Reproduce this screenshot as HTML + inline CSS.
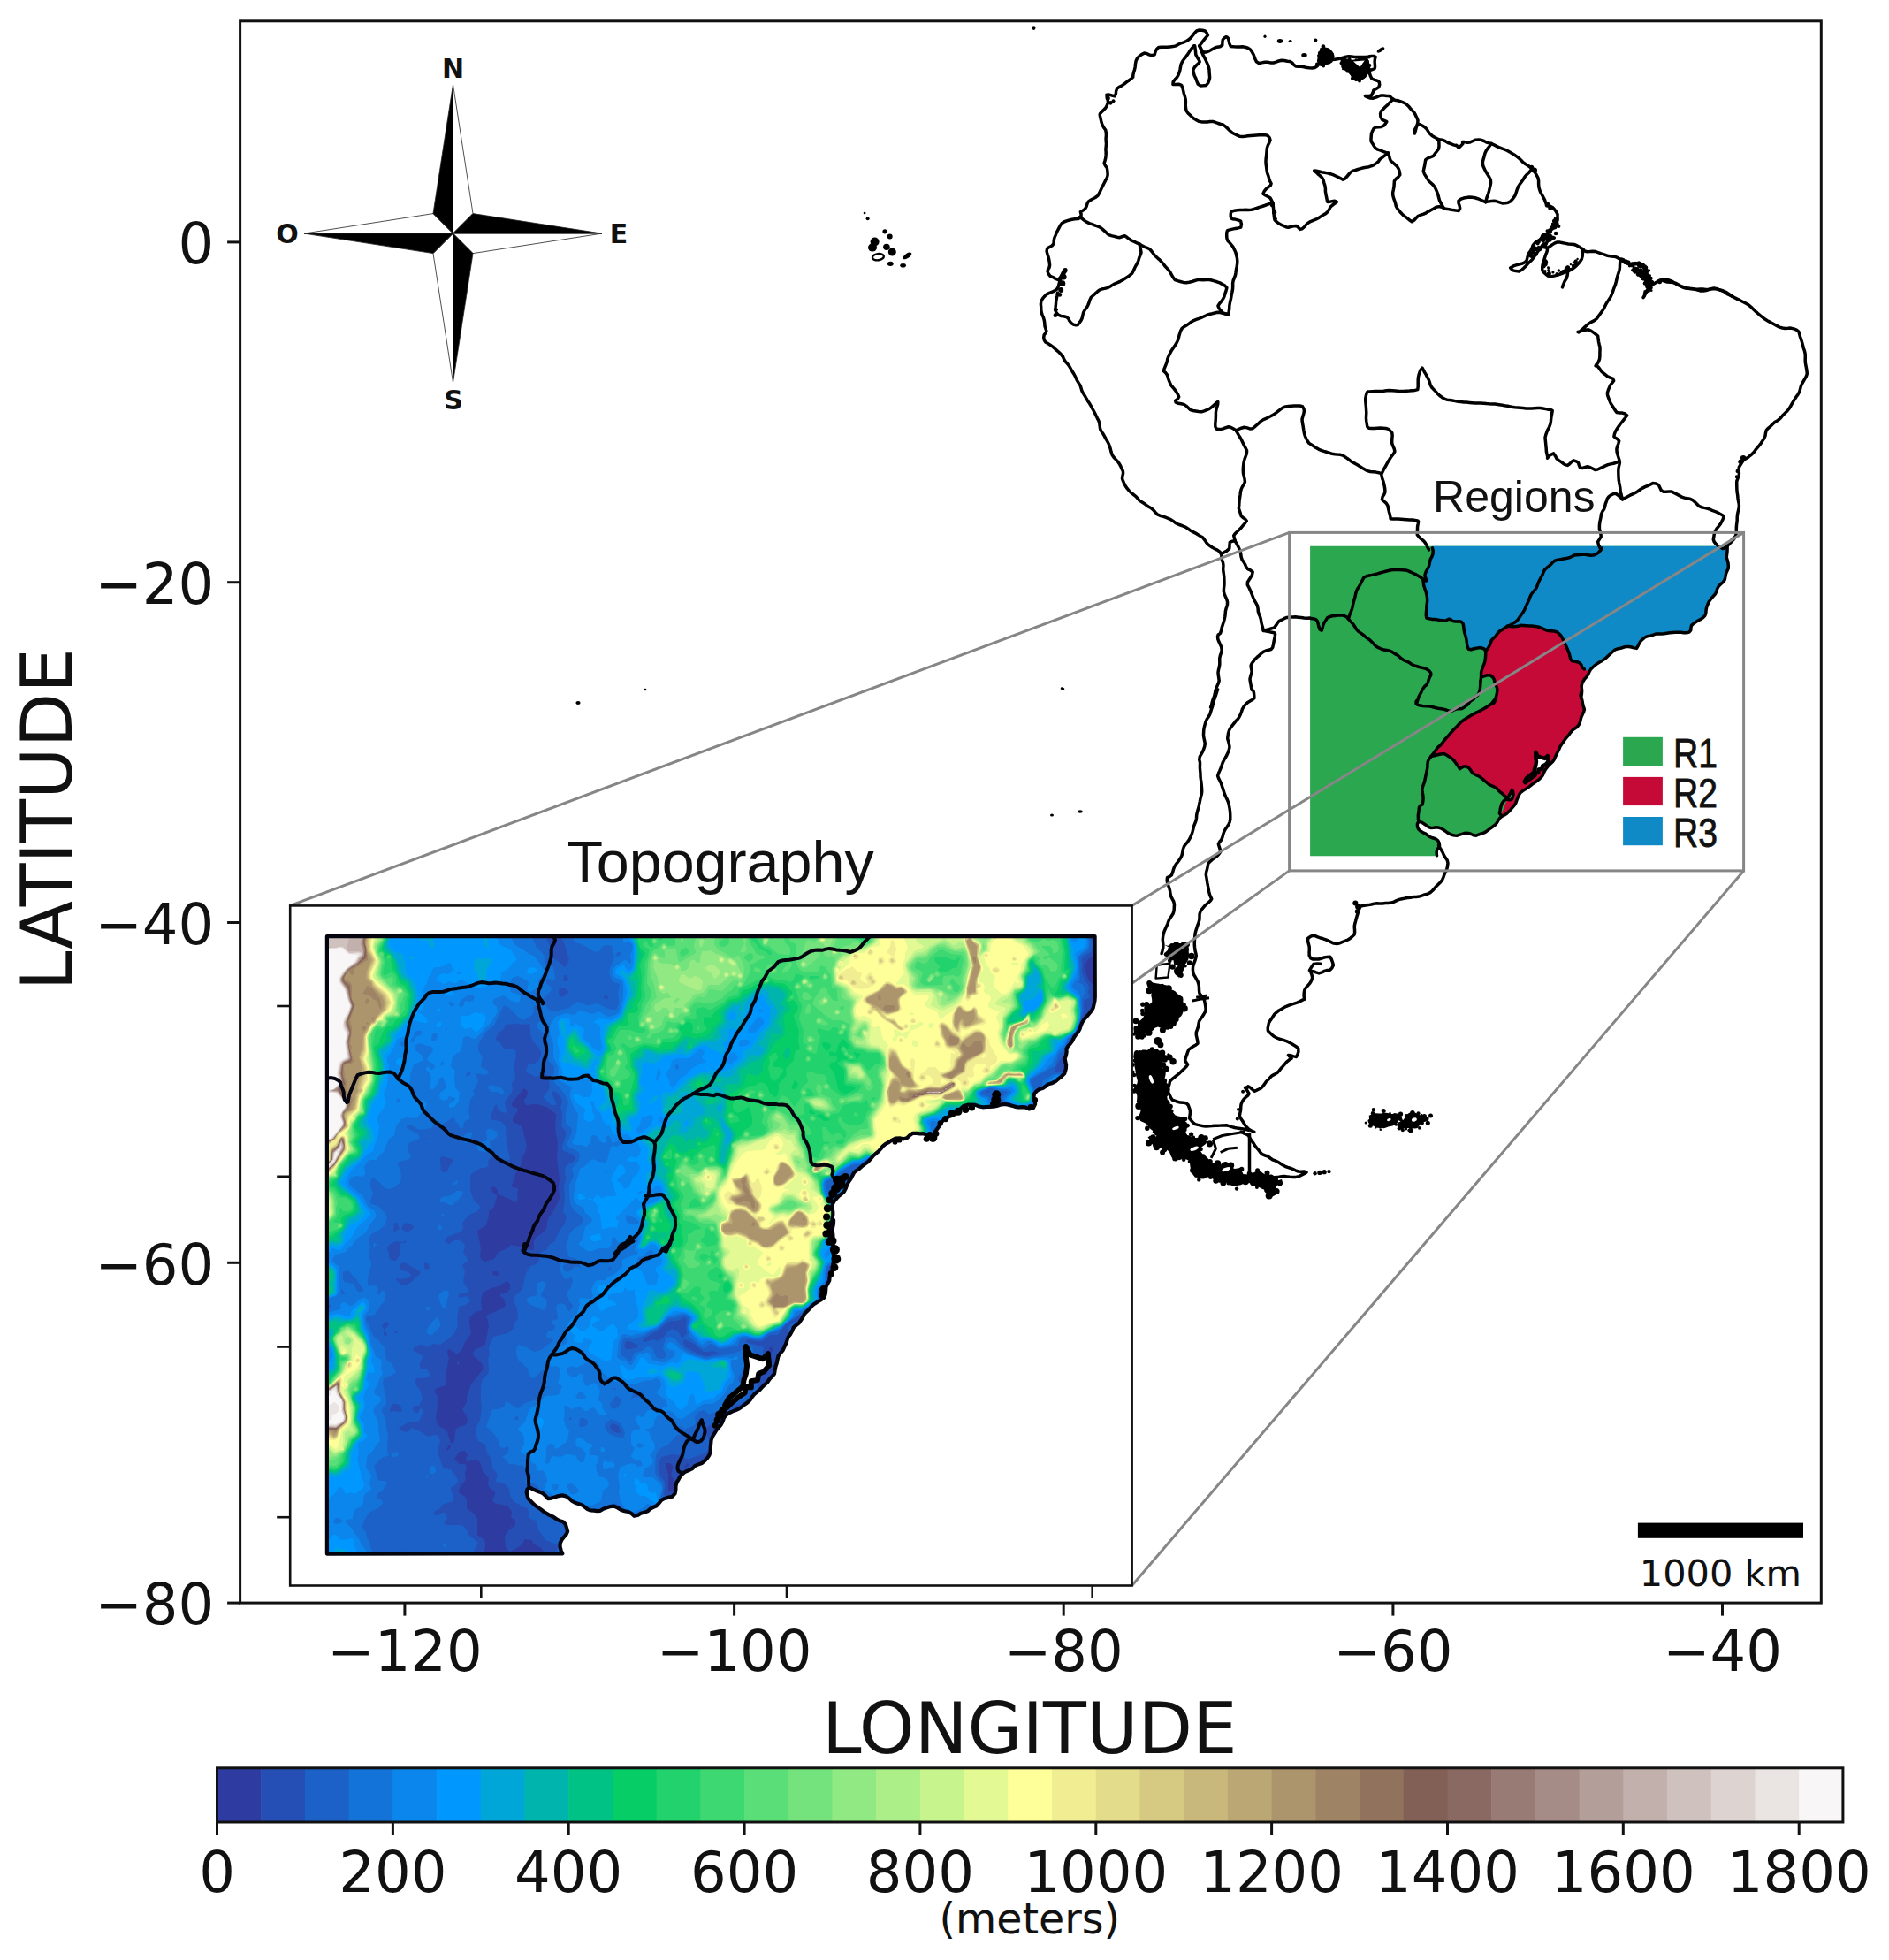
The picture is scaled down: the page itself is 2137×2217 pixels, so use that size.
<!DOCTYPE html>
<html><head><meta charset="utf-8"><title>Topography and Regions map</title>
<style>html,body{margin:0;padding:0;background:#fff}svg{display:block}.dj{font-family:"DejaVu Sans","Liberation Sans",sans-serif}.ar{font-family:"Liberation Sans","DejaVu Sans",sans-serif}</style></head><body>
<svg width="2137" height="2217" viewBox="0 0 2137 2217">
<rect width="2137" height="2217" fill="#fff"/>
<g id="regions"><polygon points="1482.1,617.8 1954.1,617.8 1954.1,617.8 1954.1,620.9 1954.0,624.1 1953.6,627.3 1953.2,630.3 1954.1,633.2 1954.9,636.3 1955.3,639.5 1955.2,643.1 1953.7,646.2 1952.5,649.2 1951.9,652.5 1951.2,655.8 1949.3,658.5 1946.7,660.7 1944.3,663.1 1942.7,665.9 1941.8,669.0 1940.5,671.9 1938.3,674.3 1936.2,676.7 1934.3,679.3 1932.6,681.8 1931.6,684.6 1930.5,687.5 1930.0,690.6 1929.8,693.7 1928.9,696.3 1926.7,698.5 1924.1,700.4 1921.3,701.8 1918.6,703.5 1916.0,705.2 1913.6,707.4 1912.9,710.2 1912.8,712.8 1910.9,715.1 1908.0,715.8 1904.8,715.7 1901.7,715.3 1898.5,715.2 1895.3,715.2 1892.1,715.4 1888.9,715.8 1885.7,716.3 1882.6,716.8 1879.4,717.1 1876.2,717.0 1873.1,717.1 1870.1,718.2 1867.0,719.1 1863.8,719.7 1860.8,721.0 1858.3,723.1 1856.0,725.3 1854.4,727.9 1853.1,730.6 1851.5,733.4 1848.6,732.9 1845.6,732.0 1842.5,731.6 1839.5,731.4 1836.5,732.3 1833.4,733.2 1830.2,733.8 1827.1,734.9 1824.6,737.0 1822.2,739.2 1819.9,741.3 1817.5,743.6 1815.0,745.6 1812.3,747.4 1809.5,749.0 1806.8,750.7 1804.3,752.6 1801.9,754.7 1799.6,757.0 1798.0,759.8 1796.7,762.8 1794.9,765.6 1792.8,767.8 1791.2,770.2 1789.8,773.0 1789.1,776.1 1789.4,779.3 1789.5,782.5 1788.7,785.6 1788.6,788.8 1789.5,791.4 1789.0,790.8 1788.9,788.0 1789.4,784.8 1789.6,781.8 1789.7,781.1 1788.6,783.6 1788.1,786.8 1789.2,789.8 1790.0,792.9 1790.5,796.1 1791.4,799.2 1792.4,802.2 1791.6,805.3 1790.2,808.2 1788.9,810.9 1788.1,814.2 1787.4,817.2 1786.0,820.0 1783.9,822.6 1781.3,824.2 1778.8,826.1 1776.7,828.6 1774.8,831.3 1772.7,833.7 1770.6,836.2 1768.8,838.9 1766.9,841.5 1765.1,844.2 1763.9,847.2 1762.5,850.0 1761.0,852.8 1759.7,855.7 1758.5,858.7 1756.6,861.4 1754.2,863.7 1751.9,865.9 1749.9,868.3 1748.0,870.9 1746.6,873.8 1745.3,876.9 1743.3,879.5 1740.9,881.6 1738.4,883.6 1735.7,885.5 1733.1,887.4 1730.6,889.4 1728.0,891.3 1725.3,892.9 1722.7,894.6 1720.0,896.6 1718.3,899.4 1717.0,902.4 1715.8,905.4 1714.8,908.3 1713.2,910.9 1711.1,913.2 1709.1,915.6 1706.9,918.1 1704.6,920.3 1701.9,922.0 1699.0,923.4 1696.6,925.4 1694.9,928.2 1693.3,930.9 1691.2,933.2 1688.8,935.0 1686.3,936.8 1683.8,938.7 1681.3,940.6 1678.5,942.1 1675.6,943.0 1672.7,944.0 1670.0,945.2 1667.2,944.8 1664.3,943.5 1661.2,942.4 1657.8,942.3 1654.7,943.1 1651.6,944.2 1648.6,945.2 1645.4,945.0 1642.2,944.3 1639.3,942.9 1636.6,941.2 1634.0,939.3 1631.2,937.5 1628.2,936.3 1624.9,935.8 1621.8,936.3 1618.6,936.4 1615.9,935.5 1613.6,933.6 1610.9,931.7 1608.1,930.1 1604.9,929.2 1603.4,931.9 1603.5,934.9 1604.5,937.8 1606.9,940.0 1609.5,941.6 1612.3,942.8 1615.0,944.7 1617.6,946.6 1620.6,947.8 1623.9,948.7 1626.6,950.7 1628.2,953.6 1628.5,956.5 1627.0,959.4 1625.4,961.9 1625.1,964.7 1625.5,967.8 1625.5,968.3 1482.1,968.3" fill="#2ba84f"/>
<polygon points="1620.3,617.8 1954.1,617.8 1954.1,617.8 1954.1,620.9 1954.0,624.1 1953.6,627.3 1953.2,630.3 1954.1,633.2 1954.9,636.3 1955.3,639.5 1955.2,643.1 1953.7,646.2 1952.5,649.2 1951.9,652.5 1951.2,655.8 1949.3,658.5 1946.7,660.7 1944.3,663.1 1942.7,665.9 1941.8,669.0 1940.5,671.9 1938.3,674.3 1936.2,676.7 1934.3,679.3 1932.6,681.8 1931.6,684.6 1930.5,687.5 1930.0,690.6 1929.8,693.7 1928.9,696.3 1926.7,698.5 1924.1,700.4 1921.3,701.8 1918.6,703.5 1916.0,705.2 1913.6,707.4 1912.9,710.2 1912.8,712.8 1910.9,715.1 1908.0,715.8 1904.8,715.7 1901.7,715.3 1898.5,715.2 1895.3,715.2 1892.1,715.4 1888.9,715.8 1885.7,716.3 1882.6,716.8 1879.4,717.1 1876.2,717.0 1873.1,717.1 1870.1,718.2 1867.0,719.1 1863.8,719.7 1860.8,721.0 1858.3,723.1 1856.0,725.3 1854.4,727.9 1853.1,730.6 1851.5,733.4 1848.6,732.9 1845.6,732.0 1842.5,731.6 1839.5,731.4 1836.5,732.3 1833.4,733.2 1830.2,733.8 1827.1,734.9 1824.6,737.0 1822.2,739.2 1819.9,741.3 1817.5,743.6 1815.0,745.6 1812.3,747.4 1809.5,749.0 1806.8,750.7 1804.3,752.6 1801.9,754.7 1799.6,757.0 1798.0,759.8 1796.7,762.8 1794.9,765.6 1792.8,767.8 1791.2,770.2 1789.8,773.0 1789.1,776.1 1789.4,779.3 1789.5,782.5 1788.7,785.6 1788.6,788.8 1789.5,791.4 1789.0,790.8 1788.9,788.0 1789.4,784.8 1789.6,781.8 1789.7,781.1 1788.6,783.6 1788.1,786.8 1789.2,789.8 1790.0,792.9 1790.5,796.1 1791.4,799.2 1792.4,802.2 1791.6,805.3 1790.2,808.2 1788.9,810.9 1788.1,814.2 1787.4,817.2 1786.0,820.0 1783.9,822.6 1781.3,824.2 1778.8,826.1 1776.7,828.6 1774.8,831.3 1772.7,833.7 1770.6,836.2 1768.8,838.9 1766.9,841.5 1765.1,844.2 1763.9,847.2 1762.5,850.0 1761.0,852.8 1759.7,855.7 1758.5,858.7 1756.6,861.4 1754.2,863.7 1751.9,865.9 1749.9,868.3 1748.0,870.9 1746.6,873.8 1745.3,876.9 1743.3,879.5 1740.9,881.6 1738.4,883.6 1735.7,885.5 1733.1,887.4 1730.6,889.4 1728.0,891.3 1725.3,892.9 1722.7,894.6 1720.0,896.6 1718.3,899.4 1717.0,902.4 1715.8,905.4 1714.8,908.3 1713.2,910.9 1711.1,913.2 1709.1,915.6 1706.9,918.1 1704.6,920.3 1701.9,922.0 1699.0,923.4 1699.0,923.4 1698.2,922.2 1696.4,920.2 1697.0,917.5 1697.4,914.6 1698.1,911.6 1699.2,908.6 1701.1,906.1 1703.3,904.1 1706.4,904.2 1704.1,901.9 1701.6,899.8 1699.3,897.5 1697.0,895.9 1695.0,893.7 1692.7,891.2 1689.7,889.7 1686.7,888.5 1684.0,886.9 1681.6,884.8 1679.2,882.9 1676.8,880.8 1674.3,878.8 1671.4,877.3 1668.5,876.0 1665.9,874.4 1664.2,871.9 1662.2,869.2 1659.2,867.0 1655.7,867.0 1652.9,868.7 1651.5,869.7 1650.3,867.8 1648.4,865.1 1646.5,862.5 1644.6,859.9 1642.1,857.8 1639.5,855.9 1636.8,854.2 1634.1,852.8 1631.4,852.7 1628.3,853.2 1625.3,854.0 1622.2,854.7 1619.0,855.5 1619.0,855.5 1621.1,852.9 1623.0,850.3 1624.9,847.7 1626.9,845.2 1629.3,843.2 1631.5,840.7 1633.4,838.0 1635.5,835.5 1637.7,833.1 1639.8,830.6 1641.9,828.2 1644.1,825.8 1646.4,823.5 1648.7,821.2 1650.9,818.8 1653.2,816.4 1655.8,814.5 1658.5,812.7 1661.3,810.9 1664.1,809.2 1666.9,807.6 1669.8,806.2 1672.7,804.8 1675.6,803.2 1678.4,801.7 1681.3,800.1 1684.0,798.3 1686.6,796.5 1689.3,794.9 1691.3,792.5 1692.5,790.3 1690.7,791.7 1688.6,794.1 1687.1,796.5 1689.2,796.1 1691.0,793.5 1691.9,790.4 1692.7,787.2 1693.4,784.0 1693.9,780.7 1693.4,777.5 1691.9,774.6 1690.9,771.6 1690.3,768.4 1688.5,765.7 1685.8,763.8 1682.4,763.8 1679.2,764.7 1676.2,765.8 1674.9,770.5 1675.4,767.4 1675.6,764.1 1675.6,760.7 1676.4,757.6 1677.5,754.7 1678.7,751.7 1679.7,748.7 1680.3,745.6 1680.6,742.5 1680.7,739.5 1680.8,736.6 1679.2,734.2 1676.4,732.9 1673.5,732.6 1670.4,733.2 1667.4,733.8 1664.3,734.7 1661.4,734.2 1660.0,731.2 1659.5,727.9 1659.1,724.7 1658.5,721.6 1657.7,718.5 1656.7,715.4 1656.1,712.3 1655.8,709.1 1655.3,705.8 1653.1,703.2 1650.0,702.7 1646.8,703.0 1643.4,702.5 1641.0,700.5 1638.8,700.2 1636.0,701.7 1632.6,702.0 1629.4,701.6 1626.2,700.9 1623.1,700.6 1619.9,700.4 1616.7,699.8 1613.8,699.0 1613.3,696.3 1613.4,693.1 1613.7,689.9 1613.8,686.7 1614.2,683.5 1614.6,680.3 1614.6,677.1 1614.2,673.9 1613.5,670.8 1612.6,667.8 1611.5,664.8 1610.6,661.7 1610.2,658.5 1610.1,655.2 1612.7,657.0 1613.8,656.7 1612.8,653.8 1611.9,650.9 1612.6,648.1 1614.0,645.1 1615.8,642.2 1616.9,639.0 1617.5,635.6 1618.3,632.3 1620.0,629.4 1621.1,626.1 1621.2,622.7" fill="#0f8ac7"/>
<polygon points="1705.1,708.1 1708.3,708.5 1711.6,708.7 1714.8,708.6 1717.8,708.3 1720.1,707.3 1723.4,707.4 1726.7,707.7 1730.0,708.0 1733.3,708.1 1736.5,708.4 1739.7,709.0 1742.9,710.0 1746.0,711.3 1749.0,712.7 1752.0,713.6 1755.2,713.8 1758.4,714.1 1761.4,714.8 1763.7,716.8 1765.9,719.0 1767.4,721.7 1768.8,724.5 1770.1,727.4 1771.5,730.4 1772.8,733.3 1774.1,736.3 1775.3,739.3 1776.0,742.5 1776.8,745.5 1778.2,747.5 1781.1,748.1 1784.3,748.7 1787.1,750.0 1788.9,751.9 1789.8,754.8 1792.3,756.9 1798.0,759.8 1796.7,762.8 1794.9,765.6 1792.8,767.8 1791.2,770.2 1789.8,773.0 1789.1,776.1 1789.4,779.3 1789.5,782.5 1788.7,785.6 1788.6,788.8 1789.5,791.4 1789.0,790.8 1788.9,788.0 1789.4,784.8 1789.6,781.8 1789.7,781.1 1788.6,783.6 1788.1,786.8 1789.2,789.8 1790.0,792.9 1790.5,796.1 1791.4,799.2 1792.4,802.2 1791.6,805.3 1790.2,808.2 1788.9,810.9 1788.1,814.2 1787.4,817.2 1786.0,820.0 1783.9,822.6 1781.3,824.2 1778.8,826.1 1776.7,828.6 1774.8,831.3 1772.7,833.7 1770.6,836.2 1768.8,838.9 1766.9,841.5 1765.1,844.2 1763.9,847.2 1762.5,850.0 1761.0,852.8 1759.7,855.7 1758.5,858.7 1756.6,861.4 1754.2,863.7 1751.9,865.9 1749.9,868.3 1748.0,870.9 1746.6,873.8 1745.3,876.9 1743.3,879.5 1740.9,881.6 1738.4,883.6 1735.7,885.5 1733.1,887.4 1730.6,889.4 1728.0,891.3 1725.3,892.9 1722.7,894.6 1720.0,896.6 1718.3,899.4 1717.0,902.4 1715.8,905.4 1714.8,908.3 1713.2,910.9 1711.1,913.2 1709.1,915.6 1706.9,918.1 1704.6,920.3 1701.9,922.0 1699.0,923.4 1699.0,923.4 1698.2,922.2 1696.4,920.2 1697.0,917.5 1697.4,914.6 1698.1,911.6 1699.2,908.6 1701.1,906.1 1703.3,904.1 1706.4,904.2 1704.1,901.9 1701.6,899.8 1699.3,897.5 1697.0,895.9 1695.0,893.7 1692.7,891.2 1689.7,889.7 1686.7,888.5 1684.0,886.9 1681.6,884.8 1679.2,882.9 1676.8,880.8 1674.3,878.8 1671.4,877.3 1668.5,876.0 1665.9,874.4 1664.2,871.9 1662.2,869.2 1659.2,867.0 1655.7,867.0 1652.9,868.7 1651.5,869.7 1650.3,867.8 1648.4,865.1 1646.5,862.5 1644.6,859.9 1642.1,857.8 1639.5,855.9 1636.8,854.2 1634.1,852.8 1631.4,852.7 1628.3,853.2 1625.3,854.0 1622.2,854.7 1619.0,855.5 1619.0,855.5 1621.1,852.9 1623.0,850.3 1624.9,847.7 1626.9,845.2 1629.3,843.2 1631.5,840.7 1633.4,838.0 1635.5,835.5 1637.7,833.1 1639.8,830.6 1641.9,828.2 1644.1,825.8 1646.4,823.5 1648.7,821.2 1650.9,818.8 1653.2,816.4 1655.8,814.5 1658.5,812.7 1661.3,810.9 1664.1,809.2 1666.9,807.6 1669.8,806.2 1672.7,804.8 1675.6,803.2 1678.4,801.7 1681.3,800.1 1684.0,798.3 1686.6,796.5 1689.3,794.9 1691.3,792.5 1692.5,790.3 1690.7,791.7 1688.6,794.1 1687.1,796.5 1689.2,796.1 1691.0,793.5 1691.9,790.4 1692.7,787.2 1693.4,784.0 1693.9,780.7 1693.4,777.5 1691.9,774.6 1690.9,771.6 1690.3,768.4 1688.5,765.7 1685.8,763.8 1682.4,763.8 1679.2,764.7 1676.2,765.8 1674.9,770.5 1675.4,767.4 1675.6,764.1 1675.6,760.7 1676.4,757.6 1677.5,754.7 1678.7,751.7 1679.7,748.7 1680.3,745.6 1680.6,742.5 1680.7,739.5 1680.8,736.6 1681.7,735.5 1683.6,732.8 1685.1,730.0 1686.3,727.0 1687.5,724.0 1689.7,721.7 1692.1,719.5 1693.9,716.8 1695.9,714.5 1698.5,712.7 1701.2,711.0 1703.8,709.4 1706.6,708.0" fill="#c50a37"/>
<polygon points="1737.3,850.8 1739.9,855.6 1747.6,858.0 1750.8,855.0 1751.4,861.5 1748.2,865.1 1745.0,866.3 1744.4,869.9 1740.5,870.4 1740.5,874.0 1737.3,873.4 1736.7,877.0 1732.2,880.0 1728.3,882.9 1725.8,885.3 1724.5,884.1 1727.1,880.0 1731.5,876.4 1735.4,873.4 1736.0,869.9 1737.3,866.3 1738.0,861.5 1737.3,856.8" fill="#fff"/>
<polygon points="1705.2,903.1 1706.9,900.4 1708.4,897.6 1709.9,894.9 1710.4,893.3 1711.5,895.2 1712.1,898.1 1711.5,901.0 1710.5,903.8 1708.1,904.8 1705.8,904.3 1703.3,904.1 1701.1,906.1 1699.2,908.6 1698.1,911.6 1697.4,914.6 1697.0,917.5 1696.4,920.2 1698.2,922.2" fill="#2ba84f"/></g>
<g id="mainmap"><g fill="none" stroke="#000" stroke-width="3.5" stroke-linejoin="round" stroke-linecap="round">
<polyline points="1202.4,403.3 1200.3,400.8 1198.1,398.5 1195.6,396.4 1193.2,394.2 1190.9,392.1 1188.2,390.2 1185.5,388.6 1182.8,387.0 1181.3,384.6 1180.7,381.7 1181.2,378.9 1183.0,376.5 1183.9,374.5 1183.0,371.9 1182.0,368.9 1181.8,365.6 1181.3,362.3 1180.4,359.2 1179.2,356.3 1178.2,353.4 1177.9,350.4 1177.7,347.2 1177.4,344.0 1177.9,340.6 1179.6,337.7 1181.7,335.2 1184.2,332.8 1187.3,331.3 1190.3,330.1 1193.1,328.8 1195.5,327.3 1197.0,325.0 1197.8,322.2 1198.6,319.2 1199.7,316.3 1201.0,313.5 1202.9,310.7 1204.6,307.8 1205.6,305.0 1203.8,305.5 1202.4,308.2 1201.0,311.2 1199.4,314.1 1196.8,316.4 1193.8,315.2 1191.1,313.6 1188.2,312.4 1186.2,309.9 1185.1,307.2 1185.4,305.3 1187.0,302.9 1187.6,299.8 1187.2,296.6 1186.7,293.4 1185.9,290.3 1184.8,287.2 1184.1,284.1 1184.7,281.0 1187.2,279.5 1190.0,278.0 1192.1,275.6 1192.2,272.3 1192.8,269.1 1194.1,266.1 1195.2,263.3 1196.6,260.5 1198.1,257.7 1199.4,255.0 1201.1,252.8 1203.7,251.0 1206.7,249.9 1209.7,249.0 1212.8,248.3 1216.0,247.8 1219.5,247.6 1223.1,245.7 1223.0,241.8 1222.4,239.7 1224.6,238.4 1227.4,236.5 1229.2,233.4 1230.1,230.1 1231.4,227.9 1233.5,226.6 1236.1,225.0 1239.1,223.5 1241.9,221.4 1243.6,218.4 1245.0,215.4 1246.4,212.5 1247.8,209.7 1249.3,206.8 1250.7,203.9 1252.3,201.1 1253.1,198.1 1253.0,194.9 1252.7,191.9 1252.2,189.7 1250.5,187.5 1249.1,184.7 1250.0,181.7 1250.8,178.6 1251.1,175.4 1251.2,172.3 1250.9,169.2 1251.2,165.9 1251.5,162.7 1251.2,159.6 1251.1,156.5 1251.4,153.3 1251.3,150.1 1250.7,147.0 1248.8,144.5 1247.2,141.6 1246.1,138.7 1245.4,135.7 1244.7,132.7 1244.2,130.0 1244.5,128.4 1246.1,126.8 1248.4,124.5 1250.8,122.0 1252.4,119.0 1253.5,115.7 1253.1,112.4 1252.2,109.4 1251.9,107.2 1254.8,107.1 1257.9,108.0 1261.0,108.8 1262.3,106.4 1262.6,103.2 1263.7,100.1 1266.4,98.2 1269.3,96.7 1272.0,94.9 1274.4,92.9 1277.0,91.0 1279.6,89.2 1281.7,87.3 1281.9,84.7 1282.6,81.6 1283.6,78.5 1284.2,75.5 1284.5,72.3 1285.1,69.0 1286.5,66.0 1288.9,63.6 1291.5,61.6 1294.4,60.1 1297.2,60.5 1299.9,61.9 1303.1,62.7 1306.2,61.8 1307.0,58.8 1308.4,55.8 1310.7,53.5 1314.0,53.2 1317.2,53.3 1320.5,53.2 1323.7,52.9 1327.0,52.6 1330.2,51.9 1333.1,50.3 1336.0,48.8 1339.1,47.8 1342.2,46.5 1344.9,44.8 1347.3,42.6 1349.4,40.0 1351.4,37.4 1353.7,35.0 1356.8,33.9 1360.2,34.2 1363.3,35.0 1365.3,37.4 1366.4,39.9 1364.7,41.8 1362.8,44.1 1360.8,46.6 1358.9,49.2 1356.9,51.8"/>
<polyline points="1356.9,51.8 1358.5,54.5 1360.0,57.3 1362.2,59.3 1365.6,58.7 1368.6,57.4 1371.2,55.7 1374.0,54.2 1377.0,53.2 1380.2,52.7 1382.8,51.1 1382.9,47.7 1383.3,44.8 1385.0,42.9 1386.9,41.7 1388.1,41.9 1389.5,43.5 1390.1,45.9 1390.7,48.9 1392.3,52.4 1396.0,52.8 1399.3,53.0 1402.4,53.1 1405.4,52.8 1408.5,53.3 1411.7,54.2 1414.4,55.9 1416.3,58.6 1417.9,61.4 1418.9,64.0 1419.9,66.7 1421.4,69.8 1424.1,71.5 1427.5,70.9 1430.7,70.2 1433.9,70.3 1437.1,70.9 1440.4,71.1 1443.5,70.2 1446.6,69.0 1449.8,68.2 1453.0,68.5 1456.3,69.3 1459.2,69.5 1461.5,70.7 1463.5,73.1 1465.8,74.9 1469.0,75.2 1472.2,75.3 1475.3,75.8 1478.2,76.6 1481.1,76.8 1484.3,76.9 1487.5,76.4 1490.2,74.8 1492.2,72.1 1494.1,69.3 1497.0,67.9 1500.4,68.2 1503.7,68.1 1506.8,67.6 1510.0,67.2 1513.2,66.8 1516.3,66.0 1519.5,65.1 1522.6,64.2 1525.8,63.7 1529.1,64.0 1532.3,64.4 1535.5,64.5 1538.7,64.4 1541.9,64.5 1545.1,64.5 1548.3,64.0 1551.4,63.4 1554.6,63.4 1556.2,64.4 1555.4,66.8 1555.1,69.9 1555.4,73.1 1555.5,75.9 1555.2,77.5 1553.0,78.4 1549.8,79.6 1549.3,82.7 1550.4,85.9 1551.9,89.0 1555.1,90.4 1558.1,91.2 1560.3,92.8 1560.7,95.9 1559.6,98.8 1556.8,100.4 1553.9,102.1 1552.9,105.2 1551.5,107.8 1548.3,108.6 1545.3,108.5 1544.4,108.6 1547.0,109.9 1550.1,111.0 1553.5,111.2 1556.7,110.2 1559.6,108.9 1562.6,107.9 1565.7,108.1 1568.8,108.4 1571.6,108.5 1573.9,110.4 1576.3,112.7 1579.5,113.6 1582.6,114.1 1585.5,115.1 1588.5,116.3 1591.2,118.0 1593.5,120.2 1595.5,122.7 1597.7,125.0 1599.9,127.4 1601.4,130.2 1602.8,133.2 1604.0,136.2 1603.8,139.4 1602.7,142.4 1601.9,145.5 1601.1,148.7 1600.4,151.0 1599.8,148.8 1600.9,145.9 1602.5,143.1 1604.4,140.7 1606.3,140.7 1608.9,142.0 1611.7,143.7 1614.0,145.9 1615.7,148.7 1617.6,151.2 1620.0,153.4 1622.9,155.2 1625.8,156.7 1628.7,158.2"/>
<polyline points="1351.6,51.8 1352.1,55.0 1352.5,58.3 1352.8,61.8 1354.3,64.8 1356.2,67.5 1357.2,70.0 1355.9,71.6 1353.7,73.5 1351.4,76.0 1349.8,79.2 1350.4,82.8 1351.3,85.8 1352.8,88.6 1353.9,91.8 1355.2,95.0 1357.9,96.9 1361.4,96.8 1364.6,96.4 1366.6,94.0 1367.8,91.0 1368.6,88.0 1368.4,85.0 1368.1,81.8 1368.0,78.6 1367.3,75.6 1366.1,72.5 1364.7,69.5 1363.4,66.6 1361.8,63.7 1360.4,60.9 1359.1,57.9 1358.1,54.8 1356.9,51.8"/>
<polyline points="1625.6,157.6 1628.9,157.9 1632.1,158.3 1635.1,159.7 1638.1,161.5 1641.3,162.7 1644.4,163.8 1647.2,164.7 1647.8,164.4 1650.3,167.4 1654.7,162.9 1654.6,160.6 1656.7,160.6 1659.9,161.2 1663.1,160.9 1666.2,159.5 1669.3,158.2 1672.5,157.9 1675.7,158.3 1678.8,159.5 1681.6,161.0 1684.6,161.9 1687.8,162.8 1690.7,164.1 1693.6,165.6 1696.5,167.0 1699.4,168.1 1702.3,169.2 1705.3,170.4 1707.9,171.9 1710.4,173.6 1713.3,175.3 1716.0,177.1 1718.5,179.1 1720.8,181.2 1723.0,183.6 1725.6,185.5 1728.4,187.2 1731.0,189.0 1733.6,190.8 1735.5,193.0 1736.9,195.8 1738.5,198.5 1740.0,201.3 1740.6,204.5 1740.6,207.7 1740.8,211.1 1741.6,214.3 1742.7,217.3 1744.3,220.2 1745.9,223.1 1747.4,225.9 1748.5,229.0 1750.2,231.9 1753.3,233.2 1756.4,234.5 1758.6,236.9 1760.5,239.6 1762.0,242.4 1762.0,245.6 1761.9,248.8 1761.3,251.8 1759.7,254.4 1758.1,256.8 1756.3,258.8 1754.1,260.8 1751.7,263.0 1749.1,264.8 1746.5,266.7 1744.2,269.0 1741.8,271.1 1739.1,273.0 1736.4,274.8 1734.2,277.4 1733.1,280.5 1731.7,283.4 1729.8,286.1 1728.4,289.0 1727.7,292.2 1726.9,295.2 1724.3,297.1 1721.4,298.3 1718.3,299.1 1715.2,299.9 1712.1,300.9 1708.7,303.0 1711.6,305.9 1714.8,306.6 1718.4,306.9 1721.5,305.2 1724.0,303.0 1726.3,300.7 1728.5,298.3 1730.8,296.1 1733.2,293.8 1735.1,291.3 1736.8,288.6 1738.7,285.9 1740.5,283.3 1742.6,280.8 1744.7,279.2 1747.4,279.8 1750.6,280.5"/>
<polyline points="1750.6,280.5 1753.3,278.7 1755.9,276.9 1758.7,275.1 1761.7,273.9 1764.9,274.1 1768.1,274.8 1771.2,275.4 1774.2,276.0 1777.5,276.2 1780.7,276.5 1783.8,277.7 1786.6,279.3 1789.2,280.9 1790.4,283.2 1790.4,286.4 1790.2,289.8 1789.2,293.2 1787.4,296.0 1785.2,298.5 1782.8,301.2 1780.0,303.3 1777.2,305.2 1774.2,306.6 1771.1,307.8 1768.1,309.0 1765.1,310.0 1762.2,311.1 1759.0,311.9 1755.7,312.6 1752.6,313.2 1750.0,311.2 1747.4,309.0 1744.9,306.2 1744.7,302.3 1745.2,299.1 1746.2,296.0 1747.2,292.8 1748.1,289.7 1749.3,286.7 1750.3,283.7 1750.6,280.5"/>
<polyline points="1773.9,303.7 1773.6,307.6 1773.2,311.3 1772.3,314.8 1770.2,318.0 1768.7,321.4 1767.5,324.9"/>
<polyline points="1790.8,281.5 1792.6,284.0 1795.5,284.7 1798.7,284.5 1801.9,284.2 1805.0,284.5 1807.9,285.7 1810.8,286.7 1813.9,287.6 1816.9,288.7 1819.9,289.6 1823.1,290.0 1826.5,290.2 1829.5,291.3 1832.2,293.0 1835.0,294.6 1837.8,296.1 1840.6,297.7 1843.7,298.6 1846.8,298.7 1849.8,298.4 1853.1,298.7 1855.7,299.0 1857.3,300.6 1859.4,302.8 1861.4,305.2 1862.6,308.0 1863.3,311.1 1864.4,314.0 1865.9,316.9 1866.6,320.2 1866.2,323.5 1864.5,326.4 1862.7,329.1 1861.4,332.0 1860.2,335.0 1859.0,336.6 1860.1,334.6 1861.8,331.9 1863.3,329.1 1865.1,326.4 1867.2,323.8 1869.8,321.8 1872.6,320.1 1875.3,318.4 1878.2,316.9 1881.4,316.2 1884.8,316.3 1888.0,316.9 1891.1,318.1 1893.9,319.8 1896.7,321.4 1899.6,322.8 1902.5,324.0 1905.5,325.0 1908.5,326.1 1911.7,326.6 1914.9,326.8 1918.1,327.4 1921.2,328.2 1924.0,329.1 1927.0,329.0 1930.1,328.5 1933.2,327.6 1936.3,326.6 1939.6,326.1 1942.9,326.8 1945.9,328.1 1949.0,329.1 1952.0,330.1 1954.7,331.8 1957.4,333.7 1960.0,335.5"/>
<polyline points="1880.0,316.9 1883.0,318.1 1886.1,319.0 1889.4,319.2 1892.7,319.6 1895.7,320.4 1898.6,322.0 1901.3,323.8 1904.2,325.3 1907.3,326.1 1910.5,326.3 1913.7,326.6 1916.9,327.0 1920.1,327.2 1923.3,327.1 1926.5,327.1 1929.7,327.4 1932.9,327.3 1936.1,326.7 1939.3,326.6 1942.5,327.1 1945.7,327.9 1948.8,328.8 1951.5,330.6 1954.1,332.6 1957.0,333.9 1959.9,335.3 1962.7,336.9 1965.6,338.4 1968.5,339.7 1971.4,341.2 1974.3,342.7 1977.1,344.3 1979.8,346.2 1982.2,348.4 1984.5,350.7 1986.8,352.9 1989.2,355.0 1991.7,357.1 1994.2,359.1 1996.7,361.1 1999.4,362.7 2002.0,364.1 2004.6,365.5 2007.4,367.1 2010.3,368.7 2013.2,370.1 2016.4,371.0 2019.6,371.4 2022.8,371.3 2026.0,371.1 2029.2,371.9 2032.4,373.1 2035.0,375.4 2035.9,378.8 2036.8,381.9 2037.9,384.9 2038.8,388.0 2039.6,391.1 2040.5,394.2 2041.5,397.2 2042.2,400.4 2042.3,403.6 2042.2,406.9 2042.3,410.0 2042.9,413.2 2043.5,416.4 2044.0,419.5 2044.3,422.8 2043.3,425.9 2041.7,428.7 2040.0,431.6 2038.4,434.4 2037.2,437.3 2036.5,440.3 2035.6,443.4 2034.0,446.2 2032.1,448.8 2030.5,451.3 2028.9,453.8 2027.2,456.6 2025.7,459.5 2024.0,462.2 2022.0,464.8 2019.7,467.0 2017.4,469.2 2015.3,471.7 2013.1,474.0 2010.5,475.9 2007.7,477.6 2005.3,479.7 2003.1,482.0 2000.6,484.1 1998.3,486.4 1997.5,489.6 1997.0,492.9 1995.8,495.8 1994.0,498.5 1992.2,501.3 1990.2,503.8 1988.1,506.3 1986.1,508.7 1984.3,511.3 1982.3,513.3 1979.9,515.3 1977.4,517.5 1974.7,518.8 1972.5,520.5 1970.7,523.1 1969.0,525.8 1967.3,528.5 1967.0,531.6 1967.4,534.9 1967.2,538.1 1966.0,541.1 1964.8,544.2 1964.7,547.4 1964.8,550.6 1964.9,553.8 1965.2,557.0 1965.7,560.2 1966.0,563.4 1966.5,566.6 1967.2,569.7 1967.4,572.9 1966.9,576.0 1966.1,579.1 1965.5,582.2 1965.2,585.4 1965.2,588.7 1964.8,591.9 1964.4,595.1 1964.3,598.3 1964.3,601.5 1963.9,604.8 1962.8,607.9 1960.8,610.6 1958.6,613.0 1956.3,615.2 1954.1,617.6"/>
<polyline points="1202.4,403.3 1203.6,406.3 1205.3,409.0 1207.5,411.4 1209.5,414.0 1211.1,416.7 1212.7,419.5 1214.4,422.2 1216.0,425.0 1217.4,427.9 1218.8,430.9 1220.5,433.6 1222.2,436.2 1223.1,439.2 1224.0,442.2 1225.5,445.1 1227.3,447.8 1228.9,450.6 1230.5,453.4 1232.4,456.1 1234.0,458.8 1235.5,461.7 1237.1,464.5 1238.6,467.3 1240.0,470.2 1241.4,473.1 1242.9,476.0 1243.8,479.1 1244.2,482.3 1244.7,485.4 1246.1,488.2 1248.0,490.8 1249.6,493.6 1251.0,496.4 1252.7,499.2 1254.2,502.0 1255.4,505.0 1256.3,508.1 1257.1,511.3 1258.1,514.5 1260.0,517.2 1262.2,519.6 1264.4,522.0 1266.3,524.6 1267.8,527.4 1269.1,530.4 1270.4,532.8 1270.6,535.3 1269.9,538.4 1269.5,541.4 1270.6,544.3 1271.9,547.2 1273.4,550.0 1275.3,552.7 1277.3,555.1 1279.5,557.4 1282.2,559.3 1284.8,561.3 1286.9,563.7 1289.0,566.1 1291.6,567.8 1294.3,569.4 1296.8,571.4 1299.5,573.3 1302.3,574.8 1304.8,576.8 1306.9,579.4 1309.2,581.8 1312.2,583.2 1315.4,584.1 1318.5,585.2 1321.5,586.3 1324.4,587.6 1327.1,589.4 1329.7,591.4 1332.5,592.9 1335.5,594.0 1338.6,595.1 1341.5,596.4 1344.2,598.3 1346.8,600.2 1349.6,601.6 1352.5,603.1 1355.2,604.8 1358.0,606.4 1360.8,608.1 1362.7,610.6 1364.5,613.3 1366.4,615.7 1368.9,617.5 1371.5,619.2 1374.3,620.8 1377.2,622.1 1379.9,624.1 1381.8,626.9 1381.9,630.3 1382.5,633.5 1383.6,636.6 1384.0,639.8 1383.7,643.1 1383.9,646.3 1384.4,649.5 1384.8,652.6 1384.9,655.9 1385.0,659.1 1384.9,662.3 1384.5,665.5 1384.3,668.8 1385.1,671.9 1386.4,674.9 1387.8,677.9 1388.6,681.2 1388.4,684.7 1387.2,688.0 1386.4,691.1 1386.2,694.3 1385.8,697.5 1385.1,700.7 1384.2,703.8 1383.2,706.9 1382.2,709.9 1381.6,713.1 1380.5,716.4 1378.2,718.0 1377.5,719.8 1377.8,722.8 1378.9,725.8 1380.3,728.8 1381.7,731.9 1382.2,735.4 1381.3,738.8 1380.3,741.9 1379.7,745.0 1379.8,748.2 1379.8,751.4 1379.3,754.6 1378.5,757.6 1378.0,760.7 1378.3,763.8 1378.8,767.0 1379.2,770.0 1378.4,772.7 1377.1,775.6 1375.8,778.6 1374.8,781.7 1374.3,784.9 1373.5,788.0 1372.3,790.9 1371.4,793.7 1370.7,796.9 1369.6,800.0"/>
<polyline points="1377.6,780.0 1376.5,783.0 1375.5,786.1 1374.5,789.1 1373.4,792.1 1372.6,795.2 1371.8,798.4 1370.8,801.4 1369.8,804.5 1368.9,807.6 1367.4,810.4 1365.4,813.2 1364.1,816.1 1363.2,819.2 1362.4,822.3 1361.8,825.5 1361.6,828.8 1361.5,831.8 1362.0,834.9 1362.7,838.0 1363.3,841.3 1362.7,844.5 1361.6,847.6 1360.4,850.5 1358.9,853.2 1357.3,855.9 1356.7,859.1 1357.5,862.2 1357.5,865.4 1357.4,868.6 1357.7,871.8 1358.0,875.0 1358.0,878.3 1358.4,881.5 1358.9,884.6 1359.2,887.8 1359.5,891.0 1359.7,894.2 1359.5,897.3 1358.8,900.2 1358.0,903.2 1357.4,906.3 1356.7,909.5 1356.1,912.7 1355.2,915.8 1354.3,918.9 1353.7,922.0 1353.5,925.2 1353.0,928.4 1351.8,931.4 1350.6,934.4 1349.9,937.5 1349.1,940.7 1348.1,943.7 1346.8,946.7 1345.3,949.6 1343.5,952.3 1341.4,954.8 1339.5,957.4 1338.4,960.5 1337.8,963.6 1337.2,966.8 1336.0,969.8 1334.2,972.6 1332.4,975.2 1330.3,977.7 1328.6,980.4 1327.5,983.5 1326.6,986.7 1325.4,989.9 1322.7,991.7 1320.5,992.7 1320.2,995.3 1320.6,998.5 1321.7,1001.6 1322.8,1004.6 1323.6,1007.7 1324.0,1010.9 1324.7,1014.0 1326.2,1016.9 1327.8,1019.8 1328.5,1023.2 1328.3,1026.7 1328.1,1030.0 1327.2,1033.3 1325.3,1036.2 1323.4,1038.9 1322.0,1041.7 1321.0,1044.6 1319.8,1047.6 1318.4,1050.5 1317.1,1053.5 1316.2,1056.5 1315.6,1059.7 1315.3,1062.8 1315.6,1065.8 1315.9,1068.9 1315.8,1072.2 1315.0,1075.4 1314.1,1078.6"/>
<polyline points="1627.5,955.8 1628.8,958.7 1630.5,961.5 1632.2,964.3 1633.4,967.3 1635.2,970.1 1637.2,972.9 1638.0,976.3 1637.5,979.8 1636.8,983.1 1635.4,986.2 1634.0,989.1 1632.9,992.2 1631.6,995.3 1629.5,997.9 1627.2,1000.2 1624.9,1002.5 1622.7,1005.0 1620.5,1007.5 1618.0,1009.6 1614.9,1011.1 1611.6,1012.0 1608.5,1013.1 1605.4,1014.1 1602.1,1014.4 1598.8,1014.6 1595.6,1015.2 1592.5,1015.6 1589.3,1016.1 1586.1,1016.7 1583.0,1017.4 1579.9,1018.6 1576.9,1020.1 1573.8,1021.1 1570.6,1021.5 1567.3,1021.6 1564.1,1021.9 1560.9,1021.9 1557.6,1021.8 1554.4,1022.3 1551.3,1023.0 1548.1,1023.6 1544.9,1024.0 1541.7,1024.5 1539.3,1025.1 1538.1,1027.2 1537.2,1029.6 1536.3,1032.5 1535.3,1035.6 1534.4,1038.7 1533.6,1041.9 1532.7,1045.0 1532.2,1048.1 1532.5,1051.4 1532.6,1054.5 1532.1,1057.2 1530.1,1059.1 1527.6,1061.2 1524.9,1063.0 1522.0,1064.2 1518.9,1065.3 1515.8,1066.7 1512.4,1067.6 1508.9,1067.1 1505.8,1065.6 1502.8,1064.1 1499.9,1062.8 1496.8,1061.8 1493.7,1061.0 1490.7,1059.8 1487.8,1058.6 1484.9,1058.2 1482.1,1059.6 1479.6,1061.5 1479.6,1064.6 1480.4,1067.7 1481.2,1070.9 1481.3,1074.1 1481.1,1077.4 1481.2,1080.8 1482.6,1083.9 1485.4,1085.0 1488.6,1085.1 1491.8,1085.0 1495.0,1084.1 1498.0,1083.0 1501.2,1082.4 1504.8,1082.3 1506.4,1085.4 1507.5,1088.5 1508.4,1091.8 1506.8,1094.9 1504.5,1097.2 1501.5,1097.5 1498.4,1098.4 1495.4,1099.9 1492.1,1100.9 1488.8,1099.9 1485.8,1098.7 1483.0,1098.4 1482.8,1099.7 1483.9,1102.4 1484.7,1105.9 1483.5,1109.3 1481.9,1112.2 1479.7,1114.7 1477.4,1117.2 1475.7,1120.1 1475.2,1123.4 1475.1,1126.7 1475.7,1130.0"/>
<polyline points="1476.0,1130.0 1473.1,1131.4 1470.2,1132.8 1467.3,1134.1 1464.2,1135.1 1461.2,1136.1 1458.2,1137.1 1455.2,1138.3 1452.3,1139.8 1449.5,1141.4 1446.8,1143.0 1444.2,1145.0 1441.9,1147.1 1440.3,1149.4 1438.7,1152.0 1436.8,1154.6 1435.4,1157.2 1434.8,1160.0 1434.2,1163.0 1434.4,1165.9 1436.5,1168.0 1438.8,1170.2 1441.1,1172.3 1443.9,1173.8 1446.9,1175.0 1449.9,1175.9 1453.0,1176.8 1456.0,1177.9 1458.9,1179.3 1461.4,1180.7 1463.9,1182.3 1466.6,1183.9 1468.8,1186.1 1468.9,1189.5 1468.0,1192.7 1466.5,1195.5 1463.4,1194.9 1460.4,1193.8 1457.4,1193.6 1459.3,1195.4 1461.0,1197.4 1460.2,1197.8 1458.1,1199.1 1455.6,1201.1 1453.5,1203.7 1451.3,1206.2 1449.1,1208.5 1447.1,1211.1 1444.9,1213.5 1442.1,1215.1 1439.2,1216.6 1436.9,1218.8 1434.8,1221.3 1432.5,1223.3 1430.8,1225.9 1428.8,1228.5 1426.7,1230.7 1424.1,1232.0 1421.3,1233.3 1419.0,1234.3 1417.2,1232.7 1414.9,1230.6 1411.9,1228.8 1410.0,1232.1 1411.7,1234.8 1413.0,1237.2 1411.8,1239.1 1409.5,1241.0 1407.2,1243.3 1405.3,1246.1 1404.0,1249.4 1403.7,1252.8 1403.5,1256.2 1402.8,1259.3 1402.3,1262.3 1403.7,1265.2 1405.5,1267.8 1407.2,1270.5 1408.9,1273.2 1411.0,1275.6 1413.2,1277.7 1415.9,1279.0 1418.8,1280.3"/>
<polyline points="1404.0,1280.3 1406.9,1281.8 1409.9,1283.0 1412.7,1284.6 1414.2,1287.6 1415.9,1290.4 1417.9,1292.9 1419.6,1295.7 1421.6,1298.3 1423.7,1300.7 1425.6,1303.3 1427.9,1305.7 1431.2,1307.0 1434.4,1308.0 1437.0,1310.0 1439.6,1311.8 1442.7,1312.9 1445.6,1314.3 1448.3,1316.0 1451.0,1317.8 1453.9,1319.3 1456.7,1320.4 1459.5,1321.2 1462.5,1322.3 1465.5,1323.8 1468.6,1325.0 1471.8,1325.3 1475.1,1325.0 1478.1,1326.0 1475.3,1327.7 1472.3,1329.1 1469.3,1330.6 1466.0,1331.4 1462.6,1331.4 1459.3,1331.2 1456.1,1330.9 1453.0,1330.6 1450.0,1330.8 1446.9,1331.2 1443.7,1331.5 1440.5,1332.2 1437.4,1333.1 1434.1,1333.5 1431.0,1332.4 1428.1,1331.0 1425.0,1330.1 1421.6,1330.1 1418.4,1329.7 1415.4,1328.5 1412.5,1326.9"/>
<polyline points="1481.4,1097.6 1483.5,1094.2 1485.8,1090.6 1490.1,1090.1 1494.1,1090.2"/>
<polyline points="1413.5,1282.5 1413.5,1326.9"/>
<polyline points="1350.6,51.8 1348.5,54.3 1346.5,56.8 1344.8,59.6 1343.2,62.1 1341.4,64.6 1339.3,67.1 1337.5,69.8 1336.1,72.7 1335.5,75.9 1334.9,79.1 1334.1,82.2 1332.9,85.2 1331.3,87.8 1329.1,90.0 1327.2,92.6 1326.9,95.4 1330.1,95.4 1333.4,95.2 1336.6,96.4 1337.9,99.7 1338.7,102.9 1339.4,106.0 1340.4,109.1 1341.2,112.3 1341.4,115.6 1341.2,118.8 1341.5,122.1 1342.1,125.2 1343.9,127.9 1346.2,130.1 1348.4,132.3 1350.6,134.1 1353.3,135.7 1356.1,137.3 1359.3,137.9 1362.6,138.0 1365.8,138.0 1369.0,137.6 1372.1,137.4 1375.0,138.3 1378.0,139.5 1381.1,140.5 1384.0,141.3 1386.5,143.2 1388.9,145.4 1391.2,147.7 1393.6,149.9 1396.4,151.5 1399.3,152.9 1402.1,154.2 1405.3,154.4 1408.5,154.2 1411.7,153.8 1414.9,153.4 1418.2,153.2 1421.4,153.0 1424.6,152.8 1427.9,152.7 1431.0,152.6 1433.9,153.3 1436.1,155.6 1437.0,158.4 1435.9,161.4 1434.4,164.3 1433.4,167.3 1433.1,170.5 1432.8,173.7 1432.5,176.9 1432.1,180.0 1432.0,183.1 1432.2,186.3 1432.7,189.5 1433.1,192.7 1433.7,195.8 1434.8,198.8 1435.7,202.0 1436.7,205.0 1438.1,207.5 1437.4,209.7 1434.9,211.6 1432.4,213.6 1430.3,216.1 1428.9,219.2 1431.7,221.0 1434.5,222.5 1437.1,224.1 1438.5,226.7 1439.9,229.6"/>
<polyline points="1221.4,245.5 1224.2,247.3 1226.7,249.4 1229.4,251.2 1232.3,252.6 1235.4,253.6 1238.5,254.8 1241.5,256.0 1244.5,257.2 1247.1,259.2 1249.6,261.3 1251.9,263.6 1254.3,265.6 1257.3,266.6 1260.5,267.4 1263.6,268.3 1266.8,268.7 1269.9,267.5 1272.4,266.8 1274.8,268.3 1277.4,270.3 1280.2,272.2 1283.2,273.4 1286.2,274.8 1289.2,276.2"/>
<polyline points="1289.2,276.2 1289.7,279.4 1290.5,282.5 1291.0,285.7 1290.0,288.6 1288.8,291.5 1287.9,294.6 1286.7,297.6 1285.1,300.3 1283.6,303.2 1282.3,306.2 1280.7,309.1 1278.2,311.4 1275.6,313.2 1272.8,315.0 1270.1,316.8 1267.2,318.3 1264.3,319.6 1261.3,320.8 1258.5,322.4 1255.7,324.2 1252.8,325.6 1249.6,326.4 1246.5,327.0 1243.6,328.2 1241.1,330.2 1238.7,332.4 1236.4,334.4 1234.2,336.5 1232.9,339.4 1231.9,342.5 1230.7,345.5 1229.1,348.3 1227.1,350.9 1225.6,353.7 1224.8,356.9 1224.1,360.1 1222.7,362.9 1220.8,365.4 1219.3,367.6 1217.2,367.8 1214.4,367.1 1211.9,365.5 1209.9,362.9 1208.6,360.3 1206.4,358.5 1203.3,357.7 1200.1,357.4 1197.1,356.2 1195.0,353.6 1193.6,350.5 1194.1,347.2 1194.5,344.0 1194.7,340.8 1195.3,337.6 1195.9,334.5 1196.4,331.3"/>
<polyline points="1289.2,276.2 1292.0,277.8 1294.9,279.3 1297.8,280.4 1300.6,281.8 1302.8,284.2 1304.7,286.8 1306.7,289.3 1309.1,291.5 1311.5,293.6 1313.8,295.9 1315.9,298.3 1317.7,300.8 1319.9,303.1 1322.1,305.5 1323.9,308.1 1325.5,311.0 1327.1,313.8 1329.1,316.5 1332.2,317.6 1335.3,318.5 1338.6,319.4 1342.0,319.7 1345.3,319.2 1348.5,318.5 1351.6,317.5 1354.6,316.6 1357.6,316.6 1360.9,316.7 1364.1,316.5 1367.4,316.3 1370.6,317.0 1373.7,317.9 1376.8,318.8 1379.9,319.9 1382.8,321.5 1385.7,323.1 1387.9,325.4 1387.1,328.7 1386.0,331.8 1385.1,334.9 1383.7,337.9 1381.9,340.6 1379.8,343.1 1377.9,345.9 1379.2,349.0 1381.3,351.6 1383.7,353.9 1386.5,355.1 1389.8,355.6"/>
<polyline points="1389.8,355.6 1390.2,352.4 1390.7,349.3 1390.8,346.1 1391.3,342.9 1392.1,339.8 1392.7,336.6 1393.2,333.5 1393.9,330.3 1394.5,327.2 1394.7,324.0 1394.6,320.7 1395.1,317.5 1396.3,314.5 1397.5,311.4 1398.0,308.3 1398.4,305.1 1399.1,301.9 1399.6,298.8 1399.8,295.5 1399.5,292.2 1398.7,289.0 1398.0,285.9 1396.7,282.9 1395.3,279.9 1393.4,277.3 1391.3,274.8 1389.0,272.6 1387.9,269.5 1387.7,266.3 1387.8,263.1 1388.5,260.6 1391.3,259.9 1394.4,259.1 1397.5,258.4 1400.7,257.9 1403.8,257.0 1404.4,253.6 1403.6,250.2 1400.3,248.9 1397.2,248.1 1394.4,247.7 1392.7,246.9 1392.2,244.1 1392.3,241.2 1393.4,239.1 1396.4,238.2 1399.6,237.8 1402.8,237.6 1406.0,237.4 1409.2,237.3 1412.5,237.4 1415.7,237.2 1418.8,236.5 1421.7,235.5 1424.6,234.4 1427.7,233.5 1430.7,232.5 1433.7,231.4 1436.8,230.4 1439.9,229.6"/>
<polyline points="1389.8,355.6 1386.6,355.1 1383.4,354.4 1380.4,353.6 1377.4,353.2 1374.4,354.0 1371.3,354.8 1368.2,355.5 1365.2,356.5 1362.2,357.8 1359.4,359.2 1356.4,360.4 1353.3,361.4 1350.4,362.6 1347.6,364.2 1345.1,366.1 1342.5,367.9 1339.7,369.5 1337.2,371.3 1335.8,373.8 1334.8,376.7 1333.9,379.8 1333.2,383.0 1332.0,386.0 1330.5,388.8 1328.7,391.6 1326.8,394.2 1325.1,396.9 1323.6,399.7 1322.1,402.6 1320.9,405.6 1320.3,408.8 1319.2,411.8 1318.0,414.8 1316.9,417.7 1316.4,419.6 1318.2,421.2 1320.3,423.8 1321.3,427.1 1322.3,430.1 1323.5,433.0 1324.7,435.6 1326.6,437.9 1328.7,440.4 1330.6,443.0 1332.3,445.8 1333.7,448.9 1332.1,451.5 1329.6,453.1 1330.1,455.1 1333.1,456.3 1336.2,456.8 1339.3,457.4 1341.9,459.1 1344.2,461.3 1346.5,463.6 1349.6,464.5 1352.8,465.0 1355.9,465.5 1359.2,465.8 1362.3,464.8 1365.3,463.6 1368.3,462.3 1370.9,460.4 1373.3,458.2 1375.7,456.0 1377.8,454.5 1377.7,457.2 1376.8,460.3 1375.9,463.4 1375.4,466.6 1375.4,469.9 1375.3,473.1 1375.1,476.3 1374.8,479.6 1374.9,483.0 1376.9,485.6 1380.4,485.6 1383.7,484.9 1386.7,483.7 1389.8,482.8 1392.7,483.5 1395.5,485.1 1398.2,486.8"/>
<polyline points="1439.9,229.6 1440.3,232.8 1440.6,236.0 1440.9,239.2 1441.1,242.4 1441.4,245.6 1442.0,248.7 1444.2,250.9 1446.8,252.8 1449.6,254.4 1452.6,255.7 1455.3,256.9 1457.5,257.2 1460.2,256.5 1463.3,255.8 1466.5,255.4 1468.7,257.2 1470.7,259.4 1473.1,258.8 1475.5,256.7 1477.5,254.3 1479.8,252.2 1482.5,250.6 1485.5,249.4 1488.5,248.2 1491.4,246.7 1494.1,244.9 1496.8,243.2 1499.7,241.6 1502.2,239.4 1503.8,236.6 1505.0,234.2 1507.2,232.2 1509.8,230.4 1512.3,228.4 1509.9,227.2 1506.8,227.8 1503.8,228.4 1501.7,228.4 1501.2,226.0 1500.6,222.9 1499.9,219.7 1499.4,216.5 1499.4,213.3 1498.9,210.1 1497.9,207.0 1497.1,203.9 1495.7,201.1 1493.4,198.9 1490.9,196.8 1488.6,194.6 1486.8,193.0 1489.2,193.3 1492.4,194.0 1495.5,194.8 1498.7,195.3 1501.8,195.9 1504.9,196.7 1508.0,197.7 1510.9,199.0 1513.8,200.4 1516.7,201.8 1519.2,203.2 1521.4,202.3 1523.5,200.0 1525.6,197.5 1527.6,195.1 1530.1,193.4 1533.2,192.5 1536.2,191.5 1539.3,190.6 1542.4,189.8 1545.6,189.2 1548.8,188.7 1551.9,187.7 1554.8,186.1 1557.4,184.4 1559.5,182.7 1560.5,180.7 1562.9,178.8 1565.4,176.8 1568.1,175.1 1570.7,173.3"/>
<polyline points="1576.3,112.1 1574.0,114.3 1571.7,116.6 1569.4,118.9 1567.1,121.1 1564.8,123.4 1562.5,125.7 1561.6,128.7 1561.9,132.2 1563.5,135.3 1566.6,136.7 1568.8,137.7 1567.5,139.6 1565.5,142.2 1562.5,143.5 1559.3,143.8 1556.2,144.1 1554.0,145.5 1552.6,148.2 1551.5,151.1 1551.2,154.3 1551.0,157.4 1551.1,159.9 1552.6,162.2 1554.2,164.9 1556.0,167.6 1558.7,169.2 1561.8,170.2 1564.7,171.4 1567.6,172.4 1570.7,173.3"/>
<polyline points="1570.7,173.3 1571.6,176.4 1572.3,179.5 1573.5,182.2 1575.8,183.9 1578.1,186.1 1580.5,188.3 1582.3,191.1 1583.3,194.2 1583.8,197.7 1581.7,200.3 1579.2,202.4 1577.4,204.8 1577.2,207.9 1577.0,211.1 1576.4,214.3 1575.7,217.5 1575.7,220.7 1576.5,223.9 1577.6,226.9 1578.6,230.0 1579.3,233.1 1580.8,235.8 1582.8,238.3 1584.9,240.8 1587.1,243.1 1589.5,245.0 1592.1,246.9 1594.6,249.0 1597.2,250.7 1599.9,249.0 1602.1,246.6 1604.4,244.3 1607.4,243.1 1610.5,242.1 1613.4,240.8 1616.2,239.1 1619.1,237.5 1621.9,235.9 1624.7,234.2 1628.1,233.6 1631.3,234.3 1634.1,236.0"/>
<polyline points="1627.8,158.7 1627.9,161.9 1628.0,165.2 1627.5,168.5 1625.4,171.2 1623.4,173.8 1621.6,176.4 1618.7,177.7 1615.6,178.8 1612.8,180.6 1612.2,183.8 1611.7,187.0 1611.0,190.1 1610.3,193.4 1611.3,196.6 1613.0,199.4 1614.7,202.2 1616.4,204.8 1618.9,207.0 1621.2,209.1 1623.1,211.5 1624.4,214.2 1625.7,217.2 1626.8,220.2 1627.6,223.3 1628.4,226.4 1629.8,229.3 1631.4,232.1 1633.1,234.9"/>
<polyline points="1634.1,236.0 1637.3,236.4 1640.5,237.0 1643.7,237.6 1646.9,238.0 1650.2,238.4 1651.7,235.8 1651.1,232.6 1650.0,229.7 1650.0,227.1 1652.7,225.2 1655.8,224.1 1659.0,223.6 1662.2,223.1 1665.5,223.3 1668.7,223.8 1671.8,224.7 1674.8,226.0 1677.7,227.3 1680.7,228.6"/>
<polyline points="1687.1,162.3 1685.3,165.0 1683.3,167.6 1681.4,170.2 1680.0,173.2 1679.2,176.4 1678.3,179.5 1677.5,182.7 1677.3,185.9 1678.4,189.1 1679.8,192.0 1681.3,194.9 1683.0,197.5 1684.7,200.2 1686.3,203.2 1686.6,206.6 1686.0,209.9 1685.2,213.0 1684.5,216.2 1683.6,219.3 1682.4,222.3 1681.5,225.4 1680.7,228.6"/>
<polyline points="1680.7,228.6 1683.9,227.9 1687.2,227.5 1690.3,227.3 1693.3,227.8 1696.4,228.8 1699.5,229.9 1702.9,229.8 1706.0,229.2 1708.5,228.0 1710.6,225.8 1712.6,223.3 1714.3,220.5 1715.3,217.5 1716.3,214.3 1717.5,211.2 1719.3,208.4 1721.3,205.8 1723.2,203.0 1724.9,200.2 1727.0,197.7 1729.4,195.5 1731.6,193.0 1733.6,190.5"/>
<polyline points="1398.2,486.8 1401.2,485.5 1404.3,484.2 1407.6,483.3 1410.9,483.9 1413.9,484.9 1416.8,484.8 1419.3,482.9 1421.7,480.8 1424.1,478.6 1426.5,476.4 1429.3,474.6 1432.2,473.4 1435.1,472.0 1438.0,470.5 1440.7,468.9 1443.4,467.1 1445.9,465.2 1448.5,463.2 1451.1,461.2 1454.3,460.0 1457.6,459.6 1460.8,459.3 1464.0,459.1 1467.3,459.0 1470.5,459.0 1473.5,459.8 1475.0,462.4 1475.4,465.0 1474.8,467.9 1473.9,471.0 1473.0,474.2 1473.3,477.4 1473.9,480.6 1474.4,483.8 1474.9,487.0 1475.5,490.2 1476.4,493.3 1477.8,496.2 1479.3,499.1 1481.0,501.4 1483.5,503.0 1486.2,504.7 1488.9,506.5 1491.6,508.1 1494.5,509.3 1497.6,510.4 1500.6,511.3 1503.7,512.3 1506.8,513.2 1510.0,513.8 1513.2,514.1 1516.5,514.3 1519.7,515.3 1522.4,517.3 1525.0,519.2 1527.6,521.2 1530.2,523.0 1533.1,524.4 1535.9,526.0 1538.6,527.8 1541.3,529.5 1544.1,531.1 1547.0,532.6 1550.2,533.5 1553.4,533.8 1556.6,534.1 1559.8,534.7 1562.4,535.6 1563.1,538.1 1563.7,541.1 1564.8,544.1 1565.6,547.2 1566.3,550.4 1566.8,553.5 1566.9,556.6 1565.9,559.2 1564.1,561.8 1563.4,565.0 1566.0,567.3 1568.4,569.4 1570.0,572.1 1570.5,575.2 1571.3,578.4 1572.2,581.5 1572.9,584.6 1573.1,586.8 1575.3,587.0 1578.4,587.0 1581.7,587.1 1584.9,587.2 1588.1,587.4 1591.3,587.7 1594.5,588.0 1597.7,588.1 1600.9,588.5 1603.7,588.9 1604.6,589.7 1604.2,592.5 1603.6,595.6 1603.5,598.9 1603.4,602.1 1603.3,605.0 1605.3,607.4 1607.7,609.6 1610.1,611.4 1612.0,613.5 1613.6,616.1 1614.9,619.0 1616.5,621.9"/>
<polyline points="1398.2,486.8 1399.8,489.7 1401.4,492.5 1403.2,495.2 1404.7,498.0 1406.1,500.9 1407.5,503.9 1409.0,506.7 1410.6,509.8 1410.3,513.2 1409.1,516.3 1408.0,519.4 1407.1,522.6 1406.7,525.8 1406.4,529.0 1406.3,532.3 1406.5,535.5 1407.3,538.7 1408.0,541.8 1408.4,545.0 1407.3,547.8 1405.5,550.4 1404.2,553.4 1403.4,556.5 1403.1,559.5 1402.6,562.7 1402.1,565.9 1401.9,569.2 1401.7,572.4 1401.4,575.1 1402.2,577.5 1403.2,580.4 1404.0,583.4 1406.2,585.6 1408.8,587.2 1410.3,589.2 1408.5,591.8 1406.4,594.2 1404.3,596.7 1402.1,599.0 1399.7,601.2 1397.4,603.4 1395.7,605.7 1396.4,608.6 1397.2,611.8"/>
<polyline points="1397.2,611.8 1393.7,612.3 1391.3,613.3 1391.0,616.4 1390.8,620.4 1387.8,623.1 1384.6,624.9 1381.3,626.6"/>
<polyline points="1397.2,611.8 1398.8,614.6 1400.3,617.4 1401.8,620.3 1402.9,623.4 1403.7,626.5 1404.1,629.8 1405.1,632.9 1407.0,635.7 1408.6,638.5 1409.8,641.4 1411.6,643.6 1414.4,644.9 1417.2,647.0 1416.5,650.2 1414.9,653.0 1413.1,655.7 1411.4,658.5 1411.3,661.7 1412.9,664.5 1414.3,667.4 1415.5,670.4 1416.7,673.4 1417.9,676.4 1419.2,679.4 1420.9,682.2 1422.4,685.1 1423.1,688.3 1423.3,691.6 1424.3,694.7 1425.6,697.7 1426.4,700.8 1426.9,704.0 1427.6,707.1 1428.6,710.2 1429.3,713.4"/>
<polyline points="1429.3,713.4 1432.5,712.5 1435.7,711.7 1438.7,710.8 1441.4,710.1 1443.3,707.7 1445.0,705.0 1446.9,702.6 1449.8,701.2 1452.7,699.7 1455.8,698.4 1459.1,698.1 1462.3,698.0 1465.6,697.8 1468.8,698.2 1472.0,698.6 1475.3,699.0 1478.6,699.2 1481.9,699.0"/>
<polyline points="1429.3,713.4 1432.5,714.0 1435.6,714.6 1438.8,715.2 1441.6,715.8 1442.6,717.2 1442.2,720.0 1441.6,723.1 1441.0,726.2 1440.4,729.4 1439.7,732.4 1438.0,734.5 1435.1,735.2 1432.0,736.0 1429.1,737.4 1426.5,739.4 1424.2,741.7 1421.8,743.7 1419.5,745.8 1417.9,748.2 1416.1,750.5 1415.1,753.0 1415.5,756.1 1416.2,759.1 1415.7,761.8 1414.7,764.8 1414.0,768.0 1414.4,771.2 1415.0,774.3 1415.5,777.5 1416.1,780.4 1417.7,781.1 1418.5,783.8 1418.8,787.0 1418.9,789.7 1417.2,791.2 1414.5,792.8 1411.7,794.4 1409.3,796.6 1407.2,799.1 1405.5,801.9 1404.5,805.0 1403.4,808.0 1401.9,810.9 1400.2,813.4 1398.0,815.6 1396.1,818.2 1394.1,820.7 1392.1,823.2 1390.6,826.0 1389.6,829.1 1389.1,832.3 1388.7,835.4 1389.6,838.4 1390.4,841.5 1391.0,844.8 1390.3,848.1 1389.2,851.1 1387.9,854.1 1386.4,856.9 1384.7,859.7 1383.2,862.6 1382.2,865.6 1381.1,868.6 1379.9,871.6 1378.6,874.5 1377.6,877.6 1378.7,880.6 1380.2,883.5 1381.5,886.4 1382.5,889.4 1383.5,892.4 1384.5,895.5 1385.5,898.5 1386.8,901.5 1388.3,904.3 1389.5,907.3 1390.3,910.4 1390.9,913.6 1391.4,916.8 1391.7,920.0 1391.8,923.2 1391.8,926.5 1391.2,929.6 1389.9,932.6 1388.1,935.3 1386.2,938.0 1384.7,940.8 1383.7,943.9 1382.9,947.0 1381.7,950.0 1379.6,952.3 1378.4,954.7 1379.2,957.6 1380.2,960.6 1380.6,963.8 1378.8,966.2 1376.6,968.5 1374.1,970.4 1371.6,972.2 1369.1,974.3 1366.8,976.7 1366.2,980.0 1365.6,983.1 1364.7,986.2 1364.3,989.5 1364.9,992.8 1365.4,996.0 1365.9,999.1 1366.5,1002.3 1367.1,1005.4 1367.7,1008.6 1368.5,1011.8 1369.7,1014.8 1370.7,1016.8 1369.4,1018.7 1367.1,1020.9 1364.6,1023.0 1362.3,1025.3 1360.2,1027.8 1358.2,1030.6 1357.1,1033.8 1357.0,1037.1 1356.9,1040.3 1356.1,1043.4 1354.9,1046.4 1353.9,1049.5 1352.9,1052.6 1352.1,1055.8 1351.8,1059.0 1351.5,1062.2 1351.3,1065.4 1351.3,1068.8 1351.6,1072.0 1352.0,1075.2 1352.8,1078.3 1353.3,1081.2 1352.6,1084.1 1351.7,1087.2 1350.5,1090.2 1349.6,1093.3 1349.4,1096.5 1349.7,1099.7 1350.5,1102.4 1352.1,1105.0 1353.7,1107.8 1355.2,1110.7 1356.1,1113.9 1356.5,1117.1 1356.5,1120.4 1356.9,1123.5 1358.9,1126.0 1361.1,1128.4 1362.5,1131.3 1363.1,1134.5 1363.7,1137.7 1364.1,1141.0 1363.6,1144.2 1362.0,1147.0 1360.2,1149.7 1358.3,1152.4 1356.6,1155.2 1355.9,1158.4 1355.4,1161.6 1354.4,1164.6 1353.3,1167.6 1353.3,1170.8 1354.0,1174.0 1354.7,1177.1 1355.0,1180.2 1352.9,1182.0 1350.1,1183.6 1347.4,1185.3 1344.8,1187.2 1343.6,1190.1 1342.6,1193.1 1341.5,1196.2 1340.6,1199.2 1342.0,1201.9 1343.6,1204.0 1342.4,1206.0 1340.2,1208.4 1337.8,1210.5 1335.5,1212.7 1333.2,1214.9 1330.7,1216.9 1328.2,1218.9 1325.7,1220.9 1323.5,1223.2 1322.9,1226.4 1321.9,1229.5 1321.1,1232.6 1321.8,1235.8 1323.2,1238.7 1324.6,1241.6 1326.2,1244.1 1329.1,1245.1 1332.1,1246.3 1335.2,1247.1 1338.4,1247.3 1341.8,1247.7 1344.2,1249.9 1345.4,1253.1 1346.4,1256.1 1346.4,1259.2 1345.9,1262.4 1345.7,1265.1 1347.4,1267.1 1349.5,1269.6 1352.1,1271.6 1355.2,1272.4 1358.4,1273.1 1361.5,1273.8 1364.7,1273.9 1368.0,1273.8 1371.2,1273.6 1374.4,1273.2 1377.6,1273.2 1380.8,1273.1 1384.0,1272.9 1387.3,1272.8 1390.5,1273.6 1393.6,1274.6 1396.7,1275.5 1399.8,1276.1 1403.0,1276.5 1406.2,1276.9 1409.3,1277.4 1412.5,1278.2"/>
<polyline points="1833.2,293.2 1832.7,296.3 1832.5,299.6 1832.4,302.8 1831.9,306.0 1830.9,309.1 1829.9,312.1 1829.1,315.2 1828.4,318.4 1827.6,321.5 1826.4,324.5 1825.3,327.5 1824.3,330.6 1823.1,333.6 1821.7,336.5 1819.9,339.2 1818.1,341.9 1816.5,344.7 1815.1,347.6 1813.6,350.3 1811.8,352.9 1809.9,355.5 1808.0,358.1 1806.1,360.7 1803.5,362.6 1800.6,364.1 1797.9,365.7 1795.3,367.7 1792.9,369.9 1790.6,372.0 1788.2,374.1 1786.0,376.0 1785.0,375.5 1787.3,374.9 1790.4,374.0 1793.5,373.2 1797.0,372.8 1800.1,374.3 1802.7,376.2 1805.3,378.2 1807.7,380.2 1808.1,383.4 1808.5,386.5 1809.2,389.7 1810.0,392.8 1810.0,396.0 1809.9,399.3 1809.9,402.5 1809.6,405.8 1808.5,409.1 1806.6,411.9 1805.1,413.8 1805.7,412.7 1807.9,414.9 1809.9,417.4 1811.6,419.9 1813.8,422.0 1816.3,423.9 1818.7,425.8 1821.5,427.1 1824.5,428.2 1825.6,430.6 1823.7,433.2 1821.7,435.6 1820.5,438.4 1819.3,441.4 1818.4,444.3 1818.6,447.2 1819.7,450.1 1820.8,453.1 1822.1,456.1 1823.8,458.8 1825.6,461.5 1827.2,464.2 1829.1,466.6 1832.1,467.0 1835.3,467.1 1838.4,468.0 1840.6,469.9 1838.7,472.5 1836.7,475.1 1834.8,477.5 1832.8,480.0 1830.9,482.6 1829.1,485.3 1827.5,488.0 1826.4,491.0 1825.9,493.7 1827.5,495.2 1830.1,496.8 1831.7,498.8 1830.9,501.6 1829.8,504.6 1828.9,507.7 1829.1,511.0 1829.9,514.1 1830.9,517.2 1831.9,520.2 1832.4,523.4 1831.7,526.6 1831.0,529.7 1830.8,533.0 1830.9,536.2 1831.0,539.4 1831.2,542.6 1831.7,545.8 1832.3,549.0 1832.9,552.1 1833.1,555.3 1833.8,558.5 1834.6,561.6 1835.5,564.7"/>
<polyline points="1563.5,535.0 1564.9,532.1 1566.3,529.3 1568.0,526.5 1569.5,523.7 1571.1,520.9 1572.8,518.2 1574.6,515.6 1576.6,513.2 1577.9,510.6 1577.2,507.5 1575.9,504.6 1574.8,501.7 1574.7,498.6 1574.9,495.4 1575.2,492.4 1574.8,489.7 1572.8,487.4 1570.5,485.4 1567.7,484.4 1564.6,484.2 1561.4,484.1 1558.1,484.3 1554.9,484.5 1551.7,484.6 1548.6,484.2 1546.8,482.6 1546.3,479.7 1545.8,476.5 1545.5,473.3 1545.6,470.1 1545.8,466.9 1545.6,463.7 1545.4,460.5 1545.1,457.3 1544.8,454.1 1544.7,450.9 1545.3,447.7 1546.1,444.7 1547.0,443.1 1549.4,443.0 1552.6,442.7 1555.8,442.5 1559.0,442.6 1562.2,442.6 1565.4,442.2 1568.6,441.7 1571.8,441.6 1575.0,441.8 1578.3,442.0 1581.5,442.3 1584.7,442.5 1587.9,442.4 1591.1,442.2 1594.3,442.0 1597.5,441.7 1600.8,441.4 1603.8,440.6 1604.2,437.4 1604.2,434.2 1604.2,431.0 1604.3,427.7 1604.9,424.5 1605.9,421.4 1607.1,418.4 1609.0,416.0 1610.2,418.3 1611.6,421.1 1613.2,423.6 1614.6,426.4 1616.1,429.2 1617.3,432.2 1618.2,435.4 1619.8,438.3 1622.0,440.6 1624.2,442.9 1626.4,445.4 1628.7,447.5 1631.3,449.4 1634.0,451.1 1636.9,452.2 1640.0,452.6 1643.2,453.0 1646.3,453.6 1649.5,454.2 1652.7,454.6 1655.9,454.9 1659.1,455.1 1662.3,455.4 1665.5,455.7 1668.7,456.0 1671.9,456.1 1675.2,456.1 1678.4,456.2 1681.6,456.6 1684.8,456.8 1688.0,456.9 1691.2,457.0 1694.4,457.4 1697.6,457.9 1700.7,458.5 1703.9,459.1 1707.1,459.6 1710.3,460.3 1713.5,460.7 1716.7,460.9 1719.9,461.2 1723.1,461.6 1726.2,462.0 1729.5,462.0 1732.7,462.0 1735.9,461.8 1739.2,461.6 1742.4,461.6 1745.6,462.0 1748.8,462.6 1751.9,463.2 1754.8,463.6 1756.2,464.5 1755.8,467.2 1755.2,470.3 1754.7,473.5 1754.4,476.7 1753.8,479.9 1752.6,483.0 1751.1,485.8 1749.8,488.8 1748.8,491.8 1748.0,494.9 1748.3,498.1 1748.6,501.2 1748.9,504.4 1749.2,507.7 1749.4,510.8 1750.1,514.0 1750.8,517.0 1750.6,518.2 1751.6,516.8 1753.9,514.6 1757.6,512.9 1759.8,516.2 1761.1,518.9 1763.4,520.7 1766.0,522.4 1768.6,524.4 1771.2,525.9 1773.5,526.4 1775.8,524.6 1778.0,522.3 1780.3,520.8 1783.1,521.8 1785.4,523.3 1786.3,526.1 1787.5,529.1 1790.3,529.5 1793.4,528.5 1796.1,527.7 1798.7,528.6 1801.6,530.0 1804.4,531.4 1807.4,531.0 1810.3,529.7 1813.2,528.3 1816.1,526.9 1819.1,525.6 1822.2,524.9 1825.4,524.2 1828.5,523.3 1831.4,521.9"/>
<polyline points="1835.5,564.7 1833.2,562.4 1830.7,560.3 1828.2,558.5 1825.6,558.5 1822.8,559.8 1820.1,561.6 1818.3,564.0 1817.3,567.1 1816.2,570.2 1815.6,573.2 1814.6,576.0 1812.8,578.6 1811.4,581.7 1811.0,585.1 1810.3,588.3 1809.7,591.4 1809.4,594.7 1809.4,598.1 1810.1,601.3 1811.0,604.4 1811.2,607.3 1809.5,609.8 1807.7,612.7 1808.3,616.0 1809.7,618.9 1811.2,621.9"/>
<polyline points="1835.5,564.7 1838.4,563.2 1841.3,561.7 1844.1,560.2 1847.1,558.8 1850.0,557.4 1852.8,555.7 1855.5,553.8 1858.2,552.1 1861.1,550.6 1864.0,549.5 1866.9,548.1 1869.8,546.6 1873.2,546.9 1876.3,548.5 1877.8,551.6 1879.2,554.5 1881.5,556.2 1884.7,556.2 1888.0,555.9 1891.2,556.1 1894.2,557.6 1897.1,559.1 1899.9,560.6 1902.6,562.1 1905.6,563.1 1908.8,563.7 1912.0,564.3 1914.9,565.6 1917.3,567.8 1919.6,570.1 1921.8,572.3 1924.7,573.7 1927.8,574.4 1931.0,575.0 1934.1,576.0 1937.0,577.3 1940.0,578.5 1943.0,579.7 1945.8,581.3 1948.6,582.7 1950.2,584.6 1949.0,587.4 1947.6,590.3 1946.0,593.1 1944.0,595.7 1941.9,598.2 1940.3,601.0 1939.3,604.0 1938.8,607.2 1938.3,610.1 1939.1,612.6 1941.0,615.1 1943.4,617.3 1946.2,618.9 1948.7,620.5 1950.9,620.2 1952.8,617.7 1954.8,615.2 1957.2,612.9 1959.3,610.5 1961.5,608.1"/>
<polyline points="1954.1,617.6 1954.1,620.9 1954.0,624.1 1953.6,627.3 1953.2,630.3 1954.1,633.2 1954.9,636.3 1955.3,639.5 1955.2,643.1 1953.7,646.2 1952.5,649.2 1951.9,652.5 1951.2,655.8 1949.3,658.5 1946.7,660.7 1944.3,663.1 1942.7,665.9 1941.8,669.0 1940.5,671.9 1938.3,674.3 1936.2,676.7 1934.3,679.3 1932.6,681.8 1931.6,684.6 1930.5,687.5 1930.0,690.6 1929.8,693.7 1928.9,696.3 1926.7,698.5 1924.1,700.4 1921.3,701.8 1918.6,703.5 1916.0,705.2 1913.6,707.4 1912.9,710.2 1912.8,712.8 1910.9,715.1 1908.0,715.8 1904.8,715.7 1901.7,715.3 1898.5,715.2 1895.3,715.2 1892.1,715.4 1888.9,715.8 1885.7,716.3 1882.6,716.8 1879.4,717.1 1876.2,717.0 1873.1,717.1 1870.1,718.2 1867.0,719.1 1863.8,719.7 1860.8,721.0 1858.3,723.1 1856.0,725.3 1854.4,727.9 1853.1,730.6 1851.5,733.4 1848.6,732.9 1845.6,732.0 1842.5,731.6 1839.5,731.4 1836.5,732.3 1833.4,733.2 1830.2,733.8 1827.1,734.9 1824.6,737.0 1822.2,739.2 1819.9,741.3 1817.5,743.6 1815.0,745.6 1812.3,747.4 1809.5,749.0 1806.8,750.7 1804.3,752.6 1801.9,754.7 1799.6,757.0 1798.0,759.8 1796.7,762.8 1794.9,765.6 1792.8,767.8 1791.2,770.2 1789.8,773.0 1789.1,776.1 1789.4,779.3 1789.5,782.5 1788.7,785.6 1788.6,788.8 1789.5,791.4 1789.0,790.8 1788.9,788.0 1789.4,784.8 1789.6,781.8 1789.7,781.1 1788.6,783.6 1788.1,786.8 1789.2,789.8 1790.0,792.9 1790.5,796.1 1791.4,799.2 1792.4,802.2 1791.6,805.3 1790.2,808.2 1788.9,810.9 1788.1,814.2 1787.4,817.2 1786.0,820.0 1783.9,822.6 1781.3,824.2 1778.8,826.1 1776.7,828.6 1774.8,831.3 1772.7,833.7 1770.6,836.2 1768.8,838.9 1766.9,841.5 1765.1,844.2 1763.9,847.2 1762.5,850.0 1761.0,852.8 1759.7,855.7 1758.5,858.7 1756.6,861.4 1754.2,863.7 1751.9,865.9 1749.9,868.3 1748.0,870.9 1746.6,873.8 1745.3,876.9 1743.3,879.5 1740.9,881.6 1738.4,883.6 1735.7,885.5 1733.1,887.4 1730.6,889.4 1728.0,891.3 1725.3,892.9 1722.7,894.6 1720.0,896.6 1718.3,899.4 1717.0,902.4 1715.8,905.4 1714.8,908.3 1713.2,910.9 1711.1,913.2 1709.1,915.6 1706.9,918.1 1704.6,920.3 1701.9,922.0 1699.0,923.4 1696.6,925.4 1694.9,928.2 1693.3,930.9 1691.2,933.2 1688.8,935.0 1686.3,936.8 1683.8,938.7 1681.3,940.6 1678.5,942.1 1675.6,943.0 1672.7,944.0 1670.0,945.2 1667.2,944.8 1664.3,943.5 1661.2,942.4 1657.8,942.3 1654.7,943.1 1651.6,944.2 1648.6,945.2 1645.4,945.0 1642.2,944.3 1639.3,942.9 1636.6,941.2 1634.0,939.3 1631.2,937.5 1628.2,936.3 1624.9,935.8 1621.8,936.3 1618.6,936.4 1615.9,935.5 1613.6,933.6 1610.9,931.7 1608.1,930.1 1604.9,929.2 1603.4,931.9 1603.5,934.9 1604.5,937.8 1606.9,940.0 1609.5,941.6 1612.3,942.8 1615.0,944.7 1617.6,946.6 1620.6,947.8 1623.9,948.7 1626.6,950.7 1628.2,953.6 1628.5,956.5 1627.0,959.4 1625.4,961.9 1625.1,964.7 1625.5,967.8"/>
<polyline points="1525.3,699.8 1526.4,696.8 1527.5,693.7 1528.8,690.8 1529.8,687.7 1530.5,684.5 1531.1,681.4 1532.0,678.3 1532.9,675.2 1533.6,672.0 1534.3,669.0 1535.6,666.2 1537.3,663.6 1538.9,660.9 1540.4,658.0 1541.9,655.2 1543.2,652.8 1545.8,651.8 1548.9,651.0 1552.0,650.4 1555.2,649.7 1558.3,648.9 1561.4,648.0 1564.5,647.1 1567.6,646.2 1570.7,645.5 1573.9,644.8 1577.2,644.5 1580.4,644.3 1583.6,644.5 1586.8,644.7 1590.1,644.9 1593.2,645.8 1596.1,647.2 1599.0,648.5 1602.0,649.9 1604.7,651.6 1607.4,653.3 1610.1,655.2"/>
<polyline points="1610.1,655.2 1610.2,658.5 1610.6,661.7 1611.5,664.8 1612.6,667.8 1613.5,670.8 1614.2,673.9 1614.6,677.1 1614.6,680.3 1614.2,683.5 1613.8,686.7 1613.7,689.9 1613.4,693.1 1613.3,696.3 1613.8,699.0 1616.7,699.8 1619.9,700.4 1623.1,700.6 1626.2,700.9 1629.4,701.6 1632.6,702.0 1636.0,701.7 1638.8,700.2 1641.0,700.5 1643.4,702.5 1646.8,703.0 1650.0,702.7 1653.1,703.2 1655.3,705.8 1655.8,709.1 1656.1,712.3 1656.7,715.4 1657.7,718.5 1658.5,721.6 1659.1,724.7 1659.5,727.9 1660.0,731.2 1661.4,734.2 1664.3,734.7 1667.4,733.8 1670.4,733.2 1673.5,732.6 1676.4,732.9 1679.2,734.2 1680.8,736.6 1680.7,739.5 1680.6,742.5 1680.3,745.6 1679.7,748.7 1678.7,751.7 1677.5,754.7 1676.4,757.6 1675.6,760.7 1675.6,764.1 1675.4,767.4 1674.9,770.5"/>
<polyline points="1674.9,770.5 1674.8,773.8 1674.6,777.1 1674.2,780.3 1673.2,783.5 1671.7,786.5 1668.9,788.3 1666.2,790.2 1663.6,792.2 1661.1,793.9 1659.4,796.2 1657.7,798.3 1659.2,798.1 1661.4,795.8 1663.3,793.0 1665.6,790.7 1667.9,789.9 1666.5,791.1 1663.8,792.8 1661.2,794.9 1659.1,797.1 1657.1,799.6 1654.3,801.4 1650.9,801.7 1647.8,801.8 1645.0,803.0 1641.9,804.4 1638.5,803.9 1635.4,802.8 1632.2,802.1 1629.0,801.6 1625.7,801.0 1622.6,800.2 1619.4,799.3 1616.2,798.8 1612.9,798.7 1609.6,798.6 1606.4,798.1 1603.5,797.2 1602.0,795.9 1602.4,793.0"/>
<polyline points="1525.3,699.8 1527.4,702.3 1529.5,704.7 1531.5,707.0 1533.1,709.5 1534.8,712.2 1537.1,714.6 1539.9,716.4 1542.5,718.4 1544.8,720.5 1547.5,722.3 1550.0,724.2 1552.3,726.5 1554.5,728.9 1556.7,731.1 1559.6,732.7 1562.5,734.0 1565.6,735.1 1568.8,735.5 1571.9,736.0 1574.7,737.3 1577.3,739.1 1580.1,740.6 1582.7,742.4 1585.1,744.7 1587.8,746.6 1590.8,747.8 1593.8,749.1 1596.4,751.0 1599.2,752.6 1602.4,753.5 1605.5,754.5 1608.7,755.3 1611.8,756.0 1614.5,757.2 1616.9,758.9 1618.6,761.0 1618.9,763.4 1617.5,765.8 1616.2,768.8 1615.4,771.9 1613.8,774.7 1611.4,776.7 1609.5,779.4 1608.1,782.3 1606.6,785.1 1605.1,787.9 1604.1,790.9 1603.2,793.9 1602.7,795.4 1602.4,793.0"/>
<polyline points="1482.3,699.4 1485.5,699.8 1488.7,700.6 1490.5,702.8 1491.2,706.0 1492.0,709.1 1493.1,712.1 1495.2,713.2 1496.1,710.2 1496.9,707.1 1498.2,704.1 1500.0,701.4 1501.5,698.9 1504.0,697.7 1507.1,696.8 1510.3,696.4 1513.5,696.0 1516.8,695.8 1520.1,696.3 1523.0,697.5 1525.3,699.8"/>
<polyline points="1610.1,655.2 1612.7,657.0 1613.8,656.7 1612.8,653.8 1611.9,650.9 1612.6,648.1 1614.0,645.1 1615.8,642.2 1616.9,639.0 1617.5,635.6 1618.3,632.3 1620.0,629.4 1621.1,626.1 1621.2,622.7 1620.3,619.8"/>
<polyline points="1681.7,735.5 1683.6,732.8 1685.1,730.0 1686.3,727.0 1687.5,724.0 1689.7,721.7 1692.1,719.5 1693.9,716.8 1695.9,714.5 1698.5,712.7 1701.2,711.0 1703.8,709.4 1706.6,708.0 1709.4,706.4 1712.3,704.8 1715.1,703.1 1717.4,700.6 1719.2,698.0 1721.0,695.3 1723.0,692.7 1724.6,689.9 1725.9,686.9 1727.2,683.9 1728.6,681.0 1729.9,678.1 1731.0,675.0 1732.4,672.0 1734.4,669.5 1736.6,667.1 1738.4,664.4 1739.5,661.4 1740.6,658.4 1742.0,655.5 1743.6,652.7 1745.1,649.8 1746.2,646.8 1747.7,644.2 1750.1,642.1 1752.6,640.1 1755.0,637.9 1757.0,635.6 1759.4,634.0 1762.5,633.2 1765.6,632.6 1768.8,632.0 1772.0,631.6 1775.2,630.8 1778.2,629.5 1780.8,628.1 1783.6,627.7 1786.8,627.4 1790.0,627.1 1793.2,627.2 1796.4,627.7 1799.5,628.2 1802.4,628.1 1805.4,626.9 1808.1,625.2 1810.3,622.8 1812.2,620.1"/>
<polyline points="1705.1,708.1 1708.3,708.5 1711.6,708.7 1714.8,708.6 1717.8,708.3 1720.1,707.3 1723.4,707.4 1726.7,707.7 1730.0,708.0 1733.3,708.1 1736.5,708.4 1739.7,709.0 1742.9,710.0 1746.0,711.3 1749.0,712.7 1752.0,713.6 1755.2,713.8 1758.4,714.1 1761.4,714.8 1763.7,716.8 1765.9,719.0 1767.4,721.7 1768.8,724.5 1770.1,727.4 1771.5,730.4 1772.8,733.3 1774.1,736.3 1775.3,739.3 1776.0,742.5 1776.8,745.5 1778.2,747.5 1781.1,748.1 1784.3,748.7 1787.1,750.0 1788.9,751.9 1789.8,754.8 1792.3,756.9"/>
<polyline points="1676.2,765.8 1679.2,764.7 1682.4,763.8 1685.8,763.8 1688.5,765.7 1690.3,768.4 1690.9,771.6 1691.9,774.6 1693.4,777.5 1693.9,780.7 1693.4,784.0 1692.7,787.2 1691.9,790.4 1691.0,793.5 1689.2,796.1 1687.1,796.5 1688.6,794.1 1690.7,791.7 1692.5,790.3 1691.3,792.5 1689.3,794.9 1686.6,796.5 1684.0,798.3 1681.3,800.1 1678.4,801.7 1675.6,803.2 1672.7,804.8 1669.8,806.2 1666.9,807.6 1664.1,809.2 1661.3,810.9 1658.5,812.7 1655.8,814.5 1653.2,816.4 1650.9,818.8 1648.7,821.2 1646.4,823.5 1644.1,825.8 1641.9,828.2 1639.8,830.6 1637.7,833.1 1635.5,835.5 1633.4,838.0 1631.5,840.7 1629.3,843.2 1626.9,845.2 1624.9,847.7 1623.0,850.3 1621.1,852.9 1619.0,855.5"/>
<polyline points="1619.0,855.5 1617.0,858.1 1615.4,861.0 1614.9,864.4 1614.9,867.7 1614.4,871.0 1613.6,874.2 1612.9,877.5 1612.3,880.7 1611.6,883.9 1610.5,887.1 1609.4,890.2 1608.8,893.5 1609.3,896.7 1609.9,900.0 1610.1,903.3 1609.8,906.6 1609.0,910.0 1606.4,911.6 1605.4,913.5 1605.1,916.4 1604.7,919.5 1604.3,922.6 1604.4,925.9 1604.9,929.2"/>
<polyline points="1619.0,855.5 1622.2,854.7 1625.3,854.0 1628.3,853.2 1631.4,852.7 1634.1,852.8 1636.8,854.2 1639.5,855.9 1642.1,857.8 1644.6,859.9 1646.5,862.5 1648.4,865.1 1650.3,867.8 1651.5,869.7 1652.9,868.7 1655.7,867.0 1659.2,867.0 1662.2,869.2 1664.2,871.9 1665.9,874.4 1668.5,876.0 1671.4,877.3 1674.3,878.8 1676.8,880.8 1679.2,882.9 1681.6,884.8 1684.0,886.9 1686.7,888.5 1689.7,889.7 1692.7,891.2 1695.0,893.7 1697.0,895.9 1699.3,897.5 1701.6,899.8 1704.1,901.9 1706.4,904.2"/>
<polyline points="1705.2,903.1 1706.9,900.4 1708.4,897.6 1709.9,894.9 1710.4,893.3 1711.5,895.2 1712.1,898.1 1711.5,901.0 1710.5,903.8 1708.1,904.8 1705.8,904.3 1703.3,904.1 1701.1,906.1 1699.2,908.6 1698.1,911.6 1697.4,914.6 1697.0,917.5 1696.4,920.2 1698.2,922.2"/>
<polygon points="1737.3,850.8 1739.9,855.6 1747.6,858.0 1750.8,855.0 1751.4,861.5 1748.2,865.1 1745.0,866.3 1744.4,869.9 1740.5,870.4 1740.5,874.0 1737.3,873.4 1736.7,877.0 1732.2,880.0 1728.3,882.9 1725.8,885.3 1724.5,884.1 1727.1,880.0 1731.5,876.4 1735.4,873.4 1736.0,869.9 1737.3,866.3 1738.0,861.5 1737.3,856.8" stroke-width="4.4"/>
</g>
<g fill="#000">
<ellipse cx="978.1" cy="241.1" rx="1.4" ry="1.4" transform="rotate(0 978.1 241.1)"/>
<ellipse cx="981.6" cy="247.2" rx="2" ry="2" transform="rotate(0 981.6 247.2)"/>
<ellipse cx="1001" cy="261.8" rx="2.6" ry="2.6" transform="rotate(0 1001 261.8)"/>
<ellipse cx="1006.7" cy="267.5" rx="3" ry="3" transform="rotate(0 1006.7 267.5)"/>
<ellipse cx="989.6" cy="273.5" rx="5" ry="5" transform="rotate(0 989.6 273.5)"/>
<ellipse cx="987" cy="279.9" rx="5" ry="4.6" transform="rotate(0 987 279.9)"/>
<ellipse cx="1002.9" cy="279.3" rx="3.8" ry="3.6" transform="rotate(0 1002.9 279.3)"/>
<ellipse cx="1009.3" cy="285" rx="4.5" ry="4.5" transform="rotate(0 1009.3 285)"/>
<ellipse cx="1026.4" cy="289.4" rx="5.7" ry="2.7" transform="rotate(-35 1026.4 289.4)"/>
<ellipse cx="1007.3" cy="298.3" rx="3.4" ry="2.6" transform="rotate(0 1007.3 298.3)"/>
<ellipse cx="1021.6" cy="300.2" rx="3.3" ry="2.3" transform="rotate(0 1021.6 300.2)"/>
<ellipse cx="654" cy="795" rx="2.6" ry="2" transform="rotate(0 654 795)"/>
<ellipse cx="730" cy="780" rx="1.3" ry="1.3" transform="rotate(0 730 780)"/>
<ellipse cx="1202" cy="779" rx="2.4" ry="1.5" transform="rotate(20 1202 779)"/>
<ellipse cx="1190" cy="922" rx="2" ry="1.6" transform="rotate(0 1190 922)"/>
<ellipse cx="1222" cy="918" rx="2.8" ry="1.8" transform="rotate(0 1222 918)"/>
<ellipse cx="1169.5" cy="31.6" rx="2" ry="2.4" transform="rotate(0 1169.5 31.6)"/>
<ellipse cx="1431" cy="41.2" rx="1.6" ry="1.8" transform="rotate(0 1431 41.2)"/>
<ellipse cx="1448" cy="46.5" rx="3.2" ry="2.4" transform="rotate(0 1448 46.5)"/>
<ellipse cx="1459.6" cy="46.5" rx="2" ry="1.6" transform="rotate(0 1459.6 46.5)"/>
<ellipse cx="1488.2" cy="45.4" rx="2.2" ry="2" transform="rotate(0 1488.2 45.4)"/>
<ellipse cx="1475.5" cy="62.4" rx="3.2" ry="2.4" transform="rotate(0 1475.5 62.4)"/>
<ellipse cx="1562" cy="56.5" rx="4.8" ry="2" transform="rotate(-30 1562 56.5)"/>
</g><g fill="none" stroke="#000" stroke-width="2.4">
<ellipse cx="993.4" cy="290.7" rx="6.5" ry="3.6" transform="rotate(-8 993.4 290.7)"/>
</g>
<g fill="#000">
<polygon points="1302.4,1115.1 1304.8,1111.6 1308.0,1112.2 1311.1,1112.7 1314.1,1113.4 1316.6,1114.6 1318.7,1116.7 1320.9,1118.7 1324.0,1119.6 1327.2,1120.0 1329.8,1121.5 1331.8,1123.9 1334.4,1125.6 1337.0,1127.3 1338.5,1130.0 1338.4,1133.1 1339.2,1136.3 1339.7,1139.9 1338.8,1143.5 1337.6,1146.9 1336.1,1149.5 1334.0,1151.1 1332.9,1153.3 1331.6,1155.9 1328.9,1158.2 1326.2,1160.4 1324.3,1163.0 1321.7,1164.7 1318.6,1164.5 1316.2,1163.4 1313.3,1162.8 1310.0,1161.4 1306.6,1162.8 1304.4,1165.6 1301.6,1166.8 1298.6,1167.5 1296.3,1169.1 1293.8,1170.8 1290.9,1171.6 1287.6,1170.8 1287.6,1170.4 1286.9,1170.8 1283.2,1168.7 1282.5,1165.4 1285.3,1163.3 1286.9,1160.6 1287.0,1156.8 1287.8,1155.2 1290.6,1153.8 1293.1,1151.2 1294.4,1148.4 1294.8,1145.6 1294.3,1142.2 1294.4,1138.7 1297.3,1136.9 1301.2,1135.6 1303.3,1133.2 1303.1,1129.8 1302.3,1126.2 1302.6,1123.6 1302.9,1121.1 1302.7,1118.1 1302.4,1115.1"/>
<polygon points="1282.2,1195.5 1283.0,1189.9 1286.6,1190.5 1289.6,1189.8 1292.3,1187.6 1295.7,1187.5 1298.9,1188.1 1301.9,1187.9 1304.9,1186.9 1308.5,1186.3 1311.5,1188.3 1313.4,1190.8 1315.4,1192.6 1318.1,1193.3 1321.1,1193.7 1323.9,1195.0 1326.2,1197.2 1325.8,1199.0 1324.2,1199.8 1322.0,1199.3 1319.1,1199.1 1315.5,1200.5 1313.3,1204.5 1314.8,1208.1 1317.0,1210.8 1318.8,1213.6 1318.4,1216.7 1317.4,1220.0 1318.4,1222.8 1320.4,1225.4 1321.7,1228.3 1322.4,1231.4 1322.3,1234.5 1321.0,1237.6 1320.3,1240.7 1320.8,1243.7 1321.2,1246.7 1322.7,1249.5 1325.0,1252.1 1325.4,1254.6 1325.8,1256.9 1327.5,1259.1 1329.7,1261.4 1332.6,1262.4 1335.6,1262.9 1338.6,1263.0 1340.6,1264.8 1340.8,1267.8 1342.3,1270.2 1344.2,1272.5 1343.4,1275.4 1341.5,1278.1 1341.5,1281.2 1343.2,1284.0 1345.7,1284.6 1348.3,1286.1 1351.1,1287.1 1354.2,1287.0 1357.6,1286.1 1361.2,1286.2 1363.8,1288.7 1365.3,1292.0 1364.0,1294.1 1361.6,1295.7 1358.6,1297.9 1358.2,1302.3 1360.4,1305.3 1363.1,1307.0 1365.5,1308.9 1367.7,1311.7 1370.6,1314.4 1373.7,1316.1 1376.8,1316.5 1379.8,1316.7 1382.6,1317.8 1385.4,1318.5 1388.5,1318.2 1391.4,1318.9 1393.9,1320.8 1396.7,1322.1 1400.1,1321.4 1403.3,1320.7 1405.2,1322.0 1405.0,1324.9 1406.8,1328.4 1410.8,1328.8 1414.1,1328.1 1417.4,1326.7 1420.8,1325.0 1424.0,1324.4 1426.9,1325.5 1429.6,1327.4 1432.4,1328.9 1435.5,1328.8 1438.6,1328.6 1441.3,1330.1 1443.8,1333.1 1446.4,1334.9 1450.0,1334.1 1451.5,1338.9 1448.5,1340.5 1445.1,1340.4 1443.2,1342.7 1444.2,1346.2 1443.8,1351.3 1439.5,1353.4 1436.1,1352.4 1432.7,1350.0 1430.4,1347.8 1430.1,1345.8 1427.5,1344.2 1424.2,1343.0 1421.6,1341.9 1418.9,1340.7 1416.0,1339.4 1413.2,1337.9 1410.2,1337.4 1407.0,1338.8 1403.8,1340.2 1400.7,1340.8 1397.6,1341.2 1394.5,1341.2 1391.6,1340.3 1388.8,1338.6 1385.9,1337.1 1382.8,1337.3 1379.5,1337.8 1376.4,1336.8 1373.9,1334.7 1371.4,1332.9 1368.7,1331.6 1365.7,1331.4 1362.8,1332.5 1359.8,1333.6 1356.9,1333.0 1353.9,1331.4 1350.1,1329.5 1347.9,1326.0 1347.3,1322.7 1346.5,1319.7 1346.1,1316.5 1345.1,1313.0 1341.8,1311.3 1338.7,1310.9 1335.6,1311.5 1332.6,1311.5 1329.7,1310.7 1327.2,1310.5 1325.5,1309.2 1324.3,1306.6 1323.2,1303.8 1321.3,1301.4 1318.4,1299.6 1314.9,1299.1 1311.8,1298.7 1309.0,1297.6 1306.2,1296.4 1303.7,1294.6 1301.8,1291.6 1300.5,1288.5 1298.5,1286.7 1300.7,1284.8 1303.8,1284.7 1307.3,1285.8 1309.7,1283.0 1307.0,1280.5 1304.1,1278.9 1301.5,1277.1 1299.5,1274.9 1298.0,1272.3 1295.7,1270.4 1293.0,1269.2 1290.2,1267.9 1288.7,1265.2 1288.6,1262.0 1289.7,1259.1 1290.5,1256.4 1290.0,1254.0 1288.8,1251.5 1287.2,1248.9 1285.8,1246.2 1286.2,1243.2 1286.4,1240.1 1285.8,1237.2 1283.9,1234.5 1282.4,1231.7 1284.0,1228.5 1286.5,1225.6 1286.9,1222.6 1286.0,1219.6 1285.1,1216.6 1284.8,1213.6 1284.4,1210.6 1283.7,1207.6 1283.4,1204.6 1283.3,1201.5 1283.1,1198.5 1282.2,1195.5"/>
<polygon points="1317.2,1068.5 1320.9,1069.7 1323.8,1068.9 1326.6,1067.6 1329.2,1066.5 1331.8,1066.7 1334.7,1067.1 1337.7,1067.8 1340.6,1068.8 1342.2,1068.5 1343.7,1069.2 1344.8,1072.0 1344.7,1075.1 1344.9,1078.0 1345.1,1081.2 1344.6,1084.6 1343.0,1088.2 1338.7,1090.0 1334.9,1088.7 1332.6,1087.3 1330.8,1086.6 1328.2,1086.4 1324.7,1086.1 1322.0,1084.3 1320.0,1081.9 1318.2,1079.6 1318.3,1077.3 1320.7,1074.9 1323.1,1072.2 1317.2,1068.5"/>
<polygon points="1329.9,1087.5 1333.0,1086.6 1336.1,1086.3 1339.3,1086.8 1340.8,1088.3 1340.5,1089.5 1341.0,1092.5 1339.8,1095.5 1338.3,1098.5 1337.8,1100.6 1336.9,1102.3 1335.0,1104.4 1333.4,1106.0 1334.3,1106.4 1333.7,1105.4 1331.9,1103.9 1329.9,1102.8 1328.1,1100.0 1328.1,1096.8 1330.6,1093.9 1333.7,1091.2 1329.9,1087.5"/>
<polygon points="1549.0,1266.5 1548.8,1261.7 1551.3,1260.8 1553.9,1259.5 1557.0,1259.2 1559.9,1259.6 1562.5,1259.4 1565.0,1259.0 1567.6,1258.8 1570.2,1259.1 1572.8,1259.9 1575.4,1259.9 1577.7,1259.1 1580.1,1259.4 1582.5,1260.2 1584.9,1260.8 1585.1,1262.5 1583.1,1264.1 1581.8,1266.3 1581.5,1268.9 1579.9,1270.7 1577.8,1272.3 1575.6,1273.5 1573.0,1274.0 1570.4,1274.6 1568.0,1275.4 1565.7,1276.2 1563.8,1276.0 1561.6,1275.7 1559.0,1275.8 1556.5,1275.4 1554.5,1274.0 1552.1,1273.0 1549.3,1271.9 1548.0,1269.3 1549.0,1266.5"/>
<polygon points="1581.9,1269.6 1584.5,1268.6 1586.8,1267.4 1588.5,1265.5 1589.7,1263.2 1591.1,1261.0 1593.2,1259.4 1595.5,1258.3 1598.1,1257.9 1600.7,1258.6 1603.1,1259.6 1605.5,1260.8 1607.7,1261.7 1609.7,1262.3 1611.9,1262.9 1614.6,1263.2 1616.7,1263.7 1616.1,1265.6 1615.0,1267.3 1615.2,1267.6 1613.9,1268.3 1611.4,1269.0 1608.5,1270.0 1606.2,1272.3 1604.7,1274.4 1604.0,1275.8 1602.6,1276.2 1600.2,1276.5 1597.7,1276.1 1594.8,1275.9 1591.9,1276.1 1589.1,1276.3 1587.1,1277.0 1586.0,1277.9 1584.5,1277.4 1583.1,1276.7 1582.1,1276.7 1580.9,1274.6 1580.5,1271.9 1581.9,1269.6"/>
<polygon points="1517.5,67.6 1520.0,67.1 1522.4,66.6 1524.9,66.4 1527.5,67.0 1530.0,67.7 1532.5,67.6 1534.9,66.8 1537.4,65.8 1539.9,65.0 1542.4,64.6 1544.9,64.5 1547.4,65.2 1548.0,67.5 1548.8,69.9 1549.5,72.4 1549.8,74.9 1550.0,77.4 1550.0,80.4 1548.4,82.9 1546.8,85.1 1545.3,87.5 1542.8,89.5 1540.0,90.6 1537.2,91.8 1533.4,92.1 1530.5,90.0 1529.0,87.5 1527.6,85.0 1525.9,82.9 1523.8,81.4 1521.8,80.0 1520.7,78.9 1520.2,77.3 1518.9,75.0 1517.6,72.7 1516.1,70.3 1517.5,67.6"/>
<polygon points="1492.1,59.7 1493.4,54.3 1496.0,53.7 1499.3,53.5 1503.7,54.6 1506.7,57.6 1508.9,60.5 1509.7,64.2 1508.8,67.5 1507.1,70.6 1504.1,72.6 1501.2,73.1 1498.2,74.5 1493.9,74.9 1490.8,72.4 1489.9,68.7 1490.6,65.2 1490.0,62.5 1492.1,59.7"/>
<circle cx="1314.8" cy="1115.2" r="2.5"/>
<circle cx="1317.4" cy="1117.9" r="4.0"/>
<circle cx="1322.0" cy="1118.1" r="3.9"/>
<circle cx="1336.6" cy="1129.0" r="1.7"/>
<circle cx="1340.1" cy="1136.2" r="1.8"/>
<circle cx="1340.1" cy="1140.8" r="3.7"/>
<circle cx="1330.8" cy="1153.3" r="2.8"/>
<circle cx="1327.3" cy="1157.5" r="3.5"/>
<circle cx="1324.6" cy="1161.2" r="2.7"/>
<circle cx="1315.4" cy="1165.0" r="3.5"/>
<circle cx="1313.4" cy="1159.6" r="1.6"/>
<circle cx="1299.7" cy="1167.9" r="3.9"/>
<circle cx="1294.9" cy="1171.4" r="2.2"/>
<circle cx="1291.9" cy="1173.0" r="2.7"/>
<circle cx="1287.5" cy="1172.5" r="3.3"/>
<circle cx="1283.1" cy="1169.7" r="2.1"/>
<circle cx="1285.7" cy="1163.4" r="3.3"/>
<circle cx="1285.0" cy="1154.9" r="3.3"/>
<circle cx="1292.9" cy="1146.6" r="2.6"/>
<circle cx="1292.3" cy="1143.2" r="2.4"/>
<circle cx="1297.2" cy="1136.2" r="3.1"/>
<circle cx="1300.0" cy="1120.7" r="3.6"/>
<circle cx="1301.6" cy="1114.3" r="3.7"/>
<circle cx="1286.0" cy="1190.7" r="2.8"/>
<circle cx="1289.7" cy="1190.4" r="2.3"/>
<circle cx="1300.4" cy="1188.2" r="2.1"/>
<circle cx="1303.3" cy="1187.0" r="2.8"/>
<circle cx="1312.2" cy="1191.3" r="2.4"/>
<circle cx="1314.9" cy="1190.9" r="3.4"/>
<circle cx="1321.8" cy="1192.8" r="1.6"/>
<circle cx="1326.7" cy="1198.6" r="2.1"/>
<circle cx="1327.1" cy="1200.8" r="3.7"/>
<circle cx="1317.6" cy="1198.6" r="3.2"/>
<circle cx="1315.8" cy="1204.5" r="3.3"/>
<circle cx="1318.8" cy="1209.2" r="3.7"/>
<circle cx="1315.5" cy="1216.0" r="2.4"/>
<circle cx="1317.2" cy="1222.4" r="2.9"/>
<circle cx="1320.2" cy="1228.7" r="2.9"/>
<circle cx="1320.8" cy="1232.6" r="2.9"/>
<circle cx="1319.2" cy="1238.0" r="2.2"/>
<circle cx="1319.7" cy="1248.1" r="4.0"/>
<circle cx="1324.1" cy="1251.5" r="2.7"/>
<circle cx="1325.4" cy="1256.8" r="2.2"/>
<circle cx="1334.1" cy="1267.2" r="2.1"/>
<circle cx="1340.6" cy="1265.6" r="2.7"/>
<circle cx="1340.9" cy="1271.0" r="2.1"/>
<circle cx="1343.4" cy="1273.2" r="2.4"/>
<circle cx="1340.7" cy="1277.9" r="2.0"/>
<circle cx="1347.6" cy="1283.0" r="2.6"/>
<circle cx="1350.0" cy="1286.8" r="2.2"/>
<circle cx="1359.0" cy="1286.6" r="3.6"/>
<circle cx="1363.7" cy="1287.3" r="3.1"/>
<circle cx="1368.5" cy="1293.8" r="3.6"/>
<circle cx="1358.3" cy="1299.8" r="2.5"/>
<circle cx="1361.7" cy="1307.0" r="1.7"/>
<circle cx="1368.9" cy="1313.8" r="2.9"/>
<circle cx="1377.5" cy="1316.0" r="3.8"/>
<circle cx="1384.7" cy="1318.4" r="3.5"/>
<circle cx="1386.4" cy="1317.1" r="3.2"/>
<circle cx="1392.5" cy="1318.2" r="3.7"/>
<circle cx="1404.7" cy="1322.4" r="2.6"/>
<circle cx="1408.3" cy="1330.5" r="2.4"/>
<circle cx="1414.0" cy="1328.9" r="3.5"/>
<circle cx="1422.6" cy="1323.7" r="2.5"/>
<circle cx="1433.5" cy="1326.7" r="3.0"/>
<circle cx="1443.2" cy="1333.2" r="2.8"/>
<circle cx="1448.0" cy="1338.7" r="2.7"/>
<circle cx="1444.0" cy="1347.5" r="3.6"/>
<circle cx="1435.7" cy="1352.5" r="4.0"/>
<circle cx="1428.9" cy="1343.1" r="2.1"/>
<circle cx="1421.9" cy="1343.1" r="2.0"/>
<circle cx="1417.7" cy="1337.7" r="3.6"/>
<circle cx="1409.1" cy="1336.4" r="3.8"/>
<circle cx="1399.1" cy="1344.6" r="2.2"/>
<circle cx="1389.9" cy="1338.1" r="2.5"/>
<circle cx="1383.8" cy="1337.9" r="3.4"/>
<circle cx="1375.5" cy="1335.6" r="3.2"/>
<circle cx="1369.5" cy="1331.7" r="2.3"/>
<circle cx="1361.6" cy="1331.4" r="2.0"/>
<circle cx="1356.3" cy="1334.4" r="2.2"/>
<circle cx="1353.1" cy="1329.6" r="2.4"/>
<circle cx="1349.4" cy="1323.8" r="3.3"/>
<circle cx="1345.5" cy="1314.0" r="1.8"/>
<circle cx="1339.2" cy="1311.7" r="2.2"/>
<circle cx="1334.1" cy="1310.6" r="1.7"/>
<circle cx="1329.6" cy="1310.0" r="3.5"/>
<circle cx="1317.4" cy="1300.3" r="2.9"/>
<circle cx="1307.8" cy="1294.4" r="3.8"/>
<circle cx="1308.4" cy="1297.5" r="3.7"/>
<circle cx="1299.5" cy="1293.0" r="3.6"/>
<circle cx="1304.3" cy="1286.2" r="2.9"/>
<circle cx="1308.3" cy="1282.4" r="2.2"/>
<circle cx="1306.0" cy="1280.2" r="2.1"/>
<circle cx="1297.8" cy="1276.2" r="2.7"/>
<circle cx="1298.2" cy="1269.3" r="1.6"/>
<circle cx="1286.9" cy="1264.6" r="2.6"/>
<circle cx="1293.4" cy="1258.0" r="2.1"/>
<circle cx="1288.2" cy="1251.1" r="3.9"/>
<circle cx="1283.1" cy="1234.1" r="2.7"/>
<circle cx="1283.4" cy="1227.8" r="2.1"/>
<circle cx="1283.0" cy="1216.0" r="2.3"/>
<circle cx="1281.7" cy="1212.6" r="2.0"/>
<circle cx="1281.5" cy="1204.5" r="2.4"/>
<circle cx="1283.6" cy="1199.7" r="2.0"/>
<circle cx="1325.8" cy="1069.7" r="2.8"/>
<circle cx="1330.6" cy="1068.6" r="3.3"/>
<circle cx="1336.0" cy="1068.5" r="1.6"/>
<circle cx="1338.9" cy="1069.1" r="3.6"/>
<circle cx="1342.9" cy="1068.2" r="3.1"/>
<circle cx="1343.1" cy="1074.2" r="1.7"/>
<circle cx="1347.9" cy="1081.5" r="3.7"/>
<circle cx="1345.8" cy="1089.2" r="2.9"/>
<circle cx="1332.4" cy="1087.3" r="3.7"/>
<circle cx="1331.6" cy="1087.6" r="3.9"/>
<circle cx="1323.3" cy="1086.8" r="2.4"/>
<circle cx="1320.7" cy="1081.4" r="2.2"/>
<circle cx="1318.9" cy="1079.4" r="2.2"/>
<circle cx="1324.0" cy="1073.7" r="2.7"/>
<circle cx="1331.2" cy="1086.1" r="2.3"/>
<circle cx="1339.4" cy="1088.1" r="2.8"/>
<circle cx="1341.1" cy="1092.8" r="1.7"/>
<circle cx="1335.3" cy="1103.0" r="2.3"/>
<circle cx="1336.0" cy="1103.1" r="2.8"/>
<circle cx="1333.1" cy="1102.4" r="2.0"/>
<circle cx="1326.6" cy="1093.6" r="3.2"/>
<circle cx="1330.6" cy="1089.5" r="2.6"/>
<circle cx="1300.2" cy="1111.9" r="3.0"/>
<circle cx="1292.8" cy="1136.2" r="2.6"/>
<circle cx="1309.8" cy="1177.5" r="4.5"/>
<circle cx="1312.9" cy="1181.8" r="3.5"/>
<circle cx="1323.5" cy="1195.5" r="3.0"/>
<circle cx="1553.9" cy="1255.2" r="2.2"/>
<circle cx="1487.6" cy="1327.2" r="2.2"/>
<circle cx="1492.9" cy="1326.4" r="2.6"/>
<circle cx="1498.2" cy="1325.7" r="2.6"/>
<circle cx="1503.5" cy="1325.1" r="2.2"/>
<circle cx="1302.4" cy="1290.8" r="3.0"/>
<circle cx="1308.7" cy="1297.2" r="3.0"/>
<circle cx="1315.1" cy="1303.5" r="3.0"/>
<circle cx="1549.3" cy="1267.8" r="1.9"/>
<circle cx="1553.0" cy="1259.4" r="2.3"/>
<circle cx="1565.2" cy="1256.5" r="2.5"/>
<circle cx="1572.5" cy="1259.4" r="1.3"/>
<circle cx="1584.5" cy="1260.2" r="2.6"/>
<circle cx="1583.9" cy="1265.6" r="2.4"/>
<circle cx="1579.2" cy="1267.7" r="2.1"/>
<circle cx="1561.8" cy="1277.7" r="1.3"/>
<circle cx="1561.3" cy="1274.9" r="1.6"/>
<circle cx="1556.2" cy="1275.4" r="1.2"/>
<circle cx="1550.3" cy="1273.3" r="2.5"/>
<circle cx="1545.2" cy="1270.1" r="1.5"/>
<circle cx="1585.5" cy="1267.4" r="1.6"/>
<circle cx="1590.9" cy="1262.1" r="2.1"/>
<circle cx="1597.9" cy="1258.8" r="2.7"/>
<circle cx="1604.5" cy="1259.2" r="2.0"/>
<circle cx="1607.9" cy="1261.1" r="1.3"/>
<circle cx="1611.3" cy="1262.8" r="2.7"/>
<circle cx="1618.5" cy="1261.9" r="2.5"/>
<circle cx="1615.3" cy="1270.2" r="2.5"/>
<circle cx="1614.1" cy="1265.7" r="2.4"/>
<circle cx="1608.7" cy="1270.2" r="2.2"/>
<circle cx="1605.8" cy="1275.9" r="1.8"/>
<circle cx="1595.9" cy="1278.6" r="2.8"/>
<circle cx="1593.8" cy="1278.6" r="1.5"/>
<circle cx="1590.8" cy="1277.1" r="1.4"/>
<circle cx="1586.9" cy="1278.2" r="2.0"/>
<circle cx="1582.9" cy="1276.3" r="2.2"/>
<circle cx="1579.2" cy="1271.9" r="1.8"/>
<circle cx="1204.9" cy="305.9" r="2.6"/>
<circle cx="1203.4" cy="313.3" r="3.2"/>
<circle cx="1201.9" cy="320.7" r="3.4"/>
<circle cx="1200.2" cy="328.1" r="3.0"/>
<circle cx="1198.8" cy="333.4" r="2.4"/>
<circle cx="1193.9" cy="356.7" r="2.4"/>
<circle cx="1194.9" cy="350.3" r="2.0"/>
<circle cx="1253.2" cy="111.1" r="2.6"/>
<circle cx="1256.3" cy="116.3" r="2.4"/>
<circle cx="1259.5" cy="114.2" r="2.0"/>
<circle cx="1439.5" cy="231.8" r="2.6"/>
<circle cx="1441.6" cy="240.2" r="2.6"/>
<circle cx="1442.7" cy="247.6" r="2.2"/>
<circle cx="1517.6" cy="67.7" r="1.3"/>
<circle cx="1521.1" cy="66.8" r="2.2"/>
<circle cx="1526.7" cy="66.4" r="1.7"/>
<circle cx="1534.1" cy="67.6" r="1.3"/>
<circle cx="1537.3" cy="65.7" r="1.4"/>
<circle cx="1548.9" cy="64.6" r="1.9"/>
<circle cx="1547.3" cy="69.3" r="1.6"/>
<circle cx="1549.5" cy="74.0" r="1.9"/>
<circle cx="1548.2" cy="78.4" r="2.6"/>
<circle cx="1538.0" cy="91.6" r="2.0"/>
<circle cx="1529.9" cy="88.7" r="2.0"/>
<circle cx="1524.3" cy="80.9" r="1.6"/>
<circle cx="1519.3" cy="78.0" r="1.3"/>
<circle cx="1519.3" cy="75.1" r="2.2"/>
<circle cx="1517.3" cy="71.5" r="1.8"/>
<circle cx="1492.7" cy="60.0" r="1.9"/>
<circle cx="1496.9" cy="52.7" r="2.4"/>
<circle cx="1497.3" cy="74.8" r="1.8"/>
<circle cx="1489.8" cy="72.2" r="1.8"/>
<circle cx="1494.2" cy="60.0" r="2.2"/>
<circle cx="1742.2" cy="282.7" r="1.5"/>
<circle cx="1747.0" cy="278.1" r="2.3"/>
<circle cx="1731.8" cy="287.8" r="2.3"/>
<circle cx="1735.0" cy="278.1" r="2.3"/>
<circle cx="1754.1" cy="262.1" r="1.8"/>
<circle cx="1737.5" cy="287.7" r="1.5"/>
<circle cx="1749.2" cy="275.5" r="2.0"/>
<circle cx="1753.2" cy="262.6" r="2.4"/>
<circle cx="1736.0" cy="281.5" r="2.9"/>
<circle cx="1760.6" cy="248.0" r="3.0"/>
<circle cx="1757.5" cy="253.7" r="2.5"/>
<circle cx="1759.7" cy="251.5" r="2.2"/>
<circle cx="1750.2" cy="261.0" r="1.7"/>
<circle cx="1747.3" cy="266.1" r="1.9"/>
<circle cx="1756.3" cy="253.0" r="1.3"/>
<circle cx="1732.4" cy="283.8" r="1.7"/>
<circle cx="1760.9" cy="253.9" r="2.9"/>
<circle cx="1734.6" cy="278.0" r="1.4"/>
<circle cx="1758.6" cy="248.4" r="1.1"/>
<circle cx="1731.5" cy="287.1" r="2.4"/>
<circle cx="1756.0" cy="269.2" r="2.2"/>
<circle cx="1749.7" cy="265.2" r="1.8"/>
<circle cx="1746.8" cy="265.1" r="1.9"/>
<circle cx="1732.9" cy="285.7" r="1.7"/>
<circle cx="1746.3" cy="278.0" r="1.5"/>
<circle cx="1749.2" cy="277.9" r="1.2"/>
<circle cx="1756.5" cy="268.8" r="2.3"/>
<circle cx="1760.1" cy="264.0" r="2.3"/>
<circle cx="1745.1" cy="267.5" r="2.4"/>
<circle cx="1736.6" cy="288.3" r="1.3"/>
<circle cx="1740.5" cy="279.9" r="1.8"/>
<circle cx="1750.3" cy="273.3" r="1.9"/>
<circle cx="1741.0" cy="273.5" r="1.9"/>
<circle cx="1745.2" cy="278.4" r="2.7"/>
<circle cx="1753.7" cy="266.6" r="2.2"/>
<circle cx="1753.1" cy="271.0" r="2.7"/>
<circle cx="1759.6" cy="254.3" r="2.6"/>
<circle cx="1733.8" cy="285.3" r="2.5"/>
<circle cx="1763.4" cy="256.1" r="2.0"/>
<circle cx="1737.2" cy="287.8" r="1.7"/>
<circle cx="1758.3" cy="269.1" r="1.8"/>
<circle cx="1751.2" cy="268.9" r="3.5"/>
<circle cx="1746.9" cy="276.9" r="2.8"/>
<circle cx="1733.3" cy="285.7" r="1.8"/>
<circle cx="1747.9" cy="278.9" r="1.4"/>
<circle cx="1752.5" cy="268.1" r="3.3"/>
<circle cx="1745.5" cy="270.2" r="2.4"/>
<circle cx="1742.6" cy="280.7" r="2.6"/>
<circle cx="1734.0" cy="280.9" r="2.4"/>
<circle cx="1740.5" cy="281.3" r="2.9"/>
<circle cx="1738.1" cy="281.6" r="2.1"/>
<circle cx="1734.8" cy="289.8" r="1.7"/>
<circle cx="1744.2" cy="268.3" r="1.6"/>
<circle cx="1755.9" cy="257.3" r="2.2"/>
<circle cx="1745.7" cy="271.1" r="3.1"/>
<circle cx="1740.8" cy="281.3" r="2.0"/>
<circle cx="1731.0" cy="288.9" r="2.0"/>
<circle cx="1752.8" cy="259.8" r="1.6"/>
<circle cx="1749.6" cy="267.3" r="3.1"/>
<circle cx="1739.7" cy="275.5" r="1.9"/>
<circle cx="1753.1" cy="261.5" r="2.3"/>
<circle cx="1737.5" cy="287.5" r="2.4"/>
<circle cx="1751.9" cy="272.0" r="1.7"/>
<circle cx="1757.8" cy="250.1" r="2.0"/>
<circle cx="1731.4" cy="288.0" r="1.9"/>
<circle cx="1758.6" cy="257.2" r="2.3"/>
<circle cx="1758.9" cy="255.5" r="2.9"/>
<circle cx="1731.4" cy="288.3" r="1.4"/>
<circle cx="1758.7" cy="256.1" r="3.1"/>
<circle cx="1732.5" cy="289.2" r="2.7"/>
<circle cx="1748.0" cy="295.7" r="2.6"/>
<circle cx="1748.0" cy="298.6" r="2.8"/>
<circle cx="1784.6" cy="292.9" r="1.2"/>
<circle cx="1748.0" cy="306.7" r="1.6"/>
<circle cx="1752.2" cy="309.9" r="2.2"/>
<circle cx="1749.3" cy="296.3" r="1.8"/>
<circle cx="1752.3" cy="309.4" r="2.1"/>
<circle cx="1775.9" cy="304.9" r="1.8"/>
<circle cx="1763.4" cy="306.0" r="1.8"/>
<circle cx="1766.5" cy="308.2" r="2.0"/>
<circle cx="1776.9" cy="299.1" r="1.2"/>
<circle cx="1783.1" cy="298.3" r="2.2"/>
<circle cx="1748.0" cy="298.5" r="1.7"/>
<circle cx="1751.8" cy="303.5" r="1.2"/>
<circle cx="1753.3" cy="308.9" r="1.5"/>
<circle cx="1768.4" cy="307.2" r="2.3"/>
<circle cx="1753.0" cy="310.5" r="1.6"/>
<circle cx="1780.0" cy="300.7" r="2.2"/>
<circle cx="1752.8" cy="307.8" r="1.5"/>
<circle cx="1782.5" cy="295.6" r="2.0"/>
<circle cx="1773.8" cy="302.6" r="2.2"/>
<circle cx="1783.2" cy="294.9" r="1.5"/>
<circle cx="1756.9" cy="307.9" r="1.6"/>
<circle cx="1776.5" cy="304.6" r="1.7"/>
<circle cx="1766.5" cy="309.1" r="1.2"/>
<circle cx="1773.5" cy="302.8" r="2.5"/>
<circle cx="1751.6" cy="305.7" r="1.4"/>
<circle cx="1761.2" cy="309.8" r="1.7"/>
<circle cx="1784.1" cy="298.1" r="1.5"/>
<circle cx="1769.3" cy="306.6" r="1.6"/>
<circle cx="1771.6" cy="305.5" r="2.4"/>
<circle cx="1751.7" cy="309.1" r="1.6"/>
<circle cx="1780.1" cy="296.8" r="1.3"/>
<circle cx="1746.8" cy="301.7" r="1.5"/>
<circle cx="1747.1" cy="300.9" r="1.5"/>
<circle cx="1749.6" cy="296.1" r="1.2"/>
<circle cx="1749.5" cy="297.0" r="1.3"/>
<circle cx="1751.4" cy="302.6" r="1.4"/>
<circle cx="1780.9" cy="300.7" r="1.7"/>
<circle cx="1746.4" cy="299.2" r="1.1"/>
<circle cx="1833.4" cy="294.8" r="2.1"/>
<circle cx="1866.9" cy="315.1" r="2.4"/>
<circle cx="1867.9" cy="322.7" r="1.9"/>
<circle cx="1862.9" cy="316.9" r="1.7"/>
<circle cx="1862.9" cy="318.4" r="2.0"/>
<circle cx="1847.6" cy="298.2" r="1.9"/>
<circle cx="1855.4" cy="301.0" r="1.6"/>
<circle cx="1841.7" cy="297.1" r="2.8"/>
<circle cx="1866.6" cy="311.7" r="1.4"/>
<circle cx="1854.2" cy="301.5" r="1.6"/>
<circle cx="1847.2" cy="298.4" r="1.5"/>
<circle cx="1861.7" cy="302.9" r="1.4"/>
<circle cx="1864.5" cy="318.9" r="2.2"/>
<circle cx="1846.4" cy="299.4" r="2.8"/>
<circle cx="1846.8" cy="299.4" r="1.8"/>
<circle cx="1854.0" cy="297.1" r="1.8"/>
<circle cx="1865.4" cy="329.6" r="1.4"/>
<circle cx="1866.1" cy="327.0" r="2.0"/>
<circle cx="1839.0" cy="296.2" r="2.9"/>
<circle cx="1863.4" cy="317.9" r="1.6"/>
<circle cx="1862.1" cy="302.8" r="2.2"/>
<circle cx="1865.8" cy="314.0" r="2.2"/>
<circle cx="1862.8" cy="305.5" r="1.9"/>
<circle cx="1866.7" cy="324.5" r="2.2"/>
<circle cx="1861.0" cy="304.4" r="2.4"/>
<circle cx="1834.3" cy="293.3" r="2.0"/>
<circle cx="1836.4" cy="293.2" r="1.0"/>
<circle cx="1865.4" cy="306.0" r="1.8"/>
<circle cx="1861.7" cy="308.6" r="1.4"/>
<circle cx="1860.7" cy="301.6" r="2.3"/>
<circle cx="1852.1" cy="297.8" r="1.7"/>
<circle cx="1850.2" cy="297.8" r="2.0"/>
<circle cx="1843.6" cy="300.8" r="1.8"/>
<circle cx="1863.5" cy="321.0" r="2.4"/>
<circle cx="1866.5" cy="327.4" r="1.2"/>
<circle cx="1864.1" cy="323.7" r="3.0"/>
<circle cx="1858.5" cy="300.0" r="2.5"/>
<circle cx="1846.8" cy="299.2" r="2.7"/>
<circle cx="1854.3" cy="300.3" r="1.7"/>
<circle cx="1843.1" cy="300.8" r="1.2"/>
<circle cx="1842.5" cy="296.1" r="1.1"/>
<circle cx="1854.8" cy="300.0" r="2.7"/>
<circle cx="1864.4" cy="328.7" r="2.1"/>
<circle cx="1854.9" cy="298.9" r="3.0"/>
<circle cx="1855.7" cy="300.6" r="2.3"/>
<circle cx="1855.2" cy="298.1" r="1.6"/>
<circle cx="1862.0" cy="311.4" r="2.0"/>
<circle cx="1847.7" cy="300.9" r="1.7"/>
<circle cx="1862.9" cy="319.0" r="1.4"/>
<circle cx="1863.0" cy="306.9" r="2.2"/>
<circle cx="1866.2" cy="323.4" r="2.4"/>
<circle cx="1867.7" cy="314.7" r="2.0"/>
<circle cx="1853.3" cy="298.5" r="2.1"/>
<circle cx="1854.7" cy="298.6" r="2.7"/>
<circle cx="1849.5" cy="297.9" r="2.0"/>
<circle cx="1856.2" cy="299.3" r="1.9"/>
<circle cx="1863.0" cy="311.2" r="2.4"/>
<circle cx="1866.7" cy="325.9" r="1.6"/>
<circle cx="1835.9" cy="294.2" r="2.4"/>
<circle cx="1867.7" cy="319.2" r="2.4"/>
<circle cx="1735.8" cy="192.6" r="3.2"/>
<circle cx="1732.6" cy="189.4" r="2.6"/>
<circle cx="1750.6" cy="231.8" r="3.0"/>
<circle cx="1753.8" cy="234.9" r="2.6"/>
<circle cx="1877.6" cy="318.6" r="2.6"/>
<circle cx="1861.0" cy="329.8" r="1.7"/>
<circle cx="1866.1" cy="320.3" r="2.0"/>
<circle cx="1855.3" cy="312.0" r="1.5"/>
<circle cx="1860.3" cy="315.4" r="2.2"/>
<circle cx="1864.0" cy="319.6" r="2.0"/>
<circle cx="1849.3" cy="304.4" r="3.0"/>
<circle cx="1860.6" cy="320.4" r="1.3"/>
<circle cx="1849.6" cy="307.2" r="2.4"/>
<circle cx="1860.5" cy="331.7" r="1.7"/>
<circle cx="1863.0" cy="319.5" r="2.5"/>
<circle cx="1858.8" cy="315.1" r="2.3"/>
<circle cx="1847.6" cy="306.1" r="1.7"/>
<circle cx="1863.0" cy="322.3" r="1.8"/>
<circle cx="1856.0" cy="310.5" r="2.4"/>
<circle cx="1855.7" cy="305.4" r="2.2"/>
<circle cx="1862.4" cy="313.4" r="2.4"/>
<circle cx="1864.0" cy="320.9" r="2.9"/>
<circle cx="1857.2" cy="311.4" r="2.5"/>
<circle cx="1849.7" cy="307.5" r="2.0"/>
<circle cx="1862.4" cy="315.9" r="2.8"/>
<circle cx="1861.0" cy="313.3" r="3.4"/>
<circle cx="1858.8" cy="314.3" r="1.5"/>
<circle cx="1857.0" cy="312.7" r="2.3"/>
<circle cx="1852.1" cy="304.5" r="2.3"/>
<circle cx="1868.2" cy="328.7" r="1.4"/>
<circle cx="1858.6" cy="309.5" r="2.9"/>
<circle cx="1859.5" cy="314.5" r="1.8"/>
<circle cx="1858.3" cy="314.0" r="2.0"/>
<circle cx="1864.2" cy="316.0" r="1.9"/>
<circle cx="1866.7" cy="314.4" r="1.3"/>
<circle cx="1864.4" cy="323.2" r="2.8"/>
<circle cx="1867.7" cy="325.5" r="2.0"/>
<circle cx="1856.2" cy="306.5" r="2.7"/>
<circle cx="1861.2" cy="314.1" r="2.8"/>
<circle cx="1851.3" cy="306.8" r="1.7"/>
<circle cx="1868.4" cy="319.5" r="2.7"/>
<circle cx="1865.9" cy="320.7" r="2.2"/>
<circle cx="1858.3" cy="308.1" r="2.8"/>
<circle cx="1863.2" cy="317.0" r="2.8"/>
<circle cx="1858.5" cy="313.1" r="2.3"/>
<circle cx="1862.3" cy="319.6" r="2.4"/>
<circle cx="1852.1" cy="309.9" r="1.4"/>
<circle cx="1861.0" cy="320.5" r="2.3"/>
<circle cx="1859.2" cy="312.4" r="2.9"/>
<circle cx="1856.3" cy="308.0" r="2.7"/>
<circle cx="1853.6" cy="309.9" r="2.8"/>
<circle cx="1846.6" cy="305.6" r="1.6"/>
<circle cx="1865.8" cy="326.5" r="2.8"/>
<circle cx="1851.8" cy="303.6" r="1.6"/>
<circle cx="1862.3" cy="318.6" r="2.2"/>
<circle cx="1972.1" cy="518.1" r="3.2"/>
<circle cx="1968.9" cy="522.3" r="2.6"/>
<circle cx="1965.7" cy="532.9" r="2.2"/>
<circle cx="1964.7" cy="539.3" r="2.0"/>
<circle cx="1533.3" cy="1021.4" r="3.0"/>
<circle cx="1536.5" cy="1025.6" r="3.4"/>
<circle cx="1535.4" cy="1030.9" r="2.6"/>
<circle cx="1409.3" cy="1230.6" r="2.4"/>
<circle cx="1406.1" cy="1234.8" r="2.0"/>
<circle cx="1399.8" cy="1265.5" r="2.0"/>
<circle cx="1400.8" cy="1254.9" r="1.8"/>
<circle cx="1459.0" cy="1193.9" r="2.0"/>
</g>
<g fill="#fff"><ellipse cx="1599.9" cy="1266.5" rx="3.0" ry="2.0" transform="rotate(-20 1599.9 1266.5)"/><ellipse cx="1571.3" cy="1266.5" rx="2.4" ry="1.4" transform="rotate(-20 1571.3 1266.5)"/><ellipse cx="1387.1" cy="1322.6" rx="5" ry="2" transform="rotate(-20 1387.1 1322.6)"/><ellipse cx="1329.9" cy="1276.0" rx="4" ry="1.6" transform="rotate(-20 1329.9 1276.0)"/><ellipse cx="1302.4" cy="1220.9" rx="2" ry="5" transform="rotate(-20 1302.4 1220.9)"/><ellipse cx="1351.1" cy="1299.3" rx="5" ry="2" transform="rotate(-20 1351.1 1299.3)"/></g>
<polygon points="1531.0,69.6 1543.7,68.6 1538.5,75.9" fill="#fff"/>
<g fill="none" stroke="#000" stroke-width="2.4" stroke-linejoin="round">
<polygon points="1308.7,1091.8 1323.5,1089.6 1321.4,1105.5 1307.6,1106.6"/>
<polyline points="1372.2,1288.7 1382.8,1284.5 1395.5,1282.3 1408.2,1280.2" stroke-width="3"/>
<polyline points="1372.2,1288.7 1375.4,1299.3 1370.1,1309.9" stroke-width="3"/>
<polyline points="1380.7,1303.5 1389.2,1299.3 1399.8,1298.2" stroke-width="3"/>
<polyline points="1348.9,1132.0 1359.5,1129.9 1368.0,1128.8" stroke-width="3"/>
<polyline points="1353.2,1128.2 1365.9,1126.1" stroke-width="3"/>
</g></g>
<g stroke="#868686" stroke-width="3" fill="none">
<line x1="328.2" y1="1024.4" x2="1458.6" y2="602.4"/>
<line x1="1280.6" y1="1024.4" x2="1972.6" y2="602.4"/>
<line x1="328.2" y1="1793.5" x2="1458.6" y2="984.9"/>
<line x1="1280.6" y1="1793.5" x2="1972.6" y2="984.9"/>
<rect x="1458.6" y="602.4" width="514.0" height="382.5"/>
</g>
<text class="ar" x="1712.8" y="579" font-size="50" text-anchor="middle" fill="#111">Regions</text>
<rect x="1836.1" y="833.8" width="44.8" height="32.2" fill="#2ba84f"/>
<text class="ar" x="1893" y="867.6" font-size="46.5" textLength="50" lengthAdjust="spacingAndGlyphs" fill="#111" stroke="#111" stroke-width="0.8">R1</text>
<rect x="1836.1" y="878.9" width="44.8" height="32.2" fill="#c50a37"/>
<text class="ar" x="1893" y="912.7" font-size="46.5" textLength="50" lengthAdjust="spacingAndGlyphs" fill="#111" stroke="#111" stroke-width="0.8">R2</text>
<rect x="1836.1" y="924.0" width="44.8" height="32.2" fill="#0f8ac7"/>
<text class="ar" x="1893" y="957.8" font-size="46.5" textLength="50" lengthAdjust="spacingAndGlyphs" fill="#111" stroke="#111" stroke-width="0.8">R3</text>
<rect x="328.2" y="1024.4" width="952.3999999999999" height="769.0999999999999" fill="#fff" stroke="#111" stroke-width="2.6"/>
<g id="topo"><clipPath id="landclip"><polygon points="369.9,1059.1 1238.6,1059.1 1238.8,1127.4 1238.5,1131.8 1237.6,1135.9 1236.7,1139.9 1234.8,1143.4 1232.2,1146.5 1229.6,1149.6 1226.8,1152.7 1224.4,1156.1 1222.8,1159.8 1221.6,1163.7 1219.7,1167.4 1217.1,1170.4 1214.8,1173.8 1213.0,1177.5 1210.6,1180.8 1208.0,1183.4 1206.5,1186.3 1206.6,1190.1 1205.9,1194.0 1204.7,1197.3 1205.2,1200.7 1206.1,1204.5 1205.8,1209.0 1204.3,1214.3 1200.6,1217.8 1197.3,1220.4 1194.1,1223.1 1190.2,1225.2 1186.1,1226.2 1182.9,1228.7 1180.0,1230.8 1176.4,1231.9 1172.8,1234.0 1170.1,1237.1 1169.4,1241.0 1170.9,1244.5 1171.1,1248.8 1169.0,1253.2 1164.1,1254.4 1159.7,1252.3 1155.7,1252.1 1151.6,1252.5 1147.8,1251.6 1143.8,1250.4 1139.8,1249.4 1135.7,1248.9 1131.8,1249.6 1127.8,1251.0 1123.8,1251.7 1119.8,1251.8 1115.8,1252.0 1111.8,1252.3 1107.7,1251.5 1103.5,1249.9 1099.4,1249.7 1094.7,1249.7 1090.1,1251.1 1087.0,1253.9 1084.3,1257.3 1081.1,1259.9 1077.5,1261.7 1073.6,1263.0 1070.0,1264.8 1066.8,1267.3 1064.3,1270.6 1062.3,1274.1 1060.0,1277.1 1057.6,1280.2 1055.9,1283.9 1054.9,1287.0 1052.1,1286.3 1048.7,1284.2 1045.0,1282.2 1040.8,1282.3 1036.8,1281.9 1032.6,1281.8 1029.1,1284.2 1026.0,1287.2 1022.1,1288.3 1017.5,1287.3 1013.1,1287.5 1009.2,1289.6 1005.6,1292.0 1001.9,1293.8 998.8,1296.4 996.2,1299.7 993.5,1302.7 990.4,1305.2 987.5,1307.8 984.9,1310.9 982.1,1314.0 978.9,1316.3 975.6,1318.7 972.7,1321.4 969.3,1323.7 966.2,1326.2 964.2,1330.0 962.4,1333.6 960.1,1336.8 958.2,1340.2 956.9,1344.1 954.9,1347.8 951.7,1350.6 948.6,1353.2 946.0,1356.1 943.5,1358.9 941.6,1362.5 941.5,1366.6 942.3,1370.6 942.3,1374.3 941.5,1378.2 941.4,1382.3 941.2,1386.4 940.3,1390.3 939.7,1394.2 939.1,1398.1 937.9,1402.4 938.1,1406.7 942.9,1404.7 942.5,1400.7 942.4,1396.7 941.8,1392.7 942.0,1388.7 942.9,1384.7 943.1,1380.2 939.3,1382.9 938.7,1386.9 938.1,1390.9 937.8,1394.9 938.7,1398.9 940.3,1402.7 941.7,1406.4 942.3,1410.4 942.3,1414.6 942.7,1418.6 943.3,1422.4 943.3,1425.8 942.4,1429.2 942.3,1433.2 941.7,1437.1 939.8,1440.4 938.7,1444.2 938.2,1448.5 936.3,1452.0 934.5,1455.5 934.2,1459.5 933.8,1463.5 932.4,1467.6 929.0,1470.2 925.3,1472.2 921.9,1474.4 918.7,1476.9 916.1,1480.1 913.2,1483.0 910.3,1485.8 908.4,1489.4 906.3,1492.9 904.0,1496.3 900.8,1498.9 897.6,1501.7 896.1,1505.5 894.2,1509.1 891.7,1512.3 890.4,1516.2 889.0,1520.1 887.3,1523.7 885.6,1527.4 882.8,1530.6 880.4,1534.0 879.6,1537.8 878.8,1541.7 877.5,1545.5 876.7,1549.6 876.0,1553.9 873.4,1557.1 870.5,1560.0 868.3,1563.4 865.2,1566.1 862.3,1568.9 859.7,1571.9 856.6,1574.3 853.5,1576.9 850.9,1580.0 848.7,1583.4 845.8,1586.2 842.6,1588.5 839.5,1591.1 836.2,1593.4 832.5,1595.0 828.8,1596.4 825.3,1598.0 822.0,1600.2 819.0,1603.7 817.4,1608.2 815.5,1611.9 812.8,1614.8 810.3,1618.0 808.2,1621.5 806.0,1625.0 804.6,1628.8 804.2,1633.0 803.8,1637.0 803.7,1641.4 802.5,1645.8 800.1,1649.2 797.3,1652.2 794.1,1655.0 789.8,1656.4 786.1,1658.1 783.3,1661.1 779.7,1663.0 775.7,1664.4 772.5,1666.7 769.7,1669.7 767.7,1673.3 765.6,1676.7 764.5,1680.6 764.4,1685.1 763.6,1689.4 760.6,1692.7 755.9,1693.9 751.7,1695.0 748.1,1697.0 745.6,1700.1 742.9,1703.2 739.2,1704.8 735.6,1706.7 732.6,1709.4 728.8,1710.8 725.0,1711.7 721.4,1714.0 717.4,1714.8 714.2,1711.8 710.6,1710.0 706.6,1709.2 702.8,1708.0 699.0,1705.6 694.6,1703.6 689.9,1704.2 685.8,1705.5 682.1,1706.9 679.1,1708.8 675.8,1709.1 672.1,1708.6 668.3,1708.5 664.7,1707.1 661.5,1704.5 658.3,1702.3 654.5,1701.0 650.5,1699.7 647.0,1697.7 643.8,1694.8 640.4,1692.4 636.1,1691.4 631.7,1692.1 627.7,1693.4 623.8,1694.6 620.0,1695.1 617.4,1692.2 614.5,1689.4 610.7,1687.7 606.9,1686.2 603.2,1684.6 600.0,1682.9 598.3,1682.5 596.3,1684.8 595.7,1688.3 596.6,1692.0 597.8,1695.3 600.4,1697.9 603.2,1700.7 605.9,1703.2 608.8,1705.1 612.0,1707.4 615.2,1710.0 618.7,1712.1 622.2,1714.1 625.9,1715.7 629.2,1718.0 632.6,1720.0 636.9,1721.2 639.9,1724.4 641.1,1728.6 642.1,1732.2 640.7,1735.4 638.1,1738.5 635.5,1741.6 633.7,1745.5 633.6,1749.6 634.6,1753.6 636.3,1757.3 369.9,1757.6"/></clipPath>
<g clip-path="url(#landclip)" fill-rule="evenodd">
<rect x="369.9" y="1059.1" width="868.6999999999999" height="698.5" fill="#2e3ca2"/>
<path fill="#254fb5" d="M372,1060 1238,1060 1238,1080 1230,1086 1226,1094 1231,1108 1238,1116 1236,1122 1238,1124 1238,1756 616,1756 612,1751 603,1746 602,1742 594,1741 593,1742 591,1746 588,1749 578,1755 574,1753 572,1750 571,1738 572,1736 576,1730 579,1730 578,1726 579,1726 580,1729 583,1724 583,1720 578,1716 579,1710 574,1703 562,1701 558,1699 557,1696 560,1690 560,1688 553,1682 552,1678 553,1672 546,1664 544,1656 542,1653 538,1651 528,1653 527,1650 529,1646 528,1644 526,1641 524,1641 520,1642 514,1650 520,1656 526,1656 528,1660 526,1666 527,1674 520,1682 519,1688 520,1689 526,1693 528,1696 528,1706 536,1712 540,1718 540,1736 548,1742 549,1746 549,1750 546,1756 370,1756 370,1060ZM1224,1162 1222,1164 1222,1167 1225,1164 1224,1161ZM1219,1172 1212,1178 1212,1182 1214,1183 1216,1183 1220,1178 1221,1174 1220,1170ZM1218,1192 1216,1194 1216,1195 1218,1194 1218,1192ZM592,1232 579,1248 579,1250 580,1252 584,1253 586,1256 580,1265 580,1268 582,1270 588,1272 591,1276 596,1296 594,1304 590,1310 589,1318 583,1328 582,1334 579,1340 579,1342 580,1343 585,1344 586,1346 585,1350 586,1356 584,1359 582,1360 578,1357 564,1351 563,1350 563,1346 560,1343 558,1342 556,1344 557,1348 562,1352 562,1354 559,1364 558,1366 553,1370 553,1376 550,1386 540,1392 544,1412 543,1422 546,1426 548,1427 552,1426 559,1424 564,1416 574,1412 578,1408 594,1411 600,1414 603,1414 604,1412 604,1404 605,1402 608,1398 612,1396 618,1390 620,1378 625,1372 633,1356 632,1344 633,1334 630,1310 631,1292 628,1278 629,1260 620,1253 608,1249 602,1249 598,1250 595,1250 593,1246 593,1244 596,1240 597,1236 596,1233 592,1231ZM558,1438 557,1440 558,1442 562,1443 565,1442 564,1440 562,1438 558,1438ZM572,1450 564,1455 556,1457 550,1460 546,1463 544,1472 545,1482 538,1484 532,1489 531,1492 531,1496 533,1508 526,1518 522,1528 518,1531 516,1531 510,1527 508,1526 506,1528 506,1530 508,1536 504,1556 505,1566 502,1568 494,1570 492,1572 492,1574 496,1582 493,1604 495,1612 504,1617 506,1620 510,1633 514,1630 515,1620 516,1616 519,1614 526,1612 529,1608 528,1602 524,1596 523,1594 528,1586 528,1580 533,1566 547,1548 545,1542 536,1534 535,1530 538,1526 546,1523 549,1520 553,1500 552,1494 550,1488 564,1482 570,1479 572,1476 570,1469 566,1466 566,1464 573,1462 577,1458 577,1452 574,1450 572,1449ZM871,1524 869,1528 870,1531 873,1530 874,1528 874,1525 872,1523ZM825,1612 825,1614 828,1614 829,1612 826,1611ZM507,1636 505,1640 506,1641 509,1638 510,1636 508,1634ZM753,1656 756,1668 756,1684 756,1687 758,1688 762,1686 763,1684 763,1676 759,1668 761,1662 761,1658 758,1655 754,1655ZM777,1656 775,1658 774,1660 779,1658 779,1656 778,1655ZM518,1540 520,1542 518,1544 517,1542Z"/>
<path fill="#1c61c7" d="M372,1060 618,1060 620,1066 624,1072 624,1082 626,1084 634,1089 638,1094 640,1093 644,1086 638,1066 634,1060 1234,1060 1236,1068 1235,1076 1226,1082 1224,1084 1224,1088 1224,1100 1227,1108 1232,1116 1231,1122 1233,1128 1226,1132 1226,1144 1223,1156 1217,1170 1210,1176 1209,1180 1209,1188 1208,1190 1203,1194 1198,1200 1193,1210 1193,1212 1202,1212 1208,1209 1211,1208 1215,1202 1221,1196 1223,1192 1223,1180 1226,1170 1229,1162 1231,1152 1232,1149 1234,1149 1238,1149 1238,1545 1224,1545 1220,1554 1220,1556 1232,1563 1233,1566 1229,1572 1229,1574 1230,1578 1232,1580 1238,1581 1238,1718 1232,1718 1228,1716 1220,1717 1217,1720 1216,1724 1219,1732 1222,1735 1226,1734 1232,1724 1238,1725 1238,1756 1133,1756 1133,1752 1138,1742 1138,1738 1137,1736 1132,1730 1117,1728 1116,1726 1119,1718 1119,1714 1111,1708 1108,1702 1094,1696 1092,1696 1090,1699 1091,1706 1089,1714 1092,1720 1091,1726 1095,1732 1097,1740 1094,1744 1092,1750 1084,1750 1084,1752 1085,1756 1075,1756 1074,1755 1073,1756 1047,1756 1042,1750 1038,1748 1032,1752 1030,1756 882,1756 881,1752 878,1746 879,1740 878,1737 875,1736 860,1733 856,1729 851,1734 846,1744 846,1748 848,1752 848,1756 688,1756 689,1750 694,1747 697,1744 697,1742 695,1740 690,1739 676,1742 676,1746 681,1756 629,1756 630,1752 634,1750 633,1748 617,1742 609,1730 608,1725 606,1720 600,1718 599,1716 597,1706 590,1704 588,1702 582,1699 577,1692 576,1684 573,1680 568,1677 561,1676 561,1674 563,1668 557,1660 556,1650 551,1644 549,1634 541,1630 539,1624 539,1614 543,1606 545,1592 544,1584 544,1568 546,1560 552,1554 553,1550 552,1538 554,1532 553,1528 553,1524 558,1512 574,1508 582,1502 582,1496 586,1492 586,1490 585,1480 582,1474 582,1468 584,1464 588,1461 591,1458 595,1440 600,1432 606,1430 609,1428 610,1424 611,1418 612,1416 618,1414 622,1407 628,1404 629,1400 633,1392 639,1384 641,1376 637,1370 639,1358 638,1342 640,1334 639,1322 641,1318 648,1314 650,1312 650,1309 648,1306 638,1302 636,1300 636,1296 640,1284 640,1280 635,1274 636,1260 634,1252 636,1246 635,1242 630,1236 626,1234 625,1236 625,1238 629,1248 629,1250 624,1250 619,1246 615,1242 615,1240 620,1234 622,1230 621,1222 619,1216 616,1215 606,1218 596,1213 595,1212 596,1208 598,1204 603,1204 609,1200 612,1194 612,1190 609,1184 603,1178 600,1170 600,1160 598,1158 592,1159 584,1158 572,1159 570,1164 564,1168 561,1174 561,1176 566,1180 570,1186 574,1187 580,1186 582,1187 584,1190 583,1200 581,1204 583,1218 579,1226 580,1232 579,1236 571,1246 571,1248 573,1256 573,1258 570,1259 566,1257 563,1254 562,1250 560,1250 556,1260 555,1264 556,1266 558,1267 566,1268 572,1274 573,1294 577,1310 576,1312 572,1313 568,1312 562,1308 556,1309 553,1312 552,1314 553,1318 551,1320 548,1321 544,1321 533,1328 532,1332 532,1346 536,1358 542,1363 543,1366 540,1370 531,1374 524,1382 523,1384 524,1390 522,1393 506,1399 503,1404 504,1406 508,1407 514,1403 518,1403 522,1404 526,1408 524,1418 528,1422 529,1426 524,1430 523,1432 526,1438 524,1450 530,1460 528,1463 522,1462 519,1464 519,1466 520,1468 528,1466 530,1467 532,1472 526,1476 519,1478 517,1492 518,1500 514,1508 508,1514 498,1521 490,1520 484,1524 478,1521 474,1521 469,1524 467,1526 468,1528 474,1531 478,1534 478,1536 475,1542 475,1546 476,1548 482,1548 484,1550 487,1556 484,1558 476,1559 472,1559 470,1560 470,1562 470,1566 475,1572 478,1582 474,1590 468,1590 467,1592 467,1594 468,1597 470,1598 473,1598 476,1592 478,1595 478,1599 475,1606 472,1609 464,1608 453,1614 451,1616 453,1618 460,1620 462,1619 466,1615 477,1620 484,1625 492,1623 496,1624 498,1630 495,1642 501,1660 502,1661 510,1662 517,1672 518,1676 516,1679 511,1682 510,1683 512,1692 512,1698 500,1702 498,1706 491,1710 491,1712 492,1714 496,1714 500,1711 504,1711 506,1718 502,1722 503,1724 504,1725 520,1725 524,1726 528,1730 530,1736 540,1744 541,1746 537,1752 536,1756 460,1756 458,1754 456,1756 370,1756 370,1060ZM638,1104 637,1108 638,1110 640,1110 643,1108 643,1106 640,1103 638,1103ZM633,1118 632,1120 632,1124 634,1127 636,1128 644,1122 638,1117 634,1117ZM683,1128 684,1130 689,1130 686,1126 684,1126ZM1174,1230 1175,1236 1173,1244 1174,1246 1177,1244 1177,1236 1176,1231 1174,1228ZM1116,1234 1118,1236 1120,1234 1116,1234ZM1138,1252 1144,1255 1147,1254 1143,1252 1138,1251ZM1070,1290 1069,1292 1069,1296 1064,1302 1067,1308 1066,1312 1066,1314 1072,1316 1076,1314 1084,1314 1085,1312 1073,1296 1072,1290 1070,1289ZM500,1308 498,1310 499,1324 501,1326 504,1326 506,1324 509,1318 513,1314 513,1312 512,1311 500,1308ZM970,1322 972,1324 975,1324 974,1322 970,1322ZM972,1370 974,1378 976,1379 981,1378 982,1376 980,1371 976,1368 972,1368ZM1105,1370 1101,1376 1101,1380 1097,1386 1102,1392 1102,1396 1104,1394 1104,1390 1109,1380 1108,1372 1106,1369ZM1138,1380 1136,1384 1138,1388 1140,1390 1146,1392 1146,1398 1147,1400 1152,1400 1152,1397 1147,1390 1148,1386 1147,1384 1140,1379 1138,1379ZM446,1384 445,1392 446,1393 452,1390 449,1384 448,1383 446,1383ZM457,1384 454,1390 457,1392 460,1393 462,1393 467,1390 468,1388 467,1386 458,1383ZM983,1388 982,1390 982,1396 986,1400 988,1399 987,1390 986,1388 984,1387ZM1001,1402 1000,1404 1002,1406 1004,1406 1006,1405 1007,1402 1002,1401ZM458,1404 454,1405 448,1404 440,1408 438,1412 440,1418 440,1422 442,1425 446,1426 448,1426 452,1420 452,1412 452,1408 454,1406 459,1406 459,1404 458,1403ZM1071,1406 1072,1407 1074,1406 1072,1404ZM1146,1412 1150,1416 1153,1416 1153,1414 1152,1411 1146,1411ZM992,1422 990,1424 990,1426 992,1427 998,1426 998,1424 996,1422 992,1421ZM1046,1422 1046,1424 1046,1421ZM1178,1424 1175,1426 1176,1430 1182,1430 1184,1428 1183,1426 1178,1424ZM1144,1426 1142,1430 1148,1432 1158,1430 1161,1428 1160,1426 1156,1428 1152,1429 1144,1425ZM453,1430 452,1434 453,1436 462,1439 464,1441 465,1444 460,1446 452,1447 448,1446 448,1448 450,1449 454,1454 458,1454 466,1450 469,1446 474,1442 476,1440 474,1437 464,1432 458,1428 454,1429ZM480,1430 480,1435 484,1436 486,1434 485,1430 482,1428 480,1429ZM938,1434 936,1442 937,1452 930,1458 929,1464 930,1468 934,1474 934,1477 936,1475 938,1472 936,1468 936,1465 942,1459 947,1452 946,1448 945,1436 944,1434 942,1433 938,1433ZM1136,1434 1134,1436 1134,1438 1137,1438 1139,1436 1139,1434 1138,1433 1136,1433ZM1175,1458 1175,1460 1178,1460 1179,1460 1176,1457ZM916,1480 910,1485 890,1497 880,1510 871,1510 862,1517 856,1517 846,1515 843,1518 864,1524 863,1530 866,1540 865,1546 864,1550 859,1556 858,1568 856,1572 848,1586 842,1588 832,1589 829,1592 828,1602 826,1604 814,1606 800,1614 799,1618 800,1626 802,1627 807,1620 810,1618 814,1619 816,1624 812,1628 805,1634 800,1641 797,1644 780,1650 776,1650 770,1646 760,1645 748,1648 746,1652 745,1666 747,1670 752,1676 752,1684 751,1690 752,1692 756,1692 762,1690 771,1684 780,1666 782,1666 788,1670 792,1671 799,1668 800,1664 798,1658 799,1656 811,1648 816,1636 823,1632 828,1622 833,1618 837,1610 846,1602 854,1600 856,1598 860,1585 872,1578 873,1576 873,1564 879,1554 879,1544 880,1540 882,1538 884,1539 890,1544 894,1545 896,1544 897,1538 900,1532 900,1528 892,1522 890,1520 894,1512 891,1506 891,1502 894,1498 903,1494 910,1488 928,1482 920,1479 916,1480ZM771,1492 766,1494 758,1494 744,1505 738,1508 732,1512 727,1516 728,1518 730,1518 740,1515 744,1517 746,1516 751,1512 755,1506 760,1503 767,1506 772,1514 777,1508 776,1500 777,1492 774,1490 772,1491ZM436,1496 433,1498 432,1500 434,1504 436,1503 440,1498 439,1496 436,1495ZM1224,1500 1224,1503 1226,1505 1229,1504 1229,1502 1228,1500 1226,1499 1224,1500ZM434,1506 434,1510 436,1512 438,1510 436,1506 434,1505ZM446,1506 446,1508 448,1508 450,1506 448,1505 446,1505ZM977,1512 974,1515 970,1517 968,1519 968,1527 970,1526 971,1524 974,1520 980,1518 983,1516 981,1512 978,1510ZM773,1516 773,1520 776,1524 791,1532 798,1534 802,1534 813,1530 806,1528 802,1529 796,1529 784,1519 774,1515ZM708,1518 706,1522 708,1526 714,1526 721,1524 722,1522 719,1520 712,1517 708,1517ZM946,1518 950,1520 953,1520 953,1518 950,1516 946,1517ZM939,1528 932,1533 928,1533 922,1530 920,1530 918,1532 917,1538 918,1542 920,1543 924,1543 926,1546 922,1556 919,1558 914,1561 900,1567 896,1566 892,1560 890,1559 888,1561 885,1568 886,1571 892,1576 896,1584 898,1585 902,1582 902,1580 899,1576 900,1574 902,1571 904,1571 906,1573 907,1578 908,1580 914,1575 916,1574 918,1576 916,1584 910,1587 910,1589 918,1591 924,1598 926,1598 932,1594 933,1592 930,1587 926,1584 926,1582 928,1579 942,1568 943,1564 941,1558 942,1556 947,1554 948,1552 945,1542 943,1538 943,1536 948,1532 947,1530 944,1526 940,1526ZM952,1534 951,1538 952,1542 956,1546 964,1544 966,1542 964,1534 952,1533ZM1190,1534 1188,1538 1181,1546 1186,1548 1190,1552 1192,1552 1192,1537 1190,1533ZM951,1556 948,1562 946,1568 946,1570 948,1570 957,1568 959,1566 956,1556 954,1554 952,1555ZM443,1590 441,1594 442,1597 446,1596 452,1597 455,1596 454,1592 450,1588 446,1588 444,1588ZM1150,1590 1147,1592 1146,1594 1146,1604 1148,1608 1154,1612 1157,1612 1158,1610 1156,1606 1157,1602 1160,1600 1164,1603 1166,1602 1166,1600 1162,1594 1154,1588 1152,1588 1150,1589ZM691,1612 690,1614 692,1618 696,1620 700,1621 702,1620 700,1613 696,1611 692,1610ZM1226,1612 1224,1614 1224,1616 1226,1617 1229,1616 1230,1614 1226,1612ZM1193,1618 1193,1622 1190,1628 1191,1630 1196,1631 1202,1626 1203,1622 1201,1620 1194,1616ZM1210,1634 1209,1636 1210,1638 1212,1636 1210,1633ZM996,1644 996,1650 998,1652 1000,1650 1000,1646 998,1643 996,1643ZM1216,1658 1214,1660 1214,1664 1215,1666 1218,1667 1220,1666 1222,1660 1220,1656 1218,1656 1216,1658ZM1207,1670 1202,1674 1200,1686 1199,1690 1194,1692 1184,1693 1181,1696 1180,1706 1182,1709 1184,1710 1186,1709 1190,1704 1192,1702 1198,1703 1201,1708 1204,1710 1206,1710 1208,1708 1204,1702 1203,1700 1205,1696 1210,1688 1211,1682 1215,1672 1214,1669 1212,1668 1208,1669ZM1222,1680 1215,1688 1216,1692 1218,1694 1220,1694 1224,1686 1227,1682 1226,1679 1224,1678 1222,1679ZM1043,1694 1044,1702 1048,1698 1046,1694 1044,1693ZM1183,1718 1184,1719 1186,1718 1184,1717ZM684,1720 678,1723 674,1724 672,1726 676,1730 678,1734 686,1728 688,1720 686,1719 684,1719ZM707,1722 701,1726 701,1728 707,1734 704,1740 708,1746 718,1746 720,1745 722,1741 723,1738 723,1734 718,1730 716,1724 712,1721 708,1721ZM1013,1728 1014,1730 1018,1732 1019,1730 1018,1727 1014,1727ZM1018,1738 1013,1742 1013,1744 1018,1750 1020,1755 1022,1755 1023,1752 1020,1748 1021,1740 1020,1738 1018,1737ZM1038,1753 1040,1754 1041,1756 1036,1756 1037,1754Z"/>
<path fill="#1373d9" d="M372,1060 602,1060 607,1072 612,1076 615,1080 616,1082 616,1088 617,1090 618,1091 624,1092 626,1094 628,1106 626,1109 620,1107 618,1108 618,1112 623,1116 624,1120 622,1122 614,1130 613,1132 621,1142 624,1143 632,1143 644,1140 650,1135 654,1133 664,1137 668,1137 674,1135 678,1136 688,1141 692,1142 697,1142 700,1136 700,1131 699,1124 701,1114 699,1112 694,1111 692,1109 689,1100 690,1094 695,1084 692,1070 688,1069 682,1070 678,1076 674,1077 666,1073 660,1069 651,1066 647,1060 1232,1060 1233,1068 1232,1072 1230,1076 1222,1081 1221,1084 1222,1108 1220,1111 1218,1112 1222,1112 1224,1113 1228,1118 1227,1124 1224,1130 1224,1144 1221,1158 1216,1168 1208,1175 1205,1186 1198,1192 1193,1206 1182,1212 1168,1220 1166,1222 1166,1224 1172,1236 1170,1248 1172,1249 1178,1249 1180,1246 1180,1232 1179,1226 1180,1222 1192,1215 1204,1214 1213,1210 1224,1194 1225,1182 1228,1169 1232,1162 1233,1154 1234,1153 1238,1153 1238,1218 1236,1220 1236,1222 1238,1226 1238,1237 1234,1240 1232,1248 1226,1254 1225,1262 1226,1266 1220,1269 1214,1276 1206,1279 1194,1279 1186,1276 1178,1270 1174,1266 1168,1267 1166,1270 1165,1272 1166,1278 1168,1280 1177,1282 1178,1284 1174,1293 1166,1292 1163,1290 1162,1286 1158,1286 1152,1292 1149,1298 1146,1301 1144,1301 1143,1300 1142,1298 1140,1296 1139,1298 1142,1302 1138,1310 1136,1311 1124,1312 1122,1302 1118,1303 1117,1302 1118,1299 1122,1299 1124,1299 1127,1294 1124,1292 1110,1289 1104,1286 1100,1291 1098,1291 1096,1290 1095,1284 1096,1282 1100,1283 1101,1282 1097,1278 1094,1276 1080,1279 1068,1284 1060,1284 1056,1292 1050,1296 1049,1302 1050,1310 1048,1312 1046,1312 1042,1308 1040,1309 1039,1312 1034,1315 1028,1323 1020,1326 1017,1328 1017,1332 1020,1338 1012,1342 1008,1347 1006,1348 1000,1344 996,1346 995,1350 995,1352 1002,1353 1004,1356 1000,1362 994,1363 986,1361 984,1360 983,1356 978,1351 962,1357 961,1372 962,1376 967,1382 968,1386 965,1396 965,1402 968,1414 974,1418 977,1426 976,1431 974,1432 966,1433 960,1428 958,1428 955,1432 955,1446 954,1448 952,1449 950,1446 949,1436 947,1432 942,1430 936,1432 934,1440 934,1452 928,1458 927,1462 927,1468 930,1474 930,1476 926,1478 920,1476 916,1477 891,1496 880,1505 870,1508 862,1515 860,1515 854,1515 846,1513 840,1513 837,1516 835,1522 832,1523 814,1526 804,1520 802,1521 798,1525 796,1525 792,1523 780,1512 778,1500 780,1492 778,1488 774,1487 766,1490 756,1491 744,1503 736,1506 728,1511 716,1515 710,1513 706,1514 704,1516 703,1520 702,1532 704,1534 708,1536 712,1540 714,1539 717,1532 718,1530 726,1528 732,1523 736,1524 738,1525 742,1534 744,1536 748,1537 752,1536 754,1532 750,1526 751,1520 754,1514 758,1512 764,1515 772,1524 777,1528 788,1533 798,1536 826,1532 838,1528 844,1523 848,1522 851,1524 852,1526 851,1532 860,1535 861,1540 858,1545 848,1546 836,1556 835,1560 836,1563 842,1566 840,1576 843,1580 842,1582 840,1584 824,1586 816,1592 815,1596 804,1599 802,1600 796,1595 790,1597 786,1602 787,1610 784,1613 776,1616 774,1618 774,1616 771,1614 766,1613 765,1616 765,1620 768,1621 769,1620 774,1618 775,1620 774,1622 766,1623 756,1634 746,1639 744,1642 742,1646 741,1666 743,1670 750,1678 750,1684 748,1694 756,1700 756,1704 744,1708 736,1706 734,1707 720,1715 716,1716 710,1714 700,1702 696,1700 692,1705 684,1707 678,1714 674,1714 666,1711 660,1714 656,1720 644,1720 636,1714 628,1711 620,1706 620,1698 612,1689 608,1680 602,1677 596,1680 594,1674 598,1675 600,1673 601,1668 592,1658 590,1657 586,1658 582,1656 576,1656 574,1654 572,1651 568,1648 574,1644 576,1638 574,1636 570,1638 566,1637 563,1628 558,1621 550,1614 556,1596 558,1594 564,1594 568,1592 571,1590 572,1585 578,1588 583,1592 586,1593 592,1588 606,1583 610,1574 618,1570 624,1570 618,1569 616,1566 617,1556 616,1552 614,1550 612,1551 604,1559 600,1558 599,1556 597,1548 586,1538 584,1530 584,1526 586,1521 596,1524 604,1529 612,1527 626,1516 624,1513 620,1513 618,1512 618,1510 620,1506 624,1506 628,1502 628,1500 624,1496 624,1494 631,1492 631,1490 629,1480 630,1476 634,1474 638,1475 640,1477 642,1482 644,1483 647,1480 648,1476 644,1472 641,1462 646,1456 648,1447 646,1445 640,1447 638,1446 634,1438 634,1430 638,1426 641,1426 641,1428 637,1432 637,1434 638,1437 642,1439 646,1437 650,1433 652,1432 656,1434 656,1431 652,1424 644,1422 643,1420 640,1410 642,1404 644,1396 649,1390 656,1386 660,1380 658,1376 650,1370 646,1364 645,1360 644,1350 644,1340 649,1330 647,1322 655,1312 656,1306 653,1302 644,1298 642,1296 642,1292 647,1280 646,1276 641,1272 640,1270 640,1258 642,1252 643,1248 640,1240 633,1230 628,1226 626,1222 626,1216 627,1210 627,1206 620,1200 620,1198 620,1179 616,1174 614,1168 607,1162 608,1158 611,1154 609,1146 607,1142 607,1138 606,1137 604,1139 603,1146 602,1148 594,1153 592,1154 588,1152 576,1140 570,1137 559,1160 550,1167 544,1176 541,1182 541,1188 546,1196 544,1206 546,1208 553,1212 553,1214 548,1216 540,1214 538,1215 541,1222 539,1228 535,1234 537,1238 532,1244 530,1258 532,1264 531,1266 526,1268 525,1270 524,1275 522,1276 520,1276 519,1272 515,1268 514,1264 512,1264 502,1271 500,1271 496,1268 494,1269 488,1276 476,1278 472,1277 465,1272 462,1272 460,1274 460,1276 472,1282 475,1286 474,1288 471,1290 464,1292 462,1294 461,1300 465,1308 464,1310 460,1312 452,1314 450,1316 450,1318 453,1322 454,1334 452,1338 446,1343 440,1345 435,1344 430,1338 422,1332 420,1334 419,1338 419,1342 422,1350 419,1358 420,1362 428,1364 436,1373 438,1378 435,1386 428,1392 420,1396 418,1400 417,1406 419,1410 417,1422 420,1428 420,1430 416,1446 416,1452 418,1455 424,1453 426,1454 428,1458 427,1462 428,1465 432,1460 434,1460 436,1462 436,1468 435,1472 431,1476 424,1487 416,1489 414,1490 414,1494 418,1500 422,1511 428,1516 435,1524 437,1538 443,1542 448,1552 446,1554 437,1558 434,1560 433,1564 437,1584 437,1588 432,1594 432,1596 437,1608 437,1616 439,1622 438,1640 440,1646 432,1649 423,1658 428,1674 430,1675 436,1675 438,1678 433,1686 428,1689 426,1694 432,1697 433,1700 428,1706 419,1710 417,1712 412,1720 410,1726 410,1728 414,1733 415,1740 418,1744 419,1750 422,1756 370,1756 370,1480 374,1478 374,1476 370,1475 370,1060ZM698,1078 696,1080 697,1082 700,1081 703,1080 702,1077 698,1077ZM528,1214 527,1216 528,1218 532,1216 533,1214 530,1212 528,1213ZM1117,1232 1110,1235 1110,1236 1110,1238 1118,1240 1123,1246 1132,1250 1142,1257 1146,1258 1166,1255 1169,1254 1168,1251 1152,1253 1138,1248 1135,1246 1133,1242 1140,1236 1138,1234 1130,1234 1124,1231 1118,1231ZM980,1314 976,1317 968,1317 960,1320 951,1326 944,1333 935,1336 934,1340 936,1349 938,1348 943,1342 950,1337 954,1335 960,1337 964,1337 966,1335 969,1330 970,1328 980,1327 983,1324 986,1314 982,1312 980,1313ZM689,1434 688,1436 691,1436 692,1434 690,1433ZM391,1438 388,1439 388,1442 388,1447 390,1450 400,1452 404,1460 406,1461 411,1460 411,1458 406,1452 404,1448 400,1444 395,1438 392,1437ZM386,1460 386,1464 391,1464 386,1458ZM694,1570 694,1572 696,1572 697,1570 694,1570ZM721,1574 716,1576 714,1582 714,1584 716,1581 724,1580 726,1578 728,1576 727,1574 722,1573ZM696,1580 690,1588 691,1592 694,1594 699,1592 703,1586 703,1584 700,1580 696,1579ZM584,1602 582,1604 582,1606 584,1606 586,1606 587,1604 586,1602 584,1601ZM644,1604 644,1606 646,1606 647,1604 644,1603ZM656,1606 655,1612 656,1614 660,1614 664,1612 665,1608 664,1606 660,1604 656,1604ZM690,1606 685,1610 684,1614 688,1621 696,1625 704,1626 706,1625 707,1620 702,1610 698,1607 690,1605ZM587,1652 588,1653 590,1652 588,1651ZM554,1227 559,1228 566,1230 570,1234 570,1236 568,1238 562,1235 556,1235 553,1232 552,1230 553,1228ZM554,1276 562,1280 563,1284 562,1286 560,1288 555,1290 554,1292 555,1298 553,1302 548,1303 542,1302 540,1300 540,1296 542,1293 550,1290 551,1288 550,1280 551,1278 554,1276ZM528,1281 532,1280 535,1282 531,1290 528,1293 526,1293 523,1290 522,1288 523,1286 528,1282ZM1212,1283 1214,1284 1215,1288 1210,1291 1209,1290 1209,1288 1211,1284ZM1186,1287 1192,1288 1186,1297 1180,1297 1178,1296 1179,1294 1182,1290 1186,1288ZM486,1288 488,1292 486,1293 485,1290ZM1184,1305 1186,1304 1190,1306 1191,1308 1189,1314 1192,1316 1196,1317 1197,1320 1192,1319 1180,1321 1176,1320 1182,1312 1184,1306ZM1140,1323 1142,1323 1145,1326 1145,1328 1143,1330 1140,1330 1138,1328 1138,1326 1139,1324ZM516,1335 518,1336 518,1338 516,1339 514,1341 512,1340 513,1338 516,1336ZM1110,1334 1112,1334 1114,1338 1112,1340 1110,1342 1109,1340 1109,1336ZM1130,1334 1132,1342 1134,1344 1139,1346 1140,1348 1136,1352 1141,1358 1141,1360 1138,1363 1134,1363 1126,1360 1120,1356 1118,1354 1128,1344 1129,1336ZM1222,1345 1230,1345 1238,1349 1238,1382 1230,1384 1220,1380 1214,1382 1214,1386 1216,1391 1218,1391 1224,1389 1227,1390 1227,1392 1224,1398 1222,1400 1218,1400 1214,1404 1212,1400 1205,1394 1205,1386 1206,1380 1210,1379 1217,1374 1218,1372 1217,1370 1212,1370 1208,1372 1204,1376 1198,1375 1194,1376 1190,1382 1188,1381 1187,1380 1185,1370 1188,1368 1194,1368 1198,1367 1210,1353 1214,1352 1218,1356 1222,1356 1224,1354 1221,1348 1221,1346ZM516,1347 522,1347 524,1350 520,1355 517,1358 512,1363 508,1363 504,1360 498,1360 497,1358 500,1354 510,1352 516,1348ZM1150,1349 1152,1349 1154,1352 1152,1358 1146,1355 1146,1352 1149,1350ZM1020,1357 1020,1360 1019,1358ZM1170,1357 1173,1358 1174,1360 1173,1364 1173,1370 1170,1372 1168,1370 1169,1366 1168,1360 1169,1358ZM1006,1369 1008,1369 1012,1374 1016,1376 1018,1378 1017,1380 1012,1382 1010,1381 1008,1378 1004,1376 1002,1374 1005,1370ZM500,1373 503,1374 500,1376 499,1374ZM496,1386 498,1386 500,1388 500,1390 496,1391 495,1388ZM422,1407 424,1406 427,1408 424,1410 422,1410 422,1408ZM1222,1415 1223,1418 1222,1418 1221,1416ZM1024,1435 1026,1435 1029,1438 1030,1440 1028,1442 1026,1443 1024,1442 1024,1436ZM1042,1443 1046,1446 1044,1447 1042,1447 1041,1446 1041,1444ZM612,1449 616,1450 618,1452 617,1456 612,1464 612,1466 616,1468 619,1472 618,1478 616,1481 614,1482 608,1479 600,1476 596,1472 596,1470 598,1467 604,1466 608,1464 607,1452 611,1450ZM958,1453 960,1456 958,1456 958,1454ZM1036,1453 1042,1455 1048,1453 1054,1458 1050,1462 1052,1468 1052,1472 1050,1474 1044,1477 1039,1486 1040,1488 1042,1489 1048,1485 1050,1489 1050,1494 1048,1496 1036,1495 1032,1494 1026,1491 1016,1489 1014,1490 1010,1495 1002,1496 1001,1494 1002,1490 1012,1486 1015,1482 1015,1480 1013,1478 1007,1474 1009,1470 1010,1463 1014,1461 1018,1465 1020,1464 1026,1459 1035,1454ZM1035,1472 1036,1472 1039,1472 1036,1470ZM1092,1457 1096,1458 1097,1460 1096,1463 1094,1465 1092,1466 1090,1463 1090,1460 1092,1458ZM502,1459 507,1460 508,1464 506,1470 505,1478 502,1481 499,1476 496,1468 497,1464 502,1460ZM946,1461 948,1460 951,1462 951,1468 954,1472 949,1480 946,1489 940,1492 936,1499 926,1503 922,1507 914,1509 912,1516 912,1524 910,1525 906,1522 900,1519 899,1518 898,1512 894,1504 894,1502 910,1491 920,1490 926,1486 936,1483 942,1476 946,1462ZM1138,1465 1141,1466 1141,1468 1137,1472 1137,1474 1141,1480 1134,1490 1133,1492 1140,1502 1142,1501 1144,1494 1148,1499 1154,1512 1156,1513 1163,1514 1163,1520 1160,1530 1163,1536 1162,1538 1160,1540 1154,1540 1152,1540 1152,1542 1155,1544 1158,1552 1162,1554 1162,1558 1160,1559 1156,1554 1152,1555 1150,1553 1146,1548 1134,1548 1122,1554 1117,1560 1116,1566 1114,1570 1113,1574 1107,1578 1109,1584 1109,1586 1106,1586 1104,1586 1100,1582 1092,1582 1090,1579 1088,1578 1084,1579 1083,1578 1078,1566 1078,1564 1083,1554 1078,1552 1070,1554 1062,1551 1060,1549 1060,1544 1064,1534 1061,1530 1056,1526 1056,1524 1064,1520 1066,1512 1073,1508 1074,1504 1078,1500 1079,1496 1080,1494 1089,1492 1090,1490 1087,1482 1088,1473 1090,1469 1092,1468 1098,1470 1103,1470 1109,1474 1111,1478 1118,1479 1124,1477 1127,1474 1128,1470 1134,1469 1137,1466ZM1098,1496 1096,1496 1094,1501 1086,1504 1083,1506 1082,1510 1086,1514 1088,1514 1096,1508 1099,1504 1100,1502 1098,1496ZM1112,1506 1108,1508 1107,1512 1108,1520 1110,1521 1115,1520 1118,1512 1116,1505 1112,1505ZM1079,1520 1077,1522 1073,1530 1072,1534 1076,1536 1089,1534 1090,1532 1092,1528 1092,1524 1090,1522 1084,1519 1080,1519ZM1107,1540 1106,1546 1104,1548 1100,1549 1092,1548 1090,1550 1090,1552 1092,1553 1104,1555 1108,1560 1112,1561 1115,1560 1117,1548 1117,1546 1108,1538ZM1095,1572 1096,1573 1099,1572 1096,1571ZM964,1469 970,1472 970,1474 969,1482 970,1486 968,1487 963,1482 962,1474 963,1470ZM484,1478 488,1478 485,1482 482,1482 482,1480 484,1478ZM1160,1477 1164,1477 1167,1480 1168,1482 1160,1490 1158,1491 1156,1490 1156,1486 1160,1478ZM982,1480 984,1480 986,1481 987,1486 984,1486 982,1482ZM1190,1481 1197,1488 1197,1498 1196,1500 1192,1500 1182,1498 1174,1495 1174,1490 1176,1487 1185,1486 1189,1482ZM492,1491 494,1490 496,1491 498,1496 498,1500 489,1510 486,1510 483,1508 483,1504 485,1500 492,1492ZM1162,1497 1166,1498 1169,1500 1169,1502 1166,1503 1164,1503 1162,1500 1162,1498ZM1236,1522 1238,1520 1238,1523 1236,1522ZM1172,1563 1178,1563 1181,1564 1181,1566 1178,1569 1178,1574 1175,1578 1175,1584 1172,1586 1168,1582 1164,1570 1166,1566 1171,1564ZM982,1565 986,1570 988,1571 996,1571 1002,1574 1010,1574 1015,1578 1016,1580 1015,1586 1018,1594 1014,1596 1013,1598 1014,1601 1016,1601 1018,1600 1018,1594 1028,1602 1042,1603 1045,1600 1048,1591 1052,1589 1057,1590 1059,1592 1060,1596 1058,1599 1055,1602 1054,1608 1051,1612 1052,1614 1056,1618 1064,1618 1066,1620 1066,1624 1062,1627 1054,1628 1051,1630 1048,1632 1046,1632 1042,1628 1036,1626 1023,1610 1022,1607 1012,1607 1004,1604 1000,1606 996,1605 992,1606 987,1612 987,1616 988,1620 988,1622 986,1623 980,1624 980,1634 978,1636 972,1635 969,1628 956,1623 954,1621 953,1618 954,1615 958,1616 960,1615 962,1602 963,1600 966,1597 974,1597 978,1600 980,1608 983,1606 985,1596 982,1593 977,1592 978,1590 982,1589 983,1586 984,1582 983,1580 976,1576 976,1574 982,1566ZM998,1596 1000,1599 1002,1598 1001,1596 998,1595ZM1020,1565 1024,1564 1026,1565 1026,1568 1024,1571 1020,1571 1019,1570 1019,1566ZM1120,1569 1123,1570 1125,1574 1124,1577 1122,1579 1119,1576 1119,1570ZM1198,1581 1200,1580 1202,1580 1206,1584 1206,1588 1202,1590 1200,1594 1192,1595 1189,1592 1189,1590 1189,1588 1196,1585 1198,1582ZM1204,1595 1213,1600 1214,1602 1214,1606 1211,1606 1205,1602 1203,1600 1203,1596ZM1164,1625 1168,1628 1171,1634 1170,1636 1166,1637 1162,1636 1159,1632 1161,1628 1164,1626ZM924,1627 926,1626 928,1626 935,1636 940,1640 942,1648 942,1650 938,1650 934,1649 930,1643 926,1639 924,1634 924,1628ZM1060,1639 1064,1640 1067,1646 1072,1650 1074,1649 1076,1642 1078,1640 1082,1640 1088,1642 1094,1640 1098,1640 1105,1646 1109,1656 1114,1659 1126,1653 1132,1650 1133,1648 1134,1642 1136,1640 1138,1640 1142,1643 1150,1644 1158,1643 1164,1649 1172,1647 1175,1648 1172,1654 1173,1656 1176,1657 1182,1656 1188,1657 1191,1660 1192,1664 1186,1671 1168,1679 1167,1682 1169,1686 1168,1688 1158,1692 1154,1697 1148,1697 1140,1695 1134,1691 1128,1697 1122,1698 1116,1692 1115,1690 1117,1686 1111,1682 1109,1678 1110,1674 1119,1676 1120,1674 1120,1670 1110,1665 1102,1667 1094,1663 1088,1658 1076,1653 1074,1654 1071,1658 1063,1660 1063,1652 1064,1646 1059,1642 1060,1640ZM962,1641 966,1642 967,1644 964,1646 962,1646 961,1644 961,1642ZM444,1644 448,1642 450,1643 451,1646 448,1648 445,1648 442,1646 444,1644ZM1030,1652 1033,1654 1033,1658 1026,1661 1025,1660 1025,1656 1028,1652 1030,1652ZM1042,1654 1044,1654 1046,1656 1042,1656 1042,1656ZM488,1658 490,1658 492,1659 493,1664 492,1666 486,1668 486,1666 487,1660ZM974,1665 980,1664 987,1666 987,1674 985,1680 985,1682 988,1685 1000,1689 1002,1689 1006,1685 1007,1686 1002,1694 1000,1695 994,1694 990,1694 989,1696 988,1702 986,1704 982,1704 980,1700 980,1697 985,1694 984,1692 980,1690 974,1693 972,1692 973,1688 978,1684 979,1680 979,1678 973,1672 973,1668 974,1666ZM482,1669 484,1668 485,1670 482,1672 482,1670ZM1022,1672 1024,1672 1026,1674 1027,1676 1024,1679 1020,1682 1019,1680 1020,1676 1020,1673 1022,1672ZM894,1677 900,1677 902,1678 902,1680 897,1682 893,1678ZM840,1689 842,1692 840,1693 839,1692 840,1690ZM762,1695 766,1694 769,1696 770,1700 768,1702 764,1703 762,1702 761,1698 761,1696ZM902,1699 908,1700 913,1704 913,1706 908,1712 909,1716 912,1718 920,1721 924,1726 924,1730 919,1732 918,1734 917,1740 918,1741 920,1741 922,1740 924,1735 926,1734 930,1738 932,1748 926,1752 923,1756 916,1756 916,1750 915,1744 905,1738 904,1736 903,1732 904,1730 908,1726 896,1714 888,1712 887,1710 886,1706 888,1702 890,1703 894,1706 896,1706 902,1700ZM1158,1698 1162,1699 1164,1702 1161,1708 1164,1714 1163,1722 1160,1726 1156,1723 1152,1723 1151,1722 1152,1718 1156,1715 1159,1708 1157,1704 1157,1700ZM920,1701 920,1704 918,1704 920,1702ZM1002,1701 1004,1702 1008,1706 1006,1710 1004,1711 1002,1710 1001,1708 1002,1702ZM790,1703 793,1704 792,1707 790,1708 788,1708 790,1704ZM922,1713 924,1716 922,1717 921,1716 922,1714ZM776,1715 778,1714 784,1715 788,1717 794,1719 798,1722 802,1721 805,1716 810,1715 817,1718 818,1720 819,1724 818,1725 816,1726 813,1724 810,1719 808,1719 805,1722 805,1724 806,1726 810,1729 810,1733 808,1734 804,1733 800,1734 798,1733 794,1726 792,1724 780,1720 778,1721 775,1730 771,1744 762,1752 758,1752 759,1748 765,1742 766,1732 765,1724 768,1719 776,1716ZM1070,1721 1072,1720 1073,1726 1068,1728 1067,1726 1070,1722ZM1200,1721 1206,1730 1206,1732 1204,1733 1202,1733 1201,1732 1199,1724 1199,1722ZM1152,1729 1157,1730 1158,1732 1154,1734 1153,1734 1152,1730ZM1162,1729 1166,1729 1168,1732 1167,1736 1164,1738 1160,1732 1161,1730ZM970,1742 974,1744 975,1748 970,1756 950,1756 952,1750 954,1750 958,1751 964,1744 969,1742ZM1160,1741 1162,1740 1164,1742 1162,1749 1160,1750 1158,1746 1160,1742ZM1238,1740 1238,1751 1235,1748 1235,1744 1237,1742ZM1196,1742 1198,1742 1199,1744 1196,1745 1196,1744ZM502,1745 504,1746 505,1748 504,1749 502,1750 501,1748 502,1746ZM936,1750 940,1752 944,1756 933,1756 935,1752Z"/>
<path fill="#0a86ec" d="M372,1060 577,1060 584,1070 592,1074 598,1079 604,1081 615,1096 616,1100 611,1106 609,1110 610,1116 600,1122 598,1122 596,1120 598,1112 596,1109 586,1104 580,1106 576,1112 578,1122 580,1123 588,1125 589,1128 588,1132 586,1134 582,1133 578,1132 570,1126 559,1130 558,1132 557,1134 562,1139 563,1144 562,1146 556,1156 538,1175 536,1175 528,1172 524,1174 522,1186 520,1190 516,1192 512,1196 510,1206 511,1208 514,1210 515,1212 514,1218 515,1230 520,1236 519,1246 514,1252 510,1253 508,1252 508,1249 515,1244 515,1242 508,1240 506,1244 502,1245 498,1243 497,1240 498,1236 502,1233 505,1230 502,1220 500,1218 497,1220 495,1226 493,1228 490,1232 488,1232 486,1230 488,1220 486,1214 482,1210 482,1208 484,1206 488,1210 490,1209 492,1208 492,1206 491,1204 484,1200 483,1198 485,1194 489,1190 490,1186 486,1183 482,1183 476,1180 470,1182 470,1188 478,1194 479,1198 478,1200 468,1204 464,1216 464,1222 461,1230 467,1238 470,1246 476,1244 480,1245 483,1248 482,1252 480,1255 477,1258 472,1264 468,1265 460,1264 454,1266 448,1274 446,1284 440,1288 434,1303 430,1306 426,1312 418,1312 414,1316 412,1320 413,1326 413,1328 410,1331 402,1330 398,1332 395,1336 396,1341 410,1352 416,1364 418,1366 424,1370 426,1376 419,1384 414,1394 404,1401 398,1409 394,1412 391,1416 388,1417 380,1419 376,1424 376,1426 377,1428 383,1432 384,1434 383,1462 380,1466 370,1469 370,1060ZM530,1126 524,1129 520,1134 519,1136 520,1138 522,1139 524,1138 526,1132 532,1133 535,1132 537,1128 535,1126 532,1125ZM508,1134 508,1136 510,1138 513,1138 514,1136 512,1134 508,1133ZM506,1162 505,1164 506,1165 506,1162ZM472,1166 469,1168 468,1172 465,1176 464,1178 466,1179 468,1179 470,1173 477,1170 477,1166 472,1166ZM489,1170 488,1176 490,1178 494,1176 495,1172 494,1169 490,1169ZM453,1180 454,1183 456,1184 458,1182 459,1180 454,1178ZM499,1202 498,1204 500,1206 502,1202 500,1200ZM449,1244 448,1247 452,1246 453,1244 450,1242ZM706,1060 1214,1060 1214,1061 1216,1061 1217,1060 1230,1060 1231,1068 1230,1072 1219,1082 1220,1092 1220,1104 1213,1114 1214,1118 1220,1122 1222,1126 1223,1144 1221,1156 1216,1168 1208,1174 1204,1182 1198,1188 1193,1196 1190,1203 1182,1210 1165,1220 1165,1224 1170,1238 1168,1248 1164,1250 1152,1251 1138,1246 1136,1244 1137,1242 1144,1236 1144,1234 1140,1232 1132,1232 1124,1230 1120,1230 1110,1234 1108,1236 1108,1238 1110,1240 1117,1242 1120,1248 1122,1249 1130,1250 1140,1258 1144,1259 1154,1257 1168,1257 1172,1254 1178,1254 1180,1254 1182,1250 1181,1240 1184,1224 1194,1216 1204,1216 1215,1212 1226,1194 1232,1170 1234,1168 1238,1167 1238,1213 1234,1214 1229,1220 1229,1222 1231,1228 1229,1234 1228,1244 1226,1248 1222,1252 1218,1262 1212,1268 1210,1268 1206,1265 1200,1265 1194,1265 1190,1267 1184,1268 1182,1267 1178,1262 1174,1261 1162,1266 1152,1267 1148,1268 1144,1272 1136,1285 1132,1288 1118,1282 1112,1270 1106,1272 1096,1270 1082,1273 1072,1279 1066,1280 1064,1280 1061,1272 1058,1268 1054,1268 1052,1270 1054,1280 1053,1286 1042,1293 1040,1300 1034,1306 1026,1320 1018,1323 1006,1324 1003,1326 998,1331 980,1336 978,1338 974,1346 970,1350 966,1351 960,1351 957,1354 955,1358 958,1366 959,1374 964,1386 960,1400 961,1408 958,1414 957,1418 948,1427 938,1429 935,1432 933,1440 933,1450 925,1460 925,1466 928,1474 927,1476 918,1475 908,1482 900,1484 897,1490 882,1503 869,1508 860,1514 854,1514 844,1511 838,1512 835,1514 831,1520 814,1524 804,1517 800,1517 794,1521 790,1518 782,1508 779,1502 780,1498 782,1492 782,1490 776,1486 772,1485 756,1489 744,1501 734,1505 728,1508 720,1509 714,1511 706,1509 703,1510 700,1518 698,1534 700,1537 708,1540 712,1544 714,1544 716,1542 720,1534 724,1532 730,1530 734,1530 738,1538 748,1541 752,1541 762,1535 764,1532 763,1528 756,1526 754,1524 755,1520 758,1518 763,1520 769,1526 780,1532 796,1537 800,1538 808,1536 822,1535 828,1537 832,1534 834,1534 835,1536 834,1538 828,1538 827,1542 827,1546 831,1556 829,1564 824,1568 820,1576 814,1583 806,1588 796,1588 779,1600 772,1605 766,1604 762,1598 756,1595 752,1600 744,1601 742,1604 740,1607 740,1612 738,1614 734,1616 730,1616 730,1618 734,1619 737,1628 740,1632 741,1636 740,1640 735,1646 739,1652 738,1656 730,1661 727,1668 728,1670 730,1671 738,1671 747,1678 749,1684 746,1694 749,1700 749,1702 747,1704 742,1704 732,1701 727,1706 716,1711 712,1710 707,1706 702,1698 700,1688 701,1682 699,1670 701,1660 702,1659 714,1655 718,1656 722,1659 727,1658 726,1655 724,1651 718,1651 714,1648 714,1646 718,1638 714,1634 714,1622 716,1618 720,1618 724,1616 724,1614 719,1608 719,1602 722,1601 726,1603 728,1602 732,1596 736,1594 744,1599 750,1592 754,1592 755,1592 755,1588 752,1583 743,1576 743,1574 748,1568 747,1562 745,1560 742,1559 738,1561 728,1562 720,1565 706,1567 702,1565 692,1561 682,1553 676,1541 668,1539 664,1539 662,1542 652,1547 648,1545 642,1547 641,1550 642,1554 648,1558 652,1558 654,1555 656,1554 658,1554 660,1556 660,1562 662,1567 664,1568 672,1564 676,1567 679,1574 677,1582 677,1584 682,1588 681,1592 685,1598 685,1600 680,1601 678,1600 672,1592 670,1592 664,1596 662,1596 656,1591 646,1594 641,1590 639,1590 638,1592 639,1598 638,1606 640,1614 644,1618 642,1630 630,1639 628,1638 626,1634 624,1633 620,1634 618,1638 618,1648 617,1654 618,1656 622,1654 622,1650 626,1647 634,1648 640,1645 644,1645 650,1646 652,1648 656,1654 660,1654 663,1644 658,1638 654,1637 652,1636 651,1632 652,1628 654,1626 658,1626 664,1632 671,1634 670,1636 667,1640 666,1644 668,1646 674,1646 676,1647 677,1652 674,1658 675,1664 678,1670 685,1672 687,1674 689,1678 688,1682 682,1686 680,1698 678,1699 672,1702 664,1703 660,1704 652,1713 648,1714 642,1708 632,1705 630,1696 629,1694 616,1684 616,1680 619,1676 619,1674 616,1666 614,1663 610,1664 608,1663 607,1662 606,1656 602,1655 598,1648 589,1642 589,1640 593,1634 593,1626 591,1622 587,1618 586,1616 594,1608 598,1596 601,1592 608,1589 616,1580 618,1579 630,1578 633,1576 636,1568 631,1564 633,1558 633,1548 630,1545 624,1546 618,1540 617,1538 618,1535 622,1536 624,1535 628,1531 632,1523 640,1520 642,1518 642,1515 637,1510 637,1508 641,1500 646,1492 652,1488 656,1476 655,1470 656,1468 666,1469 670,1468 671,1466 669,1458 673,1450 676,1448 684,1448 688,1444 694,1442 703,1434 704,1432 704,1425 710,1422 720,1419 722,1416 718,1414 718,1412 722,1403 722,1400 720,1398 720,1402 720,1406 716,1408 712,1409 704,1408 698,1404 696,1400 694,1399 692,1401 692,1408 690,1410 688,1412 678,1412 670,1415 664,1415 655,1408 655,1406 659,1402 662,1388 668,1383 670,1380 668,1376 662,1372 660,1366 652,1362 649,1358 649,1350 651,1344 651,1338 654,1330 656,1322 660,1320 670,1311 678,1314 684,1315 687,1312 690,1300 692,1296 698,1297 702,1294 703,1292 700,1290 694,1293 692,1292 690,1286 688,1284 686,1286 687,1292 682,1293 678,1290 676,1286 672,1284 670,1284 669,1286 668,1292 664,1297 662,1297 658,1295 650,1295 647,1292 652,1282 654,1260 650,1255 645,1242 645,1236 647,1230 634,1223 631,1218 632,1208 626,1196 626,1180 622,1170 622,1162 622,1160 628,1150 640,1146 650,1148 654,1144 658,1143 670,1147 678,1144 684,1148 688,1150 696,1148 700,1145 705,1128 705,1114 704,1110 702,1108 696,1106 694,1104 693,1098 695,1094 706,1086 708,1086 712,1090 713,1090 714,1088 713,1080 716,1072 715,1068 712,1065 706,1066 705,1066 705,1060ZM764,1206 764,1209 766,1210 768,1208 768,1206 766,1204 764,1205ZM1214,1238 1213,1240 1214,1241 1219,1240 1214,1238ZM979,1312 974,1315 966,1315 958,1320 950,1325 944,1331 936,1334 933,1336 932,1340 933,1348 936,1355 940,1360 942,1360 942,1348 947,1342 952,1339 960,1340 965,1340 968,1338 972,1331 980,1329 983,1328 987,1318 990,1314 984,1310 980,1311ZM684,1326 686,1326 687,1326 686,1324 684,1324ZM708,1376 708,1380 712,1385 716,1385 722,1384 723,1382 719,1378 710,1374 708,1375ZM942,1392 942,1398 935,1404 938,1404 943,1400 944,1396 942,1391ZM736,1414 732,1416 728,1421 722,1422 721,1426 723,1428 728,1430 737,1424 740,1418 738,1414 736,1413ZM654,1576 651,1580 654,1582 658,1583 662,1582 663,1580 660,1576 656,1574 654,1575ZM721,1634 720,1636 722,1637 724,1638 728,1636 728,1634 722,1632ZM625,1680 625,1682 626,1685 628,1686 631,1684 632,1680 630,1679 626,1679ZM641,1680 646,1690 650,1690 654,1688 655,1686 650,1680 646,1678 642,1679ZM410,1468 413,1468 416,1470 418,1476 417,1482 412,1488 413,1498 418,1510 420,1522 423,1528 425,1534 426,1535 430,1537 432,1542 431,1548 433,1554 429,1560 427,1566 423,1574 424,1577 430,1580 431,1584 430,1586 425,1590 422,1596 428,1608 428,1616 430,1630 426,1634 422,1641 416,1646 415,1650 414,1660 420,1668 420,1670 418,1678 420,1684 419,1686 414,1689 411,1694 411,1700 409,1704 402,1707 400,1710 399,1718 392,1719 391,1722 398,1729 401,1734 406,1740 409,1748 413,1752 415,1756 370,1756 370,1724 373,1722 370,1717 370,1485 384,1481 386,1480 385,1476 388,1473 390,1473 396,1477 400,1476 406,1470 410,1468ZM379,1718 377,1722 378,1723 382,1724 387,1722 388,1720 384,1717 380,1717ZM910,1495 910,1498 904,1502 902,1503 901,1502 902,1500 910,1496ZM680,1637 682,1637 684,1639 684,1642 680,1642 679,1640 680,1638ZM684,1651 688,1654 692,1653 694,1654 696,1658 693,1660 684,1662 682,1661 682,1658 682,1654 684,1652ZM1156,1665 1160,1664 1164,1665 1164,1670 1162,1672 1158,1672 1157,1670 1156,1666Z"/>
<path fill="#0098fe" d="M372,1060 562,1060 565,1068 568,1070 578,1074 585,1086 580,1089 575,1096 567,1100 566,1110 558,1111 550,1116 544,1117 538,1117 530,1113 528,1112 524,1108 520,1108 516,1112 514,1112 508,1110 502,1113 494,1109 493,1108 498,1102 502,1101 506,1102 511,1100 512,1096 510,1090 508,1089 498,1094 492,1094 490,1095 488,1101 484,1106 483,1112 479,1118 478,1132 479,1140 476,1143 472,1142 472,1144 482,1151 484,1156 482,1157 480,1157 468,1154 464,1156 460,1162 461,1168 460,1171 458,1172 450,1175 444,1188 438,1196 438,1200 440,1206 438,1228 434,1236 437,1248 432,1256 426,1264 429,1274 427,1288 424,1294 422,1302 415,1306 408,1314 397,1324 391,1336 392,1342 406,1354 414,1366 419,1372 419,1374 410,1383 404,1388 396,1402 390,1407 386,1413 384,1414 376,1412 374,1416 370,1417 370,1060ZM517,1100 517,1102 520,1102 523,1100 520,1098 518,1099ZM710,1060 1212,1060 1212,1064 1214,1066 1216,1066 1219,1064 1220,1060 1228,1060 1229,1066 1228,1070 1224,1074 1218,1077 1216,1079 1219,1092 1218,1098 1216,1104 1211,1112 1210,1116 1212,1120 1221,1128 1222,1144 1222,1150 1220,1158 1215,1168 1206,1174 1202,1181 1198,1184 1194,1192 1186,1198 1180,1207 1164,1220 1164,1224 1169,1238 1166,1248 1162,1250 1154,1251 1140,1246 1139,1244 1140,1242 1148,1234 1147,1232 1144,1230 1132,1231 1120,1229 1108,1234 1106,1236 1108,1240 1116,1244 1118,1252 1120,1255 1126,1251 1130,1252 1140,1260 1144,1261 1154,1259 1170,1260 1164,1262 1146,1265 1141,1270 1138,1278 1134,1280 1130,1282 1126,1281 1124,1280 1115,1266 1112,1265 1104,1267 1088,1265 1080,1268 1072,1275 1068,1276 1066,1275 1062,1266 1060,1265 1052,1266 1049,1268 1049,1270 1052,1278 1051,1284 1048,1286 1040,1289 1038,1291 1036,1298 1031,1304 1026,1316 1022,1319 1018,1320 1008,1319 1002,1321 994,1321 992,1322 991,1328 988,1329 987,1328 988,1320 993,1314 991,1312 982,1309 974,1313 966,1314 960,1318 950,1323 944,1331 934,1333 932,1335 931,1340 932,1349 936,1357 942,1364 945,1372 940,1384 940,1398 934,1402 933,1404 934,1406 938,1407 945,1400 945,1396 943,1386 945,1380 949,1374 949,1372 944,1360 944,1353 946,1352 950,1354 952,1360 956,1366 958,1376 962,1386 956,1400 953,1412 950,1415 948,1416 945,1424 936,1428 933,1432 931,1440 931,1450 925,1456 924,1460 925,1474 918,1474 906,1482 898,1482 896,1490 884,1500 868,1507 862,1512 856,1513 840,1510 834,1512 825,1520 816,1522 814,1522 809,1518 804,1516 800,1515 792,1516 782,1506 780,1502 781,1498 784,1492 784,1490 778,1485 774,1484 764,1483 762,1484 754,1489 747,1498 740,1502 726,1506 718,1504 712,1504 710,1504 709,1502 710,1500 722,1490 722,1482 718,1464 718,1459 710,1460 708,1457 706,1456 706,1460 703,1462 696,1462 688,1465 688,1468 689,1470 696,1473 697,1476 694,1477 688,1478 682,1483 680,1483 677,1480 675,1476 680,1466 680,1464 676,1460 675,1458 678,1453 684,1454 690,1452 692,1452 696,1456 697,1454 696,1452 702,1442 708,1437 716,1434 722,1435 726,1438 732,1452 738,1454 743,1452 745,1442 741,1436 742,1434 748,1430 749,1426 744,1411 742,1408 736,1407 730,1413 724,1413 721,1412 725,1400 723,1390 727,1384 724,1378 719,1372 720,1370 730,1362 740,1360 746,1356 749,1352 749,1346 746,1341 742,1341 733,1350 733,1356 730,1359 728,1359 723,1358 720,1354 696,1378 700,1382 698,1389 690,1388 684,1390 681,1390 679,1374 676,1370 677,1364 671,1358 671,1356 676,1351 680,1355 682,1355 686,1353 694,1353 697,1352 697,1350 695,1346 694,1340 691,1334 698,1320 700,1317 705,1318 708,1326 698,1334 699,1336 704,1340 706,1345 712,1342 716,1332 720,1329 722,1326 724,1320 720,1314 710,1314 709,1312 711,1310 714,1308 720,1310 724,1305 725,1300 722,1294 710,1283 706,1283 698,1284 694,1283 692,1280 690,1273 686,1272 682,1268 680,1260 674,1254 672,1248 670,1245 669,1246 668,1248 670,1252 670,1258 673,1262 672,1266 670,1268 666,1269 661,1266 660,1262 662,1256 662,1254 654,1249 650,1244 648,1240 650,1237 652,1237 660,1241 666,1241 668,1240 670,1234 669,1220 668,1218 662,1220 654,1220 648,1222 638,1219 637,1216 636,1210 632,1200 633,1188 630,1178 633,1170 631,1156 634,1152 640,1151 643,1152 645,1154 645,1160 646,1161 652,1158 661,1164 660,1170 660,1174 662,1177 667,1180 671,1186 678,1189 680,1188 681,1184 679,1172 679,1162 676,1158 672,1157 671,1156 678,1152 691,1154 698,1150 703,1146 709,1122 706,1109 704,1106 697,1102 696,1098 698,1095 704,1092 706,1092 710,1098 712,1098 715,1096 717,1090 717,1072 717,1068 714,1063 708,1060ZM858,1142 857,1144 858,1145 865,1144 858,1141ZM856,1152 848,1162 846,1166 848,1169 852,1169 854,1168 864,1158 864,1154 860,1150 858,1150 856,1151ZM838,1176 836,1180 835,1182 838,1184 844,1183 848,1180 848,1178 846,1176 838,1176ZM790,1188 780,1197 774,1197 768,1197 762,1198 760,1200 758,1208 753,1214 757,1222 758,1228 760,1229 764,1228 769,1220 776,1216 782,1209 792,1203 798,1202 799,1200 795,1198 794,1196 797,1190 796,1188 794,1187 790,1187ZM826,1192 822,1200 824,1204 826,1204 834,1198 835,1196 834,1194 830,1190 826,1191ZM744,1210 742,1220 742,1222 744,1223 748,1214 746,1209 744,1208ZM734,1262 728,1263 726,1264 723,1274 719,1278 721,1282 722,1283 725,1282 737,1272 739,1264 738,1262 734,1261ZM745,1264 746,1268 747,1270 751,1270 752,1268 751,1266 748,1263 746,1263ZM723,1348 720,1350 725,1350 728,1348 724,1347ZM720,1352 720,1353 720,1350ZM938,1412 932,1419 934,1423 937,1422 941,1414 940,1412 938,1411ZM598,1095 604,1094 607,1096 608,1098 604,1101 600,1102 596,1100 596,1098 597,1096ZM504,1118 510,1121 514,1124 512,1126 504,1125 503,1124 504,1120ZM496,1140 499,1142 498,1144 496,1144 495,1142ZM536,1145 544,1146 548,1148 550,1152 547,1160 542,1165 538,1168 534,1163 532,1162 526,1164 521,1160 521,1150 524,1149 530,1149 536,1146ZM496,1156 499,1156 499,1160 496,1162 494,1162 493,1160 496,1156ZM1234,1185 1238,1184 1238,1209 1234,1210 1230,1214 1226,1216 1220,1214 1219,1212 1222,1204 1234,1186ZM450,1197 454,1197 456,1198 454,1204 455,1208 454,1208 448,1202 448,1200 450,1198ZM1208,1217 1212,1217 1215,1218 1217,1224 1220,1228 1221,1230 1220,1230 1218,1230 1214,1227 1210,1227 1208,1228 1204,1236 1198,1238 1196,1240 1196,1242 1198,1243 1204,1244 1210,1247 1216,1249 1218,1252 1216,1258 1212,1262 1204,1261 1202,1260 1198,1255 1194,1253 1192,1254 1186,1260 1186,1250 1183,1240 1184,1231 1194,1219 1202,1219 1207,1218ZM964,1343 968,1344 968,1346 964,1347 960,1346 963,1344ZM656,1349 660,1352 662,1354 662,1356 656,1357 654,1356 653,1354 654,1350 656,1350ZM666,1355 670,1356 668,1358 666,1357 665,1356ZM676,1395 679,1396 681,1402 676,1404 670,1404 668,1402 668,1398 675,1396ZM372,1428 378,1432 381,1436 381,1462 381,1464 378,1466 370,1468 370,1428ZM408,1473 412,1473 414,1476 414,1480 410,1486 410,1490 411,1500 416,1510 420,1528 421,1532 420,1540 423,1546 424,1552 422,1553 418,1552 416,1554 415,1560 416,1563 419,1566 414,1572 411,1580 413,1590 411,1596 407,1602 408,1606 412,1610 412,1620 416,1624 412,1629 406,1632 405,1634 406,1644 404,1650 406,1658 408,1666 409,1672 411,1676 412,1680 410,1684 402,1690 396,1688 392,1690 390,1689 388,1684 386,1682 384,1682 378,1690 370,1696 370,1541 374,1540 377,1532 374,1525 370,1523 370,1490 376,1487 382,1486 388,1487 394,1489 396,1488 397,1484 398,1482 408,1474ZM670,1489 672,1489 679,1492 678,1494 674,1495 670,1498 670,1500 674,1502 679,1506 682,1506 688,1500 694,1497 698,1502 699,1512 696,1515 693,1518 694,1524 692,1528 692,1535 691,1538 686,1540 684,1540 678,1536 667,1530 666,1528 666,1524 670,1518 669,1516 662,1514 660,1515 660,1518 658,1519 652,1518 650,1518 649,1516 650,1510 645,1506 644,1504 645,1502 650,1498 655,1504 660,1506 667,1500 667,1494 670,1490ZM772,1531 798,1539 808,1537 823,1538 825,1540 827,1556 826,1558 820,1565 817,1574 811,1578 806,1583 796,1584 788,1589 787,1588 786,1580 784,1577 782,1577 780,1580 777,1590 770,1595 766,1592 763,1586 756,1581 754,1578 752,1562 748,1557 744,1556 736,1558 724,1557 716,1560 710,1561 706,1559 704,1556 702,1548 701,1546 702,1544 704,1544 711,1550 714,1550 716,1550 722,1542 724,1536 726,1535 729,1536 733,1542 748,1545 760,1541 766,1542 769,1540 771,1532ZM610,1603 614,1605 616,1608 612,1616 610,1615 608,1612 608,1606 610,1604ZM706,1667 709,1668 706,1671 705,1670 706,1668ZM718,1673 720,1672 723,1674 724,1677 730,1678 732,1679 734,1687 736,1689 742,1688 745,1700 741,1700 730,1692 726,1692 722,1690 720,1688 720,1681 717,1678 718,1674ZM376,1737 378,1736 380,1736 386,1742 398,1740 400,1742 401,1748 404,1756 370,1756 370,1741 374,1740 376,1738Z"/>
<path fill="#00a6d8" d="M372,1060 442,1060 440,1068 441,1070 446,1076 448,1078 452,1077 456,1080 457,1082 457,1086 459,1090 459,1100 462,1104 467,1108 470,1113 472,1122 472,1134 468,1142 467,1148 454,1164 448,1170 446,1178 434,1195 436,1206 434,1222 431,1228 429,1238 422,1248 415,1266 416,1270 421,1278 423,1286 422,1290 414,1300 408,1311 392,1324 390,1330 386,1336 386,1338 389,1342 405,1356 413,1372 407,1380 396,1386 390,1396 389,1404 386,1408 382,1410 374,1409 370,1413 370,1060ZM472,1060 492,1060 490,1061 490,1064 492,1070 490,1072 487,1072 484,1064 473,1062 471,1060ZM546,1060 551,1060 552,1062 551,1068 554,1072 552,1073 546,1066 546,1062ZM714,1060 1210,1060 1211,1066 1214,1072 1214,1082 1217,1094 1213,1106 1207,1116 1210,1120 1219,1128 1222,1144 1221,1150 1219,1158 1215,1168 1207,1172 1200,1179 1196,1180 1192,1190 1183,1196 1177,1206 1162,1220 1162,1224 1166,1232 1167,1238 1165,1248 1162,1249 1154,1250 1142,1244 1142,1242 1148,1237 1150,1234 1148,1229 1146,1228 1134,1230 1120,1229 1107,1234 1105,1236 1107,1240 1114,1246 1116,1254 1118,1258 1122,1259 1126,1255 1129,1256 1131,1260 1132,1266 1135,1272 1134,1276 1130,1277 1126,1277 1114,1261 1110,1261 1102,1264 1098,1263 1092,1258 1078,1255 1074,1255 1071,1258 1070,1260 1076,1266 1074,1268 1070,1271 1068,1270 1067,1264 1064,1262 1053,1264 1047,1266 1046,1268 1050,1278 1049,1282 1046,1285 1040,1287 1037,1290 1029,1304 1027,1310 1023,1316 1020,1317 1010,1317 1002,1318 998,1318 994,1316 996,1314 982,1308 974,1312 964,1314 950,1322 942,1331 933,1334 930,1340 932,1350 943,1368 944,1372 939,1386 939,1398 932,1404 933,1410 930,1414 929,1418 930,1422 934,1426 934,1428 932,1434 928,1450 924,1454 922,1460 923,1470 922,1472 916,1474 908,1480 898,1481 896,1483 894,1490 884,1500 868,1507 860,1512 854,1512 844,1509 838,1509 831,1512 822,1519 816,1520 804,1514 792,1513 784,1506 781,1502 782,1498 786,1492 787,1490 786,1488 776,1482 764,1479 760,1481 752,1489 748,1496 742,1500 728,1503 724,1502 722,1500 722,1498 726,1494 727,1492 726,1484 726,1480 734,1460 738,1459 746,1461 750,1461 754,1459 760,1454 763,1450 760,1444 749,1436 749,1434 752,1430 753,1426 750,1418 745,1408 740,1405 736,1405 730,1411 728,1412 724,1412 723,1410 726,1400 726,1390 729,1384 724,1374 723,1372 724,1370 730,1365 742,1360 748,1356 751,1352 752,1348 750,1340 746,1336 740,1335 732,1340 731,1338 731,1328 738,1322 739,1320 736,1316 732,1314 733,1302 733,1298 724,1290 725,1288 730,1284 734,1279 742,1274 750,1274 756,1272 756,1268 749,1258 748,1240 749,1238 754,1235 758,1236 762,1235 776,1221 792,1213 800,1212 804,1210 812,1213 826,1210 838,1199 840,1196 840,1190 850,1185 860,1168 870,1158 872,1140 871,1138 867,1136 864,1127 862,1125 852,1131 842,1150 845,1156 842,1164 840,1166 838,1167 834,1166 830,1163 826,1164 824,1166 824,1174 822,1177 818,1180 818,1182 820,1186 816,1193 810,1188 804,1187 800,1183 796,1182 788,1185 782,1191 778,1194 774,1193 770,1192 755,1194 750,1196 746,1200 742,1202 736,1203 730,1201 728,1202 726,1206 726,1214 724,1222 724,1226 728,1232 726,1236 722,1240 722,1242 725,1248 723,1258 720,1263 713,1266 712,1268 715,1276 713,1280 705,1278 701,1274 696,1271 693,1268 692,1258 690,1253 688,1252 684,1257 682,1258 678,1254 680,1250 686,1244 682,1231 675,1224 673,1216 673,1206 676,1202 676,1198 672,1200 668,1208 664,1211 656,1207 650,1206 644,1202 638,1202 636,1201 636,1196 639,1190 639,1178 638,1172 636,1172 635,1164 633,1158 634,1155 636,1154 639,1156 640,1164 639,1172 640,1172 648,1164 652,1163 658,1176 665,1182 670,1189 676,1194 678,1195 680,1193 684,1186 682,1174 684,1160 686,1158 696,1154 702,1149 712,1124 708,1108 701,1100 702,1098 704,1097 708,1101 712,1101 717,1096 719,1072 718,1068 714,1060ZM1163,1122 1162,1124 1164,1124 1164,1120ZM1176,1122 1170,1130 1166,1131 1158,1132 1158,1134 1160,1146 1162,1144 1170,1142 1177,1136 1179,1132 1179,1126 1178,1123 1176,1121ZM826,1146 825,1148 825,1152 826,1154 830,1154 832,1151 833,1148 830,1145 828,1144 826,1145ZM776,1268 774,1270 774,1274 776,1273 779,1270 778,1268 776,1267ZM824,1286 824,1289 824,1284ZM1224,1060 1224,1065 1223,1060ZM464,1081 467,1082 468,1084 466,1085 464,1085 463,1084 464,1082ZM538,1085 550,1084 554,1084 556,1086 556,1088 550,1098 550,1108 546,1111 542,1110 540,1102 536,1096 536,1088 538,1086ZM1238,1189 1238,1207 1226,1208 1225,1206 1226,1202 1237,1190ZM1196,1225 1202,1225 1203,1228 1200,1231 1188,1237 1187,1236 1187,1234 1196,1226ZM740,1240 742,1239 744,1240 744,1242 739,1246 738,1248 736,1249 734,1248 734,1246 738,1244 740,1240ZM1204,1250 1206,1250 1212,1252 1213,1254 1213,1256 1209,1258 1206,1257 1203,1252ZM946,1359 948,1359 954,1366 955,1374 959,1386 958,1390 954,1396 950,1407 948,1408 945,1408 944,1406 947,1398 945,1384 950,1374 946,1360ZM372,1431 376,1432 380,1438 380,1462 379,1464 376,1465 370,1467 370,1431ZM408,1475 410,1475 413,1478 408,1486 408,1488 410,1502 415,1512 419,1530 416,1539 417,1546 413,1558 412,1570 410,1574 405,1580 405,1582 410,1588 409,1592 405,1602 406,1606 409,1612 411,1624 408,1627 403,1632 398,1644 396,1662 390,1664 382,1671 374,1670 370,1672 370,1549 374,1548 376,1546 378,1534 376,1525 370,1518 371,1510 370,1507 370,1494 376,1490 382,1488 392,1492 396,1491 399,1490 402,1482 408,1476ZM778,1537 784,1538 798,1541 816,1538 820,1538 823,1540 824,1551 822,1558 817,1564 814,1572 806,1573 800,1575 798,1572 797,1566 794,1560 792,1554 788,1552 778,1551 776,1552 776,1558 772,1565 762,1569 758,1568 754,1560 747,1552 752,1548 756,1546 760,1545 768,1547 774,1540 778,1538ZM734,1549 738,1548 743,1550 744,1552 736,1555 733,1554 734,1550ZM380,1751 386,1752 396,1756 378,1756 378,1753 380,1752Z"/>
<path fill="#00b4ae" d="M372,1060 440,1060 437,1068 438,1072 448,1084 455,1102 464,1110 469,1122 469,1134 463,1150 451,1164 445,1168 444,1170 444,1176 442,1180 431,1188 430,1190 434,1204 434,1212 429,1226 427,1236 418,1248 416,1258 411,1268 412,1272 417,1278 418,1288 416,1289 412,1290 410,1292 411,1300 407,1310 391,1322 383,1336 383,1338 386,1342 403,1356 409,1370 402,1377 396,1380 392,1388 387,1394 386,1396 387,1402 386,1406 382,1407 374,1406 370,1408 370,1060ZM716,1060 1208,1060 1212,1084 1215,1094 1211,1106 1205,1116 1207,1120 1218,1128 1220,1130 1221,1150 1219,1158 1214,1167 1200,1176 1192,1176 1191,1178 1191,1180 1192,1186 1192,1188 1190,1190 1181,1194 1174,1206 1162,1217 1161,1224 1166,1238 1166,1244 1164,1247 1160,1248 1154,1248 1146,1244 1145,1242 1150,1237 1151,1234 1150,1228 1146,1225 1144,1224 1136,1229 1122,1228 1110,1232 1106,1234 1104,1236 1104,1239 1109,1246 1108,1256 1104,1260 1100,1259 1096,1256 1086,1255 1076,1252 1070,1254 1060,1261 1048,1264 1045,1266 1044,1268 1048,1278 1047,1282 1036,1288 1028,1302 1025,1310 1020,1315 1008,1315 1000,1316 994,1312 984,1308 980,1308 974,1311 964,1313 954,1319 948,1323 942,1330 932,1333 930,1338 931,1348 934,1356 941,1366 944,1372 938,1384 940,1396 938,1398 931,1404 930,1410 927,1416 928,1420 933,1428 926,1447 922,1453 919,1462 921,1470 908,1479 898,1480 896,1482 893,1490 884,1499 869,1506 862,1510 856,1512 844,1508 840,1508 832,1510 822,1517 816,1519 802,1513 794,1512 784,1504 782,1500 784,1496 788,1492 788,1488 778,1481 771,1480 766,1477 762,1477 758,1480 744,1498 738,1500 730,1500 728,1500 730,1492 728,1484 730,1480 738,1472 740,1466 744,1465 755,1462 764,1454 766,1444 765,1438 763,1436 760,1435 756,1436 754,1434 756,1428 752,1412 748,1410 744,1406 740,1404 734,1405 728,1411 726,1411 724,1410 727,1400 728,1391 731,1384 725,1372 729,1368 752,1356 754,1352 755,1348 751,1336 743,1330 742,1328 744,1320 744,1314 736,1296 730,1290 730,1288 739,1280 742,1278 748,1278 754,1276 758,1274 762,1268 766,1267 770,1270 768,1280 772,1282 776,1281 785,1272 786,1264 797,1260 798,1258 797,1254 785,1240 774,1234 768,1240 772,1254 772,1258 764,1261 754,1261 752,1259 751,1256 754,1242 765,1238 770,1232 774,1230 780,1222 792,1215 798,1215 806,1217 816,1217 822,1219 830,1216 831,1212 834,1208 842,1202 848,1194 850,1193 858,1194 864,1190 864,1186 859,1182 859,1178 864,1174 866,1168 872,1162 880,1144 875,1134 870,1129 869,1122 866,1120 862,1119 848,1128 840,1138 841,1142 840,1143 838,1144 837,1142 838,1138 834,1137 830,1138 823,1144 821,1148 822,1158 815,1166 816,1172 810,1178 794,1179 778,1190 776,1190 772,1185 770,1184 764,1190 746,1193 742,1193 734,1189 730,1190 729,1196 726,1198 720,1201 720,1204 723,1214 722,1224 724,1232 719,1240 721,1254 721,1258 718,1260 712,1262 710,1263 709,1272 708,1273 706,1273 698,1268 696,1266 693,1254 686,1236 685,1230 677,1222 676,1218 675,1212 681,1196 686,1186 685,1174 688,1162 689,1160 700,1153 704,1150 710,1131 715,1126 715,1120 711,1108 711,1106 718,1098 720,1082 720,1070 716,1060ZM1170,1096 1170,1100 1162,1106 1162,1116 1160,1120 1154,1126 1154,1131 1157,1140 1156,1146 1158,1150 1164,1144 1168,1145 1172,1142 1178,1136 1180,1131 1180,1124 1179,1120 1172,1116 1173,1114 1177,1110 1177,1104 1174,1099 1170,1095ZM807,1230 807,1232 812,1234 818,1241 818,1236 816,1233 812,1230 808,1229ZM814,1250 811,1252 811,1254 814,1259 816,1257 818,1252 816,1248 814,1249ZM815,1266 818,1278 821,1282 820,1292 822,1297 827,1290 828,1284 824,1276 819,1270 816,1264ZM648,1167 650,1167 652,1169 657,1178 665,1184 671,1194 664,1206 662,1207 656,1202 649,1200 642,1188 641,1176 644,1172 648,1168ZM1236,1195 1238,1194 1238,1205 1234,1204 1232,1202 1235,1196ZM682,1251 684,1252 682,1253 682,1252ZM952,1375 954,1377 956,1382 956,1384 954,1386 949,1386 948,1384 948,1380 952,1376ZM372,1433 376,1434 379,1440 378,1454 378,1462 376,1464 370,1466 370,1433ZM408,1478 410,1480 405,1484 404,1485 405,1482 408,1478ZM404,1486 408,1494 409,1502 413,1510 415,1518 418,1530 415,1540 415,1546 410,1570 408,1574 402,1579 402,1582 407,1590 404,1598 404,1604 408,1612 409,1622 408,1626 401,1632 395,1644 395,1654 393,1658 387,1662 382,1667 378,1667 370,1666 370,1554 376,1550 379,1548 379,1534 378,1526 372,1516 374,1508 370,1503 370,1497 374,1493 380,1491 388,1493 396,1493 399,1492 403,1488ZM814,1539 820,1539 822,1541 822,1549 816,1547 804,1546 805,1544 813,1540ZM754,1549 760,1549 770,1552 773,1556 772,1560 766,1563 760,1562 752,1554 752,1552 754,1550Z"/>
<path fill="#00c285" d="M372,1060 439,1060 435,1068 436,1074 443,1080 449,1090 449,1096 453,1104 454,1106 461,1110 467,1124 467,1134 462,1148 450,1162 441,1168 440,1170 442,1176 440,1178 428,1188 428,1192 432,1204 432,1208 427,1226 425,1236 422,1240 416,1246 414,1260 409,1266 407,1270 408,1274 414,1278 415,1282 414,1284 408,1289 406,1292 409,1300 408,1306 404,1310 398,1312 390,1320 381,1336 382,1340 386,1345 394,1350 403,1358 405,1366 405,1370 400,1375 392,1379 390,1388 384,1396 383,1404 374,1404 370,1405 370,1060ZM718,1060 1207,1060 1212,1098 1209,1108 1202,1114 1202,1118 1204,1121 1208,1122 1219,1130 1220,1148 1219,1154 1215,1166 1212,1168 1200,1175 1192,1174 1188,1176 1188,1180 1189,1186 1188,1188 1177,1194 1172,1204 1162,1215 1160,1224 1166,1238 1166,1244 1164,1246 1160,1248 1156,1247 1152,1246 1148,1242 1152,1239 1153,1234 1151,1226 1146,1223 1142,1222 1137,1228 1134,1228 1122,1228 1106,1232 1104,1234 1103,1238 1105,1244 1104,1245 1096,1251 1088,1252 1078,1250 1074,1251 1068,1253 1058,1260 1044,1264 1043,1268 1047,1276 1047,1280 1045,1282 1037,1286 1034,1289 1024,1310 1020,1314 1018,1315 1010,1314 1002,1314 984,1307 980,1307 974,1311 964,1312 949,1322 942,1330 932,1332 931,1334 929,1338 930,1348 934,1356 941,1366 943,1372 938,1384 939,1396 938,1398 930,1404 926,1416 926,1420 931,1428 928,1440 918,1460 917,1464 918,1470 917,1472 908,1478 900,1478 897,1480 892,1490 884,1499 876,1501 860,1510 854,1510 846,1507 840,1507 830,1509 820,1516 816,1517 796,1510 792,1504 788,1505 784,1503 782,1500 784,1497 789,1494 790,1492 790,1488 780,1478 772,1477 770,1476 764,1467 764,1472 753,1480 744,1495 738,1498 734,1497 733,1496 731,1486 732,1482 738,1478 742,1471 750,1466 758,1464 760,1462 767,1454 768,1442 766,1436 760,1430 756,1420 756,1416 758,1407 756,1407 750,1409 748,1408 744,1403 738,1402 734,1404 728,1410 726,1410 730,1392 734,1384 728,1376 727,1372 735,1366 750,1359 752,1360 753,1362 755,1374 756,1377 758,1378 760,1378 762,1376 757,1368 757,1360 760,1354 755,1340 752,1330 756,1324 750,1318 747,1308 756,1289 760,1285 764,1284 772,1286 775,1288 776,1292 778,1292 780,1287 786,1290 788,1286 790,1285 794,1288 798,1287 801,1284 802,1280 796,1276 794,1272 794,1268 795,1266 798,1263 806,1263 813,1270 819,1284 814,1304 815,1308 814,1312 816,1315 820,1316 821,1308 830,1284 828,1278 821,1270 819,1262 821,1252 821,1238 820,1228 824,1226 834,1226 836,1224 837,1220 836,1212 837,1210 845,1206 848,1202 856,1200 862,1196 868,1188 872,1170 874,1168 878,1170 882,1169 883,1168 883,1164 879,1156 887,1142 888,1140 884,1136 884,1134 886,1131 889,1126 888,1124 882,1119 872,1116 868,1115 858,1118 850,1123 846,1128 842,1129 838,1133 828,1135 819,1144 819,1156 812,1162 807,1174 804,1175 792,1177 786,1181 782,1186 780,1187 778,1186 777,1184 778,1178 776,1175 768,1182 763,1188 760,1189 746,1191 732,1186 728,1186 727,1188 726,1194 724,1196 718,1197 717,1202 717,1206 722,1216 721,1230 716,1240 719,1256 716,1258 710,1260 704,1267 702,1267 699,1266 696,1260 695,1246 689,1236 687,1228 678,1220 677,1212 680,1203 684,1192 688,1186 685,1176 689,1164 692,1160 700,1155 704,1152 712,1132 716,1129 718,1126 718,1110 714,1108 713,1106 719,1098 722,1080 721,1070 718,1060ZM1166,1090 1168,1098 1167,1100 1162,1104 1161,1114 1159,1120 1152,1126 1153,1130 1156,1140 1152,1146 1153,1148 1158,1152 1164,1145 1168,1147 1172,1144 1179,1136 1181,1130 1181,1122 1178,1116 1179,1110 1178,1103 1174,1096 1166,1088ZM646,1171 648,1170 650,1172 653,1178 662,1184 667,1190 667,1196 662,1202 658,1198 652,1198 650,1196 644,1188 642,1184 643,1178 644,1174 646,1172ZM1238,1199 1238,1202 1236,1202 1237,1200ZM790,1219 796,1218 803,1224 796,1231 786,1234 782,1232 781,1228 783,1224 789,1220ZM812,1220 816,1222 815,1224 811,1224 808,1222 812,1220ZM802,1242 810,1241 812,1242 813,1244 813,1246 810,1248 800,1250 797,1248 797,1246 798,1243 802,1242ZM738,1289 740,1288 744,1290 746,1294 745,1296 742,1296 738,1290ZM372,1436 374,1436 376,1437 378,1444 376,1450 375,1452 376,1457 376,1461 375,1464 372,1464 370,1464 370,1452 374,1452 374,1450 370,1447 370,1437ZM402,1491 404,1491 406,1493 407,1502 413,1514 417,1528 416,1532 414,1538 413,1548 409,1570 406,1574 400,1580 401,1584 406,1590 403,1604 407,1614 408,1622 406,1625 401,1630 397,1638 394,1642 393,1646 393,1652 392,1656 382,1665 378,1666 370,1664 370,1557 378,1551 381,1546 380,1532 378,1524 373,1516 378,1506 377,1504 372,1502 372,1500 372,1497 376,1494 380,1494 384,1497 390,1495 398,1494 402,1492ZM814,1541 818,1540 820,1541 822,1544 820,1546 814,1542ZM758,1551 768,1554 770,1556 770,1558 766,1560 762,1560 757,1556 756,1554 758,1552Z"/>
<path fill="#07cd67" d="M372,1060 438,1060 434,1068 433,1074 436,1078 440,1078 444,1082 446,1090 447,1096 452,1107 454,1109 460,1112 465,1124 464,1136 461,1148 447,1162 439,1166 437,1170 437,1176 436,1178 427,1186 426,1188 430,1204 430,1208 423,1236 421,1240 414,1245 413,1260 408,1264 404,1272 405,1276 410,1279 411,1282 403,1292 407,1300 406,1306 404,1308 396,1310 387,1322 384,1330 379,1338 379,1340 386,1349 394,1352 401,1358 403,1366 402,1370 398,1374 392,1375 390,1378 389,1380 389,1388 378,1399 370,1403 370,1060ZM720,1060 1205,1060 1207,1076 1207,1094 1211,1098 1207,1108 1203,1110 1201,1112 1200,1122 1200,1124 1202,1124 1208,1123 1218,1130 1220,1148 1219,1154 1215,1164 1212,1168 1200,1173 1187,1174 1184,1178 1184,1186 1176,1189 1168,1189 1167,1190 1167,1202 1161,1212 1159,1224 1166,1238 1165,1244 1164,1245 1158,1246 1155,1244 1155,1238 1153,1226 1146,1221 1140,1222 1138,1226 1134,1228 1121,1228 1106,1232 1102,1235 1101,1244 1096,1248 1092,1249 1076,1249 1072,1249 1068,1251 1058,1259 1044,1264 1042,1268 1046,1276 1046,1280 1034,1288 1023,1310 1020,1313 1016,1314 1010,1313 1002,1313 984,1306 980,1306 972,1311 964,1311 949,1322 942,1329 932,1331 930,1332 929,1340 930,1348 934,1357 941,1368 942,1372 937,1384 939,1396 938,1398 929,1404 925,1416 925,1420 929,1426 930,1430 928,1438 920,1450 916,1460 917,1470 916,1472 908,1478 900,1478 896,1479 891,1490 884,1498 876,1501 860,1510 854,1510 846,1506 840,1506 830,1508 824,1512 816,1514 806,1512 800,1506 797,1500 792,1497 788,1502 784,1502 783,1500 784,1498 790,1497 792,1496 792,1490 791,1486 781,1476 772,1473 769,1466 764,1462 764,1460 768,1454 769,1440 767,1434 760,1424 757,1416 763,1406 760,1403 756,1403 754,1402 756,1396 760,1399 766,1394 767,1392 766,1389 761,1384 765,1380 766,1376 759,1364 760,1360 765,1356 766,1352 756,1340 758,1334 758,1332 755,1330 756,1328 759,1326 759,1322 758,1320 754,1319 752,1318 752,1314 749,1310 749,1308 754,1298 758,1294 760,1294 764,1296 766,1302 772,1305 782,1300 788,1300 790,1298 788,1294 789,1292 792,1291 796,1293 800,1291 805,1284 808,1276 810,1275 814,1279 816,1284 813,1294 812,1312 814,1316 820,1319 822,1315 827,1294 832,1286 833,1282 824,1271 822,1268 821,1262 823,1254 823,1246 824,1239 841,1228 844,1218 846,1214 856,1217 862,1213 863,1210 863,1204 867,1196 876,1180 888,1170 887,1150 888,1147 895,1142 892,1136 889,1132 892,1124 890,1120 884,1116 876,1114 872,1112 858,1115 846,1123 842,1124 836,1131 826,1133 817,1142 815,1146 816,1154 809,1160 800,1171 786,1175 778,1172 774,1172 769,1178 759,1186 752,1186 748,1188 744,1188 730,1184 725,1186 720,1191 716,1194 715,1198 715,1206 720,1214 720,1218 719,1230 715,1238 715,1254 713,1256 704,1257 702,1260 698,1260 696,1259 696,1256 700,1248 700,1242 698,1239 694,1238 691,1236 688,1226 680,1220 678,1212 682,1204 684,1192 690,1188 690,1184 686,1178 686,1176 690,1172 692,1164 694,1161 705,1156 710,1144 716,1140 715,1136 721,1128 723,1108 721,1102 722,1092 726,1080 719,1060ZM1165,1088 1165,1090 1166,1098 1160,1104 1159,1118 1156,1121 1152,1124 1151,1126 1154,1140 1142,1152 1142,1154 1142,1156 1149,1156 1152,1152 1154,1152 1156,1153 1158,1152 1164,1146 1166,1148 1166,1150 1168,1150 1178,1138 1182,1132 1182,1124 1180,1116 1181,1110 1179,1102 1176,1096 1168,1087 1166,1086ZM889,1186 886,1192 888,1197 890,1198 893,1196 894,1192 894,1186 892,1184 890,1185ZM646,1174 648,1175 650,1180 652,1182 661,1186 663,1190 662,1191 654,1195 650,1193 644,1184 645,1176ZM782,1181 783,1184 782,1185 780,1184 781,1182ZM788,1224 792,1222 795,1226 794,1228 788,1230 786,1228 788,1224ZM798,1264 800,1265 804,1268 806,1272 804,1273 798,1271 796,1268 797,1266ZM742,1363 748,1362 750,1363 751,1374 759,1386 758,1392 756,1395 752,1394 744,1393 736,1395 735,1396 737,1398 737,1400 728,1406 730,1398 735,1394 734,1390 736,1384 734,1380 730,1376 730,1372 734,1368 742,1364ZM748,1402 752,1402 754,1404 753,1406 750,1408 747,1406 747,1404ZM750,1467 754,1466 756,1467 758,1469 758,1472 757,1474 754,1475 748,1475 746,1475 744,1480 742,1474 744,1472 746,1473 750,1468ZM400,1495 402,1495 405,1496 406,1504 412,1513 416,1526 416,1532 413,1538 413,1548 408,1570 405,1574 400,1577 399,1580 400,1584 404,1590 402,1606 406,1614 408,1620 406,1624 400,1630 396,1637 392,1643 391,1654 382,1663 378,1664 370,1662 370,1566 373,1558 380,1552 382,1548 382,1534 375,1514 377,1510 385,1500 392,1496 399,1496Z"/>
<path fill="#22d36d" d="M372,1060 437,1060 431,1074 435,1078 436,1082 440,1080 443,1082 442,1086 444,1096 449,1102 452,1112 458,1115 463,1124 461,1144 459,1148 448,1154 444,1160 438,1161 434,1166 430,1174 429,1180 424,1183 423,1186 428,1206 424,1226 420,1238 414,1243 413,1246 413,1258 413,1260 406,1264 401,1274 402,1277 406,1282 406,1284 401,1292 405,1300 405,1304 402,1307 396,1307 394,1309 385,1322 382,1332 377,1336 375,1340 380,1344 384,1350 386,1352 392,1353 399,1358 401,1362 401,1368 398,1371 390,1374 386,1378 386,1382 388,1386 386,1389 376,1397 370,1399 370,1060ZM722,1060 978,1060 978,1060 981,1060 1202,1060 1205,1078 1204,1097 1206,1098 1208,1097 1209,1098 1207,1102 1207,1106 1199,1110 1196,1121 1193,1124 1196,1126 1200,1126 1208,1124 1218,1130 1219,1134 1218,1142 1219,1148 1218,1154 1215,1164 1212,1167 1200,1172 1188,1172 1183,1174 1180,1176 1174,1184 1166,1186 1164,1187 1163,1190 1164,1196 1163,1202 1161,1206 1155,1208 1155,1210 1158,1212 1160,1216 1160,1220 1156,1226 1152,1224 1148,1221 1142,1220 1139,1222 1137,1226 1134,1227 1120,1227 1106,1231 1102,1233 1098,1241 1094,1245 1088,1247 1072,1248 1068,1250 1058,1259 1043,1264 1042,1270 1045,1276 1045,1280 1033,1288 1029,1298 1020,1312 1016,1313 1002,1313 984,1306 980,1306 972,1310 964,1310 948,1321 942,1329 929,1332 928,1336 929,1348 941,1368 942,1372 937,1384 938,1396 937,1398 929,1404 923,1416 923,1420 928,1426 929,1430 927,1438 921,1446 916,1456 915,1462 916,1470 915,1472 908,1477 900,1477 896,1478 894,1482 892,1488 884,1497 876,1500 860,1509 854,1509 844,1505 828,1506 817,1512 813,1512 809,1510 806,1502 802,1501 796,1496 792,1484 785,1476 772,1467 770,1464 766,1462 765,1460 769,1454 771,1444 770,1438 769,1434 764,1426 762,1420 759,1418 759,1414 762,1410 768,1412 772,1408 773,1404 772,1398 772,1388 768,1382 769,1376 766,1368 762,1364 762,1362 768,1356 769,1352 767,1348 763,1344 758,1342 757,1340 758,1338 761,1334 762,1324 765,1316 765,1312 761,1308 764,1304 766,1304 772,1308 776,1307 780,1308 782,1310 782,1312 784,1312 785,1308 787,1306 796,1299 806,1295 808,1295 810,1298 809,1308 810,1315 820,1322 822,1318 827,1302 827,1294 834,1287 839,1284 842,1278 848,1275 851,1272 851,1264 848,1253 846,1252 840,1257 834,1259 829,1254 829,1250 830,1246 836,1236 848,1228 854,1228 860,1224 864,1225 868,1228 870,1235 876,1241 879,1240 881,1234 881,1226 890,1216 889,1210 890,1208 898,1199 899,1190 905,1186 903,1178 904,1166 898,1150 898,1148 902,1144 903,1138 898,1131 892,1133 890,1132 891,1130 896,1124 896,1122 888,1113 884,1112 878,1112 872,1109 866,1113 860,1111 846,1119 840,1120 836,1128 824,1131 820,1136 810,1143 804,1151 798,1150 796,1152 796,1158 800,1164 794,1168 788,1170 783,1168 784,1162 783,1158 778,1155 774,1159 768,1162 771,1170 768,1175 765,1178 760,1179 750,1179 746,1184 744,1185 730,1182 724,1184 713,1192 713,1206 717,1214 718,1218 713,1236 713,1240 712,1248 710,1250 706,1250 705,1248 705,1244 703,1238 701,1236 694,1234 692,1233 691,1226 680,1216 678,1212 683,1206 686,1192 690,1190 692,1188 690,1181 687,1178 688,1176 690,1175 692,1174 697,1164 700,1161 709,1160 712,1158 710,1152 711,1148 712,1146 718,1146 722,1142 721,1136 725,1130 726,1124 725,1116 726,1104 724,1092 726,1086 730,1080 730,1078 724,1072 721,1060ZM1166,1086 1164,1090 1165,1098 1160,1104 1160,1114 1159,1118 1156,1120 1151,1124 1150,1126 1153,1138 1153,1140 1146,1145 1141,1152 1140,1156 1140,1158 1152,1156 1158,1154 1164,1146 1166,1148 1166,1154 1168,1153 1174,1147 1183,1132 1182,1110 1179,1100 1177,1096 1171,1090 1169,1086 1166,1085ZM953,1176 948,1182 946,1191 938,1189 938,1192 939,1194 942,1195 946,1194 947,1196 946,1201 940,1202 939,1204 938,1206 944,1214 948,1232 954,1238 956,1238 967,1232 968,1230 964,1228 958,1228 955,1226 955,1210 948,1204 947,1202 954,1198 958,1199 959,1198 958,1196 955,1194 953,1190 951,1188 951,1186 954,1183 961,1188 960,1182 954,1175ZM930,1180 931,1184 936,1189 940,1184 940,1182 936,1179 930,1179ZM966,1192 968,1194 968,1198 973,1194 974,1192 966,1190ZM960,1200 964,1200 968,1200 966,1199 960,1199ZM898,1224 895,1230 897,1232 900,1232 902,1230 903,1226 900,1222 898,1223ZM856,1246 855,1248 858,1248 859,1246 856,1245ZM915,1256 916,1260 923,1260 916,1254ZM924,1262 932,1268 936,1268 939,1266 934,1264 930,1260 924,1261ZM813,1442 812,1444 814,1446 817,1444 816,1441 814,1441ZM819,1452 818,1456 818,1459 820,1462 822,1462 826,1459 827,1454 824,1450 820,1451ZM648,1183 655,1188 655,1190 652,1191 650,1190 648,1186 648,1184ZM874,1191 878,1191 880,1196 879,1198 874,1202 874,1206 876,1207 882,1207 886,1210 886,1212 880,1220 876,1223 874,1222 872,1220 869,1208 871,1202 870,1196 874,1192ZM1156,1226 1160,1230 1162,1234 1165,1236 1166,1240 1164,1245 1162,1245 1158,1244 1156,1232 1156,1228ZM698,1255 699,1258 698,1259 696,1258 697,1256ZM824,1259 828,1258 831,1260 834,1262 837,1268 830,1270 826,1270 823,1264 824,1260ZM798,1265 801,1268 800,1269 798,1269 797,1268 798,1266ZM810,1281 813,1282 812,1285 810,1284 810,1282ZM790,1292 793,1294 792,1295 790,1295 789,1294ZM758,1299 760,1302 760,1310 758,1311 752,1311 750,1310 750,1308 758,1300ZM754,1315 756,1316 756,1318 753,1318 754,1316ZM740,1365 744,1365 746,1368 746,1378 749,1380 749,1382 748,1383 744,1379 744,1382 740,1384 738,1383 737,1382 733,1374 733,1372 736,1368 740,1366ZM736,1387 738,1386 741,1388 742,1390 741,1392 738,1393 736,1392 735,1390 736,1388ZM732,1397 734,1397 736,1400 732,1402 731,1400 732,1398ZM750,1404 752,1406 750,1407 748,1406 750,1404ZM392,1497 402,1498 404,1504 410,1511 414,1518 415,1524 415,1530 412,1538 412,1548 407,1566 406,1572 404,1574 400,1576 398,1580 399,1584 403,1592 401,1606 406,1616 406,1622 398,1629 396,1636 391,1644 389,1654 381,1662 378,1663 370,1661 370,1567 372,1566 374,1560 381,1552 383,1548 383,1542 384,1536 376,1514 384,1501 392,1498Z"/>
<path fill="#3ed872" d="M372,1060 436,1060 429,1074 429,1076 434,1078 434,1084 436,1088 433,1100 434,1103 436,1103 442,1100 446,1102 448,1106 448,1112 449,1114 456,1117 461,1124 458,1134 458,1142 456,1145 450,1151 445,1152 440,1153 440,1156 434,1163 426,1164 424,1168 423,1176 421,1184 425,1204 424,1222 418,1238 412,1244 411,1250 412,1259 410,1261 406,1262 400,1272 400,1276 403,1284 399,1292 404,1302 402,1304 396,1306 394,1308 384,1320 381,1332 373,1336 370,1339 370,1060ZM738,1061 743,1060 744,1060 746,1063 748,1064 751,1060 849,1060 850,1063 854,1066 860,1074 866,1076 870,1080 873,1080 872,1076 862,1071 857,1064 856,1060 969,1060 978,1065 982,1064 985,1060 1199,1060 1202,1076 1200,1100 1206,1102 1207,1104 1207,1106 1204,1107 1200,1105 1198,1106 1194,1115 1192,1117 1189,1116 1182,1105 1180,1096 1173,1090 1171,1084 1168,1083 1165,1086 1163,1090 1164,1098 1159,1104 1159,1116 1156,1120 1149,1124 1149,1128 1152,1138 1139,1152 1138,1158 1140,1160 1142,1158 1158,1154 1164,1147 1166,1155 1171,1154 1176,1148 1184,1132 1186,1118 1189,1124 1191,1126 1196,1128 1200,1128 1208,1125 1217,1130 1218,1134 1217,1142 1218,1148 1218,1154 1215,1164 1212,1166 1200,1172 1194,1173 1188,1171 1184,1172 1180,1174 1172,1181 1166,1183 1163,1186 1161,1190 1163,1196 1161,1202 1158,1204 1152,1206 1149,1210 1154,1210 1159,1214 1160,1218 1156,1224 1154,1224 1152,1223 1148,1220 1142,1219 1138,1221 1134,1227 1122,1227 1116,1229 1112,1228 1104,1231 1101,1234 1096,1241 1088,1247 1074,1247 1070,1247 1058,1258 1042,1263 1041,1270 1044,1276 1044,1280 1032,1288 1028,1298 1023,1308 1018,1313 1002,1312 990,1308 984,1305 980,1305 972,1310 964,1309 962,1310 948,1320 943,1328 939,1330 928,1330 927,1328 923,1328 926,1332 929,1350 940,1368 942,1372 936,1384 938,1396 936,1398 928,1404 922,1416 922,1420 927,1426 928,1430 925,1438 920,1445 916,1454 915,1460 916,1468 914,1472 908,1476 900,1476 896,1478 893,1482 891,1488 884,1497 882,1498 876,1499 860,1508 854,1508 846,1503 834,1504 826,1501 820,1501 814,1505 812,1505 810,1502 811,1496 809,1492 809,1488 816,1483 824,1482 828,1484 831,1476 828,1472 822,1470 821,1468 822,1466 828,1458 828,1454 826,1450 824,1448 820,1449 817,1448 819,1442 814,1435 810,1433 802,1438 800,1442 803,1448 811,1450 814,1452 814,1454 812,1460 804,1460 801,1462 804,1470 800,1474 799,1478 804,1481 806,1484 806,1486 800,1491 798,1491 796,1488 798,1479 792,1476 792,1474 796,1470 797,1468 793,1464 792,1462 793,1458 792,1456 788,1455 785,1456 779,1462 774,1463 768,1462 766,1460 770,1456 773,1442 772,1434 768,1428 767,1424 770,1420 771,1414 778,1404 778,1396 782,1395 786,1391 793,1390 792,1388 784,1383 773,1380 773,1376 771,1372 770,1362 774,1354 771,1348 766,1342 766,1338 763,1324 767,1320 771,1312 776,1308 779,1310 780,1316 784,1318 788,1317 791,1314 789,1308 790,1306 792,1304 796,1306 797,1308 796,1312 798,1316 802,1318 810,1318 816,1320 818,1322 820,1326 828,1302 827,1296 828,1293 841,1286 841,1282 844,1279 847,1280 850,1285 862,1284 867,1280 867,1276 862,1270 862,1268 864,1262 864,1260 861,1256 862,1252 866,1250 872,1256 878,1254 880,1246 884,1240 886,1239 892,1242 898,1252 900,1251 907,1240 905,1236 905,1234 909,1228 914,1224 914,1222 912,1216 914,1212 918,1212 924,1215 930,1215 934,1217 936,1220 935,1224 939,1228 940,1232 944,1234 951,1240 956,1240 971,1234 974,1230 974,1228 972,1227 958,1225 957,1224 957,1210 953,1204 954,1202 956,1200 964,1202 974,1201 982,1211 984,1210 990,1204 996,1202 997,1198 996,1194 994,1191 982,1191 976,1188 968,1187 966,1186 959,1176 958,1165 956,1166 954,1170 950,1171 948,1170 947,1168 949,1164 946,1162 942,1162 938,1166 936,1166 926,1163 924,1166 928,1172 928,1174 925,1182 924,1191 922,1192 916,1190 912,1188 911,1186 913,1182 908,1179 909,1166 904,1152 907,1140 907,1136 904,1132 902,1124 898,1116 900,1112 904,1111 910,1104 900,1101 898,1108 894,1111 886,1108 878,1108 866,1103 859,1108 837,1118 836,1120 835,1124 834,1125 824,1128 818,1134 804,1142 802,1142 796,1139 788,1141 787,1144 788,1152 784,1153 776,1152 774,1158 772,1159 768,1158 765,1160 764,1162 766,1162 768,1166 766,1170 762,1174 750,1175 746,1182 744,1182 740,1181 728,1180 714,1185 710,1184 706,1180 702,1181 701,1182 706,1186 708,1192 710,1202 708,1205 707,1206 707,1208 712,1212 713,1216 708,1221 703,1222 702,1230 700,1231 696,1231 694,1228 693,1224 687,1218 686,1212 687,1198 688,1194 694,1193 697,1186 697,1184 694,1180 694,1178 696,1175 700,1167 702,1165 712,1165 718,1167 726,1169 728,1168 730,1166 730,1164 723,1162 722,1150 725,1144 726,1136 730,1128 730,1122 728,1116 730,1100 729,1090 733,1082 734,1076 734,1074 728,1070 727,1068 730,1064 732,1065 734,1070 736,1071 738,1071 740,1070 737,1066 738,1062ZM1057,1084 1058,1088 1064,1094 1061,1096 1062,1098 1064,1100 1068,1099 1072,1099 1078,1095 1082,1095 1086,1084 1084,1083 1080,1086 1078,1086 1068,1082 1058,1083ZM916,1104 915,1106 918,1108 928,1106 926,1104 922,1104 916,1104ZM912,1232 913,1236 911,1240 919,1240 921,1238 918,1233 914,1231 912,1232ZM987,1242 987,1244 989,1244 991,1242 988,1241ZM978,1246 974,1248 966,1247 955,1250 952,1252 950,1258 948,1259 941,1260 938,1263 936,1263 933,1262 932,1259 922,1256 914,1249 912,1248 910,1249 910,1260 908,1261 904,1262 900,1261 898,1262 899,1264 908,1266 917,1278 918,1282 916,1284 908,1283 907,1286 908,1290 912,1296 914,1310 918,1308 924,1310 927,1310 927,1306 931,1296 932,1294 937,1294 939,1292 932,1291 931,1290 930,1275 932,1275 934,1275 940,1283 942,1284 948,1281 950,1282 954,1286 954,1288 956,1287 958,1282 956,1279 951,1274 948,1268 948,1266 950,1263 952,1264 954,1269 962,1273 970,1273 976,1270 981,1258 985,1254 983,1252 982,1246 980,1244 978,1245ZM947,1290 945,1292 948,1294 952,1294 955,1292 954,1288 948,1289ZM920,1316 919,1318 920,1318 920,1315ZM918,1320 918,1322 918,1318ZM785,1356 782,1358 779,1364 780,1366 782,1366 792,1365 794,1364 790,1358 786,1355ZM798,1390 797,1392 797,1398 793,1402 793,1404 800,1410 810,1408 812,1402 808,1394 804,1393 800,1388 798,1390ZM804,1416 804,1420 802,1421 798,1418 794,1418 792,1419 791,1422 792,1424 796,1427 798,1426 802,1422 806,1426 808,1431 810,1428 812,1424 807,1420 808,1416 806,1414 804,1415ZM438,1081 440,1080 442,1082 440,1085 438,1084 438,1082ZM866,1105 870,1108 870,1110 868,1111 866,1112 864,1110 864,1108 866,1106ZM896,1125 898,1128 896,1130 894,1130 894,1128 896,1126ZM788,1161 790,1160 792,1164 790,1165 788,1164 788,1162ZM954,1184 957,1186 957,1188 960,1192 965,1194 966,1196 964,1198 962,1198 960,1193 960,1194 958,1194 956,1194 955,1192 956,1190 952,1188 952,1186ZM912,1195 916,1194 918,1198 918,1200 914,1201 912,1201 911,1198 912,1196ZM680,1209 683,1210 684,1212 682,1214 680,1214 679,1212 680,1210ZM848,1233 854,1234 854,1236 850,1237 848,1242 844,1243 841,1240 842,1238 847,1234ZM860,1233 862,1234 865,1238 865,1240 862,1243 860,1243 857,1240 857,1236 859,1234ZM708,1236 710,1236 712,1238 712,1240 710,1243 708,1243 707,1242 706,1240 706,1238ZM1160,1237 1164,1236 1165,1240 1164,1244 1162,1245 1160,1244 1159,1242 1160,1238ZM826,1259 830,1262 828,1265 826,1265 825,1264 824,1262 826,1260ZM966,1259 968,1258 970,1259 971,1262 970,1263 966,1262 966,1260ZM916,1263 918,1262 920,1262 922,1264 923,1266 920,1268 918,1268 916,1266 916,1264ZM764,1305 766,1304 768,1306 769,1308 768,1309 766,1310 764,1309 764,1306ZM752,1306 755,1308 754,1310 752,1310 751,1308ZM804,1308 806,1308 809,1312 806,1315 802,1315 801,1312 801,1310 804,1308ZM760,1337 763,1338 764,1340 762,1341 760,1342 758,1340 759,1338ZM371,1342 378,1345 384,1354 392,1355 396,1358 397,1360 399,1364 398,1368 394,1370 388,1370 386,1367 384,1366 382,1376 377,1382 378,1383 384,1383 386,1384 388,1386 387,1388 370,1395 370,1340ZM740,1366 742,1366 745,1370 742,1378 742,1382 740,1383 738,1382 736,1374 738,1368ZM738,1387 741,1390 738,1392 736,1390 738,1388ZM732,1399 735,1400 732,1401 732,1400ZM760,1412 762,1412 764,1413 765,1416 762,1418 760,1417 759,1416 759,1414ZM784,1466 788,1468 788,1472 784,1471 782,1468ZM390,1499 394,1498 400,1500 412,1516 415,1522 415,1528 412,1538 411,1548 409,1558 405,1566 406,1572 399,1576 398,1580 398,1584 402,1592 401,1606 402,1610 405,1616 406,1620 404,1624 398,1628 395,1636 388,1646 388,1652 387,1654 382,1660 378,1661 370,1659 370,1567 373,1566 377,1558 384,1550 384,1539 390,1538 391,1536 386,1535 383,1532 377,1516 377,1512 384,1506 385,1502 390,1500Z"/>
<path fill="#5ade78" d="M372,1060 435,1060 429,1070 428,1074 428,1078 432,1077 434,1080 432,1082 434,1088 431,1098 431,1102 432,1104 436,1107 444,1105 445,1108 444,1114 447,1116 454,1117 458,1124 453,1136 453,1148 451,1150 438,1151 438,1156 434,1161 432,1162 428,1160 426,1161 422,1165 420,1170 420,1184 423,1204 423,1222 418,1236 412,1242 411,1246 411,1252 412,1258 410,1260 408,1260 404,1263 399,1274 401,1284 397,1292 402,1302 400,1304 394,1306 386,1316 382,1322 381,1326 382,1330 380,1332 370,1334 370,1060ZM764,1060 820,1060 813,1066 814,1070 818,1071 822,1070 824,1068 825,1064 824,1060 847,1060 848,1067 852,1072 855,1078 858,1080 864,1081 865,1084 858,1086 854,1089 848,1091 848,1100 841,1114 838,1116 836,1117 832,1114 830,1116 828,1120 824,1122 816,1130 804,1135 798,1135 790,1133 786,1134 781,1140 781,1148 774,1150 772,1152 775,1156 774,1158 772,1159 770,1158 768,1156 762,1157 756,1155 754,1156 751,1164 749,1166 742,1169 737,1170 735,1174 732,1174 731,1174 732,1172 735,1168 732,1162 730,1160 726,1162 724,1161 723,1158 730,1138 737,1126 736,1119 732,1112 733,1088 738,1076 746,1071 750,1067 752,1067 756,1070 763,1070 764,1068 764,1060ZM775,1072 770,1075 769,1078 770,1081 772,1082 776,1080 779,1078 779,1074 776,1071ZM845,1080 842,1082 842,1084 844,1086 848,1088 852,1084 852,1080 850,1078 846,1079ZM862,1061 863,1060 872,1060 872,1062 874,1062 876,1060 887,1060 888,1066 894,1072 894,1079 892,1080 890,1080 880,1079 870,1070 864,1070 862,1066 862,1062ZM892,1060 963,1060 964,1062 970,1063 978,1068 983,1066 987,1060 1164,1060 1164,1062 1166,1064 1174,1066 1180,1062 1186,1064 1192,1063 1196,1066 1198,1072 1197,1076 1194,1078 1191,1078 1191,1074 1188,1070 1178,1070 1188,1080 1186,1081 1181,1082 1180,1084 1182,1085 1184,1085 1186,1082 1196,1090 1197,1092 1195,1098 1190,1099 1188,1098 1186,1093 1184,1092 1180,1092 1178,1092 1175,1088 1176,1084 1175,1082 1170,1081 1164,1086 1163,1090 1163,1096 1158,1104 1159,1116 1156,1119 1150,1122 1148,1124 1151,1138 1140,1150 1138,1154 1138,1168 1142,1160 1158,1154 1162,1148 1164,1147 1166,1155 1170,1156 1172,1155 1177,1150 1186,1128 1188,1126 1198,1129 1208,1126 1216,1130 1218,1134 1216,1142 1218,1152 1216,1158 1212,1166 1202,1171 1194,1172 1188,1171 1182,1171 1172,1179 1164,1182 1159,1188 1158,1190 1161,1196 1159,1200 1156,1202 1150,1204 1145,1210 1146,1212 1154,1211 1159,1214 1160,1218 1154,1223 1152,1223 1150,1220 1142,1219 1140,1220 1136,1226 1132,1227 1122,1227 1116,1229 1112,1227 1102,1230 1096,1239 1088,1246 1082,1247 1072,1246 1068,1248 1057,1258 1042,1262 1041,1270 1044,1278 1042,1280 1031,1288 1028,1298 1025,1302 1021,1310 1018,1312 1000,1311 990,1308 984,1305 980,1304 972,1309 962,1308 946,1321 942,1327 938,1329 934,1330 930,1328 928,1326 924,1327 919,1328 926,1336 929,1350 939,1366 941,1372 936,1384 937,1396 936,1398 927,1404 921,1416 921,1420 926,1426 927,1430 925,1436 920,1444 916,1452 914,1460 915,1470 910,1475 906,1477 900,1476 896,1478 894,1480 889,1490 883,1498 876,1499 862,1506 858,1507 854,1506 846,1502 842,1503 838,1502 834,1496 829,1492 829,1488 833,1478 832,1474 830,1471 824,1468 824,1466 829,1458 828,1452 824,1446 820,1449 818,1448 819,1446 822,1444 821,1442 815,1434 814,1430 813,1422 810,1421 809,1420 809,1418 813,1414 812,1410 813,1402 810,1386 806,1384 796,1384 790,1382 784,1376 776,1375 773,1372 774,1368 776,1367 792,1368 796,1367 806,1359 808,1353 806,1353 805,1354 798,1361 794,1361 792,1358 791,1354 784,1349 782,1342 778,1337 774,1342 772,1343 770,1342 769,1338 771,1334 764,1327 764,1324 768,1321 772,1316 774,1316 773,1312 776,1309 779,1312 776,1316 775,1316 788,1324 792,1324 796,1320 810,1319 817,1322 818,1328 820,1330 822,1326 829,1302 828,1294 838,1288 848,1288 865,1284 870,1278 868,1268 869,1264 871,1260 878,1256 882,1257 890,1261 895,1268 904,1269 906,1269 908,1272 905,1288 910,1298 913,1310 914,1313 918,1309 922,1312 916,1315 916,1324 916,1325 922,1316 923,1314 924,1312 928,1312 931,1310 933,1306 935,1304 931,1300 932,1297 934,1296 936,1296 938,1298 938,1301 944,1296 952,1297 966,1283 974,1277 980,1277 982,1276 981,1264 988,1254 985,1252 985,1248 986,1246 990,1247 992,1246 994,1243 996,1237 997,1226 993,1218 993,1212 994,1208 998,1205 1000,1202 998,1195 994,1190 982,1189 976,1186 968,1185 966,1184 960,1174 960,1158 952,1154 942,1154 934,1149 919,1136 921,1130 928,1119 932,1116 935,1118 937,1124 942,1131 944,1132 948,1132 947,1126 947,1120 946,1118 941,1118 940,1103 935,1096 935,1094 928,1092 926,1098 922,1100 908,1099 904,1096 901,1090 901,1068 894,1065 892,1060ZM1061,1076 1053,1082 1049,1088 1047,1090 1044,1090 1038,1087 1036,1090 1035,1094 1036,1096 1040,1097 1044,1100 1042,1106 1041,1110 1042,1112 1044,1114 1048,1115 1064,1114 1067,1114 1066,1108 1068,1104 1078,1103 1084,1105 1087,1102 1088,1094 1090,1086 1088,1080 1076,1079 1066,1074 1062,1075ZM1076,1108 1074,1112 1076,1113 1078,1116 1078,1121 1080,1122 1084,1122 1086,1118 1086,1115 1082,1112 1078,1107 1076,1107ZM952,1138 950,1140 952,1143 955,1140 954,1138 952,1137ZM738,1063 740,1062 742,1062 744,1066 740,1067 738,1066 738,1064ZM892,1088 894,1088 896,1090 895,1094 890,1099 886,1101 885,1098 892,1088ZM868,1092 872,1090 876,1092 879,1096 878,1100 874,1101 871,1100 867,1096 868,1092ZM854,1094 860,1096 861,1098 859,1100 856,1100 855,1100 853,1098 853,1096ZM1058,1099 1060,1098 1062,1100 1064,1102 1063,1104 1060,1105 1058,1104 1052,1111 1050,1111 1048,1108 1052,1102 1054,1101 1056,1102 1058,1100ZM932,1101 934,1100 937,1104 937,1106 934,1108 932,1108 930,1106 932,1102ZM1204,1101 1207,1104 1204,1107 1202,1106 1201,1104 1203,1102ZM866,1107 869,1108 869,1110 868,1111 866,1111 865,1110 866,1108ZM908,1107 912,1106 916,1110 919,1112 920,1114 920,1116 916,1119 914,1118 912,1116 908,1115 906,1112 908,1108ZM900,1114 902,1112 906,1114 906,1118 902,1119 900,1118 899,1116 900,1114ZM908,1123 910,1122 914,1123 917,1126 919,1128 918,1130 914,1131 910,1131 907,1128 908,1124ZM914,1136 916,1136 918,1138 918,1142 916,1146 912,1147 910,1144 913,1138ZM926,1151 930,1152 936,1157 937,1158 935,1160 924,1158 923,1156 923,1154 925,1152ZM952,1158 956,1158 958,1162 954,1166 954,1168 953,1170 950,1170 949,1168 952,1164 951,1160ZM758,1162 762,1164 764,1163 766,1164 768,1166 767,1168 764,1169 762,1168 758,1169 756,1168 755,1166 756,1164ZM712,1171 714,1172 715,1174 714,1176 712,1176 710,1175 710,1174 711,1172ZM718,1173 722,1172 724,1173 726,1176 725,1178 722,1179 720,1179 718,1178 717,1174ZM914,1172 918,1172 920,1174 922,1176 920,1179 918,1179 914,1179 913,1176 913,1174ZM744,1174 746,1174 748,1178 746,1181 744,1181 743,1180 742,1178 743,1176ZM914,1183 916,1182 918,1182 920,1186 919,1188 916,1189 914,1188 913,1186 914,1184ZM700,1187 702,1187 705,1190 705,1192 702,1195 700,1195 698,1192 698,1190 700,1188ZM956,1191 958,1190 959,1192 958,1193 956,1192ZM914,1195 917,1198 914,1200 912,1198 913,1196ZM962,1194 964,1194 965,1196 964,1197 962,1197 961,1196ZM698,1198 700,1198 703,1202 696,1217 694,1218 692,1218 690,1216 690,1210 695,1206 697,1200ZM956,1202 964,1203 972,1202 974,1204 986,1222 988,1228 986,1232 984,1234 980,1233 976,1225 960,1223 959,1222 958,1210 955,1204ZM680,1210 683,1212 680,1213 680,1212ZM696,1223 698,1222 700,1223 702,1226 701,1228 698,1229 696,1228 695,1226 696,1224ZM924,1227 926,1226 929,1228 930,1230 929,1238 940,1242 941,1248 946,1254 946,1256 939,1258 939,1262 936,1263 935,1262 933,1258 922,1255 914,1247 909,1244 910,1242 924,1240 926,1238 923,1232 924,1228ZM932,1227 936,1226 938,1228 938,1230 936,1232 934,1232 931,1230 931,1228ZM908,1232 911,1234 912,1236 910,1238 907,1238 907,1236 907,1234ZM860,1236 863,1238 863,1240 860,1241 858,1240 858,1238 860,1236ZM708,1237 711,1238 712,1240 710,1242 708,1242 707,1240 708,1238ZM844,1237 846,1236 848,1238 848,1240 846,1242 844,1242 843,1240 843,1238ZM968,1237 972,1236 976,1238 976,1242 974,1245 956,1247 952,1249 949,1248 949,1244 950,1242 956,1242 968,1238ZM1164,1237 1164,1244 1162,1244 1160,1242 1163,1238ZM864,1252 866,1252 868,1253 868,1256 866,1258 864,1258 863,1256 863,1254ZM826,1260 829,1262 827,1264 826,1264 825,1262ZM918,1263 921,1264 922,1266 920,1267 917,1266 917,1264ZM842,1281 844,1280 847,1282 847,1284 844,1287 842,1284 842,1282ZM766,1305 768,1308 766,1309 765,1308 766,1306ZM792,1305 795,1308 794,1310 792,1311 790,1308 791,1306ZM804,1309 806,1309 808,1312 806,1314 804,1314 803,1312 803,1310ZM760,1338 762,1340 760,1341 759,1340ZM372,1345 378,1349 382,1360 380,1366 380,1374 378,1377 370,1384 370,1344ZM740,1367 742,1367 744,1370 740,1377 738,1377 737,1374 740,1368ZM738,1379 740,1378 740,1382 738,1380ZM384,1384 387,1386 386,1388 384,1389 382,1388 382,1386ZM804,1386 808,1388 809,1390 807,1392 804,1392 803,1390 803,1388ZM788,1406 792,1406 794,1410 794,1412 792,1413 788,1414 787,1416 785,1424 791,1428 792,1430 791,1432 786,1434 779,1434 773,1426 775,1422 774,1414 776,1413 780,1415 786,1414 787,1408ZM760,1413 762,1413 764,1414 764,1416 762,1417 760,1416 760,1414ZM802,1425 805,1428 804,1430 802,1431 800,1431 799,1430 799,1428 801,1426ZM774,1447 779,1450 779,1452 775,1458 772,1458 768,1461 766,1460 768,1457 771,1458 773,1448ZM822,1484 824,1483 826,1484 828,1486 827,1488 824,1489 822,1489 821,1488 821,1486 822,1484ZM814,1494 816,1494 819,1498 817,1502 814,1503 812,1503 811,1502 811,1500 814,1496ZM392,1500 395,1500 399,1502 410,1514 414,1520 415,1528 411,1538 411,1546 408,1556 406,1561 403,1566 403,1568 404,1569 405,1572 402,1573 398,1573 397,1578 398,1584 402,1592 400,1608 404,1616 405,1620 402,1624 397,1628 390,1641 386,1646 382,1656 380,1658 376,1658 370,1657 370,1568 373,1566 378,1558 385,1550 385,1542 386,1540 392,1538 392,1535 386,1534 384,1532 377,1514 380,1510 385,1506 386,1502 392,1500Z"/>
<path fill="#75e37d" d="M372,1060 434,1060 433,1064 427,1070 427,1074 427,1078 429,1080 432,1088 430,1102 432,1106 444,1118 448,1119 452,1117 455,1120 456,1122 452,1126 450,1132 450,1142 452,1148 450,1149 444,1149 436,1151 438,1156 434,1160 432,1162 428,1159 424,1162 418,1172 418,1180 422,1206 422,1222 416,1236 410,1244 410,1250 411,1258 410,1259 408,1259 404,1262 402,1267 398,1272 398,1280 399,1286 396,1292 401,1300 401,1302 394,1306 384,1317 380,1326 381,1330 380,1331 374,1331 370,1333 370,1060ZM770,1060 774,1060 772,1065 770,1066 770,1060ZM788,1060 809,1060 808,1068 812,1074 820,1078 830,1084 834,1081 836,1081 841,1090 842,1098 841,1106 838,1110 840,1112 840,1114 838,1116 836,1116 834,1114 836,1110 832,1108 828,1110 822,1116 818,1120 816,1121 806,1119 802,1119 798,1127 796,1128 792,1127 788,1128 780,1136 778,1138 780,1144 776,1147 770,1146 768,1148 765,1152 760,1153 757,1152 754,1149 752,1149 748,1160 746,1162 738,1165 735,1164 734,1160 730,1157 729,1160 726,1161 724,1160 724,1158 728,1155 729,1150 735,1144 737,1134 743,1128 739,1110 736,1106 736,1104 735,1092 737,1082 740,1078 742,1078 746,1082 752,1084 752,1085 752,1076 750,1075 748,1072 750,1068 752,1068 756,1074 765,1074 766,1082 768,1088 770,1088 787,1078 787,1076 785,1070 787,1062ZM840,1060 844,1060 844,1065 843,1068 845,1074 844,1076 840,1078 838,1077 838,1076 839,1072 842,1068 840,1060ZM864,1060 868,1060 870,1062 869,1066 866,1069 863,1068 863,1062ZM924,1060 947,1060 944,1070 945,1072 950,1075 954,1071 956,1070 962,1069 966,1065 970,1066 976,1069 980,1069 985,1066 988,1060 1162,1060 1163,1064 1170,1068 1176,1076 1175,1078 1168,1081 1163,1086 1162,1088 1162,1096 1157,1104 1159,1112 1158,1116 1156,1118 1148,1121 1147,1124 1149,1138 1137,1152 1135,1170 1136,1174 1142,1160 1158,1154 1162,1149 1164,1148 1166,1156 1170,1157 1172,1157 1178,1150 1180,1142 1187,1130 1190,1128 1198,1129 1208,1127 1216,1130 1217,1134 1215,1142 1217,1152 1215,1162 1212,1166 1202,1170 1194,1172 1188,1170 1184,1170 1178,1173 1172,1177 1164,1179 1156,1188 1156,1190 1158,1196 1156,1199 1142,1207 1138,1205 1134,1206 1130,1210 1126,1218 1128,1218 1138,1210 1142,1210 1144,1212 1148,1212 1154,1212 1158,1214 1160,1218 1158,1219 1156,1220 1154,1223 1152,1222 1151,1220 1142,1219 1139,1220 1135,1226 1132,1227 1122,1227 1116,1228 1112,1225 1110,1227 1102,1230 1092,1240 1092,1244 1090,1245 1084,1247 1071,1246 1056,1257 1042,1262 1040,1270 1043,1278 1042,1280 1031,1288 1028,1298 1018,1311 1000,1310 992,1308 984,1304 980,1303 972,1308 962,1307 946,1320 942,1326 938,1329 934,1329 930,1325 924,1327 920,1327 918,1324 919,1322 924,1314 938,1308 944,1299 954,1298 960,1291 968,1286 974,1284 982,1284 985,1284 985,1282 983,1264 990,1254 986,1252 985,1250 986,1248 988,1247 990,1249 992,1248 996,1243 999,1228 995,1214 996,1210 1000,1207 1001,1204 1000,1197 996,1190 992,1188 984,1188 976,1185 968,1184 962,1176 962,1164 964,1156 961,1144 963,1134 961,1132 954,1130 953,1128 953,1122 951,1118 943,1114 941,1096 945,1086 944,1083 940,1081 936,1083 934,1082 928,1073 927,1082 913,1094 908,1095 905,1092 906,1087 911,1084 908,1076 912,1065 914,1063 920,1065 922,1065 924,1064 924,1060ZM1060,1072 1048,1083 1044,1084 1038,1084 1031,1092 1031,1096 1038,1102 1038,1104 1039,1108 1037,1114 1039,1116 1058,1117 1076,1125 1080,1125 1084,1124 1088,1120 1089,1116 1088,1108 1093,1090 1092,1080 1090,1077 1078,1076 1068,1071 1060,1071ZM1164,1158 1158,1161 1154,1162 1161,1162 1164,1160 1165,1160 1164,1157ZM974,1164 970,1170 971,1172 974,1172 974,1166 975,1164 974,1163ZM1150,1166 1150,1169 1151,1166 1150,1165ZM1148,1172 1148,1176 1148,1171ZM1122,1220 1116,1222 1116,1222 1124,1222 1127,1220 1126,1218 1122,1220ZM740,1062 742,1064 742,1066 740,1067 739,1066 739,1064ZM874,1093 877,1096 877,1098 874,1100 871,1098 871,1096 873,1094ZM1060,1100 1062,1102 1060,1104 1058,1102 1060,1100ZM932,1102 934,1102 936,1104 936,1106 934,1107 932,1107 931,1104ZM1052,1103 1054,1102 1057,1104 1056,1106 1052,1111 1050,1111 1049,1108 1052,1104ZM1202,1103 1204,1102 1206,1104 1204,1106 1203,1106 1202,1104ZM910,1107 913,1108 914,1112 919,1114 918,1116 916,1117 914,1116 912,1113 908,1113 907,1112 907,1110 909,1108ZM866,1108 869,1110 866,1110ZM902,1113 905,1116 902,1118 900,1116 902,1114ZM1072,1114 1074,1114 1076,1115 1077,1118 1076,1119 1074,1120 1072,1119 1071,1118 1071,1116ZM932,1127 937,1130 937,1134 932,1137 928,1137 927,1136 927,1132 932,1128ZM946,1141 950,1144 950,1146 948,1148 946,1148 943,1146 943,1144 946,1142ZM924,1153 926,1152 928,1152 930,1156 926,1157 924,1156 924,1154ZM770,1155 772,1154 774,1156 773,1158 771,1158 770,1156ZM954,1159 957,1162 954,1164 952,1162 953,1160ZM758,1163 760,1164 762,1166 760,1168 758,1168 757,1166 758,1164ZM764,1164 766,1165 766,1167 764,1167 763,1166ZM950,1166 952,1166 953,1168 952,1169 950,1169 950,1168ZM720,1173 722,1173 724,1176 722,1178 720,1178 719,1176 719,1174ZM916,1173 920,1176 918,1178 916,1179 914,1177 914,1176 915,1174ZM744,1176 746,1176 747,1180 744,1180 743,1178ZM916,1183 919,1186 916,1188 914,1186 916,1184ZM700,1188 702,1188 704,1190 704,1192 702,1193 700,1193 699,1192 699,1190ZM914,1196 916,1198 914,1199 913,1198ZM698,1199 700,1199 702,1202 700,1205 698,1205 697,1204 697,1202 698,1200ZM958,1203 964,1204 970,1203 974,1205 984,1222 985,1226 984,1228 982,1228 978,1223 970,1222 960,1220 957,1204ZM698,1223 701,1226 698,1228 696,1226 698,1224ZM934,1226 937,1228 936,1231 934,1231 933,1230 933,1228ZM908,1234 910,1234 911,1236 910,1237 908,1237 907,1236ZM860,1236 862,1238 862,1240 860,1241 859,1240 859,1238ZM708,1238 710,1238 711,1240 708,1241 708,1240ZM844,1238 846,1238 848,1240 846,1241 844,1241 843,1240ZM970,1240 972,1240 974,1242 972,1244 960,1245 958,1244 970,1240ZM1162,1239 1164,1238 1165,1240 1164,1243 1162,1244 1161,1242 1161,1240ZM922,1241 928,1241 934,1242 938,1246 942,1254 936,1257 922,1254 912,1244 921,1242ZM952,1243 955,1244 956,1246 952,1248 950,1246 951,1244ZM864,1252 866,1252 868,1256 866,1257 864,1257 863,1254ZM878,1257 885,1260 892,1270 896,1273 902,1273 904,1274 904,1290 909,1300 912,1312 915,1318 914,1324 925,1336 928,1350 938,1366 941,1372 935,1384 937,1396 936,1398 925,1404 920,1416 920,1420 925,1426 926,1430 924,1436 919,1444 914,1456 915,1468 914,1472 908,1476 899,1476 895,1478 884,1496 882,1497 874,1499 862,1506 858,1506 854,1505 846,1500 842,1503 840,1503 838,1500 840,1496 832,1490 834,1476 832,1472 827,1468 826,1466 829,1458 829,1452 827,1446 818,1436 815,1430 816,1418 813,1410 814,1402 810,1384 808,1382 800,1380 792,1381 790,1380 784,1374 778,1373 776,1372 777,1370 778,1369 792,1370 798,1369 808,1360 809,1356 809,1352 808,1350 806,1350 799,1356 797,1360 794,1360 793,1358 794,1354 786,1347 778,1332 770,1327 766,1327 765,1326 765,1324 766,1322 770,1322 772,1319 774,1318 788,1327 792,1326 796,1322 798,1320 810,1320 814,1321 816,1324 816,1333 818,1333 822,1328 824,1320 829,1306 830,1300 828,1296 829,1294 838,1290 846,1290 862,1286 869,1282 875,1274 875,1272 872,1266 873,1262 878,1258ZM890,1360 878,1368 894,1368 902,1364 902,1362 898,1359 894,1358 890,1359ZM936,1258 938,1260 937,1262 936,1262 935,1260ZM844,1281 846,1282 846,1284 844,1285 843,1284 843,1282ZM934,1296 936,1298 936,1300 934,1301 933,1300 933,1298ZM792,1306 794,1308 793,1310 791,1308ZM774,1311 776,1310 778,1312 776,1314 774,1312ZM804,1310 806,1310 807,1312 806,1313 804,1313 803,1312ZM918,1310 920,1312 918,1313 917,1312ZM770,1337 772,1336 774,1336 775,1340 772,1341 770,1340 770,1338ZM370,1346 374,1348 377,1352 379,1360 379,1374 370,1382 370,1346ZM740,1368 742,1368 743,1370 740,1376 738,1376 738,1374 740,1372 739,1370ZM384,1385 386,1386 385,1388 384,1388 384,1386ZM804,1388 806,1388 808,1390 806,1391 804,1390ZM790,1407 793,1410 792,1412 790,1413 788,1412 787,1410 789,1408ZM762,1413 762,1416 760,1416 761,1414ZM810,1417 812,1416 814,1418 814,1420 810,1420 810,1418ZM802,1426 804,1428 802,1430 800,1428 802,1426ZM820,1445 822,1446 821,1448 820,1448 820,1446ZM822,1485 824,1484 827,1486 824,1488 822,1486ZM814,1496 816,1496 818,1500 814,1503 812,1502 811,1500 813,1498ZM392,1500 397,1502 410,1515 413,1520 414,1526 414,1530 411,1538 410,1546 407,1558 404,1562 398,1568 396,1572 397,1582 401,1592 400,1610 404,1616 404,1620 402,1623 396,1627 389,1642 386,1644 380,1650 370,1653 370,1568 374,1566 379,1558 386,1550 387,1542 394,1538 394,1536 393,1534 386,1533 384,1531 378,1516 378,1514 380,1510 386,1506 386,1504 388,1502 390,1502ZM402,1569 404,1570 404,1572 402,1573 401,1572 401,1570Z"/>
<path fill="#91e983" d="M372,1060 433,1060 431,1064 427,1068 426,1072 426,1078 430,1084 431,1088 428,1100 429,1104 442,1118 448,1122 449,1120 452,1118 455,1120 455,1122 450,1124 450,1126 448,1142 448,1144 450,1145 451,1148 448,1149 444,1148 436,1150 436,1152 437,1156 434,1160 432,1161 431,1160 432,1158 430,1156 428,1157 422,1163 418,1170 417,1176 421,1206 421,1222 415,1236 410,1244 409,1250 409,1256 411,1258 408,1258 404,1262 402,1266 398,1270 398,1272 396,1280 397,1286 395,1292 400,1300 398,1302 392,1306 384,1316 380,1326 380,1330 370,1332 370,1060ZM800,1060 805,1060 804,1062 800,1062 799,1062 799,1060ZM866,1060 869,1062 869,1064 866,1068 864,1068 864,1062ZM928,1060 943,1060 938,1072 936,1073 934,1072 932,1068 927,1066 927,1064 927,1060ZM990,1060 1109,1060 1114,1062 1119,1060 1160,1060 1162,1065 1167,1068 1173,1076 1172,1078 1164,1084 1162,1088 1161,1096 1156,1104 1158,1112 1157,1116 1154,1119 1148,1120 1146,1124 1146,1130 1148,1138 1136,1152 1135,1164 1134,1170 1136,1178 1141,1162 1143,1160 1156,1156 1159,1154 1162,1149 1164,1148 1165,1154 1163,1158 1154,1162 1150,1165 1148,1170 1148,1186 1152,1188 1156,1192 1157,1196 1154,1198 1144,1204 1136,1204 1132,1206 1124,1216 1116,1220 1110,1226 1102,1228 1094,1236 1090,1237 1092,1242 1090,1245 1084,1246 1069,1246 1058,1256 1041,1262 1039,1270 1042,1276 1042,1278 1030,1288 1027,1298 1023,1302 1021,1308 1018,1311 1016,1311 1000,1310 980,1302 972,1308 964,1306 960,1307 952,1316 943,1322 938,1328 936,1329 933,1328 933,1326 936,1324 934,1323 930,1323 922,1327 920,1326 919,1324 924,1314 934,1310 940,1310 946,1302 954,1299 960,1293 974,1287 984,1286 986,1284 985,1264 990,1256 997,1244 999,1228 996,1214 1000,1209 1002,1206 1001,1196 998,1191 994,1188 970,1183 966,1180 964,1176 964,1172 966,1170 967,1172 972,1174 976,1174 975,1166 980,1164 981,1162 978,1159 976,1160 966,1170 964,1169 963,1164 966,1156 964,1150 963,1144 965,1134 965,1132 958,1127 956,1121 954,1118 944,1113 943,1098 946,1087 952,1080 954,1078 958,1078 962,1072 966,1073 968,1072 970,1069 976,1071 980,1070 987,1066 990,1060ZM1112,1068 1112,1075 1114,1072 1112,1066ZM1059,1070 1054,1073 1048,1081 1038,1082 1036,1083 1030,1090 1028,1094 1036,1106 1034,1114 1035,1116 1038,1118 1054,1117 1060,1120 1064,1120 1067,1122 1072,1128 1071,1132 1074,1132 1084,1126 1089,1120 1091,1114 1091,1106 1095,1092 1094,1080 1092,1076 1090,1074 1084,1075 1080,1075 1076,1073 1068,1068 1060,1069ZM937,1322 938,1323 941,1322 940,1320 938,1321ZM740,1063 740,1066 740,1064ZM792,1062 794,1062 797,1064 794,1071 792,1071 791,1068 791,1064ZM750,1069 753,1070 754,1072 752,1073 750,1073 749,1072 750,1070ZM944,1073 948,1076 948,1078 944,1080 941,1078 941,1076 943,1074ZM800,1076 804,1075 810,1079 818,1081 822,1084 826,1084 832,1087 834,1090 835,1094 840,1102 840,1106 836,1107 834,1105 826,1104 814,1114 802,1114 800,1116 796,1122 794,1123 784,1125 782,1130 776,1134 774,1138 779,1142 779,1144 776,1145 773,1144 772,1142 770,1140 764,1140 761,1144 763,1148 763,1150 760,1152 758,1151 757,1150 756,1148 758,1144 754,1140 750,1140 744,1145 742,1145 740,1140 741,1136 752,1129 758,1129 759,1128 756,1123 750,1124 745,1120 744,1116 745,1112 744,1106 739,1094 740,1088 738,1084 739,1082 740,1080 742,1080 745,1084 744,1088 750,1090 758,1090 762,1092 766,1090 768,1091 770,1094 770,1098 774,1098 778,1096 780,1089 782,1086 786,1086 788,1089 790,1089 792,1088 792,1082 794,1078 794,1076 800,1076ZM765,1130 762,1132 764,1135 769,1130 768,1129 766,1129ZM908,1087 912,1090 912,1092 908,1094 906,1092 906,1090 908,1088ZM872,1095 874,1094 876,1096 876,1098 874,1099 872,1098 872,1096ZM932,1103 934,1103 935,1106 932,1106 932,1104ZM1054,1103 1055,1106 1052,1110 1050,1110 1050,1108 1054,1104ZM1204,1102 1206,1104 1205,1106 1203,1104ZM910,1108 914,1110 913,1112 910,1113 908,1112 908,1110 910,1108ZM836,1111 839,1112 839,1114 838,1115 836,1115 835,1114 836,1112ZM916,1113 918,1114 918,1116 916,1116 915,1116 915,1114ZM902,1114 904,1116 902,1117 901,1116ZM1074,1114 1076,1116 1076,1118 1074,1119 1072,1118 1072,1116ZM1206,1127 1214,1130 1217,1132 1215,1142 1216,1150 1216,1154 1212,1164 1207,1168 1194,1172 1188,1170 1182,1170 1170,1177 1164,1178 1156,1185 1154,1186 1152,1184 1153,1180 1151,1172 1152,1168 1154,1164 1164,1161 1166,1160 1166,1157 1168,1157 1170,1159 1172,1158 1179,1150 1181,1142 1189,1130 1192,1128 1198,1130 1205,1128ZM932,1129 934,1129 936,1132 934,1135 932,1135 930,1134 930,1132 931,1130ZM946,1142 949,1144 950,1146 948,1147 946,1147 945,1146 945,1144ZM732,1150 736,1150 738,1152 738,1156 736,1157 732,1157 731,1156 730,1154 731,1152ZM926,1153 928,1154 928,1156 926,1157 925,1156 925,1154ZM726,1156 728,1158 728,1160 725,1160 725,1158ZM736,1158 738,1158 740,1160 741,1162 739,1164 736,1164 735,1162 735,1160ZM954,1160 956,1162 954,1163 953,1162ZM758,1165 761,1166 758,1167 758,1166ZM720,1174 722,1174 724,1176 722,1177 720,1177 719,1176ZM916,1174 918,1176 916,1178 915,1176ZM916,1184 918,1186 916,1187 915,1186ZM700,1189 703,1190 702,1192 700,1192 700,1190ZM698,1200 700,1200 701,1202 700,1203 698,1203 697,1202ZM960,1204 972,1205 979,1214 979,1218 978,1220 972,1221 968,1219 962,1218 960,1216 959,1206ZM1140,1211 1156,1212 1159,1216 1159,1218 1158,1219 1155,1220 1154,1222 1153,1222 1153,1220 1142,1218 1139,1220 1135,1226 1132,1227 1115,1228 1115,1226 1118,1222 1127,1222 1136,1212 1139,1212ZM698,1224 700,1226 698,1227 697,1226ZM908,1235 911,1236 908,1236ZM860,1237 861,1238 860,1240 860,1238ZM844,1239 847,1240 844,1240ZM1162,1239 1164,1240 1164,1242 1162,1243 1162,1242 1162,1240ZM916,1243 926,1242 932,1243 936,1247 939,1252 938,1254 934,1255 922,1253 915,1246 915,1244ZM952,1244 954,1246 952,1247 951,1246ZM986,1249 988,1248 990,1250 988,1251 986,1250ZM864,1253 866,1253 867,1256 864,1256 864,1254ZM878,1259 882,1260 885,1262 894,1278 900,1278 902,1279 903,1290 909,1302 911,1314 913,1318 912,1324 924,1338 928,1350 938,1366 940,1372 934,1384 937,1396 934,1398 923,1404 922,1406 919,1420 924,1426 925,1430 923,1436 918,1442 914,1458 914,1468 913,1472 908,1475 898,1475 894,1478 886,1492 882,1496 876,1498 862,1505 858,1506 854,1504 846,1498 840,1491 834,1488 835,1476 832,1470 828,1466 830,1456 829,1446 820,1437 816,1430 816,1426 818,1418 815,1410 815,1400 811,1382 808,1380 802,1378 792,1378 789,1376 789,1374 798,1371 806,1364 810,1358 810,1350 808,1348 806,1349 800,1354 794,1352 788,1346 782,1334 780,1328 790,1328 798,1321 812,1322 814,1323 815,1326 814,1338 816,1336 820,1333 823,1328 825,1320 830,1304 831,1298 829,1296 830,1294 832,1294 838,1291 846,1291 862,1286 881,1276 883,1272 882,1270 876,1267 875,1264 877,1260ZM901,1312 902,1316 904,1317 906,1316 905,1314 902,1312ZM894,1356 888,1357 884,1362 874,1368 878,1370 888,1369 894,1370 907,1364 907,1362 894,1356ZM844,1281 844,1284 844,1282ZM934,1297 935,1300 934,1300 934,1298ZM766,1323 768,1324 769,1326 766,1326 766,1324ZM772,1336 774,1338 774,1340 772,1341 771,1340 771,1338ZM372,1348 375,1352 377,1356 378,1372 376,1376 370,1381 370,1347ZM794,1355 796,1354 797,1356 798,1358 796,1359 794,1359 794,1358 794,1356ZM740,1369 743,1370 740,1371 740,1370ZM788,1409 790,1408 792,1410 790,1412 788,1410ZM802,1426 804,1428 802,1429 801,1428ZM824,1484 826,1486 824,1487 823,1486ZM814,1497 816,1497 817,1500 814,1502 813,1502 812,1500 814,1498ZM840,1498 842,1498 844,1500 843,1502 840,1502 839,1500ZM392,1501 395,1502 402,1507 410,1516 414,1524 413,1530 410,1538 409,1548 406,1557 404,1560 396,1565 394,1572 397,1584 400,1592 399,1610 403,1616 403,1620 402,1622 395,1626 390,1640 389,1642 384,1644 380,1647 374,1648 370,1650 370,1568 374,1566 386,1552 388,1544 395,1538 394,1533 392,1532 388,1533 385,1532 379,1516 380,1511 392,1502Z"/>
<path fill="#acee88" d="M372,1060 432,1060 424,1070 425,1078 429,1084 430,1088 427,1100 427,1104 432,1110 447,1124 448,1128 448,1136 446,1146 436,1150 435,1152 436,1156 434,1156 430,1155 428,1156 422,1162 417,1172 416,1176 418,1190 418,1198 420,1206 421,1222 409,1244 408,1256 403,1262 402,1266 400,1268 398,1270 394,1280 395,1286 394,1292 398,1300 392,1306 382,1318 379,1326 380,1330 374,1330 370,1331 370,1060ZM866,1061 868,1064 866,1068 864,1066 865,1062ZM928,1060 934,1060 934,1064 930,1066 927,1064 927,1062ZM990,1061 991,1060 1100,1060 1102,1061 1105,1060 1108,1062 1111,1068 1110,1077 1114,1076 1116,1074 1116,1064 1121,1060 1159,1060 1160,1066 1166,1069 1170,1076 1170,1078 1162,1086 1160,1095 1156,1102 1155,1104 1157,1112 1157,1116 1154,1118 1148,1119 1145,1124 1144,1130 1146,1138 1135,1152 1135,1162 1132,1170 1136,1180 1141,1164 1143,1160 1156,1156 1160,1154 1162,1149 1164,1149 1165,1154 1163,1158 1151,1164 1148,1170 1148,1182 1146,1188 1150,1189 1154,1192 1155,1196 1153,1198 1144,1203 1136,1203 1132,1205 1122,1216 1116,1219 1110,1225 1102,1227 1094,1235 1090,1235 1090,1238 1092,1242 1090,1244 1084,1246 1068,1245 1056,1256 1039,1262 1040,1266 1039,1270 1041,1276 1041,1278 1029,1288 1027,1298 1023,1302 1020,1308 1018,1310 1014,1311 1000,1309 980,1301 972,1306 962,1304 960,1305 950,1316 946,1317 942,1314 940,1318 936,1320 922,1327 919,1324 919,1322 924,1315 934,1311 942,1313 944,1310 947,1304 954,1300 960,1294 974,1288 986,1285 988,1282 986,1268 986,1264 998,1246 1000,1228 998,1216 998,1213 1002,1210 1002,1198 1000,1192 994,1186 984,1185 978,1182 970,1181 968,1180 968,1178 968,1176 974,1177 977,1176 978,1174 976,1168 976,1165 981,1166 982,1164 981,1160 980,1158 976,1157 972,1160 968,1165 966,1166 965,1164 968,1158 964,1144 967,1132 961,1126 957,1118 945,1112 944,1102 943,1098 947,1088 954,1081 960,1079 961,1076 962,1074 968,1075 972,1072 978,1072 988,1066 990,1062ZM1065,1066 1053,1072 1048,1078 1036,1081 1026,1092 1028,1098 1034,1106 1032,1112 1032,1116 1034,1118 1038,1119 1054,1119 1060,1123 1064,1121 1066,1122 1067,1124 1067,1126 1064,1130 1064,1134 1066,1137 1068,1137 1074,1135 1082,1130 1090,1122 1092,1114 1093,1104 1096,1090 1094,1077 1092,1073 1090,1071 1082,1073 1078,1072 1070,1066 1066,1065ZM750,1070 752,1070 753,1072 750,1072ZM942,1075 944,1074 946,1076 947,1078 944,1079 942,1078 942,1076ZM740,1081 742,1081 744,1084 742,1086 740,1086 739,1084 740,1082ZM814,1082 816,1082 819,1084 820,1086 818,1089 814,1089 813,1086 813,1084ZM824,1085 826,1084 832,1088 833,1090 832,1092 830,1093 828,1092 823,1088 824,1086ZM908,1088 911,1090 910,1092 908,1093 907,1092 907,1090ZM766,1091 769,1094 766,1097 764,1096 763,1094 765,1092ZM802,1092 808,1092 813,1096 815,1098 814,1102 810,1106 808,1107 807,1106 806,1102 798,1096 798,1094 802,1092ZM874,1095 875,1096 874,1098 873,1096ZM828,1100 830,1098 834,1102 830,1104 827,1102 828,1100ZM820,1100 822,1100 825,1102 824,1104 820,1105 819,1104 819,1102ZM836,1101 839,1102 840,1104 838,1106 836,1106 835,1104 835,1102ZM770,1103 774,1102 780,1107 786,1104 792,1106 795,1110 794,1118 792,1120 788,1120 770,1112 768,1110 768,1108 770,1104ZM908,1109 910,1108 913,1110 910,1113 908,1112 908,1110ZM748,1113 752,1116 752,1118 750,1120 748,1120 745,1118 745,1116 747,1114ZM1074,1115 1074,1118 1074,1116ZM452,1119 454,1120 454,1122 452,1123 450,1122 451,1120ZM932,1130 934,1130 936,1132 934,1134 932,1134 931,1132 932,1130ZM1192,1129 1198,1131 1208,1128 1216,1132 1216,1134 1214,1142 1216,1150 1215,1154 1212,1163 1210,1166 1194,1171 1188,1169 1182,1169 1170,1176 1164,1176 1156,1180 1152,1176 1152,1172 1153,1168 1156,1164 1170,1161 1172,1159 1179,1152 1182,1142 1191,1130ZM774,1141 776,1140 778,1142 778,1144 776,1145 774,1144 774,1142ZM946,1143 949,1144 948,1146 946,1146 946,1144ZM448,1145 450,1148 447,1148 447,1146ZM758,1146 760,1146 762,1148 762,1150 760,1151 758,1151 757,1148ZM732,1151 736,1152 736,1154 735,1156 732,1156 731,1154 732,1152ZM926,1153 927,1156 926,1156 926,1154ZM736,1160 739,1160 740,1162 738,1163 736,1163 735,1162 736,1160ZM720,1175 723,1176 720,1176ZM966,1206 971,1206 974,1208 977,1214 978,1216 976,1219 972,1220 968,1216 962,1215 961,1208 962,1206 966,1206ZM1136,1213 1154,1212 1158,1214 1159,1218 1158,1219 1154,1219 1142,1218 1138,1220 1134,1225 1132,1227 1116,1228 1115,1226 1118,1223 1127,1222 1135,1214ZM920,1243 926,1243 932,1245 936,1250 936,1252 932,1253 922,1251 916,1246 919,1244ZM878,1261 882,1262 883,1264 882,1266 878,1264 878,1262ZM886,1277 888,1277 894,1281 900,1282 902,1292 906,1300 909,1308 908,1310 906,1310 900,1308 898,1309 898,1312 898,1314 902,1320 908,1321 910,1324 917,1330 921,1336 927,1350 931,1354 933,1360 938,1368 939,1372 934,1384 936,1394 936,1396 934,1398 930,1399 922,1402 919,1406 919,1420 924,1428 924,1430 922,1435 917,1440 917,1442 916,1450 914,1458 914,1468 913,1472 908,1475 898,1475 894,1478 882,1496 876,1497 862,1504 858,1504 852,1501 842,1490 836,1486 837,1480 835,1474 830,1466 831,1456 830,1444 829,1442 822,1438 818,1432 817,1426 820,1418 816,1410 816,1400 813,1386 814,1381 819,1378 810,1373 802,1376 792,1376 800,1372 808,1365 811,1356 810,1346 804,1348 803,1352 800,1353 798,1353 793,1348 791,1342 786,1338 784,1332 792,1329 794,1327 796,1323 798,1321 802,1323 810,1323 812,1324 814,1328 811,1340 812,1342 822,1332 826,1318 831,1306 833,1296 838,1293 846,1292 854,1289 864,1287 876,1280 886,1278ZM891,1354 888,1355 882,1362 874,1366 873,1368 874,1370 878,1372 886,1371 894,1371 904,1366 912,1365 914,1364 896,1354 892,1353ZM936,1325 939,1326 939,1328 936,1329 934,1328 935,1326ZM772,1337 772,1340 772,1338ZM372,1350 376,1358 377,1372 375,1376 370,1379 370,1348ZM794,1357 796,1356 797,1358 796,1358 794,1358ZM814,1498 816,1500 814,1501 813,1500 814,1498ZM392,1503 394,1503 400,1507 410,1517 413,1522 413,1528 410,1536 409,1548 406,1553 404,1558 398,1561 396,1564 393,1572 399,1592 398,1610 402,1618 402,1620 400,1622 394,1624 393,1626 392,1632 388,1641 384,1642 380,1645 378,1645 370,1639 370,1568 375,1566 387,1552 390,1544 396,1538 396,1534 394,1532 392,1531 388,1533 386,1532 380,1516 381,1512 388,1507 391,1504ZM391,1514 390,1518 392,1520 395,1520 397,1518 397,1516 396,1514 392,1512Z"/>
<path fill="#c8f48e" d="M372,1060 429,1060 424,1066 423,1070 425,1078 428,1084 429,1088 425,1100 425,1104 428,1108 445,1124 447,1134 444,1144 436,1148 435,1150 434,1154 428,1155 422,1162 416,1172 416,1176 417,1190 417,1198 419,1206 420,1222 409,1242 407,1248 407,1256 401,1262 401,1266 397,1270 396,1276 393,1280 394,1286 394,1292 396,1300 382,1318 378,1328 370,1331 370,1060ZM928,1061 930,1060 933,1062 933,1064 930,1065 928,1064 928,1062ZM992,1060 1100,1060 1100,1061 1106,1064 1110,1068 1110,1072 1108,1078 1110,1079 1116,1075 1117,1074 1117,1066 1121,1062 1122,1060 1147,1060 1150,1062 1156,1063 1158,1066 1164,1070 1169,1076 1167,1080 1161,1086 1159,1096 1155,1102 1155,1106 1157,1112 1156,1115 1154,1117 1148,1118 1140,1129 1134,1132 1133,1134 1134,1134 1142,1135 1144,1138 1134,1152 1134,1162 1131,1170 1134,1178 1136,1182 1137,1182 1138,1176 1141,1164 1144,1160 1156,1156 1160,1154 1162,1150 1164,1150 1164,1154 1162,1158 1150,1163 1148,1168 1147,1174 1148,1182 1145,1188 1146,1190 1150,1190 1153,1192 1154,1194 1152,1197 1144,1202 1136,1202 1132,1204 1122,1214 1114,1219 1110,1224 1102,1227 1094,1234 1090,1234 1090,1238 1091,1242 1090,1244 1082,1246 1070,1245 1064,1243 1064,1244 1066,1246 1060,1252 1054,1256 1042,1259 1038,1261 1039,1266 1038,1270 1040,1276 1040,1278 1028,1286 1027,1298 1022,1302 1018,1309 1014,1310 998,1308 982,1300 978,1299 972,1305 962,1303 960,1304 948,1315 946,1314 946,1310 950,1304 960,1295 974,1289 984,1287 988,1286 989,1282 987,1266 999,1246 1001,1226 1000,1216 1003,1212 1004,1210 1002,1196 1000,1190 994,1185 986,1184 980,1180 980,1174 976,1168 978,1166 980,1167 982,1167 983,1162 982,1158 980,1156 978,1155 972,1157 970,1156 966,1150 965,1142 968,1134 968,1130 962,1125 958,1117 946,1112 944,1096 947,1092 948,1087 954,1083 962,1080 962,1076 962,1075 968,1076 978,1074 990,1066 992,1062ZM1066,1062 1061,1066 1052,1070 1046,1076 1036,1078 1026,1089 1025,1092 1026,1096 1031,1106 1029,1112 1032,1118 1036,1120 1050,1119 1054,1120 1059,1126 1061,1136 1066,1140 1072,1138 1080,1134 1090,1124 1098,1092 1094,1075 1090,1067 1086,1065 1080,1069 1078,1069 1070,1062 1068,1061 1066,1061ZM866,1062 866,1066 866,1064ZM944,1075 946,1078 944,1078 943,1078 943,1076ZM740,1082 742,1082 743,1084 742,1085 740,1085 740,1084ZM816,1083 819,1086 816,1088 814,1086 815,1084ZM826,1085 832,1090 830,1092 825,1088 825,1086ZM908,1089 909,1090 908,1092 908,1090ZM764,1094 766,1092 768,1094 766,1096 764,1094ZM830,1099 832,1102 830,1103 828,1102 830,1100ZM820,1101 822,1100 824,1102 824,1104 822,1105 820,1104 820,1102ZM836,1102 838,1102 839,1104 838,1105 836,1105 835,1104ZM910,1109 912,1110 911,1112 909,1112 909,1110ZM748,1114 751,1116 750,1118 748,1119 746,1118 746,1116ZM1062,1123 1064,1122 1066,1124 1066,1126 1064,1127 1062,1126 1061,1124ZM1192,1129 1198,1132 1206,1129 1215,1132 1215,1136 1212,1142 1215,1150 1214,1155 1211,1164 1194,1171 1192,1171 1188,1168 1184,1168 1170,1175 1164,1175 1158,1177 1154,1176 1153,1172 1154,1166 1164,1162 1170,1162 1172,1161 1180,1152 1184,1142 1192,1130ZM932,1131 934,1131 934,1132 932,1133 932,1132ZM776,1141 776,1144 775,1142ZM758,1147 760,1147 761,1150 758,1150 758,1148ZM732,1152 734,1152 736,1154 734,1155 732,1155 732,1154ZM736,1161 738,1161 739,1162 736,1162ZM966,1207 970,1207 972,1208 976,1214 976,1216 975,1218 972,1217 970,1214 964,1212 964,1210 965,1208ZM1136,1213 1140,1212 1148,1213 1154,1212 1158,1215 1159,1218 1158,1218 1152,1219 1142,1218 1138,1219 1134,1225 1132,1226 1116,1228 1115,1226 1118,1223 1128,1222 1136,1214ZM918,1246 926,1245 929,1246 932,1250 928,1251 922,1250 918,1246ZM876,1281 882,1281 892,1284 898,1284 900,1292 905,1304 904,1306 898,1306 896,1307 896,1310 897,1314 900,1321 902,1323 912,1327 916,1331 921,1338 921,1344 930,1354 932,1360 936,1366 939,1372 933,1384 935,1392 935,1396 930,1399 920,1401 918,1404 918,1420 923,1428 923,1430 921,1434 916,1437 916,1440 916,1448 913,1458 914,1468 912,1472 908,1475 898,1475 894,1478 891,1480 882,1495 874,1497 862,1503 858,1503 852,1500 843,1488 839,1486 837,1484 838,1478 831,1464 833,1444 832,1440 824,1437 820,1434 818,1431 818,1424 822,1418 822,1416 817,1410 817,1402 814,1386 816,1382 821,1380 822,1378 820,1374 816,1372 812,1364 812,1348 813,1344 820,1336 823,1332 826,1319 832,1308 834,1297 838,1295 846,1294 856,1290 866,1287 876,1282ZM890,1352 887,1354 883,1360 881,1362 872,1366 871,1368 872,1370 878,1373 886,1372 892,1373 894,1373 902,1368 908,1368 912,1369 917,1368 917,1366 916,1362 910,1360 896,1352 890,1352ZM930,1313 936,1312 939,1314 940,1316 936,1319 924,1326 922,1326 920,1325 919,1324 919,1322 924,1316 929,1314ZM798,1322 802,1324 808,1324 811,1326 812,1328 809,1344 802,1348 803,1350 800,1352 797,1350 796,1340 793,1338 788,1337 786,1334 794,1329 796,1324ZM936,1326 938,1328 936,1328 935,1328 936,1326ZM371,1350 374,1358 376,1372 374,1375 370,1378 370,1349ZM392,1505 394,1505 400,1508 410,1518 412,1522 413,1528 409,1536 408,1548 404,1553 398,1558 394,1562 394,1568 391,1572 398,1593 397,1612 400,1618 398,1620 394,1618 390,1621 390,1632 389,1636 389,1640 380,1643 378,1643 370,1637 370,1569 375,1566 388,1552 391,1544 397,1538 397,1534 394,1530 388,1532 385,1530 381,1516 382,1512 386,1510 388,1512 388,1516 389,1520 394,1522 396,1521 399,1516 396,1512 392,1510 391,1508 392,1506Z"/>
<path fill="#e3f993" d="M372,1060 425,1060 423,1066 422,1072 428,1088 422,1104 425,1108 443,1124 444,1126 446,1134 443,1144 434,1149 433,1154 428,1154 421,1162 415,1172 417,1190 415,1198 418,1208 419,1220 418,1224 414,1230 412,1236 408,1242 406,1256 400,1262 400,1266 396,1268 395,1276 391,1282 393,1286 393,1292 395,1300 383,1316 376,1327 370,1330 370,1060ZM930,1060 932,1062 932,1064 929,1064 929,1062ZM994,1060 1037,1060 1036,1064 1038,1066 1045,1070 1044,1072 1034,1076 1030,1082 1024,1090 1024,1094 1028,1106 1028,1114 1032,1120 1036,1122 1053,1122 1055,1124 1056,1128 1053,1136 1054,1138 1066,1143 1076,1139 1082,1135 1087,1130 1092,1122 1095,1104 1098,1094 1099,1090 1094,1074 1088,1060 1100,1060 1102,1064 1108,1067 1110,1070 1108,1078 1108,1082 1110,1081 1114,1077 1118,1076 1118,1068 1122,1062 1122,1060 1145,1060 1150,1064 1162,1070 1166,1076 1166,1078 1160,1086 1158,1096 1154,1102 1153,1104 1156,1112 1156,1114 1154,1116 1148,1116 1140,1126 1132,1128 1126,1134 1126,1136 1138,1140 1133,1150 1133,1162 1130,1168 1133,1180 1142,1191 1150,1191 1153,1194 1150,1198 1144,1201 1132,1203 1121,1214 1114,1218 1109,1224 1102,1226 1096,1232 1092,1233 1088,1233 1091,1242 1090,1244 1088,1245 1070,1245 1064,1243 1060,1244 1050,1246 1062,1247 1063,1248 1060,1250 1051,1256 1040,1259 1037,1262 1036,1268 1039,1274 1038,1278 1027,1286 1026,1298 1022,1300 1018,1308 1016,1309 998,1306 990,1303 982,1298 978,1297 972,1304 960,1302 950,1312 948,1313 948,1312 948,1309 960,1297 976,1290 986,1288 989,1286 990,1282 988,1276 988,1266 1000,1248 1002,1226 1002,1218 1005,1212 1003,1208 1002,1193 1000,1188 994,1183 986,1182 983,1178 985,1162 983,1156 978,1154 972,1154 968,1151 966,1147 966,1140 972,1128 964,1124 960,1116 946,1110 946,1102 945,1096 946,1094 950,1096 951,1094 948,1092 948,1089 950,1087 954,1087 962,1081 964,1078 962,1076 964,1075 966,1077 978,1075 992,1066 994,1060ZM816,1084 818,1086 816,1087 815,1086ZM822,1101 822,1104 822,1102ZM748,1115 750,1116 750,1118 748,1118 747,1118 747,1116ZM1064,1123 1066,1124 1064,1125 1063,1124ZM1192,1130 1194,1130 1198,1133 1208,1131 1212,1132 1213,1134 1210,1142 1213,1152 1212,1158 1210,1162 1208,1164 1198,1167 1194,1170 1192,1170 1190,1167 1186,1166 1178,1169 1170,1173 1156,1176 1154,1172 1154,1167 1156,1166 1160,1166 1164,1163 1170,1163 1172,1162 1181,1152 1187,1140 1190,1136 1191,1132ZM1162,1150 1164,1152 1164,1156 1162,1157 1152,1162 1150,1164 1147,1172 1147,1184 1144,1187 1142,1187 1139,1184 1138,1180 1143,1162 1146,1159 1156,1156 1162,1152ZM732,1153 735,1154 732,1154ZM978,1167 981,1170 978,1171 977,1168ZM1138,1213 1148,1214 1154,1213 1158,1215 1159,1218 1152,1219 1142,1217 1138,1219 1132,1226 1116,1227 1116,1226 1118,1223 1128,1222 1136,1214ZM876,1283 880,1282 884,1284 890,1289 894,1289 896,1292 900,1300 894,1305 894,1310 899,1322 902,1326 909,1328 915,1332 918,1338 917,1344 918,1346 922,1348 930,1354 931,1360 937,1368 937,1372 932,1382 932,1386 935,1392 935,1396 930,1398 920,1399 917,1404 916,1418 920,1430 914,1440 915,1448 913,1458 914,1468 912,1471 908,1475 898,1475 893,1478 889,1482 882,1494 874,1496 862,1501 858,1502 852,1498 845,1486 840,1486 839,1484 840,1480 832,1464 833,1452 836,1444 836,1435 834,1434 830,1436 826,1436 822,1434 820,1430 820,1424 824,1420 826,1416 825,1414 819,1410 818,1400 815,1392 815,1388 816,1382 823,1380 823,1374 822,1372 818,1368 814,1361 813,1348 814,1344 820,1339 823,1334 828,1318 834,1308 836,1299 846,1296 856,1292 866,1288 875,1284ZM895,1350 888,1350 886,1351 882,1360 870,1366 871,1370 874,1373 878,1375 886,1373 892,1375 902,1368 908,1369 914,1372 918,1370 920,1366 918,1360 916,1359 912,1360 910,1360 904,1356 898,1350 896,1349ZM930,1313 936,1313 938,1314 938,1316 936,1318 924,1326 922,1326 920,1325 919,1324 920,1322 924,1316 929,1314ZM798,1323 801,1324 802,1326 808,1327 810,1330 808,1340 806,1344 800,1344 797,1338 792,1334 798,1328 797,1324ZM798,1349 800,1348 802,1350 800,1352 798,1350ZM371,1354 373,1360 373,1368 374,1372 373,1376 370,1377 371,1370 370,1368 370,1352ZM398,1509 400,1510 405,1516 410,1520 412,1526 409,1534 406,1548 394,1560 392,1564 393,1568 389,1572 389,1574 394,1584 396,1591 397,1608 395,1614 388,1620 388,1632 387,1636 389,1640 384,1640 380,1642 378,1641 374,1637 370,1636 370,1569 373,1568 387,1554 390,1550 393,1542 398,1538 398,1526 401,1516 397,1510ZM386,1521 392,1526 392,1530 388,1532 386,1530 385,1524 386,1522Z"/>
<path fill="#ffff99" d="M372,1060 423,1060 421,1072 426,1084 427,1088 422,1100 421,1106 441,1124 443,1128 445,1134 442,1142 434,1148 433,1150 432,1153 428,1153 426,1158 420,1161 415,1172 416,1190 413,1198 417,1206 418,1222 413,1230 411,1236 408,1240 406,1248 405,1256 398,1262 398,1264 400,1266 396,1265 395,1276 389,1282 392,1286 394,1300 376,1325 370,1330 370,1060ZM996,1060 1022,1060 1023,1062 1027,1072 1024,1078 1024,1084 1021,1090 1023,1100 1022,1102 1014,1112 1014,1114 1022,1113 1024,1114 1034,1125 1040,1126 1050,1126 1051,1128 1047,1134 1047,1138 1050,1140 1060,1144 1062,1150 1064,1153 1066,1152 1070,1148 1076,1145 1087,1134 1092,1124 1095,1104 1099,1092 1097,1080 1091,1062 1092,1060 1099,1060 1100,1062 1108,1068 1109,1070 1107,1078 1108,1082 1108,1086 1112,1094 1112,1098 1108,1103 1107,1110 1112,1112 1114,1116 1113,1120 1113,1122 1120,1126 1121,1130 1118,1136 1118,1139 1124,1142 1131,1144 1127,1150 1127,1152 1131,1160 1130,1163 1128,1168 1131,1180 1142,1193 1148,1192 1151,1194 1148,1198 1144,1200 1132,1200 1108,1222 1102,1224 1094,1231 1088,1230 1087,1232 1091,1242 1090,1244 1088,1245 1070,1245 1064,1242 1058,1244 1048,1244 1047,1246 1048,1248 1056,1250 1052,1250 1048,1254 1035,1260 1033,1266 1036,1276 1033,1280 1026,1284 1024,1288 1025,1298 1020,1299 1018,1306 1014,1308 990,1300 982,1294 976,1294 970,1300 964,1300 966,1298 974,1293 986,1291 988,1290 991,1286 992,1282 990,1272 990,1266 997,1258 1002,1248 1003,1230 1006,1218 1007,1214 1004,1206 1003,1188 1005,1182 998,1174 996,1161 994,1160 990,1162 988,1162 986,1154 984,1152 978,1149 972,1150 968,1147 968,1140 976,1128 976,1126 966,1122 964,1118 958,1113 948,1110 947,1106 948,1101 960,1090 964,1080 968,1078 978,1078 984,1072 994,1070 996,1068 996,1060ZM1029,1146 1029,1148 1034,1148 1033,1146 1030,1145ZM1040,1156 1036,1159 1030,1159 1030,1164 1026,1167 1020,1168 1012,1164 1011,1166 1012,1172 1009,1176 1013,1178 1014,1177 1015,1174 1016,1172 1018,1172 1022,1172 1024,1175 1026,1174 1029,1168 1030,1166 1040,1162 1045,1158 1043,1156 1040,1156ZM1051,1158 1050,1160 1051,1162 1052,1163 1054,1163 1057,1158 1052,1157ZM1032,1178 1032,1182 1034,1184 1038,1184 1039,1182 1038,1178 1034,1176ZM1124,1060 1142,1060 1148,1065 1158,1070 1163,1078 1163,1080 1157,1088 1155,1092 1155,1096 1151,1104 1150,1108 1152,1109 1153,1112 1150,1112 1148,1110 1142,1120 1138,1124 1133,1124 1124,1116 1124,1114 1126,1104 1121,1100 1119,1094 1116,1092 1113,1082 1114,1078 1120,1077 1121,1068 1124,1064 1123,1060ZM1144,1090 1148,1092 1151,1092 1153,1090 1152,1089 1144,1089ZM950,1087 954,1090 952,1092 950,1092 949,1090 950,1088ZM946,1095 948,1096 949,1098 948,1099 946,1099 946,1096ZM1192,1131 1195,1132 1200,1138 1200,1140 1196,1143 1190,1146 1188,1145 1187,1142 1191,1138 1192,1134 1192,1132ZM1200,1147 1204,1146 1207,1148 1208,1150 1206,1152 1202,1153 1200,1148ZM1162,1151 1164,1152 1164,1154 1162,1157 1152,1161 1150,1164 1146,1174 1147,1182 1144,1187 1142,1186 1139,1182 1138,1178 1143,1162 1146,1159 1156,1156 1162,1152ZM1184,1155 1186,1156 1187,1160 1185,1164 1182,1166 1158,1174 1156,1174 1154,1172 1154,1170 1155,1168 1156,1167 1162,1168 1164,1163 1168,1164 1170,1167 1172,1167 1178,1159 1184,1156ZM1138,1213 1148,1214 1154,1213 1158,1215 1159,1218 1152,1218 1142,1217 1138,1219 1132,1226 1116,1227 1116,1226 1118,1224 1128,1222 1137,1214ZM876,1286 880,1285 882,1287 885,1290 886,1294 884,1300 880,1303 879,1304 878,1306 882,1307 888,1304 890,1308 891,1312 902,1330 886,1344 894,1346 886,1348 883,1352 879,1360 872,1362 869,1366 869,1370 870,1372 875,1376 875,1378 872,1380 870,1384 872,1384 874,1381 884,1376 892,1377 898,1372 902,1369 908,1369 914,1374 922,1372 925,1368 926,1364 919,1354 928,1353 931,1356 930,1359 928,1362 929,1364 934,1368 935,1370 934,1373 930,1378 931,1384 931,1388 933,1394 933,1396 930,1397 920,1398 918,1400 915,1404 915,1426 918,1430 914,1440 915,1448 913,1458 913,1468 912,1472 908,1474 896,1475 890,1480 881,1494 859,1500 856,1498 854,1496 850,1488 847,1480 840,1476 836,1466 842,1463 848,1458 849,1452 850,1450 854,1449 858,1452 860,1447 862,1446 868,1444 879,1444 882,1442 883,1434 882,1433 880,1435 876,1441 874,1442 872,1441 867,1438 862,1433 857,1430 858,1424 863,1418 862,1416 853,1410 848,1410 846,1409 845,1408 845,1404 844,1402 834,1398 824,1399 820,1399 818,1397 815,1392 815,1386 816,1383 823,1380 825,1370 820,1365 817,1360 815,1350 816,1346 823,1338 830,1319 840,1305 846,1302 850,1302 856,1301 862,1301 865,1300 871,1290 876,1286ZM872,1428 867,1430 868,1432 870,1432 872,1431 873,1430 872,1427ZM884,1430 884,1432 884,1429ZM930,1314 936,1313 937,1316 926,1324 922,1326 920,1325 920,1322 922,1318 924,1316 930,1314ZM798,1323 800,1324 798,1326 798,1324ZM800,1328 802,1328 806,1332 804,1335 802,1336 798,1334 797,1332 798,1330ZM908,1332 912,1333 914,1336 914,1338 912,1341 910,1341 908,1340 907,1338 907,1334ZM908,1345 912,1345 915,1350 916,1356 914,1359 912,1360 910,1359 904,1352 904,1350 907,1346ZM844,1429 848,1432 848,1434 846,1437 844,1437 841,1434 841,1432 843,1430ZM836,1451 838,1450 842,1452 842,1456 840,1457 836,1457 835,1454 835,1452ZM840,1481 842,1481 843,1482 844,1484 842,1485 840,1485 839,1484 840,1482ZM388,1527 391,1530 388,1531 387,1530 388,1528ZM402,1533 404,1532 407,1536 408,1540 406,1543 402,1549 390,1556 388,1564 388,1565 390,1564 392,1566 392,1568 390,1570 386,1568 386,1574 392,1582 394,1588 396,1604 393,1612 386,1618 384,1631 382,1637 380,1639 374,1635 370,1634 370,1569 374,1568 382,1559 390,1554 392,1550 392,1544 394,1540 400,1540 402,1534Z"/>
<path fill="#f1ed92" d="M372,1060 421,1060 420,1066 420,1074 425,1084 426,1088 420,1100 420,1106 426,1113 439,1124 443,1134 440,1142 431,1150 432,1152 428,1152 425,1158 420,1160 414,1171 415,1190 412,1198 416,1208 416,1222 412,1228 411,1234 407,1240 404,1256 395,1264 394,1268 395,1274 394,1275 383,1284 382,1286 388,1284 391,1286 393,1300 378,1321 370,1329 370,1060ZM1092,1060 1099,1060 1102,1065 1108,1068 1109,1072 1107,1082 1110,1094 1110,1100 1106,1106 1106,1110 1106,1112 1108,1112 1110,1114 1110,1116 1108,1117 1106,1118 1107,1124 1104,1125 1100,1126 1096,1132 1094,1132 1092,1130 1092,1128 1096,1104 1100,1092 1091,1062ZM1124,1060 1129,1060 1126,1063 1124,1063 1123,1060ZM1008,1063 1012,1065 1014,1074 1013,1078 1011,1082 1013,1084 1014,1088 1010,1091 1006,1089 1005,1086 1008,1082 1010,1082 1004,1078 1004,1076 1007,1070 1008,1064ZM982,1075 984,1074 988,1076 988,1078 986,1080 984,1081 982,1080 981,1078 982,1076ZM966,1079 971,1080 972,1084 970,1085 966,1085 965,1082 965,1080ZM1114,1079 1116,1078 1118,1080 1118,1082 1116,1083 1114,1082 1113,1080ZM994,1083 998,1082 1001,1086 1001,1088 998,1091 994,1091 993,1090 993,1086 994,1084ZM1146,1082 1148,1082 1150,1084 1150,1086 1148,1087 1146,1087 1145,1086 1145,1084ZM950,1088 952,1090 950,1091 949,1090ZM964,1093 970,1099 974,1100 975,1102 973,1106 974,1109 982,1113 979,1106 982,1101 984,1100 986,1101 992,1110 990,1113 988,1115 984,1116 983,1118 980,1118 974,1119 964,1116 962,1114 958,1108 952,1109 948,1108 948,1103 958,1096 963,1094ZM1126,1093 1131,1096 1131,1098 1128,1101 1124,1100 1122,1098 1122,1096 1126,1094ZM1002,1110 1006,1110 1014,1115 1018,1115 1022,1116 1027,1122 1024,1125 1022,1126 1018,1130 1018,1136 1020,1140 1020,1142 1018,1144 1014,1146 1002,1150 1004,1152 1012,1152 1016,1158 1020,1161 1022,1161 1024,1158 1026,1158 1028,1160 1028,1162 1020,1166 1016,1165 1010,1159 1002,1155 990,1143 988,1143 988,1146 984,1148 981,1146 981,1144 984,1138 977,1134 976,1132 977,1128 982,1124 993,1120 1001,1112ZM1192,1135 1194,1134 1196,1135 1198,1138 1198,1140 1190,1144 1188,1142 1192,1136ZM1084,1137 1088,1137 1093,1142 1094,1142 1098,1142 1102,1138 1104,1139 1106,1142 1106,1146 1116,1154 1116,1156 1115,1158 1112,1159 1100,1162 1094,1165 1090,1165 1088,1164 1086,1170 1088,1173 1102,1164 1108,1164 1112,1167 1119,1176 1120,1182 1128,1196 1128,1200 1126,1203 1120,1206 1120,1212 1116,1214 1113,1214 1111,1212 1113,1208 1116,1206 1115,1204 1108,1203 1104,1204 1101,1208 1102,1216 1101,1218 1098,1219 1096,1218 1094,1220 1097,1224 1095,1228 1092,1229 1088,1228 1086,1223 1082,1220 1079,1222 1082,1224 1082,1228 1076,1233 1074,1234 1074,1235 1084,1230 1087,1234 1090,1242 1088,1244 1070,1244 1065,1242 1064,1240 1058,1242 1052,1240 1040,1242 1032,1247 1022,1251 1016,1249 1008,1253 1006,1252 1003,1242 1003,1234 1007,1220 1010,1216 1005,1210 1004,1206 1004,1192 1005,1186 1008,1184 1014,1187 1020,1202 1024,1206 1027,1208 1031,1208 1029,1200 1032,1197 1034,1198 1035,1200 1034,1212 1034,1222 1042,1228 1040,1231 1037,1232 1042,1232 1048,1228 1054,1226 1056,1224 1056,1222 1052,1217 1048,1216 1048,1220 1044,1223 1042,1223 1040,1221 1039,1218 1042,1214 1046,1213 1050,1207 1058,1207 1063,1212 1068,1212 1073,1210 1076,1206 1075,1202 1076,1192 1076,1191 1080,1192 1080,1190 1077,1188 1072,1187 1069,1184 1067,1176 1063,1172 1063,1166 1061,1160 1064,1156 1068,1156 1077,1164 1077,1148 1081,1140 1083,1138ZM1112,1194 1110,1196 1112,1197 1114,1196 1116,1194 1114,1192 1112,1193ZM1064,1222 1064,1226 1066,1226 1072,1224 1066,1220 1064,1221ZM1070,1236 1074,1236 1070,1236ZM1032,1151 1034,1152 1036,1154 1036,1156 1034,1157 1032,1157 1030,1156 1030,1154 1032,1152ZM1162,1151 1164,1154 1162,1157 1152,1161 1150,1164 1146,1174 1147,1182 1144,1187 1142,1186 1139,1182 1139,1178 1143,1162 1146,1159 1156,1156 1162,1152ZM1166,1164 1168,1166 1166,1167 1164,1167 1163,1166 1165,1164ZM1156,1167 1160,1170 1159,1172 1156,1173 1155,1170 1156,1168ZM1018,1174 1020,1174 1022,1176 1022,1178 1020,1179 1018,1179 1017,1178 1017,1176ZM1058,1177 1060,1176 1064,1180 1064,1184 1062,1185 1058,1184 1057,1182 1058,1178ZM1138,1213 1142,1213 1148,1214 1154,1213 1158,1216 1158,1218 1142,1217 1138,1219 1132,1226 1116,1226 1120,1223 1128,1222 1138,1214ZM1040,1247 1044,1246 1047,1250 1046,1252 1044,1253 1040,1252 1039,1250 1040,1248ZM1010,1263 1012,1262 1016,1264 1019,1268 1019,1270 1010,1269 1009,1266 1009,1264ZM876,1294 880,1294 882,1298 881,1300 878,1301 876,1300 875,1298 875,1296ZM884,1313 888,1314 894,1318 899,1326 900,1330 888,1340 882,1343 878,1343 875,1340 874,1334 875,1330 878,1324 879,1318 883,1314ZM932,1313 936,1314 936,1316 935,1318 924,1325 922,1326 920,1324 920,1322 924,1317 931,1314ZM868,1321 870,1322 872,1326 868,1329 864,1328 863,1326 864,1324 866,1322ZM844,1326 847,1328 850,1336 852,1338 854,1337 856,1333 858,1332 860,1338 862,1342 861,1352 858,1356 862,1362 862,1366 858,1372 854,1376 862,1375 866,1378 866,1380 861,1384 861,1386 862,1388 870,1388 876,1382 882,1380 886,1380 890,1384 892,1380 898,1372 904,1369 908,1370 914,1376 916,1382 920,1380 924,1383 926,1381 928,1380 930,1383 930,1386 928,1387 924,1386 922,1389 920,1389 918,1389 916,1385 912,1389 897,1390 895,1392 896,1394 894,1396 898,1400 898,1402 896,1403 894,1404 892,1403 890,1399 888,1399 882,1404 876,1410 870,1413 864,1412 852,1405 851,1408 848,1409 846,1408 846,1406 847,1404 846,1402 834,1397 824,1399 818,1396 816,1392 816,1386 817,1384 822,1381 824,1380 825,1372 826,1369 832,1366 841,1366 834,1365 828,1362 824,1362 820,1356 819,1352 820,1350 824,1347 830,1350 832,1348 827,1334 828,1332 837,1332 843,1328ZM850,1374 853,1374 850,1373ZM800,1329 802,1329 804,1332 802,1334 800,1334 799,1332 800,1330ZM908,1335 910,1334 912,1335 913,1338 910,1339 908,1338 908,1336ZM908,1347 910,1346 913,1348 913,1350 912,1352 914,1356 915,1358 912,1359 910,1359 908,1356 909,1352 907,1350 907,1348ZM928,1354 930,1356 928,1358 926,1356ZM912,1391 916,1391 919,1392 920,1394 918,1398 912,1401 910,1401 908,1398 909,1394 912,1392ZM882,1408 884,1408 887,1410 888,1412 886,1415 882,1415 881,1412 881,1410ZM868,1420 872,1422 872,1426 868,1427 867,1426 866,1424 867,1422ZM906,1425 908,1424 917,1430 913,1440 914,1448 912,1458 913,1470 908,1474 896,1475 888,1480 885,1482 882,1484 880,1489 876,1491 870,1479 866,1477 862,1480 860,1480 858,1476 860,1472 865,1472 870,1464 868,1457 864,1452 865,1448 868,1446 874,1446 882,1444 884,1441 887,1432 892,1427 900,1428 905,1426ZM842,1431 844,1430 846,1431 847,1434 844,1435 842,1434 842,1432ZM838,1451 841,1454 838,1456 836,1454 837,1452ZM852,1451 854,1451 856,1454 854,1457 851,1456 850,1454 851,1452ZM840,1483 842,1482 843,1484 842,1484 840,1484ZM404,1536 406,1536 407,1538 406,1541 404,1542 402,1540 402,1538ZM394,1541 396,1540 398,1542 398,1546 396,1547 394,1548 392,1546 394,1542ZM384,1558 386,1558 387,1560 386,1574 392,1586 392,1596 394,1602 394,1608 391,1612 385,1618 383,1624 380,1629 370,1629 370,1569 374,1568 383,1560ZM390,1566 392,1568 390,1569 389,1568Z"/>
<path fill="#e3dc8a" d="M372,1060 420,1060 419,1066 419,1074 425,1086 424,1090 419,1100 419,1106 423,1110 425,1114 437,1124 440,1130 442,1134 438,1142 428,1151 425,1158 420,1159 414,1172 414,1188 411,1198 415,1208 415,1220 410,1230 411,1234 406,1240 404,1254 402,1256 395,1262 394,1264 393,1270 394,1274 384,1282 382,1284 380,1289 375,1292 370,1296 370,1060ZM1092,1061 1094,1061 1096,1060 1099,1060 1102,1065 1107,1068 1108,1070 1106,1082 1110,1094 1110,1098 1106,1106 1106,1110 1106,1113 1109,1114 1109,1116 1105,1118 1106,1124 1099,1126 1096,1130 1094,1130 1093,1128 1093,1118 1100,1092 1092,1062ZM1124,1060 1128,1060 1126,1062 1124,1061 1124,1060ZM984,1074 987,1076 986,1078 984,1079 982,1078 983,1076ZM966,1079 970,1080 970,1082 968,1083 966,1083 965,1082 966,1080ZM1114,1079 1117,1080 1116,1081 1114,1080ZM1146,1083 1149,1084 1149,1086 1146,1086 1146,1084ZM994,1085 996,1084 998,1085 999,1088 996,1089 994,1088 994,1086ZM1008,1084 1010,1084 1012,1086 1012,1088 1010,1089 1008,1089 1007,1088 1007,1086ZM1124,1095 1129,1096 1130,1098 1128,1099 1126,1100 1124,1099 1124,1098 1124,1096ZM950,1103 952,1103 954,1104 954,1106 954,1108 952,1108 950,1108 949,1106 950,1104ZM984,1103 986,1104 988,1108 990,1110 990,1112 988,1113 986,1113 985,1112 984,1110 981,1106 983,1104ZM964,1108 966,1108 968,1110 969,1112 968,1114 964,1114 962,1112 963,1110ZM1002,1111 1006,1111 1014,1116 1020,1116 1026,1120 1026,1122 1025,1124 1021,1126 1018,1130 1018,1136 1019,1140 1017,1144 1014,1145 1004,1148 1000,1148 1004,1152 1012,1153 1017,1160 1023,1164 1020,1165 1016,1164 1009,1158 1000,1153 990,1143 988,1142 987,1146 984,1147 982,1146 982,1144 985,1142 985,1138 980,1135 977,1132 977,1130 979,1128 994,1120 1002,1112ZM1194,1134 1198,1138 1197,1140 1190,1143 1189,1142 1190,1140 1192,1142 1193,1136ZM1084,1138 1086,1137 1094,1143 1098,1142 1102,1139 1105,1142 1106,1148 1113,1154 1114,1156 1092,1164 1086,1162 1086,1166 1084,1168 1082,1167 1080,1164 1077,1156 1078,1148 1080,1144 1084,1138ZM1162,1151 1163,1156 1161,1158 1152,1161 1149,1164 1146,1172 1147,1182 1144,1186 1142,1185 1140,1182 1139,1178 1144,1162 1146,1159 1156,1157 1161,1154 1162,1152ZM1032,1153 1035,1154 1035,1156 1032,1157 1031,1154ZM1064,1157 1070,1158 1078,1167 1084,1171 1088,1176 1102,1166 1106,1165 1110,1166 1116,1172 1116,1188 1110,1193 1095,1202 1092,1212 1088,1215 1082,1217 1077,1222 1078,1224 1080,1224 1082,1226 1082,1228 1076,1233 1062,1239 1044,1240 1026,1248 1022,1249 1016,1247 1010,1251 1008,1251 1005,1248 1003,1238 1004,1232 1007,1222 1011,1218 1009,1214 1006,1210 1004,1206 1005,1192 1006,1187 1008,1186 1014,1189 1022,1206 1032,1212 1034,1222 1039,1228 1039,1230 1036,1231 1031,1232 1044,1232 1052,1228 1062,1230 1075,1224 1073,1222 1066,1219 1063,1216 1064,1214 1072,1212 1076,1210 1079,1206 1079,1200 1082,1196 1086,1194 1086,1192 1084,1188 1081,1186 1072,1185 1069,1182 1068,1177 1064,1170 1064,1166 1062,1160 1064,1158ZM1020,1232 1020,1234 1022,1234 1025,1232 1022,1230 1020,1231ZM1024,1159 1027,1160 1026,1163 1024,1163 1023,1160ZM1164,1165 1167,1166 1164,1166ZM1156,1168 1158,1170 1156,1171 1155,1170ZM1018,1175 1021,1176 1020,1178 1018,1178 1018,1176ZM1058,1179 1060,1178 1062,1179 1063,1182 1060,1183 1058,1182 1058,1180ZM1114,1209 1116,1208 1118,1209 1119,1212 1116,1213 1114,1212 1114,1210ZM1140,1213 1148,1214 1154,1213 1158,1216 1156,1217 1140,1217 1132,1226 1118,1226 1116,1226 1120,1223 1128,1223 1138,1214ZM1042,1216 1044,1216 1046,1218 1046,1220 1044,1221 1042,1221 1041,1220 1041,1218ZM1090,1222 1092,1222 1094,1224 1094,1226 1092,1227 1090,1227 1089,1226 1089,1224ZM1080,1233 1084,1232 1086,1233 1090,1242 1089,1244 1084,1245 1070,1244 1065,1242 1068,1238 1080,1234ZM1042,1247 1044,1247 1046,1250 1044,1252 1042,1252 1041,1250 1042,1248ZM1012,1263 1015,1266 1012,1268 1010,1266 1011,1264ZM386,1285 388,1285 390,1286 392,1300 378,1321 370,1328 372,1302 374,1298 380,1294 383,1288 386,1286ZM878,1295 881,1298 878,1300 876,1298 877,1296ZM934,1314 936,1316 934,1318 927,1324 922,1325 920,1324 920,1322 924,1317 934,1314ZM882,1314 888,1315 894,1319 899,1328 897,1332 888,1339 880,1343 878,1342 875,1340 875,1334 875,1330 878,1325 881,1316ZM866,1323 868,1323 870,1326 868,1328 866,1328 865,1326 866,1324ZM842,1329 844,1328 847,1330 850,1343 852,1346 852,1350 861,1362 861,1364 860,1370 856,1373 852,1373 844,1366 832,1363 825,1358 824,1356 826,1352 828,1351 834,1350 835,1348 831,1342 828,1334 830,1332 838,1332 841,1330ZM800,1330 802,1330 803,1332 802,1333 800,1333 800,1332ZM910,1335 912,1336 912,1338 910,1339 909,1338 909,1336ZM910,1347 912,1348 912,1350 910,1351 908,1350 909,1348ZM910,1353 914,1356 914,1358 912,1359 910,1358 908,1356 910,1354ZM832,1367 838,1366 844,1368 856,1379 858,1376 864,1377 865,1380 860,1382 860,1386 861,1388 866,1389 870,1388 878,1382 882,1381 886,1381 890,1388 892,1388 891,1386 891,1382 894,1378 899,1372 904,1369 908,1370 914,1376 916,1384 913,1388 910,1389 894,1389 892,1388 892,1390 894,1394 893,1396 884,1402 874,1411 868,1412 862,1411 858,1407 852,1405 850,1405 850,1408 848,1408 847,1408 847,1406 849,1404 844,1400 834,1396 826,1398 820,1397 816,1392 816,1385 824,1380 826,1371 828,1369 832,1368ZM928,1381 930,1384 928,1386 926,1384 928,1382ZM918,1383 920,1382 922,1383 923,1386 920,1387 918,1386 918,1384ZM912,1392 914,1392 917,1394 917,1396 914,1399 910,1399 909,1398 909,1396 911,1394ZM892,1399 894,1398 897,1400 897,1402 894,1403 892,1402 892,1400ZM884,1409 887,1412 884,1414 882,1412 884,1410ZM868,1422 870,1422 872,1424 870,1425 868,1425 867,1424ZM908,1426 916,1430 916,1432 913,1440 914,1448 912,1458 913,1470 908,1474 898,1474 886,1481 880,1481 879,1482 881,1484 881,1486 878,1487 876,1487 872,1478 868,1476 867,1474 867,1470 870,1465 871,1462 870,1458 866,1452 866,1448 868,1446 874,1447 882,1444 885,1442 887,1434 890,1429 892,1428 902,1428 908,1426ZM844,1431 846,1432 846,1434 844,1434 843,1434 843,1432ZM838,1452 840,1454 838,1455 837,1454ZM852,1452 854,1452 855,1454 854,1455 852,1455 851,1454ZM862,1473 865,1476 862,1479 859,1476 861,1474ZM404,1537 407,1538 406,1540 404,1541 403,1538ZM394,1541 396,1541 397,1544 396,1546 394,1547 393,1544 394,1542ZM384,1559 386,1560 385,1574 392,1586 392,1594 394,1604 392,1610 384,1617 382,1626 378,1628 370,1626 370,1569 374,1568 384,1560Z"/>
<path fill="#d6ca83" d="M372,1060 418,1060 417,1066 418,1074 424,1086 418,1100 418,1106 422,1110 424,1114 436,1125 440,1134 437,1142 426,1153 424,1157 420,1159 413,1172 413,1188 410,1198 414,1208 413,1220 409,1230 410,1234 406,1238 403,1254 399,1258 393,1262 392,1270 394,1274 384,1282 380,1288 370,1295 370,1060ZM1092,1061 1094,1062 1098,1060 1102,1066 1107,1068 1108,1070 1106,1082 1110,1094 1109,1098 1105,1108 1105,1112 1106,1116 1104,1118 1105,1124 1098,1126 1096,1129 1094,1129 1094,1128 1094,1118 1100,1092 1097,1078 1092,1064 1092,1062ZM1124,1060 1128,1060 1126,1061 1124,1060ZM984,1075 985,1078 984,1078 984,1076ZM968,1080 969,1082 966,1082 966,1081 968,1080ZM996,1085 998,1086 998,1088 996,1089 995,1088 995,1086ZM1008,1085 1010,1085 1011,1088 1008,1088 1008,1086ZM950,1104 952,1104 954,1106 952,1107 950,1107 949,1106ZM984,1104 986,1106 985,1108 983,1106ZM964,1109 966,1109 968,1112 966,1114 964,1113 963,1112 964,1110ZM986,1108 989,1110 989,1112 986,1112 986,1110ZM1004,1112 1008,1113 1014,1117 1020,1116 1025,1120 1026,1122 1018,1128 1017,1130 1018,1140 1016,1144 1004,1147 1002,1147 998,1145 998,1146 1004,1152 1012,1154 1016,1160 1022,1164 1020,1165 1018,1165 1010,1158 1000,1152 992,1144 986,1141 986,1138 980,1134 978,1132 978,1130 980,1128 994,1120 1000,1113 1004,1112ZM1194,1135 1197,1138 1196,1140 1194,1140 1193,1138 1194,1136ZM1086,1138 1090,1142 1094,1144 1096,1144 1103,1140 1105,1142 1106,1149 1112,1154 1112,1156 1092,1163 1086,1159 1085,1166 1084,1167 1082,1166 1079,1162 1078,1158 1079,1148 1082,1140 1086,1138ZM984,1143 986,1144 984,1146 983,1144ZM1162,1152 1163,1156 1161,1158 1152,1161 1148,1166 1146,1174 1146,1182 1144,1186 1142,1185 1140,1182 1139,1178 1144,1162 1146,1160 1156,1157 1162,1154ZM1066,1157 1070,1159 1076,1166 1084,1172 1088,1177 1092,1173 1104,1166 1110,1167 1113,1170 1115,1174 1115,1186 1114,1190 1110,1192 1094,1201 1092,1205 1092,1212 1076,1221 1066,1218 1064,1216 1074,1212 1077,1210 1079,1206 1081,1198 1086,1194 1087,1192 1082,1185 1074,1185 1070,1182 1068,1176 1065,1170 1065,1166 1063,1160 1065,1158ZM1060,1179 1062,1180 1062,1182 1060,1182 1059,1182 1059,1180ZM1008,1188 1010,1188 1014,1191 1020,1204 1030,1212 1032,1214 1033,1222 1038,1228 1036,1230 1029,1232 1034,1233 1042,1232 1052,1229 1062,1230 1076,1224 1076,1222 1082,1226 1081,1228 1078,1231 1062,1239 1052,1238 1042,1240 1030,1246 1022,1248 1016,1246 1012,1249 1008,1250 1005,1246 1004,1236 1008,1222 1013,1218 1006,1210 1005,1206 1005,1194 1008,1188ZM1022,1230 1020,1230 1019,1234 1022,1235 1024,1234 1027,1232 1022,1229ZM1116,1209 1118,1210 1116,1212 1115,1212 1115,1210ZM1140,1213 1148,1215 1154,1214 1158,1216 1156,1217 1140,1217 1137,1220 1134,1224 1131,1226 1117,1226 1120,1224 1128,1223 1136,1215 1140,1214ZM1042,1217 1045,1218 1045,1220 1042,1220 1042,1218ZM1090,1223 1093,1224 1093,1226 1090,1226 1090,1224ZM1082,1233 1087,1234 1090,1242 1088,1244 1070,1244 1066,1242 1068,1239 1081,1234ZM1042,1248 1044,1249 1044,1251 1042,1251 1042,1250ZM1012,1264 1014,1266 1012,1267 1011,1266ZM388,1285 390,1288 391,1300 378,1320 370,1328 370,1316 373,1312 373,1302 374,1299 380,1295 384,1288 388,1286ZM878,1296 880,1298 878,1299 877,1298ZM882,1315 886,1314 894,1319 899,1328 897,1332 888,1339 880,1342 876,1340 875,1334 876,1330 880,1322 882,1316ZM928,1316 932,1314 935,1316 926,1324 922,1325 920,1324 922,1319 928,1316ZM866,1324 868,1324 869,1326 868,1327 866,1327 866,1326ZM842,1329 844,1328 846,1330 850,1344 851,1346 852,1352 860,1362 861,1364 860,1368 856,1372 852,1372 844,1365 832,1362 825,1356 826,1354 828,1352 834,1351 836,1350 837,1348 832,1342 829,1336 829,1334 836,1333 842,1330ZM910,1347 910,1350 910,1348ZM910,1354 913,1356 913,1358 910,1358 909,1356ZM834,1367 838,1367 844,1369 856,1380 858,1377 864,1377 864,1380 858,1382 860,1388 864,1390 869,1390 880,1382 884,1381 886,1382 893,1394 892,1396 883,1402 874,1410 868,1411 862,1410 856,1406 848,1403 844,1399 834,1396 826,1397 820,1396 816,1392 816,1386 818,1384 824,1381 826,1372 828,1369 834,1368ZM904,1369 908,1371 913,1376 915,1382 914,1386 910,1388 900,1387 894,1388 892,1386 892,1382 898,1373 903,1370ZM920,1383 922,1384 922,1386 920,1386 919,1386 919,1384ZM912,1393 914,1393 916,1394 916,1396 912,1398 910,1398 910,1396 912,1394ZM894,1399 895,1400 894,1402 894,1400ZM884,1410 886,1412 884,1413 883,1412ZM868,1423 871,1424 868,1424ZM906,1427 910,1427 915,1430 915,1432 912,1440 913,1448 911,1458 912,1470 908,1474 898,1474 886,1480 880,1480 877,1482 880,1484 880,1486 878,1487 873,1480 873,1478 869,1476 868,1474 868,1470 871,1466 872,1462 871,1458 866,1450 868,1447 872,1448 882,1445 885,1442 888,1434 890,1430 900,1430 906,1428ZM862,1474 864,1476 862,1477 861,1476ZM394,1542 396,1542 396,1544 394,1546 394,1544ZM382,1561 384,1560 385,1562 385,1574 391,1586 391,1594 393,1604 392,1610 384,1616 381,1626 378,1627 370,1624 370,1570 374,1568 381,1562Z"/>
<path fill="#c8b87b" d="M372,1060 417,1060 416,1066 418,1076 423,1086 417,1100 417,1106 418,1108 421,1110 424,1116 435,1126 438,1134 436,1142 426,1152 424,1156 420,1158 413,1170 412,1174 412,1188 408,1196 409,1200 412,1206 413,1212 411,1220 408,1230 409,1234 405,1238 402,1254 398,1257 393,1260 392,1262 393,1274 382,1282 379,1288 370,1295 370,1060ZM1096,1061 1098,1060 1100,1064 1106,1068 1107,1070 1105,1082 1109,1092 1109,1096 1105,1106 1104,1118 1104,1124 1098,1125 1094,1127 1094,1118 1101,1092 1092,1064 1095,1062ZM1124,1060 1127,1060 1126,1060 1124,1060ZM964,1111 967,1112 964,1112ZM1002,1113 1008,1113 1014,1117 1020,1117 1024,1120 1025,1122 1018,1128 1017,1132 1018,1140 1015,1144 1004,1147 1002,1146 996,1142 996,1144 997,1146 996,1147 990,1141 987,1140 987,1138 981,1134 979,1130 981,1128 994,1121 1001,1114ZM1194,1136 1196,1138 1194,1139 1193,1138ZM1084,1139 1086,1138 1090,1143 1094,1145 1096,1144 1102,1140 1104,1142 1106,1151 1110,1154 1109,1156 1092,1162 1090,1161 1086,1157 1084,1166 1082,1165 1080,1162 1078,1156 1080,1146 1083,1140ZM1004,1153 1012,1155 1016,1160 1021,1164 1018,1164 1006,1155 1003,1154ZM1162,1153 1163,1156 1161,1158 1152,1160 1147,1166 1145,1174 1146,1182 1144,1185 1142,1185 1140,1182 1140,1178 1144,1162 1147,1160 1158,1156 1162,1154ZM1064,1159 1066,1158 1070,1160 1078,1169 1084,1172 1088,1178 1093,1174 1104,1167 1110,1167 1113,1170 1115,1174 1114,1186 1113,1190 1094,1201 1092,1204 1091,1212 1076,1221 1068,1219 1065,1216 1074,1212 1077,1210 1080,1206 1082,1198 1086,1195 1088,1192 1082,1184 1074,1184 1071,1182 1069,1176 1066,1172 1064,1160ZM1008,1190 1010,1189 1012,1190 1014,1192 1021,1206 1030,1212 1032,1220 1037,1228 1036,1230 1028,1231 1024,1229 1020,1229 1018,1234 1020,1235 1024,1235 1026,1233 1028,1232 1036,1233 1044,1232 1052,1230 1064,1230 1076,1224 1080,1225 1081,1226 1080,1228 1076,1231 1062,1238 1052,1238 1041,1240 1028,1247 1022,1247 1016,1245 1012,1248 1008,1249 1006,1246 1004,1238 1004,1234 1008,1223 1010,1220 1014,1218 1006,1208 1006,1194 1008,1190ZM1136,1215 1142,1214 1148,1215 1154,1214 1157,1216 1156,1217 1140,1216 1132,1225 1129,1226 1118,1226 1121,1224 1128,1223 1136,1216ZM1082,1233 1086,1234 1089,1242 1088,1244 1070,1244 1066,1242 1068,1239 1081,1234ZM386,1286 388,1286 390,1288 390,1300 378,1319 370,1327 370,1316 373,1312 374,1302 376,1298 381,1296 385,1288ZM884,1315 888,1316 894,1320 897,1324 898,1328 896,1331 888,1338 880,1341 876,1339 875,1334 876,1330 881,1322 882,1316ZM930,1315 933,1316 928,1322 924,1324 921,1324 922,1320 930,1316ZM844,1329 846,1332 849,1344 850,1346 852,1352 858,1360 860,1364 858,1369 854,1372 850,1370 844,1365 832,1362 826,1356 828,1353 834,1352 838,1350 838,1348 834,1344 830,1338 829,1336 830,1334 836,1333 843,1330ZM836,1367 842,1369 846,1371 855,1380 860,1388 864,1390 868,1390 880,1383 884,1382 886,1383 892,1394 891,1396 882,1401 874,1409 868,1411 862,1410 856,1405 848,1402 844,1398 834,1395 826,1397 820,1396 816,1391 816,1387 818,1384 825,1382 826,1374 828,1370 835,1368ZM900,1371 904,1370 911,1374 913,1378 914,1382 914,1386 912,1387 908,1388 902,1387 896,1388 892,1386 892,1382 900,1372ZM914,1393 915,1396 912,1398 911,1396 914,1394ZM908,1427 914,1430 915,1432 912,1440 913,1448 911,1458 912,1468 911,1472 908,1474 896,1474 886,1480 880,1479 876,1481 874,1480 874,1478 870,1475 868,1472 872,1466 873,1462 871,1456 867,1450 868,1448 872,1449 880,1446 886,1442 888,1434 890,1431 900,1431 907,1428ZM382,1561 384,1561 385,1562 385,1574 391,1586 391,1594 393,1604 391,1610 384,1616 381,1624 378,1626 370,1622 370,1570 374,1568 382,1562Z"/>
<path fill="#baa774" d="M372,1060 416,1060 415,1066 416,1076 420,1081 422,1086 417,1096 416,1102 416,1106 418,1109 421,1110 421,1114 423,1116 434,1127 436,1134 435,1142 426,1151 424,1156 420,1158 412,1172 411,1188 407,1196 412,1210 406,1230 406,1232 409,1234 406,1234 404,1238 401,1254 398,1256 392,1259 390,1262 392,1274 382,1282 379,1288 373,1292 370,1294 370,1060ZM1096,1061 1098,1061 1100,1065 1106,1070 1105,1074 1105,1082 1109,1094 1108,1098 1106,1104 1104,1112 1104,1122 1102,1123 1096,1125 1094,1124 1094,1118 1101,1092 1094,1066 1093,1064 1096,1062ZM1002,1113 1008,1114 1014,1118 1020,1117 1024,1122 1017,1128 1016,1132 1017,1142 1014,1144 1006,1146 1002,1146 994,1141 992,1142 992,1140 988,1140 988,1140 988,1138 980,1132 980,1129 996,1120 1002,1114ZM1084,1139 1086,1139 1090,1143 1094,1145 1096,1145 1102,1141 1106,1154 1102,1158 1094,1161 1090,1160 1088,1155 1086,1155 1084,1164 1082,1164 1080,1162 1079,1156 1080,1146 1084,1140ZM1008,1155 1012,1156 1013,1158 1012,1158 1008,1156ZM1154,1158 1158,1157 1160,1158 1152,1160 1147,1166 1145,1172 1145,1182 1144,1184 1142,1184 1140,1182 1140,1178 1144,1162 1148,1160 1154,1158ZM1066,1159 1069,1160 1078,1170 1085,1174 1086,1176 1086,1181 1091,1176 1104,1167 1110,1168 1112,1170 1114,1174 1114,1186 1112,1190 1094,1200 1092,1204 1090,1212 1076,1221 1068,1218 1066,1216 1074,1213 1078,1210 1081,1206 1082,1199 1086,1196 1088,1192 1085,1186 1085,1182 1076,1184 1071,1182 1070,1176 1066,1170 1065,1160ZM1008,1191 1010,1190 1012,1191 1014,1194 1020,1206 1030,1213 1031,1220 1036,1228 1034,1230 1030,1230 1020,1228 1018,1234 1020,1236 1024,1236 1026,1234 1028,1233 1036,1234 1052,1230 1064,1231 1076,1224 1080,1225 1080,1228 1076,1231 1062,1238 1050,1238 1041,1240 1026,1247 1022,1247 1016,1244 1012,1248 1008,1248 1006,1246 1004,1235 1006,1229 1010,1221 1017,1220 1006,1208 1006,1196 1008,1192ZM1138,1215 1154,1215 1157,1216 1140,1216 1136,1219 1132,1224 1128,1225 1124,1224 1128,1223 1137,1216ZM1118,1225 1121,1226 1118,1226ZM1084,1233 1086,1235 1089,1242 1087,1244 1071,1244 1067,1242 1068,1239 1083,1234ZM386,1286 388,1286 389,1288 390,1300 378,1319 370,1326 370,1316 374,1312 374,1302 376,1299 381,1296 385,1288ZM884,1315 890,1317 894,1321 897,1326 897,1330 885,1340 878,1340 876,1338 876,1332 881,1322 882,1317 884,1316ZM926,1317 930,1317 931,1318 925,1324 922,1324 922,1320 926,1318ZM844,1329 850,1350 859,1362 858,1368 854,1371 851,1370 844,1364 833,1362 827,1356 828,1353 834,1353 839,1350 838,1346 834,1343 832,1340 830,1336 830,1335 836,1334 844,1330ZM830,1369 838,1368 844,1370 855,1380 858,1384 859,1388 862,1390 870,1391 880,1384 884,1383 886,1384 892,1394 890,1396 882,1400 874,1409 868,1410 863,1410 858,1405 849,1402 844,1398 834,1394 826,1396 821,1396 818,1393 816,1390 817,1388 818,1385 826,1382 826,1374 830,1370ZM900,1371 906,1371 910,1374 913,1380 913,1384 912,1386 908,1388 893,1386 893,1382 900,1372ZM908,1427 913,1430 914,1432 911,1440 913,1448 911,1456 912,1468 911,1472 906,1474 900,1473 886,1479 880,1479 876,1480 875,1480 875,1478 870,1474 869,1472 873,1466 874,1462 870,1452 868,1450 868,1449 872,1450 880,1447 885,1444 890,1433 902,1431 908,1428ZM380,1563 382,1562 384,1564 384,1574 390,1584 390,1595 393,1604 392,1608 383,1616 381,1624 378,1626 374,1622 370,1621 370,1570 374,1569 380,1564Z"/>
<path fill="#ac956c" d="M372,1060 415,1060 414,1068 416,1078 420,1086 415,1098 414,1104 415,1108 420,1112 421,1116 432,1127 435,1134 434,1140 432,1143 426,1150 423,1156 420,1156 419,1158 411,1170 410,1183 406,1196 410,1208 409,1212 404,1230 405,1234 402,1238 402,1243 398,1256 392,1258 390,1260 390,1262 391,1272 389,1276 382,1282 378,1288 374,1291 372,1292 370,1294 370,1060ZM1096,1062 1098,1062 1099,1064 1105,1070 1105,1084 1109,1094 1103,1110 1103,1122 1096,1124 1095,1120 1102,1092 1098,1076 1094,1067 1094,1064 1096,1062ZM1004,1113 1010,1116 1014,1119 1018,1118 1020,1118 1023,1120 1023,1122 1015,1130 1015,1134 1017,1140 1016,1142 1013,1144 1004,1146 992,1138 982,1134 980,1132 980,1130 983,1128 996,1121 1003,1114ZM1084,1140 1087,1140 1090,1144 1092,1145 1096,1145 1102,1142 1103,1152 1099,1158 1095,1160 1092,1160 1090,1158 1090,1154 1088,1152 1085,1156 1082,1163 1080,1160 1080,1147 1084,1140ZM1156,1157 1159,1158 1155,1158ZM1150,1159 1154,1160 1150,1161 1147,1166 1145,1172 1145,1184 1142,1184 1141,1180 1142,1169 1144,1163 1149,1160ZM1066,1160 1070,1162 1078,1171 1085,1174 1085,1178 1083,1182 1076,1183 1072,1182 1068,1172 1066,1162ZM1102,1169 1108,1168 1113,1172 1112,1188 1109,1192 1094,1199 1091,1204 1091,1210 1088,1212 1076,1220 1069,1218 1066,1216 1072,1214 1079,1210 1082,1206 1083,1200 1089,1194 1089,1192 1086,1186 1086,1184 1088,1180 1092,1176 1102,1170ZM1010,1193 1014,1196 1019,1206 1030,1214 1031,1220 1034,1226 1034,1228 1030,1229 1019,1226 1018,1220 1008,1210 1006,1205 1006,1199 1009,1194ZM1138,1215 1157,1216 1138,1216ZM1134,1219 1134,1222 1133,1224 1128,1224 1130,1223 1134,1220ZM1010,1224 1012,1222 1017,1224 1018,1226 1017,1234 1018,1236 1022,1237 1024,1237 1028,1234 1038,1235 1050,1231 1064,1231 1074,1225 1078,1224 1080,1226 1078,1229 1064,1237 1060,1238 1048,1238 1040,1239 1026,1246 1020,1246 1016,1243 1010,1248 1008,1247 1006,1244 1006,1238 1006,1230 1010,1224ZM1080,1235 1084,1235 1085,1236 1088,1242 1072,1243 1068,1242 1069,1240 1079,1236ZM386,1287 389,1288 390,1300 378,1318 370,1325 370,1317 374,1312 375,1302 382,1296 385,1288ZM884,1316 886,1316 893,1320 894,1322 896,1328 894,1330 886,1338 882,1340 878,1340 876,1337 876,1332 881,1324 883,1318ZM924,1319 926,1319 928,1320 924,1323 922,1323 922,1321 924,1320ZM844,1330 847,1344 849,1350 858,1363 858,1366 856,1370 854,1370 852,1370 844,1363 834,1362 828,1356 830,1354 836,1353 841,1350 840,1346 834,1342 831,1336 836,1335 844,1330ZM832,1369 843,1370 854,1380 857,1384 857,1388 862,1391 872,1391 880,1386 884,1385 888,1389 891,1394 874,1408 868,1410 864,1410 858,1404 851,1402 844,1396 832,1392 824,1394 820,1394 818,1392 818,1388 819,1386 828,1384 829,1382 827,1376 828,1372 832,1370ZM902,1371 907,1372 911,1376 913,1380 912,1386 908,1386 894,1385 894,1380 902,1372ZM906,1429 908,1429 912,1430 913,1432 911,1438 911,1450 909,1458 911,1466 910,1471 906,1473 898,1472 888,1478 878,1478 876,1480 874,1476 871,1474 870,1472 875,1464 872,1454 873,1452 884,1446 888,1442 890,1435 892,1434 900,1433 906,1430ZM382,1563 384,1566 384,1575 390,1586 390,1596 392,1604 390,1609 383,1616 380,1622 378,1624 375,1620 370,1619 370,1571 374,1569 381,1564Z"/>
<path fill="#9f8365" d="M372,1060 414,1060 413,1066 416,1082 416,1086 414,1087 400,1096 401,1100 400,1102 398,1103 394,1099 390,1104 390,1108 396,1111 398,1114 398,1130 402,1136 396,1154 398,1162 398,1168 396,1180 398,1184 397,1188 400,1200 398,1203 390,1204 389,1208 390,1218 393,1226 392,1232 398,1241 399,1244 396,1254 390,1258 389,1262 391,1270 390,1274 382,1281 378,1288 374,1291 371,1292 370,1293 370,1060ZM1102,1082 1104,1083 1104,1089 1103,1090 1100,1084ZM416,1115 421,1118 430,1130 432,1138 430,1142 426,1132 422,1130 418,1126 410,1124 415,1116ZM994,1126 996,1126 997,1130 994,1131 993,1128ZM416,1129 418,1132 418,1134 414,1136 413,1134 414,1130 415,1130ZM1002,1137 1010,1137 1013,1138 1013,1140 1011,1142 1003,1144 1000,1142 999,1140 1001,1138ZM422,1150 423,1152 422,1154 421,1154 421,1152ZM414,1157 416,1156 417,1158 416,1159 414,1158ZM410,1161 414,1160 414,1164 412,1166 410,1165 409,1164 409,1162ZM1144,1167 1144,1172 1143,1172 1144,1168ZM1074,1171 1078,1172 1083,1174 1085,1176 1084,1180 1080,1182 1075,1182 1073,1178 1074,1172ZM1142,1172 1143,1174 1142,1178 1142,1174ZM1102,1178 1110,1178 1112,1185 1111,1190 1094,1198 1091,1202 1090,1208 1089,1212 1082,1214 1076,1220 1072,1218 1070,1216 1076,1213 1082,1208 1084,1200 1090,1194 1090,1190 1087,1186 1088,1181 1090,1180 1094,1184 1096,1184 1098,1183 1101,1180ZM1144,1178 1144,1182 1143,1180ZM1026,1213 1028,1213 1030,1216 1028,1219 1025,1216 1025,1214ZM1078,1225 1080,1226 1078,1229 1064,1237 1047,1238 1040,1239 1026,1246 1020,1245 1017,1242 1018,1240 1022,1242 1027,1242 1028,1236 1040,1235 1050,1231 1062,1232 1066,1231 1076,1226ZM386,1287 389,1288 390,1296 389,1300 378,1318 370,1325 370,1317 375,1312 375,1302 382,1296 386,1288ZM840,1333 842,1332 844,1334 843,1340 844,1341 854,1360 854,1366 852,1367 850,1365 849,1360 842,1358 838,1360 834,1360 831,1356 836,1355 843,1352 843,1350 839,1342 840,1340 838,1336 840,1334ZM908,1377 910,1377 910,1382 908,1380 908,1378ZM852,1382 854,1383 854,1386 852,1387 850,1386 851,1384ZM878,1463 880,1464 884,1467 888,1465 891,1466 892,1470 890,1476 886,1478 876,1478 872,1472 878,1464ZM382,1563 384,1566 384,1576 390,1586 390,1596 392,1604 390,1609 384,1614 380,1620 376,1618 370,1618 370,1571 374,1570 382,1564Z"/>
<path fill="#91725d" d="M372,1060 414,1060 412,1066 414,1072 415,1082 414,1084 406,1090 394,1097 389,1106 390,1110 396,1114 397,1128 400,1136 400,1140 394,1156 397,1166 397,1170 394,1180 398,1200 396,1202 390,1203 388,1205 388,1218 391,1226 386,1232 386,1234 388,1238 396,1244 396,1250 395,1252 390,1257 388,1261 391,1270 390,1274 382,1281 378,1288 374,1290 370,1291 370,1060ZM1078,1225 1080,1226 1078,1229 1064,1237 1046,1237 1034,1242 1031,1242 1034,1238 1038,1238 1040,1236 1044,1236 1048,1234 1064,1234 1077,1226ZM1020,1243 1024,1244 1022,1244 1020,1244ZM1026,1243 1030,1244 1025,1244ZM386,1287 388,1288 390,1296 389,1300 378,1317 370,1324 370,1317 375,1312 376,1302 382,1296 386,1288ZM380,1565 382,1564 383,1566 384,1576 390,1586 390,1594 392,1602 392,1606 389,1610 383,1614 380,1617 370,1617 370,1571 375,1570 380,1566Z"/>
<path fill="#836056" d="M372,1060 413,1060 412,1066 414,1072 414,1080 413,1084 404,1091 394,1097 390,1101 388,1106 389,1110 395,1116 396,1128 400,1138 393,1156 396,1166 396,1172 394,1176 394,1180 398,1198 396,1201 391,1202 388,1204 387,1214 390,1226 385,1232 386,1238 393,1242 395,1246 394,1252 388,1260 388,1264 390,1270 389,1274 382,1281 378,1288 374,1290 370,1291 370,1060ZM1078,1225 1079,1226 1078,1229 1064,1237 1048,1237 1046,1236 1048,1234 1064,1234 1077,1226ZM1040,1236 1044,1236 1046,1238 1042,1239 1039,1238ZM1034,1239 1036,1238 1039,1240 1034,1241 1033,1240ZM386,1288 388,1290 389,1294 388,1300 378,1317 370,1324 370,1317 375,1312 376,1302 382,1296 386,1288ZM380,1566 382,1564 383,1566 384,1576 389,1586 389,1594 392,1602 391,1606 389,1610 383,1614 380,1617 370,1616 370,1572 375,1570 380,1566Z"/>
<path fill="#8a6962" d="M372,1060 412,1060 411,1066 413,1074 412,1082 405,1090 393,1098 388,1106 388,1110 394,1116 396,1130 399,1138 392,1156 396,1166 396,1170 394,1180 397,1198 396,1200 390,1201 388,1204 386,1214 389,1226 383,1232 386,1238 394,1244 394,1250 394,1252 388,1260 388,1264 390,1270 389,1274 377,1288 374,1290 370,1291 370,1060ZM1078,1225 1078,1228 1064,1236 1050,1237 1047,1236 1050,1234 1064,1234 1078,1226ZM1040,1237 1042,1236 1045,1238 1042,1239 1039,1238ZM1034,1239 1036,1238 1038,1240 1036,1241 1034,1240ZM386,1288 388,1290 389,1296 388,1300 378,1317 370,1324 370,1317 375,1312 376,1302 382,1297 385,1290ZM382,1565 384,1576 389,1586 389,1594 391,1602 391,1606 388,1610 382,1613 380,1616 370,1615 370,1572 373,1572 381,1566Z"/>
<path fill="#987b74" d="M372,1060 412,1060 411,1066 413,1074 412,1082 404,1090 392,1098 387,1106 388,1110 394,1118 396,1130 399,1138 392,1156 396,1168 393,1180 397,1198 395,1200 390,1201 387,1204 386,1214 388,1226 382,1232 386,1239 392,1243 394,1246 393,1252 388,1260 388,1264 390,1270 389,1274 377,1288 374,1290 370,1290 370,1060ZM1078,1226 1079,1228 1074,1231 1072,1230 1078,1226ZM1070,1230 1072,1232 1064,1236 1050,1237 1047,1236 1050,1234 1064,1234 1069,1232ZM1040,1237 1042,1236 1045,1238 1042,1238 1040,1238ZM1034,1240 1036,1238 1038,1240 1036,1240 1034,1240ZM386,1288 389,1296 388,1300 378,1316 370,1323 370,1318 376,1312 376,1303 382,1297 386,1290ZM382,1565 383,1576 389,1586 389,1594 391,1602 391,1606 388,1610 380,1615 370,1615 370,1572 373,1572 382,1566Z"/>
<path fill="#a58c87" d="M372,1060 411,1060 410,1066 412,1074 412,1080 411,1082 404,1090 392,1097 387,1106 387,1110 393,1118 396,1130 398,1138 391,1156 395,1168 393,1178 396,1198 394,1199 388,1201 387,1204 385,1214 387,1226 381,1232 386,1239 392,1243 394,1246 393,1252 387,1260 387,1264 389,1270 389,1274 376,1288 374,1290 370,1290 370,1060ZM1076,1227 1078,1228 1074,1231 1073,1230 1076,1228ZM1070,1231 1072,1232 1070,1233 1069,1232ZM1066,1233 1069,1234 1066,1235 1065,1234ZM1048,1235 1062,1234 1065,1236 1062,1237 1048,1236ZM1040,1237 1042,1237 1044,1238 1040,1238ZM1036,1239 1038,1240 1035,1240ZM386,1289 389,1296 388,1300 378,1316 370,1323 370,1318 376,1312 376,1304 377,1302 383,1298 386,1290ZM380,1566 382,1568 383,1576 389,1586 389,1594 391,1602 391,1606 388,1609 380,1615 370,1615 370,1572 374,1572 379,1568Z"/>
<path fill="#b39e99" d="M372,1060 410,1060 409,1066 411,1074 411,1080 405,1088 394,1096 386,1106 386,1110 391,1116 393,1120 395,1128 398,1138 391,1156 395,1168 393,1178 396,1196 394,1199 388,1202 386,1206 385,1214 387,1224 387,1226 378,1233 375,1234 382,1234 386,1240 392,1244 393,1246 392,1252 388,1258 387,1262 389,1270 388,1273 377,1288 372,1290 370,1290 370,1060ZM1074,1229 1076,1230 1074,1230 1073,1230ZM1070,1231 1072,1232 1070,1232 1069,1232ZM1066,1233 1068,1234 1066,1234 1066,1234ZM1048,1235 1062,1235 1065,1236 1062,1236 1048,1236ZM1042,1237 1044,1238 1041,1238ZM386,1289 388,1296 387,1300 378,1316 370,1323 370,1318 376,1312 377,1304 383,1298 386,1290ZM380,1567 382,1568 382,1572 384,1578 389,1586 388,1594 391,1602 391,1606 388,1609 380,1615 370,1614 370,1573 376,1570 379,1568Z"/>
<path fill="#c1b0ac" d="M372,1060 409,1060 408,1068 411,1078 410,1080 406,1084 404,1088 392,1097 386,1106 386,1110 393,1120 394,1128 398,1138 391,1156 391,1160 395,1168 392,1178 395,1196 394,1198 388,1200 386,1204 384,1214 387,1224 386,1226 378,1232 374,1234 382,1235 386,1240 392,1244 393,1246 392,1252 387,1258 386,1262 389,1270 388,1272 377,1288 372,1289 370,1289 370,1060ZM1048,1236 1062,1235 1065,1236 1048,1236ZM386,1290 388,1296 387,1300 384,1304 378,1315 370,1322 370,1318 376,1312 377,1304 383,1298 386,1292ZM380,1567 381,1568 382,1574 383,1578 388,1586 388,1594 391,1602 390,1606 388,1609 380,1614 370,1614 370,1573 376,1571 380,1568Z"/>
<path fill="#cfc1be" d="M372,1060 395,1060 393,1070 393,1074 394,1076 396,1076 406,1076 410,1078 410,1080 406,1084 404,1088 392,1096 385,1106 385,1110 392,1120 394,1128 397,1138 395,1146 390,1156 390,1160 394,1168 392,1178 395,1196 394,1198 388,1200 385,1204 384,1214 386,1224 385,1226 378,1232 373,1234 382,1235 386,1241 391,1244 392,1246 392,1252 387,1258 386,1262 388,1269 388,1272 376,1287 372,1289 370,1289 370,1072 374,1072 370,1069 370,1060ZM1050,1235 1052,1236 1049,1236ZM1054,1236 1060,1236 1054,1236ZM1062,1235 1065,1236 1061,1236ZM386,1291 387,1298 384,1304 380,1312 376,1318 370,1322 370,1319 376,1312 378,1304 384,1298 386,1292ZM380,1567 382,1574 388,1587 388,1594 390,1602 390,1605 388,1608 380,1614 370,1613 370,1573 374,1572 380,1568Z"/>
<path fill="#ddd3d1" d="M382,1071 388,1071 393,1076 396,1078 406,1077 409,1078 409,1080 405,1084 403,1088 392,1096 385,1106 385,1110 390,1117 392,1121 393,1128 397,1138 395,1146 389,1156 390,1160 393,1168 391,1180 394,1196 393,1198 388,1200 385,1204 383,1214 385,1224 385,1226 378,1232 372,1234 382,1236 386,1241 391,1244 392,1248 391,1252 387,1258 386,1262 388,1270 387,1274 376,1288 370,1289 370,1072 381,1072ZM1056,1235 1058,1236 1056,1236ZM1062,1235 1064,1236 1061,1236ZM386,1292 386,1299 383,1304 380,1311 376,1317 370,1322 370,1319 377,1312 378,1304 384,1298 386,1294ZM380,1567 381,1574 386,1583 388,1588 387,1596 390,1604 388,1608 380,1613 370,1613 370,1573 374,1573 380,1568Z"/>
<path fill="#eae5e3" d="M384,1071 388,1072 394,1078 398,1079 404,1078 406,1078 407,1080 402,1088 392,1095 387,1102 384,1108 385,1112 390,1118 393,1130 396,1136 396,1139 394,1145 389,1156 389,1162 392,1167 393,1170 391,1178 393,1196 385,1202 382,1214 384,1222 384,1226 377,1232 370,1233 370,1073 383,1072ZM372,1235 381,1236 386,1242 390,1244 391,1246 391,1252 385,1260 385,1264 388,1270 387,1274 376,1286 372,1288 370,1288 370,1235ZM386,1294 386,1298 385,1298 386,1296ZM384,1298 385,1300 382,1306 378,1314 370,1321 370,1319 377,1312 378,1304 383,1300ZM378,1570 380,1569 381,1576 387,1584 387,1596 389,1604 388,1608 380,1612 370,1612 370,1573 374,1573 378,1570Z"/>
<path fill="#f8f6f6" d="M372,1074 386,1072 388,1073 394,1079 405,1080 401,1088 389,1098 383,1106 383,1110 390,1120 396,1138 394,1144 389,1152 388,1158 388,1162 392,1170 390,1180 392,1194 392,1196 385,1200 383,1204 381,1214 383,1222 383,1226 377,1232 370,1233 370,1184 373,1182 370,1180 370,1074 372,1074ZM374,1236 380,1236 386,1243 390,1245 391,1248 390,1252 385,1260 385,1264 387,1270 386,1273 376,1286 374,1288 370,1288 370,1237 374,1236ZM380,1303 382,1304 380,1309 376,1316 375,1316 378,1312 380,1304ZM378,1571 381,1578 386,1584 386,1596 389,1602 388,1606 380,1611 370,1610 370,1607 375,1606 376,1600 380,1599 383,1596 383,1590 380,1587 378,1586 370,1591 370,1579 374,1578 375,1574 378,1572Z"/>
</g>
<polygon points="843.9,1522.9 848.6,1532.5 862.9,1537.2 868.9,1531.3 870.1,1544.4 864.1,1551.5 858.2,1553.9 857.0,1561.0 849.8,1562.2 849.8,1569.4 843.9,1568.2 842.7,1575.3 834.3,1581.3 827.2,1587.3 822.4,1592.0 820.1,1589.6 824.8,1581.3 833.2,1574.2 840.3,1568.2 841.5,1561.0 843.9,1553.9 845.1,1544.4 843.9,1534.8" fill="#fff" stroke="#000" stroke-width="6" stroke-linejoin="round"/>
<g fill="none" stroke="#050510" stroke-width="4" stroke-linejoin="round" stroke-linecap="round">
<polyline points="450.5,1220.3 452.0,1216.5 453.8,1212.8 455.3,1209.1 456.3,1205.1 457.3,1201.2 457.9,1197.2 458.2,1193.1 459.1,1189.2 459.5,1185.1 459.4,1180.9 459.4,1176.8 460.3,1172.9 461.4,1169.1 462.0,1165.1 462.6,1161.1 463.7,1157.0 465.0,1153.0 466.6,1149.1 468.1,1145.3 470.0,1141.8 472.1,1138.3 474.4,1134.9 477.4,1131.9 480.2,1128.9 482.3,1125.6 485.1,1123.2 489.0,1122.1 493.1,1121.9 497.2,1122.0 501.3,1121.7 505.2,1120.7 509.0,1119.1 513.0,1118.4 517.0,1117.9 521.0,1117.2 525.0,1116.8 529.1,1116.3 532.9,1115.0 536.7,1113.5 540.5,1111.9 544.4,1111.1 548.5,1111.4 552.5,1112.2 556.6,1112.1 560.6,1111.6 564.7,1112.0 568.6,1112.5 572.2,1112.8 575.8,1113.7 580.0,1114.5 583.9,1115.8 587.3,1118.0 590.4,1120.7 593.6,1123.2 597.2,1125.1 600.6,1127.2 604.1,1129.2 607.8,1131.0"/>
<polyline points="607.8,1131.0 608.7,1134.9 609.7,1138.9 610.7,1142.8 611.6,1146.7 612.5,1150.6 613.7,1154.4 616.3,1158.0 618.6,1161.9 618.7,1166.3 617.3,1170.5 616.1,1174.6 616.5,1178.6 617.7,1182.7 618.2,1186.8 618.1,1190.9 617.2,1194.9 615.6,1198.9 614.9,1202.9 614.8,1206.9 614.2,1210.9 613.2,1214.9 613.3,1219.3 617.6,1219.4 621.7,1219.2 625.7,1219.7 629.8,1219.2 633.9,1218.7 637.9,1219.5 641.9,1220.4 645.9,1220.8 650.0,1220.6 653.7,1220.3 656.6,1219.0 660.2,1217.0 665.2,1216.5 668.6,1219.9 671.2,1222.1 674.7,1222.5 678.5,1224.0 682.4,1225.4 686.7,1225.8 689.5,1229.0 691.1,1232.9 691.2,1237.0 691.6,1241.1 692.6,1245.0 693.8,1248.9 694.7,1252.8 695.5,1256.8 696.7,1260.7 698.3,1264.4 699.5,1268.3 699.8,1272.4 699.6,1276.5 699.8,1280.7 700.8,1284.7 702.2,1288.7 705.2,1291.9 709.8,1292.1 713.9,1291.7 717.9,1290.0 721.6,1288.1 725.4,1286.9 728.6,1285.9 732.2,1287.2 735.9,1288.9 739.6,1290.9 741.1,1294.7 740.9,1298.9 740.5,1302.9 739.8,1306.8 739.3,1310.8 739.5,1314.9 739.9,1319.1 739.8,1323.3 739.1,1327.3 738.3,1331.2 736.7,1335.1 735.1,1338.9 734.4,1342.9 734.1,1347.0 733.7,1351.1 732.1,1354.7 729.8,1358.3 728.1,1362.1"/>
<polyline points="728.1,1362.1 728.6,1366.1 729.2,1370.2 728.9,1374.2 727.7,1378.2 726.8,1382.2 726.1,1386.3 724.7,1390.1 723.0,1394.0 720.0,1397.2 717.0,1400.0 713.8,1402.7 710.1,1404.7 706.5,1406.4 703.0,1407.8 700.7,1410.3 699.4,1413.9 697.6,1417.3 695.5,1418.0 697.2,1415.8 700.2,1413.2 703.4,1410.8 706.6,1408.3 709.1,1405.1 711.2,1401.4 713.1,1398.8 716.6,1404.1 713.2,1405.7 710.0,1408.1 706.9,1410.9 703.5,1412.9 700.5,1414.3 698.9,1417.3 696.7,1420.8 693.4,1424.8 688.2,1426.3 683.9,1426.3 680.1,1426.0 677.1,1426.4 674.2,1428.1 670.3,1430.4 665.5,1431.3 661.2,1429.5 657.3,1428.0 653.3,1427.7 649.3,1427.7 645.4,1427.4 641.4,1426.8 637.4,1426.3 633.3,1425.6 629.5,1424.1 625.7,1422.6 621.8,1421.5 617.9,1420.8 614.1,1420.4 610.1,1420.1 606.1,1419.7 602.0,1419.7 597.8,1419.1 594.0,1417.3 591.4,1414.8 592.2,1411.0 593.5,1407.1"/>
<polyline points="450.5,1220.3 453.6,1222.9 456.9,1225.3 460.6,1227.2 463.7,1229.8 466.0,1233.4 467.3,1237.4 469.1,1241.0 471.7,1244.1 474.5,1246.7 476.6,1249.8 478.0,1254.0 480.0,1257.6 483.0,1260.3 485.8,1263.1 488.6,1266.0 491.6,1268.8 494.7,1271.2 498.0,1273.5 501.2,1275.8 504.1,1278.5 506.6,1281.7 509.9,1284.1 513.8,1285.4 517.7,1286.5 521.5,1287.7 525.3,1288.7 529.1,1289.5 532.9,1290.5 536.7,1292.0 540.5,1293.0 544.2,1294.6 547.6,1296.8 550.5,1299.6 553.8,1301.9 557.1,1304.2 559.7,1307.4 562.6,1310.2 566.2,1312.2 569.7,1314.2 573.3,1316.0 576.9,1317.8 580.5,1319.6 584.3,1321.0 588.0,1322.5 591.9,1323.7 595.9,1324.6 599.6,1325.9 603.2,1327.0 606.9,1328.0 610.8,1329.1 614.9,1330.4 618.6,1332.6 622.1,1334.8 625.6,1337.7 627.1,1342.0 627.0,1346.5 625.3,1350.0 623.3,1353.4 621.2,1356.9 618.7,1360.2 616.9,1363.7 615.4,1367.3 613.4,1370.4 611.1,1373.6 609.3,1377.2 608.1,1380.9 605.5,1384.2 603.6,1387.8 602.5,1391.6 600.9,1395.2 599.3,1398.8 598.1,1402.6 596.8,1406.4 595.3,1410.1 593.9,1413.6 593.2,1411.1 593.5,1407.1"/>
<polyline points="370.7,1219.6 374.9,1219.1 378.9,1220.0 382.6,1221.9 385.1,1224.3 385.9,1228.1 387.6,1231.8 388.8,1235.6 388.8,1239.8 389.8,1243.8 392.2,1247.1 393.7,1246.5 394.2,1242.8 395.0,1238.9 396.4,1235.1 398.0,1231.4 399.4,1227.6 400.9,1223.9 402.4,1220.2 404.5,1216.2 408.6,1214.6 412.7,1213.4 416.8,1212.7 420.9,1212.9 424.9,1213.7 428.9,1214.0 432.9,1213.3 436.9,1212.7 441.0,1212.5 445.3,1213.8 448.1,1217.0 450.5,1220.3"/>
<polyline points="607.8,1131.0 611.5,1132.7 614.8,1134.0 613.9,1135.2 612.8,1131.9 610.3,1128.6 608.8,1124.7 609.2,1120.5 610.9,1116.8 612.0,1112.9 613.6,1109.2 615.6,1105.6 617.1,1101.8 618.3,1097.9 619.9,1094.2 621.3,1090.4 622.4,1086.5 623.5,1082.6 623.7,1078.3 623.7,1074.1 624.5,1070.4 626.6,1066.9 628.0,1063.5 626.8,1060.0"/>
<polyline points="740.7,1291.8 743.3,1288.6 746.0,1285.4 748.4,1282.1 749.7,1278.1 750.8,1274.2 751.7,1270.5 753.1,1266.7 754.8,1262.7 757.1,1259.6 759.7,1256.9 762.2,1253.8 764.6,1250.4 767.7,1247.8 770.7,1245.1 773.9,1242.7 777.6,1240.9 780.9,1239.0 784.3,1237.1 787.7,1234.8 791.2,1232.8 795.0,1231.3 798.8,1229.7 802.5,1227.5 805.1,1224.2 807.1,1220.6 808.7,1216.8 810.7,1213.3 813.4,1210.3 816.3,1207.4 818.3,1203.8 819.6,1199.9 820.4,1195.8 821.8,1192.1 824.2,1188.7 825.9,1185.1 827.0,1181.1 828.8,1177.5 831.0,1174.1 832.7,1170.4 834.8,1167.0 837.3,1163.8 839.6,1160.4 841.6,1156.9 843.7,1153.5 846.0,1150.2 848.3,1146.9 849.4,1143.0 850.1,1139.0 852.0,1135.4 854.1,1131.8 855.3,1128.0 856.3,1124.1 857.6,1120.3 859.3,1116.6 860.8,1112.9 862.2,1109.3 864.9,1106.4 866.9,1102.6 868.9,1098.9 872.0,1096.5 875.1,1094.1 877.8,1091.1 880.5,1087.8 884.6,1086.5 888.7,1086.0 892.8,1085.8 896.7,1085.1 900.7,1084.4 904.6,1083.6 908.1,1081.7 910.9,1079.4 914.2,1077.5 917.9,1075.8 922.1,1074.7 926.1,1074.6 930.0,1074.8 934.1,1073.6 938.1,1072.9 942.1,1073.5 946.1,1074.4 950.1,1074.8 954.3,1075.0 958.2,1075.8 961.6,1077.0 964.9,1076.0 968.5,1074.4 972.0,1072.5 974.7,1069.7 977.0,1066.5 979.8,1063.6 982.7,1060.7"/>
<polyline points="784.0,1237.0 788.1,1237.2 792.1,1237.9 796.2,1237.9 800.2,1238.1 804.3,1238.7 808.2,1239.2 810.3,1237.7 814.0,1238.2 817.9,1239.6 821.8,1241.0 825.6,1242.2 829.6,1242.6 833.8,1241.9 838.0,1241.4 841.9,1242.3 845.8,1243.8 849.7,1244.6 853.8,1245.0 857.7,1245.4 861.4,1246.9 865.2,1248.3 869.3,1249.1 873.4,1248.7 877.5,1248.9 881.5,1249.6 885.5,1249.6 889.2,1249.9 892.3,1252.4 894.9,1255.5 896.7,1259.0 898.6,1262.2 901.5,1265.2 904.0,1268.5 905.6,1272.3 907.2,1276.1 908.6,1279.9 908.6,1284.1 909.5,1288.1 911.9,1291.4 913.7,1295.1 915.1,1299.0 916.2,1303.0 916.7,1307.0 917.0,1311.1 917.5,1314.8 919.6,1317.2 923.6,1318.2 927.7,1318.1 931.9,1317.6 936.3,1317.9 941.0,1319.6 942.5,1324.4 941.4,1328.7 942.8,1332.0 945.8,1334.7"/>
<polyline points="730.4,1352.5 734.7,1352.6 738.6,1352.1 742.0,1351.5 745.6,1351.0 749.3,1351.2 751.6,1353.7 753.8,1356.5 755.9,1359.4 756.7,1363.1 758.2,1366.9 760.3,1370.3 762.1,1373.7 763.8,1377.6 764.0,1382.0 764.1,1386.1 763.4,1390.1 761.6,1393.9 760.2,1397.7 759.4,1401.7 758.6,1405.6 757.2,1409.4 754.3,1412.3 751.0,1414.4 753.7,1415.7 755.3,1412.4 756.6,1408.5 758.0,1404.7 760.5,1402.0 759.3,1402.1 758.0,1405.1 756.2,1408.4 753.0,1410.5 749.8,1412.3 747.6,1416.0 745.1,1419.3 741.2,1420.4 737.3,1421.6 733.5,1423.0 729.6,1424.0 726.1,1426.0 723.3,1429.4 720.0,1431.8 716.1,1433.1 712.7,1435.3 710.1,1438.6 707.2,1441.4 704.0,1443.7 700.9,1446.1 697.5,1448.3 694.2,1450.6 691.3,1453.4 688.3,1456.0 685.7,1459.0 683.4,1462.3 680.7,1465.3 677.2,1467.4 673.8,1469.7 670.7,1472.3 667.1,1474.3 663.8,1476.8 661.6,1480.4 659.6,1483.9 656.7,1486.7 653.5,1489.3 651.1,1492.5 649.3,1496.1 647.0,1499.5 644.2,1502.2 641.3,1504.9 639.0,1508.2 637.0,1511.8 634.8,1515.1 632.5,1518.4 631.0,1522.1 629.1,1525.6 626.7,1528.9 624.4,1532.2"/>
<polyline points="624.4,1532.2 621.9,1535.4 620.2,1539.1 619.5,1543.2 618.8,1547.0 617.6,1550.9 616.7,1554.8 616.0,1558.8 615.8,1562.9 615.1,1566.9 613.8,1570.7 612.2,1574.5 610.9,1578.4 610.0,1582.3 609.4,1586.3 609.0,1590.4 608.3,1594.4 607.5,1598.3 606.4,1602.2 605.5,1606.2 606.1,1610.2 607.3,1614.0 608.3,1618.0 609.0,1622.1 608.9,1626.3 607.9,1630.3 606.4,1634.2 605.5,1638.1 603.7,1641.0 600.1,1642.4 597.7,1644.5 597.4,1648.2 596.9,1652.2 596.9,1656.2 596.7,1660.1 596.3,1663.9 597.5,1667.7 598.1,1671.7 598.0,1675.8 598.2,1679.9"/>
<polyline points="624.4,1532.2 628.6,1532.4 632.6,1531.8 636.7,1530.9 640.3,1528.7 643.6,1526.2 647.4,1525.0 651.3,1525.7 654.4,1527.5 657.7,1529.7 660.4,1532.7 662.5,1536.2 665.7,1538.8 669.5,1540.6 672.5,1543.4 674.9,1546.7 677.3,1549.9 678.6,1553.8 678.5,1558.1 680.0,1562.0 683.9,1565.4 688.0,1562.8 691.3,1560.3 694.4,1558.4 696.9,1558.5 699.9,1560.4 703.4,1562.6 706.5,1565.3 708.9,1568.5 711.5,1571.2 715.1,1572.7 718.7,1574.5 722.5,1576.1 725.7,1578.5 728.2,1581.8 731.3,1584.4 734.4,1587.0 737.1,1590.0 739.6,1593.3 743.3,1595.2 747.5,1595.9 750.8,1597.9 753.5,1601.6 756.5,1604.4 759.6,1606.4 761.6,1609.5 763.5,1613.1 766.2,1616.4 769.4,1618.9 772.8,1621.3 776.2,1623.4 779.7,1625.3 782.9,1627.8 786.4,1629.9"/>
<polyline points="784.3,1627.8 785.6,1623.9 787.5,1620.3 789.3,1616.7 790.6,1612.9 791.9,1609.0 793.8,1606.1 794.6,1609.0 795.7,1612.7 797.2,1616.0 797.5,1619.8 796.6,1623.7 795.0,1627.3 792.9,1629.9 789.8,1631.1 787.4,1631.1 784.6,1628.7 780.5,1627.2 777.0,1630.4 775.0,1634.1 773.6,1638.1 772.8,1642.2 772.0,1646.2 770.5,1649.5 768.7,1652.9 767.0,1656.7 766.3,1660.7 767.5,1664.2 771.2,1665.9"/>
<polygon points="369.9,1059.1 1238.6,1059.1 1238.8,1127.4 1238.5,1131.8 1237.6,1135.9 1236.7,1139.9 1234.8,1143.4 1232.2,1146.5 1229.6,1149.6 1226.8,1152.7 1224.4,1156.1 1222.8,1159.8 1221.6,1163.7 1219.7,1167.4 1217.1,1170.4 1214.8,1173.8 1213.0,1177.5 1210.6,1180.8 1208.0,1183.4 1206.5,1186.3 1206.6,1190.1 1205.9,1194.0 1204.7,1197.3 1205.2,1200.7 1206.1,1204.5 1205.8,1209.0 1204.3,1214.3 1200.6,1217.8 1197.3,1220.4 1194.1,1223.1 1190.2,1225.2 1186.1,1226.2 1182.9,1228.7 1180.0,1230.8 1176.4,1231.9 1172.8,1234.0 1170.1,1237.1 1169.4,1241.0 1170.9,1244.5 1171.1,1248.8 1169.0,1253.2 1164.1,1254.4 1159.7,1252.3 1155.7,1252.1 1151.6,1252.5 1147.8,1251.6 1143.8,1250.4 1139.8,1249.4 1135.7,1248.9 1131.8,1249.6 1127.8,1251.0 1123.8,1251.7 1119.8,1251.8 1115.8,1252.0 1111.8,1252.3 1107.7,1251.5 1103.5,1249.9 1099.4,1249.7 1094.7,1249.7 1090.1,1251.1 1087.0,1253.9 1084.3,1257.3 1081.1,1259.9 1077.5,1261.7 1073.6,1263.0 1070.0,1264.8 1066.8,1267.3 1064.3,1270.6 1062.3,1274.1 1060.0,1277.1 1057.6,1280.2 1055.9,1283.9 1054.9,1287.0 1052.1,1286.3 1048.7,1284.2 1045.0,1282.2 1040.8,1282.3 1036.8,1281.9 1032.6,1281.8 1029.1,1284.2 1026.0,1287.2 1022.1,1288.3 1017.5,1287.3 1013.1,1287.5 1009.2,1289.6 1005.6,1292.0 1001.9,1293.8 998.8,1296.4 996.2,1299.7 993.5,1302.7 990.4,1305.2 987.5,1307.8 984.9,1310.9 982.1,1314.0 978.9,1316.3 975.6,1318.7 972.7,1321.4 969.3,1323.7 966.2,1326.2 964.2,1330.0 962.4,1333.6 960.1,1336.8 958.2,1340.2 956.9,1344.1 954.9,1347.8 951.7,1350.6 948.6,1353.2 946.0,1356.1 943.5,1358.9 941.6,1362.5 941.5,1366.6 942.3,1370.6 942.3,1374.3 941.5,1378.2 941.4,1382.3 941.2,1386.4 940.3,1390.3 939.7,1394.2 939.1,1398.1 937.9,1402.4 938.1,1406.7 942.9,1404.7 942.5,1400.7 942.4,1396.7 941.8,1392.7 942.0,1388.7 942.9,1384.7 943.1,1380.2 939.3,1382.9 938.7,1386.9 938.1,1390.9 937.8,1394.9 938.7,1398.9 940.3,1402.7 941.7,1406.4 942.3,1410.4 942.3,1414.6 942.7,1418.6 943.3,1422.4 943.3,1425.8 942.4,1429.2 942.3,1433.2 941.7,1437.1 939.8,1440.4 938.7,1444.2 938.2,1448.5 936.3,1452.0 934.5,1455.5 934.2,1459.5 933.8,1463.5 932.4,1467.6 929.0,1470.2 925.3,1472.2 921.9,1474.4 918.7,1476.9 916.1,1480.1 913.2,1483.0 910.3,1485.8 908.4,1489.4 906.3,1492.9 904.0,1496.3 900.8,1498.9 897.6,1501.7 896.1,1505.5 894.2,1509.1 891.7,1512.3 890.4,1516.2 889.0,1520.1 887.3,1523.7 885.6,1527.4 882.8,1530.6 880.4,1534.0 879.6,1537.8 878.8,1541.7 877.5,1545.5 876.7,1549.6 876.0,1553.9 873.4,1557.1 870.5,1560.0 868.3,1563.4 865.2,1566.1 862.3,1568.9 859.7,1571.9 856.6,1574.3 853.5,1576.9 850.9,1580.0 848.7,1583.4 845.8,1586.2 842.6,1588.5 839.5,1591.1 836.2,1593.4 832.5,1595.0 828.8,1596.4 825.3,1598.0 822.0,1600.2 819.0,1603.7 817.4,1608.2 815.5,1611.9 812.8,1614.8 810.3,1618.0 808.2,1621.5 806.0,1625.0 804.6,1628.8 804.2,1633.0 803.8,1637.0 803.7,1641.4 802.5,1645.8 800.1,1649.2 797.3,1652.2 794.1,1655.0 789.8,1656.4 786.1,1658.1 783.3,1661.1 779.7,1663.0 775.7,1664.4 772.5,1666.7 769.7,1669.7 767.7,1673.3 765.6,1676.7 764.5,1680.6 764.4,1685.1 763.6,1689.4 760.6,1692.7 755.9,1693.9 751.7,1695.0 748.1,1697.0 745.6,1700.1 742.9,1703.2 739.2,1704.8 735.6,1706.7 732.6,1709.4 728.8,1710.8 725.0,1711.7 721.4,1714.0 717.4,1714.8 714.2,1711.8 710.6,1710.0 706.6,1709.2 702.8,1708.0 699.0,1705.6 694.6,1703.6 689.9,1704.2 685.8,1705.5 682.1,1706.9 679.1,1708.8 675.8,1709.1 672.1,1708.6 668.3,1708.5 664.7,1707.1 661.5,1704.5 658.3,1702.3 654.5,1701.0 650.5,1699.7 647.0,1697.7 643.8,1694.8 640.4,1692.4 636.1,1691.4 631.7,1692.1 627.7,1693.4 623.8,1694.6 620.0,1695.1 617.4,1692.2 614.5,1689.4 610.7,1687.7 606.9,1686.2 603.2,1684.6 600.0,1682.9 598.3,1682.5 596.3,1684.8 595.7,1688.3 596.6,1692.0 597.8,1695.3 600.4,1697.9 603.2,1700.7 605.9,1703.2 608.8,1705.1 612.0,1707.4 615.2,1710.0 618.7,1712.1 622.2,1714.1 625.9,1715.7 629.2,1718.0 632.6,1720.0 636.9,1721.2 639.9,1724.4 641.1,1728.6 642.1,1732.2 640.7,1735.4 638.1,1738.5 635.5,1741.6 633.7,1745.5 633.6,1749.6 634.6,1753.6 636.3,1757.3 369.9,1757.6" stroke-width="4.2"/>
</g>
<g fill="#000"><circle cx="1127.3" cy="1238.2" r="5"/><circle cx="1126.8" cy="1244.2" r="5.5"/><circle cx="1124.0" cy="1248.9" r="4"/><circle cx="1055.4" cy="1287.0" r="5"/><circle cx="1051.8" cy="1284.6" r="4.5"/><circle cx="1058.9" cy="1282.3" r="3.5"/><circle cx="1048.2" cy="1288.2" r="3.5"/><circle cx="1076.8" cy="1259.6" r="4"/><circle cx="1084.0" cy="1257.3" r="4.5"/><circle cx="1092.3" cy="1254.9" r="4"/><circle cx="1099.4" cy="1253.0" r="3.6"/><circle cx="1069.7" cy="1265.6" r="3.6"/><circle cx="1063.7" cy="1270.4" r="3.2"/><circle cx="947.0" cy="1334.7" r="5"/><circle cx="950.6" cy="1339.4" r="6"/><circle cx="945.8" cy="1344.2" r="5.5"/><circle cx="952.9" cy="1333.5" r="4.5"/><circle cx="956.5" cy="1331.1" r="4"/><circle cx="942.2" cy="1350.2" r="5"/><circle cx="938.6" cy="1357.3" r="4"/><circle cx="936.3" cy="1366.8" r="4.5"/><circle cx="935.1" cy="1376.4" r="4"/><circle cx="935.8" cy="1385.9" r="4.5"/><circle cx="934.4" cy="1395.4" r="4"/><circle cx="937.4" cy="1404.9" r="3.6"/><circle cx="1166.1" cy="1252.5" r="3.4"/><circle cx="1170.9" cy="1244.2" r="3.2"/><circle cx="1017.3" cy="1289.4" r="3.2"/><circle cx="1012.5" cy="1291.8" r="3.0"/><circle cx="938.7" cy="1394.3" r="4.5"/><circle cx="941.5" cy="1403.8" r="5"/><circle cx="944.4" cy="1413.4" r="5.5"/><circle cx="945.8" cy="1424.1" r="5.5"/><circle cx="943.9" cy="1433.6" r="4.5"/><circle cx="940.4" cy="1440.7" r="3.6"/><circle cx="931.5" cy="1458.6" r="4.5"/><circle cx="930.1" cy="1464.6" r="4"/><circle cx="814.1" cy="1600.4" r="5"/><circle cx="817.7" cy="1595.6" r="4.5"/><circle cx="811.7" cy="1606.3" r="4"/><circle cx="809.3" cy="1612.3" r="3.5"/></g></g>
<g stroke="#111" stroke-width="2.6">
<line x1="313.2" y1="1138.0" x2="328.2" y2="1138.0"/>
<line x1="313.2" y1="1330.8" x2="328.2" y2="1330.8"/>
<line x1="313.2" y1="1523.5" x2="328.2" y2="1523.5"/>
<line x1="313.2" y1="1716.2" x2="328.2" y2="1716.2"/>
<line x1="544.3" y1="1793.5" x2="544.3" y2="1807.5"/>
<line x1="890.0" y1="1793.5" x2="890.0" y2="1807.5"/>
<line x1="1235.7" y1="1793.5" x2="1235.7" y2="1807.5"/>
</g>
<text class="ar" x="815.1" y="998" font-size="66.4" text-anchor="middle" fill="#111">Topography</text>
<g id="compass" stroke="#222" stroke-width="0.8" stroke-linejoin="miter">
<polygon fill="#fff" points="512.5,95.60000000000002 535.0,241.60000000000002 512.5,264.1"/>
<polygon fill="#fff" points="681.0,264.1 535.0,286.6 512.5,264.1"/>
<polygon fill="#fff" points="512.5,432.6 490.0,286.6 512.5,264.1"/>
<polygon fill="#fff" points="344.0,264.1 490.0,241.60000000000002 512.5,264.1"/>
<polygon fill="#000" points="512.5,95.60000000000002 490.0,241.60000000000002 512.5,264.1"/>
<polygon fill="#000" points="681.0,264.1 535.0,241.60000000000002 512.5,264.1"/>
<polygon fill="#000" points="512.5,432.6 535.0,286.6 512.5,264.1"/>
<polygon fill="#000" points="344.0,264.1 490.0,286.6 512.5,264.1"/>
</g>
<g class="dj" font-weight="bold" font-size="30" text-anchor="middle" fill="#111">
<text x="512.6" y="87.8">N</text><text x="513" y="462.6">S</text><text x="325" y="275.2">O</text><text x="700" y="275.2">E</text></g>
<rect x="1852.9" y="1722.6" width="187.1" height="17.2" fill="#000"/>
<text class="dj" x="1946.4" y="1794" font-size="41.5" text-anchor="middle" fill="#111">1000 km</text>
<rect x="271.6" y="23.8" width="1788.7000000000003" height="1789.3" fill="none" stroke="#111" stroke-width="3"/>
<g stroke="#111" stroke-width="3">
<line x1="257.1" y1="273.9" x2="271.6" y2="273.9"/>
<line x1="257.1" y1="658.7" x2="271.6" y2="658.7"/>
<line x1="257.1" y1="1043.5" x2="271.6" y2="1043.5"/>
<line x1="257.1" y1="1428.3" x2="271.6" y2="1428.3"/>
<line x1="257.1" y1="1813.1" x2="271.6" y2="1813.1"/>
<line x1="457.9" y1="1813.1" x2="457.9" y2="1827.6"/>
<line x1="830.6" y1="1813.1" x2="830.6" y2="1827.6"/>
<line x1="1203.2" y1="1813.1" x2="1203.2" y2="1827.6"/>
<line x1="1575.9" y1="1813.1" x2="1575.9" y2="1827.6"/>
<line x1="1948.5" y1="1813.1" x2="1948.5" y2="1827.6"/>
</g>
<g class="dj" font-size="64" fill="#111">
<text x="242.3" y="298.2" text-anchor="end">0</text>
<text x="242.3" y="683.0" text-anchor="end">−20</text>
<text x="242.3" y="1067.8" text-anchor="end">−40</text>
<text x="242.3" y="1452.6" text-anchor="end">−60</text>
<text x="242.3" y="1837.4" text-anchor="end">−80</text>
<text x="457.9" y="1889.8" text-anchor="middle">−120</text>
<text x="830.6" y="1889.8" text-anchor="middle">−100</text>
<text x="1203.2" y="1889.8" text-anchor="middle">−80</text>
<text x="1575.9" y="1889.8" text-anchor="middle">−60</text>
<text x="1948.5" y="1889.8" text-anchor="middle">−40</text>
</g>
<text class="dj" x="1164.8" y="1982.5" font-size="80" text-anchor="middle" fill="#111">LONGITUDE</text>
<text class="dj" transform="translate(81.4 926.7) rotate(-90)" font-size="80" text-anchor="middle" fill="#111">LATITUDE</text>
<rect x="245.50" y="1999.8" width="50.31" height="61.2" fill="#2e3ca2"/>
<rect x="295.21" y="1999.8" width="50.31" height="61.2" fill="#254fb5"/>
<rect x="344.93" y="1999.8" width="50.31" height="61.2" fill="#1c61c7"/>
<rect x="394.64" y="1999.8" width="50.31" height="61.2" fill="#1373d9"/>
<rect x="444.35" y="1999.8" width="50.31" height="61.2" fill="#0a86ec"/>
<rect x="494.07" y="1999.8" width="50.31" height="61.2" fill="#0098fe"/>
<rect x="543.78" y="1999.8" width="50.31" height="61.2" fill="#00a6d8"/>
<rect x="593.49" y="1999.8" width="50.31" height="61.2" fill="#00b4ae"/>
<rect x="643.21" y="1999.8" width="50.31" height="61.2" fill="#00c285"/>
<rect x="692.92" y="1999.8" width="50.31" height="61.2" fill="#07cd67"/>
<rect x="742.64" y="1999.8" width="50.31" height="61.2" fill="#22d36d"/>
<rect x="792.35" y="1999.8" width="50.31" height="61.2" fill="#3ed872"/>
<rect x="842.06" y="1999.8" width="50.31" height="61.2" fill="#5ade78"/>
<rect x="891.78" y="1999.8" width="50.31" height="61.2" fill="#75e37d"/>
<rect x="941.49" y="1999.8" width="50.31" height="61.2" fill="#91e983"/>
<rect x="991.20" y="1999.8" width="50.31" height="61.2" fill="#acee88"/>
<rect x="1040.92" y="1999.8" width="50.31" height="61.2" fill="#c8f48e"/>
<rect x="1090.63" y="1999.8" width="50.31" height="61.2" fill="#e3f993"/>
<rect x="1140.34" y="1999.8" width="50.31" height="61.2" fill="#ffff99"/>
<rect x="1190.06" y="1999.8" width="50.31" height="61.2" fill="#f1ed92"/>
<rect x="1239.77" y="1999.8" width="50.31" height="61.2" fill="#e3dc8a"/>
<rect x="1289.48" y="1999.8" width="50.31" height="61.2" fill="#d6ca83"/>
<rect x="1339.20" y="1999.8" width="50.31" height="61.2" fill="#c8b87b"/>
<rect x="1388.91" y="1999.8" width="50.31" height="61.2" fill="#baa774"/>
<rect x="1438.62" y="1999.8" width="50.31" height="61.2" fill="#ac956c"/>
<rect x="1488.34" y="1999.8" width="50.31" height="61.2" fill="#9f8365"/>
<rect x="1538.05" y="1999.8" width="50.31" height="61.2" fill="#91725d"/>
<rect x="1587.76" y="1999.8" width="50.31" height="61.2" fill="#836056"/>
<rect x="1637.48" y="1999.8" width="50.31" height="61.2" fill="#8a6962"/>
<rect x="1687.19" y="1999.8" width="50.31" height="61.2" fill="#987b74"/>
<rect x="1736.91" y="1999.8" width="50.31" height="61.2" fill="#a58c87"/>
<rect x="1786.62" y="1999.8" width="50.31" height="61.2" fill="#b39e99"/>
<rect x="1836.33" y="1999.8" width="50.31" height="61.2" fill="#c1b0ac"/>
<rect x="1886.05" y="1999.8" width="50.31" height="61.2" fill="#cfc1be"/>
<rect x="1935.76" y="1999.8" width="50.31" height="61.2" fill="#ddd3d1"/>
<rect x="1985.47" y="1999.8" width="50.31" height="61.2" fill="#eae5e3"/>
<rect x="2035.19" y="1999.8" width="50.31" height="61.2" fill="#f8f6f6"/>
<rect x="245.5" y="1999.8" width="1839.4" height="61.2" fill="none" stroke="#111" stroke-width="3"/>
<g stroke="#111" stroke-width="3">
<line x1="245.5" y1="2061.0" x2="245.5" y2="2076.0"/>
<line x1="444.4" y1="2061.0" x2="444.4" y2="2076.0"/>
<line x1="643.2" y1="2061.0" x2="643.2" y2="2076.0"/>
<line x1="842.1" y1="2061.0" x2="842.1" y2="2076.0"/>
<line x1="1040.9" y1="2061.0" x2="1040.9" y2="2076.0"/>
<line x1="1239.8" y1="2061.0" x2="1239.8" y2="2076.0"/>
<line x1="1438.6" y1="2061.0" x2="1438.6" y2="2076.0"/>
<line x1="1637.5" y1="2061.0" x2="1637.5" y2="2076.0"/>
<line x1="1836.3" y1="2061.0" x2="1836.3" y2="2076.0"/>
<line x1="2035.2" y1="2061.0" x2="2035.2" y2="2076.0"/>
</g>
<g class="dj" font-size="64" fill="#111" text-anchor="middle">
<text x="245.5" y="2139.5">0</text>
<text x="444.4" y="2139.5">200</text>
<text x="643.2" y="2139.5">400</text>
<text x="842.1" y="2139.5">600</text>
<text x="1040.9" y="2139.5">800</text>
<text x="1239.8" y="2139.5">1000</text>
<text x="1438.6" y="2139.5">1200</text>
<text x="1637.5" y="2139.5">1400</text>
<text x="1836.3" y="2139.5">1600</text>
<text x="2035.2" y="2139.5">1800</text>
</g>
<text class="dj" x="1164.8" y="2187.4" font-size="47.5" text-anchor="middle" fill="#111">(meters)</text>
</svg></body></html>
